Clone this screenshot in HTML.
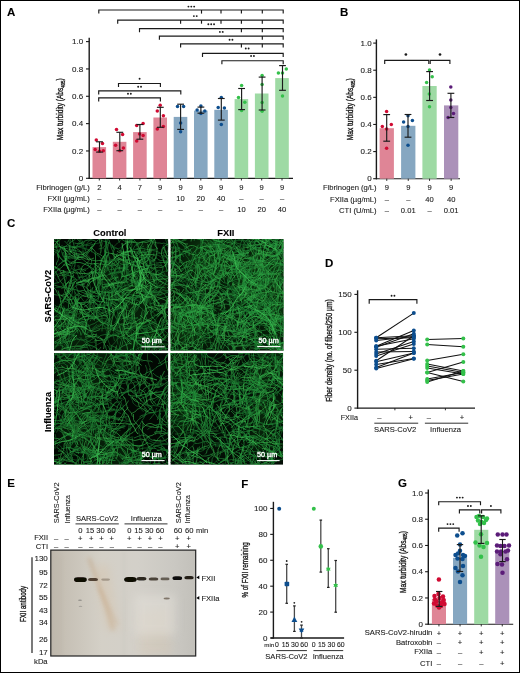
<!DOCTYPE html><html><head><meta charset="utf-8"><style>html,body{margin:0;padding:0;background:#fff;}svg{display:block;} text{font-family:"Liberation Sans", sans-serif; stroke-width:0.1px;}</style></head><body>
<div style="will-change:transform;width:520px;height:673px;">
<svg width="520" height="673" viewBox="0 0 520 673" font-family='"Liberation Sans", sans-serif'>
<rect x="0.00" y="0.00" width="520.00" height="673.00" fill="#fff" />
<text x="7.00" y="15.60" font-size="11.5" text-anchor="start" font-weight="bold" fill="#000" stroke="#000" >A</text>
<line x1="89.20" y1="37.80" x2="89.20" y2="178.90" stroke="#1a1a1a" stroke-width="1.4"/>
<line x1="86.00" y1="178.30" x2="89.20" y2="178.30" stroke="#1a1a1a" stroke-width="1.1"/>
<text x="83.20" y="180.90" font-size="8.0" text-anchor="end" fill="#1a1a1a" stroke="#1a1a1a" >0</text>
<line x1="86.00" y1="150.96" x2="89.20" y2="150.96" stroke="#1a1a1a" stroke-width="1.1"/>
<text x="83.20" y="153.56" font-size="8.0" text-anchor="end" fill="#1a1a1a" stroke="#1a1a1a" >0.2</text>
<line x1="86.00" y1="123.62" x2="89.20" y2="123.62" stroke="#1a1a1a" stroke-width="1.1"/>
<text x="83.20" y="126.22" font-size="8.0" text-anchor="end" fill="#1a1a1a" stroke="#1a1a1a" >0.4</text>
<line x1="86.00" y1="96.28" x2="89.20" y2="96.28" stroke="#1a1a1a" stroke-width="1.1"/>
<text x="83.20" y="98.88" font-size="8.0" text-anchor="end" fill="#1a1a1a" stroke="#1a1a1a" >0.6</text>
<line x1="86.00" y1="68.94" x2="89.20" y2="68.94" stroke="#1a1a1a" stroke-width="1.1"/>
<text x="83.20" y="71.54" font-size="8.0" text-anchor="end" fill="#1a1a1a" stroke="#1a1a1a" >0.8</text>
<line x1="86.00" y1="41.60" x2="89.20" y2="41.60" stroke="#1a1a1a" stroke-width="1.1"/>
<text x="83.20" y="44.20" font-size="8.0" text-anchor="end" fill="#1a1a1a" stroke="#1a1a1a" >1.0</text>
<line x1="88.50" y1="178.30" x2="293.00" y2="178.30" stroke="#1a1a1a" stroke-width="1.2"/>
<text transform="translate(63.00,109.25) rotate(-90)" font-size="8.4" text-anchor="middle" fill="#1a1a1a" stroke="#1a1a1a" textLength="61.9" lengthAdjust="spacingAndGlyphs" style="stroke-width:0.35px">Max turbidity (Abs<tspan font-size="5.6" dy="1.8">405</tspan><tspan dy="-1.8">)</tspan></text>
<rect x="92.50" y="147.10" width="13.60" height="31.20" fill="#df8596" />
<line x1="99.30" y1="178.30" x2="99.30" y2="180.50" stroke="#1a1a1a" stroke-width="0.9"/>
<rect x="112.80" y="141.80" width="13.60" height="36.50" fill="#df8596" />
<line x1="119.60" y1="178.30" x2="119.60" y2="180.50" stroke="#1a1a1a" stroke-width="0.9"/>
<rect x="133.10" y="132.10" width="13.60" height="46.20" fill="#df8596" />
<line x1="139.90" y1="178.30" x2="139.90" y2="180.50" stroke="#1a1a1a" stroke-width="0.9"/>
<rect x="153.40" y="117.50" width="13.60" height="60.80" fill="#df8596" />
<line x1="160.20" y1="178.30" x2="160.20" y2="180.50" stroke="#1a1a1a" stroke-width="0.9"/>
<rect x="173.70" y="116.90" width="13.60" height="61.40" fill="#86a7c1" />
<line x1="180.50" y1="178.30" x2="180.50" y2="180.50" stroke="#1a1a1a" stroke-width="0.9"/>
<rect x="194.00" y="110.60" width="13.60" height="67.70" fill="#86a7c1" />
<line x1="200.80" y1="178.30" x2="200.80" y2="180.50" stroke="#1a1a1a" stroke-width="0.9"/>
<rect x="214.30" y="109.80" width="13.60" height="68.50" fill="#86a7c1" />
<line x1="221.10" y1="178.30" x2="221.10" y2="180.50" stroke="#1a1a1a" stroke-width="0.9"/>
<rect x="234.60" y="99.10" width="13.60" height="79.20" fill="#9edaa4" />
<line x1="241.40" y1="178.30" x2="241.40" y2="180.50" stroke="#1a1a1a" stroke-width="0.9"/>
<rect x="254.90" y="93.50" width="13.60" height="84.80" fill="#9edaa4" />
<line x1="261.70" y1="178.30" x2="261.70" y2="180.50" stroke="#1a1a1a" stroke-width="0.9"/>
<rect x="275.20" y="78.10" width="13.60" height="100.20" fill="#9edaa4" />
<line x1="282.00" y1="178.30" x2="282.00" y2="180.50" stroke="#1a1a1a" stroke-width="0.9"/>
<circle cx="96.30" cy="140.10" r="1.75" fill="#d00a32"/>
<circle cx="102.50" cy="143.50" r="1.75" fill="#d00a32"/>
<circle cx="95.20" cy="149.40" r="1.75" fill="#d00a32"/>
<circle cx="103.30" cy="150.70" r="1.75" fill="#d00a32"/>
<circle cx="99.50" cy="151.30" r="1.75" fill="#d00a32"/>
<line x1="99.50" y1="141.80" x2="99.50" y2="152.10" stroke="#1a1a1a" stroke-width="1.15"/>
<line x1="96.10" y1="141.80" x2="102.90" y2="141.80" stroke="#1a1a1a" stroke-width="1.15"/>
<line x1="96.10" y1="152.10" x2="102.90" y2="152.10" stroke="#1a1a1a" stroke-width="1.15"/>
<circle cx="116.50" cy="129.40" r="1.75" fill="#d00a32"/>
<circle cx="122.60" cy="134.40" r="1.75" fill="#d00a32"/>
<circle cx="115.60" cy="145.30" r="1.75" fill="#d00a32"/>
<circle cx="123.40" cy="147.90" r="1.75" fill="#d00a32"/>
<circle cx="119.80" cy="150.70" r="1.75" fill="#d00a32"/>
<line x1="119.80" y1="132.30" x2="119.80" y2="150.70" stroke="#1a1a1a" stroke-width="1.15"/>
<line x1="116.40" y1="132.30" x2="123.20" y2="132.30" stroke="#1a1a1a" stroke-width="1.15"/>
<line x1="116.40" y1="150.70" x2="123.20" y2="150.70" stroke="#1a1a1a" stroke-width="1.15"/>
<circle cx="136.70" cy="125.60" r="1.75" fill="#d00a32"/>
<circle cx="143.10" cy="123.60" r="1.75" fill="#d00a32"/>
<circle cx="139.60" cy="134.00" r="1.75" fill="#d00a32"/>
<circle cx="143.10" cy="135.50" r="1.75" fill="#d00a32"/>
<circle cx="136.70" cy="140.90" r="1.75" fill="#d00a32"/>
<line x1="139.90" y1="124.50" x2="139.90" y2="139.20" stroke="#1a1a1a" stroke-width="1.15"/>
<line x1="136.50" y1="124.50" x2="143.30" y2="124.50" stroke="#1a1a1a" stroke-width="1.15"/>
<line x1="136.50" y1="139.20" x2="143.30" y2="139.20" stroke="#1a1a1a" stroke-width="1.15"/>
<circle cx="160.20" cy="105.20" r="1.75" fill="#d00a32"/>
<circle cx="157.30" cy="111.00" r="1.75" fill="#d00a32"/>
<circle cx="163.40" cy="115.80" r="1.75" fill="#d00a32"/>
<circle cx="163.40" cy="126.50" r="1.75" fill="#d00a32"/>
<circle cx="157.30" cy="129.00" r="1.75" fill="#d00a32"/>
<line x1="160.30" y1="107.30" x2="160.30" y2="127.30" stroke="#1a1a1a" stroke-width="1.15"/>
<line x1="156.90" y1="107.30" x2="163.70" y2="107.30" stroke="#1a1a1a" stroke-width="1.15"/>
<line x1="156.90" y1="127.30" x2="163.70" y2="127.30" stroke="#1a1a1a" stroke-width="1.15"/>
<circle cx="177.50" cy="106.50" r="1.75" fill="#0d4e8e"/>
<circle cx="183.60" cy="106.50" r="1.75" fill="#0d4e8e"/>
<circle cx="180.60" cy="123.00" r="1.75" fill="#0d4e8e"/>
<circle cx="180.60" cy="131.70" r="1.75" fill="#0d4e8e"/>
<line x1="180.60" y1="104.20" x2="180.60" y2="129.40" stroke="#1a1a1a" stroke-width="1.15"/>
<line x1="177.20" y1="104.20" x2="184.00" y2="104.20" stroke="#1a1a1a" stroke-width="1.15"/>
<line x1="177.20" y1="129.40" x2="184.00" y2="129.40" stroke="#1a1a1a" stroke-width="1.15"/>
<circle cx="200.90" cy="106.00" r="1.75" fill="#0d4e8e"/>
<circle cx="197.10" cy="110.00" r="1.75" fill="#0d4e8e"/>
<circle cx="204.80" cy="111.10" r="1.75" fill="#0d4e8e"/>
<circle cx="200.90" cy="113.50" r="1.75" fill="#0d4e8e"/>
<line x1="200.90" y1="107.10" x2="200.90" y2="113.20" stroke="#1a1a1a" stroke-width="1.15"/>
<line x1="197.50" y1="107.10" x2="204.30" y2="107.10" stroke="#1a1a1a" stroke-width="1.15"/>
<line x1="197.50" y1="113.20" x2="204.30" y2="113.20" stroke="#1a1a1a" stroke-width="1.15"/>
<circle cx="221.30" cy="97.50" r="1.75" fill="#0d4e8e"/>
<circle cx="218.20" cy="107.50" r="1.75" fill="#0d4e8e"/>
<circle cx="224.40" cy="107.90" r="1.75" fill="#0d4e8e"/>
<circle cx="221.30" cy="124.40" r="1.75" fill="#0d4e8e"/>
<line x1="221.30" y1="98.50" x2="221.30" y2="120.10" stroke="#1a1a1a" stroke-width="1.15"/>
<line x1="217.90" y1="98.50" x2="224.70" y2="98.50" stroke="#1a1a1a" stroke-width="1.15"/>
<line x1="217.90" y1="120.10" x2="224.70" y2="120.10" stroke="#1a1a1a" stroke-width="1.15"/>
<circle cx="241.60" cy="85.40" r="1.75" fill="#33c04a"/>
<circle cx="238.50" cy="97.50" r="1.75" fill="#33c04a"/>
<circle cx="244.80" cy="102.30" r="1.75" fill="#33c04a"/>
<circle cx="241.60" cy="110.60" r="1.75" fill="#33c04a"/>
<line x1="241.60" y1="88.50" x2="241.60" y2="109.60" stroke="#1a1a1a" stroke-width="1.15"/>
<line x1="238.20" y1="88.50" x2="245.00" y2="88.50" stroke="#1a1a1a" stroke-width="1.15"/>
<line x1="238.20" y1="109.60" x2="245.00" y2="109.60" stroke="#1a1a1a" stroke-width="1.15"/>
<circle cx="262.10" cy="75.40" r="1.75" fill="#33c04a"/>
<circle cx="262.10" cy="84.40" r="1.75" fill="#33c04a"/>
<circle cx="262.10" cy="102.50" r="1.75" fill="#33c04a"/>
<circle cx="262.10" cy="111.30" r="1.75" fill="#33c04a"/>
<line x1="262.10" y1="77.10" x2="262.10" y2="110.00" stroke="#1a1a1a" stroke-width="1.15"/>
<line x1="258.70" y1="77.10" x2="265.50" y2="77.10" stroke="#1a1a1a" stroke-width="1.15"/>
<line x1="258.70" y1="110.00" x2="265.50" y2="110.00" stroke="#1a1a1a" stroke-width="1.15"/>
<circle cx="286.30" cy="69.00" r="1.75" fill="#33c04a"/>
<circle cx="278.40" cy="72.90" r="1.75" fill="#33c04a"/>
<circle cx="282.50" cy="73.10" r="1.75" fill="#33c04a"/>
<circle cx="282.50" cy="96.00" r="1.75" fill="#33c04a"/>
<line x1="282.50" y1="65.60" x2="282.50" y2="90.30" stroke="#1a1a1a" stroke-width="1.15"/>
<line x1="279.10" y1="65.60" x2="285.90" y2="65.60" stroke="#1a1a1a" stroke-width="1.15"/>
<line x1="279.10" y1="90.30" x2="285.90" y2="90.30" stroke="#1a1a1a" stroke-width="1.15"/>
<path d="M98.80,13.60 V10.00 H283.20 V13.60" fill="none" stroke="#1a1a1a" stroke-width="1.15"/>
<line x1="201.50" y1="10.00" x2="201.50" y2="13.60" stroke="#1a1a1a" stroke-width="1.15"/>
<line x1="221.00" y1="10.00" x2="221.00" y2="13.60" stroke="#1a1a1a" stroke-width="1.15"/>
<line x1="241.40" y1="10.00" x2="241.40" y2="13.60" stroke="#1a1a1a" stroke-width="1.15"/>
<line x1="262.30" y1="10.00" x2="262.30" y2="13.60" stroke="#1a1a1a" stroke-width="1.15"/>
<circle cx="188.45" cy="6.60" r="0.95" fill="#1a1a1a"/>
<circle cx="191.30" cy="6.60" r="0.95" fill="#1a1a1a"/>
<circle cx="194.15" cy="6.60" r="0.95" fill="#1a1a1a"/>
<path d="M117.70,23.70 V20.10 H283.20 V23.70" fill="none" stroke="#1a1a1a" stroke-width="1.15"/>
<line x1="180.60" y1="20.10" x2="180.60" y2="23.70" stroke="#1a1a1a" stroke-width="1.15"/>
<line x1="201.50" y1="20.10" x2="201.50" y2="23.70" stroke="#1a1a1a" stroke-width="1.15"/>
<line x1="221.00" y1="20.10" x2="221.00" y2="23.70" stroke="#1a1a1a" stroke-width="1.15"/>
<line x1="241.40" y1="20.10" x2="241.40" y2="23.70" stroke="#1a1a1a" stroke-width="1.15"/>
<line x1="262.30" y1="20.10" x2="262.30" y2="23.70" stroke="#1a1a1a" stroke-width="1.15"/>
<circle cx="193.88" cy="16.10" r="0.95" fill="#1a1a1a"/>
<circle cx="196.72" cy="16.10" r="0.95" fill="#1a1a1a"/>
<path d="M139.50,32.20 V28.60 H283.20 V32.20" fill="none" stroke="#1a1a1a" stroke-width="1.15"/>
<line x1="241.40" y1="28.60" x2="241.40" y2="32.20" stroke="#1a1a1a" stroke-width="1.15"/>
<line x1="262.30" y1="28.60" x2="262.30" y2="32.20" stroke="#1a1a1a" stroke-width="1.15"/>
<circle cx="208.35" cy="24.30" r="0.95" fill="#1a1a1a"/>
<circle cx="211.20" cy="24.30" r="0.95" fill="#1a1a1a"/>
<circle cx="214.05" cy="24.30" r="0.95" fill="#1a1a1a"/>
<path d="M159.40,39.70 V36.10 H283.20 V39.70" fill="none" stroke="#1a1a1a" stroke-width="1.15"/>
<line x1="262.30" y1="36.10" x2="262.30" y2="39.70" stroke="#1a1a1a" stroke-width="1.15"/>
<circle cx="219.88" cy="31.90" r="0.95" fill="#1a1a1a"/>
<circle cx="222.72" cy="31.90" r="0.95" fill="#1a1a1a"/>
<path d="M180.60,47.40 V43.80 H283.20 V47.40" fill="none" stroke="#1a1a1a" stroke-width="1.15"/>
<line x1="241.40" y1="43.80" x2="241.40" y2="47.40" stroke="#1a1a1a" stroke-width="1.15"/>
<line x1="262.30" y1="43.80" x2="262.30" y2="47.40" stroke="#1a1a1a" stroke-width="1.15"/>
<circle cx="229.57" cy="39.70" r="0.95" fill="#1a1a1a"/>
<circle cx="232.42" cy="39.70" r="0.95" fill="#1a1a1a"/>
<path d="M202.50,56.90 V53.30 H283.20 V56.90" fill="none" stroke="#1a1a1a" stroke-width="1.15"/>
<circle cx="245.77" cy="48.50" r="0.95" fill="#1a1a1a"/>
<circle cx="248.62" cy="48.50" r="0.95" fill="#1a1a1a"/>
<path d="M221.90,64.30 V60.70 H283.20 V64.30" fill="none" stroke="#1a1a1a" stroke-width="1.15"/>
<circle cx="251.07" cy="56.00" r="0.95" fill="#1a1a1a"/>
<circle cx="253.92" cy="56.00" r="0.95" fill="#1a1a1a"/>
<path d="M118.50,87.10 V83.50 H160.40 V87.10" fill="none" stroke="#1a1a1a" stroke-width="1.15"/>
<circle cx="139.60" cy="78.70" r="0.95" fill="#1a1a1a"/>
<path d="M98.70,94.40 V90.80 H180.80 V94.40" fill="none" stroke="#1a1a1a" stroke-width="1.15"/>
<circle cx="138.17" cy="86.70" r="0.95" fill="#1a1a1a"/>
<circle cx="141.02" cy="86.70" r="0.95" fill="#1a1a1a"/>
<path d="M98.70,101.50 V97.90 H160.40 V101.50" fill="none" stroke="#1a1a1a" stroke-width="1.15"/>
<circle cx="127.98" cy="93.70" r="0.95" fill="#1a1a1a"/>
<circle cx="130.83" cy="93.70" r="0.95" fill="#1a1a1a"/>
<text x="89.80" y="189.60" font-size="7.6" text-anchor="end" fill="#1a1a1a" stroke="#1a1a1a" >Fibrinogen (g/L)</text>
<text x="89.80" y="201.00" font-size="7.6" text-anchor="end" fill="#1a1a1a" stroke="#1a1a1a" >FXII (µg/mL)</text>
<text x="89.80" y="212.40" font-size="7.6" text-anchor="end" fill="#1a1a1a" stroke="#1a1a1a" >FXIIa (µg/mL)</text>
<text x="99.30" y="189.60" font-size="7.6" text-anchor="middle" fill="#1a1a1a" stroke="#1a1a1a" >2</text>
<text x="99.30" y="201.00" font-size="7.6" text-anchor="middle" fill="#1a1a1a" stroke="#1a1a1a" >–</text>
<text x="99.30" y="212.40" font-size="7.6" text-anchor="middle" fill="#1a1a1a" stroke="#1a1a1a" >–</text>
<text x="119.60" y="189.60" font-size="7.6" text-anchor="middle" fill="#1a1a1a" stroke="#1a1a1a" >4</text>
<text x="119.60" y="201.00" font-size="7.6" text-anchor="middle" fill="#1a1a1a" stroke="#1a1a1a" >–</text>
<text x="119.60" y="212.40" font-size="7.6" text-anchor="middle" fill="#1a1a1a" stroke="#1a1a1a" >–</text>
<text x="139.90" y="189.60" font-size="7.6" text-anchor="middle" fill="#1a1a1a" stroke="#1a1a1a" >7</text>
<text x="139.90" y="201.00" font-size="7.6" text-anchor="middle" fill="#1a1a1a" stroke="#1a1a1a" >–</text>
<text x="139.90" y="212.40" font-size="7.6" text-anchor="middle" fill="#1a1a1a" stroke="#1a1a1a" >–</text>
<text x="160.20" y="189.60" font-size="7.6" text-anchor="middle" fill="#1a1a1a" stroke="#1a1a1a" >9</text>
<text x="160.20" y="201.00" font-size="7.6" text-anchor="middle" fill="#1a1a1a" stroke="#1a1a1a" >–</text>
<text x="160.20" y="212.40" font-size="7.6" text-anchor="middle" fill="#1a1a1a" stroke="#1a1a1a" >–</text>
<text x="180.50" y="189.60" font-size="7.6" text-anchor="middle" fill="#1a1a1a" stroke="#1a1a1a" >9</text>
<text x="180.50" y="201.00" font-size="7.6" text-anchor="middle" fill="#1a1a1a" stroke="#1a1a1a" >10</text>
<text x="180.50" y="212.40" font-size="7.6" text-anchor="middle" fill="#1a1a1a" stroke="#1a1a1a" >–</text>
<text x="200.80" y="189.60" font-size="7.6" text-anchor="middle" fill="#1a1a1a" stroke="#1a1a1a" >9</text>
<text x="200.80" y="201.00" font-size="7.6" text-anchor="middle" fill="#1a1a1a" stroke="#1a1a1a" >20</text>
<text x="200.80" y="212.40" font-size="7.6" text-anchor="middle" fill="#1a1a1a" stroke="#1a1a1a" >–</text>
<text x="221.10" y="189.60" font-size="7.6" text-anchor="middle" fill="#1a1a1a" stroke="#1a1a1a" >9</text>
<text x="221.10" y="201.00" font-size="7.6" text-anchor="middle" fill="#1a1a1a" stroke="#1a1a1a" >40</text>
<text x="221.10" y="212.40" font-size="7.6" text-anchor="middle" fill="#1a1a1a" stroke="#1a1a1a" >–</text>
<text x="241.40" y="189.60" font-size="7.6" text-anchor="middle" fill="#1a1a1a" stroke="#1a1a1a" >9</text>
<text x="241.40" y="201.00" font-size="7.6" text-anchor="middle" fill="#1a1a1a" stroke="#1a1a1a" >–</text>
<text x="241.40" y="212.40" font-size="7.6" text-anchor="middle" fill="#1a1a1a" stroke="#1a1a1a" >10</text>
<text x="261.70" y="189.60" font-size="7.6" text-anchor="middle" fill="#1a1a1a" stroke="#1a1a1a" >9</text>
<text x="261.70" y="201.00" font-size="7.6" text-anchor="middle" fill="#1a1a1a" stroke="#1a1a1a" >–</text>
<text x="261.70" y="212.40" font-size="7.6" text-anchor="middle" fill="#1a1a1a" stroke="#1a1a1a" >20</text>
<text x="282.00" y="189.60" font-size="7.6" text-anchor="middle" fill="#1a1a1a" stroke="#1a1a1a" >9</text>
<text x="282.00" y="201.00" font-size="7.6" text-anchor="middle" fill="#1a1a1a" stroke="#1a1a1a" >–</text>
<text x="282.00" y="212.40" font-size="7.6" text-anchor="middle" fill="#1a1a1a" stroke="#1a1a1a" >40</text>
<text x="340.00" y="15.60" font-size="11.5" text-anchor="start" font-weight="bold" fill="#000" stroke="#000" >B</text>
<line x1="376.40" y1="39.40" x2="376.40" y2="179.30" stroke="#1a1a1a" stroke-width="1.4"/>
<line x1="373.20" y1="178.70" x2="376.40" y2="178.70" stroke="#1a1a1a" stroke-width="1.1"/>
<text x="371.60" y="181.30" font-size="8.0" text-anchor="end" fill="#1a1a1a" stroke="#1a1a1a" >0</text>
<line x1="373.20" y1="151.58" x2="376.40" y2="151.58" stroke="#1a1a1a" stroke-width="1.1"/>
<text x="371.60" y="154.18" font-size="8.0" text-anchor="end" fill="#1a1a1a" stroke="#1a1a1a" >0.2</text>
<line x1="373.20" y1="124.46" x2="376.40" y2="124.46" stroke="#1a1a1a" stroke-width="1.1"/>
<text x="371.60" y="127.06" font-size="8.0" text-anchor="end" fill="#1a1a1a" stroke="#1a1a1a" >0.4</text>
<line x1="373.20" y1="97.34" x2="376.40" y2="97.34" stroke="#1a1a1a" stroke-width="1.1"/>
<text x="371.60" y="99.94" font-size="8.0" text-anchor="end" fill="#1a1a1a" stroke="#1a1a1a" >0.6</text>
<line x1="373.20" y1="70.22" x2="376.40" y2="70.22" stroke="#1a1a1a" stroke-width="1.1"/>
<text x="371.60" y="72.82" font-size="8.0" text-anchor="end" fill="#1a1a1a" stroke="#1a1a1a" >0.8</text>
<line x1="373.20" y1="43.10" x2="376.40" y2="43.10" stroke="#1a1a1a" stroke-width="1.1"/>
<text x="371.60" y="45.70" font-size="8.0" text-anchor="end" fill="#1a1a1a" stroke="#1a1a1a" >1.0</text>
<line x1="375.90" y1="178.70" x2="460.00" y2="178.70" stroke="#1a1a1a" stroke-width="1.1"/>
<text transform="translate(352.90,109.25) rotate(-90)" font-size="8.4" text-anchor="middle" fill="#1a1a1a" stroke="#1a1a1a" textLength="61.9" lengthAdjust="spacingAndGlyphs" style="stroke-width:0.35px">Max turbidity (Abs<tspan font-size="5.6" dy="1.8">405</tspan><tspan dy="-1.8">)</tspan></text>
<rect x="379.60" y="128.20" width="14.30" height="50.50" fill="#df8596" />
<line x1="386.75" y1="178.70" x2="386.75" y2="180.90" stroke="#1a1a1a" stroke-width="0.9"/>
<rect x="401.10" y="125.80" width="14.30" height="52.90" fill="#86a7c1" />
<line x1="408.25" y1="178.70" x2="408.25" y2="180.90" stroke="#1a1a1a" stroke-width="0.9"/>
<rect x="422.40" y="86.00" width="14.30" height="92.70" fill="#9edaa4" />
<line x1="429.55" y1="178.70" x2="429.55" y2="180.90" stroke="#1a1a1a" stroke-width="0.9"/>
<rect x="444.00" y="105.40" width="14.30" height="73.30" fill="#ab91b9" />
<line x1="451.15" y1="178.70" x2="451.15" y2="180.90" stroke="#1a1a1a" stroke-width="0.9"/>
<circle cx="386.60" cy="111.50" r="1.75" fill="#d00a32"/>
<circle cx="382.30" cy="126.50" r="1.75" fill="#d00a32"/>
<circle cx="391.30" cy="124.50" r="1.75" fill="#d00a32"/>
<circle cx="386.60" cy="129.00" r="1.75" fill="#d00a32"/>
<circle cx="386.60" cy="148.30" r="1.75" fill="#d00a32"/>
<line x1="386.70" y1="114.60" x2="386.70" y2="141.20" stroke="#1a1a1a" stroke-width="1.15"/>
<line x1="383.30" y1="114.60" x2="390.10" y2="114.60" stroke="#1a1a1a" stroke-width="1.15"/>
<line x1="383.30" y1="141.20" x2="390.10" y2="141.20" stroke="#1a1a1a" stroke-width="1.15"/>
<circle cx="408.00" cy="115.80" r="1.75" fill="#0d4e8e"/>
<circle cx="403.60" cy="122.10" r="1.75" fill="#0d4e8e"/>
<circle cx="412.40" cy="120.60" r="1.75" fill="#0d4e8e"/>
<circle cx="408.00" cy="126.50" r="1.75" fill="#0d4e8e"/>
<circle cx="408.00" cy="145.20" r="1.75" fill="#0d4e8e"/>
<line x1="408.00" y1="114.50" x2="408.00" y2="137.20" stroke="#1a1a1a" stroke-width="1.15"/>
<line x1="404.60" y1="114.50" x2="411.40" y2="114.50" stroke="#1a1a1a" stroke-width="1.15"/>
<line x1="404.60" y1="137.20" x2="411.40" y2="137.20" stroke="#1a1a1a" stroke-width="1.15"/>
<circle cx="429.50" cy="69.90" r="1.75" fill="#33c04a"/>
<circle cx="432.20" cy="76.80" r="1.75" fill="#33c04a"/>
<circle cx="426.60" cy="82.50" r="1.75" fill="#33c04a"/>
<circle cx="429.30" cy="94.00" r="1.75" fill="#33c04a"/>
<circle cx="429.50" cy="106.80" r="1.75" fill="#33c04a"/>
<line x1="429.60" y1="71.60" x2="429.60" y2="100.50" stroke="#1a1a1a" stroke-width="1.15"/>
<line x1="426.20" y1="71.60" x2="433.00" y2="71.60" stroke="#1a1a1a" stroke-width="1.15"/>
<line x1="426.20" y1="100.50" x2="433.00" y2="100.50" stroke="#1a1a1a" stroke-width="1.15"/>
<circle cx="450.80" cy="87.00" r="1.75" fill="#5b1c78"/>
<circle cx="450.80" cy="100.00" r="1.75" fill="#5b1c78"/>
<circle cx="450.80" cy="107.60" r="1.75" fill="#5b1c78"/>
<circle cx="453.50" cy="113.60" r="1.75" fill="#5b1c78"/>
<circle cx="448.10" cy="117.50" r="1.75" fill="#5b1c78"/>
<line x1="450.90" y1="93.30" x2="450.90" y2="117.50" stroke="#1a1a1a" stroke-width="1.15"/>
<line x1="447.50" y1="93.30" x2="454.30" y2="93.30" stroke="#1a1a1a" stroke-width="1.15"/>
<line x1="447.50" y1="117.50" x2="454.30" y2="117.50" stroke="#1a1a1a" stroke-width="1.15"/>
<path d="M384.70,64.00 V60.40 H428.80 V64.00" fill="none" stroke="#1a1a1a" stroke-width="1.15"/>
<path d="M430.20,64.00 V60.40 H449.90 V64.00" fill="none" stroke="#1a1a1a" stroke-width="1.15"/>
<circle cx="405.90" cy="54.50" r="1.35" fill="#1a1a1a"/>
<circle cx="440.00" cy="54.50" r="1.35" fill="#1a1a1a"/>
<text x="376.60" y="189.60" font-size="7.6" text-anchor="end" fill="#1a1a1a" stroke="#1a1a1a" >Fibrinogen (g/L)</text>
<text x="376.60" y="201.50" font-size="7.6" text-anchor="end" fill="#1a1a1a" stroke="#1a1a1a" >FXIIa (µg/mL)</text>
<text x="376.60" y="213.40" font-size="7.6" text-anchor="end" fill="#1a1a1a" stroke="#1a1a1a" >CTI (U/mL)</text>
<text x="386.75" y="189.60" font-size="7.6" text-anchor="middle" fill="#1a1a1a" stroke="#1a1a1a" >9</text>
<text x="386.75" y="201.50" font-size="7.6" text-anchor="middle" fill="#1a1a1a" stroke="#1a1a1a" >–</text>
<text x="386.75" y="213.40" font-size="7.6" text-anchor="middle" fill="#1a1a1a" stroke="#1a1a1a" >–</text>
<text x="408.25" y="189.60" font-size="7.6" text-anchor="middle" fill="#1a1a1a" stroke="#1a1a1a" >9</text>
<text x="408.25" y="201.50" font-size="7.6" text-anchor="middle" fill="#1a1a1a" stroke="#1a1a1a" >–</text>
<text x="408.25" y="213.40" font-size="7.6" text-anchor="middle" fill="#1a1a1a" stroke="#1a1a1a" >0.01</text>
<text x="429.55" y="189.60" font-size="7.6" text-anchor="middle" fill="#1a1a1a" stroke="#1a1a1a" >9</text>
<text x="429.55" y="201.50" font-size="7.6" text-anchor="middle" fill="#1a1a1a" stroke="#1a1a1a" >40</text>
<text x="429.55" y="213.40" font-size="7.6" text-anchor="middle" fill="#1a1a1a" stroke="#1a1a1a" >–</text>
<text x="451.15" y="189.60" font-size="7.6" text-anchor="middle" fill="#1a1a1a" stroke="#1a1a1a" >9</text>
<text x="451.15" y="201.50" font-size="7.6" text-anchor="middle" fill="#1a1a1a" stroke="#1a1a1a" >40</text>
<text x="451.15" y="213.40" font-size="7.6" text-anchor="middle" fill="#1a1a1a" stroke="#1a1a1a" >0.01</text>
<text x="7.00" y="226.70" font-size="11.5" text-anchor="start" font-weight="bold" fill="#000" stroke="#000" >C</text>
<text x="109.90" y="235.60" font-size="9.3" text-anchor="middle" font-weight="bold" fill="#000" stroke="#000" >Control</text>
<text x="225.80" y="235.60" font-size="9.3" text-anchor="middle" font-weight="bold" fill="#000" stroke="#000" >FXII</text>
<text transform="translate(50.70,296.10) rotate(-90)" font-size="9.3" text-anchor="middle" font-weight="bold" fill="#000" stroke="#000">SARS-CoV2</text>
<text transform="translate(50.70,411.90) rotate(-90)" font-size="9.3" text-anchor="middle" font-weight="bold" fill="#000" stroke="#000">Influenza</text>
<defs><filter id="fblur" x="-5%" y="-5%" width="110%" height="110%"><feGaussianBlur stdDeviation="0.45"/></filter><filter id="fblur3" x="-20%" y="-20%" width="140%" height="140%"><feGaussianBlur stdDeviation="5"/></filter><filter id="grain" x="0" y="0" width="100%" height="100%"><feTurbulence type="fractalNoise" baseFrequency="0.55" numOctaves="2" seed="3"/><feColorMatrix values="0 0 0 0 0.01  0 0 0 0 0.03  0 0 0 0 0.01  0 0 0 -2.2 1.25"/></filter></defs>
<clipPath id="clip1"><rect x="54" y="239" width="114.3" height="111.8"/></clipPath>
<g clip-path="url(#clip1)">
<rect x="54.00" y="239.00" width="114.30" height="111.80" fill="#020803" />
<g fill="rgb(25,100,30)" opacity="0.25" filter="url(#fblur3)"><circle cx="69" cy="334" r="23"/><circle cx="67" cy="324" r="18"/><circle cx="144" cy="249" r="11"/><circle cx="103" cy="324" r="11"/><circle cx="161" cy="282" r="14"/><circle cx="137" cy="298" r="23"/><circle cx="117" cy="278" r="22"/><circle cx="139" cy="339" r="27"/></g>
<g fill="none" filter="url(#fblur)" transform="scale(0.5)">
<path stroke="rgb(40,153,63)" stroke-opacity="0.9" stroke-width="1.4" d="M224 691l-1 6-1 5 0 5 2 5 0 5 1 6 2 5 2 5 1 5M302 529l-2-4-2-6-3-4-3-5-2-4-4-5M114 506l3 3 2 5 3 4 4 4 4 2 4 2 4 4 5 2M196 609l-5-3-5-1-5 0-5 3-3 3-5 3M308 697l4-3 4-2 3-3 2-5 0-5-1-5-1-4-2-5-3-4-2-4-4-4M305 662l-1-5-2-4-2-4-2-5-3-3-2-4-2-5 0-4 1-5 0-4M276 544l-3 3-3 3-2 3-3 3-2 3-1 4M311 526l5 0 4-1 5 0 4 0 5-1 4-1 5-1 5 0 4 1M260 559l5 2 4 2 4 2 5 2 4 3 3 4 4 4 2 4M274 577l1 4 2 3 2 4 1 4 1 4 0 4-1 3-2 4-2 3-3 3M158 612l2 4 2 5 3 3 4 3 4 3 5 2 4 3 4 3 4 3M309 590l5 0 5 0 5-2 5-1 5-2 5 1 5 2 5 3 3 3 4 4M178 547l5-1 5 0 4-1 5 1 5-1 4 0 4-2 4-4 3-4M212 513l-1-5 0-5 1-4 1-5 2-5 3-4M315 497l-4-4-2-5-4-4-4-4-3-4-4-4-4-4-4-4-3-4M224 533l3 4 2 3 0 5 1 4 0 4 1 4 1 4 3 4M176 588l4 3 4 3 3 4 4 3 5 2 5 0 5 0M188 604l-4 0-4 0-4 1-4-1-4 1-4 0-4 0-4 0-4-2-4-1M214 645l4 3 4 4 4 3 4 3 4 3 5 2 5 1 5 0 5 0 5 1M266 601l3-3 4-2 4-2 4-1 4-2 5-1 4-2M297 674l-4 2-5 1-5 0-4-1-5 0-5 0-5 0-4 2M113 616l-5 4-5 3-3 4-4 4-2 5-3 5-3 5-2 5-3 5M149 535l1-6 0-5 0-5 0-5-1-6-1-5-2-5-3-4M149 486l4 1 4 0 4 0 4-1 3-3 4-2 4-1 4 0 4 0 4 1 4 2M170 570l-5-1-5 0-6 1-4 3-4 4-3 4-4 4-3 5-3 3-5 4-3 4-5 3M96 640l-4-1-4-2-4-1-3-1-4-2-3-3-4-3-3-2-3-3-2-4-3-3M224 489l2 5 2 5-1 6 1 5 0 5 2 6 3 4 4 4M111 488l1 4 1 4 2 4 1 4-1 4 0 4 2 4M172 541l-4-1-4-2-4 0-4 1-4 1-4 2-4 1-4 2-4 1-4 2-3 2M269 483l-5 0-5 1-5-1-5-1-5-3-3-4M340 518l2-4 3-4 1-5 2-5 1-4 0-5 2-5 1-5M239 713l3-3 4-2 3-3 4-1 4-1 4-2 4 1 4 1 4 1 4 0M316 702l4-2 5-2 5 0 5-1 5-2 5-1 4-1M283 476l-4-2-4-1-5-2-4-1-4-1-5-1-3-3-4-3-3-2-4-3-3-3M240 584l3-2 3-2 4-1 4 1 5 0 3-1 5 0 4 0 4-1 4 0M332 479l-2-4-3-4-3-4-2-3-2-4-3-4M133 525l-4 3-3 4-4 4-4 2-4 4-3 4-4 3-3 3-5 2-4 2-5 1-5-1M306 545l2 5 4 4 4 3 4 4 4 3 4 3 5 2 6 2 4 3 4 3M284 574l-3-3-3-3-3-5-2-4-2-4-2-5-2-4-1-5M348 677l-2-5 0-5 0-4 1-5 2-5-1-5 0-5-2-4M279 590l-4 3-5 2-5 1-5 0-5-1-5 0M292 605l-1-5 1-4 1-4-1-5-1-4 1-4 0-5 0-4-1-4-2-4-3-3-5-1M186 488l-3 5-2 5-4 4-3 4-4 4-4 3-6 1-5 1M176 691l4 0 5 1 4 2 4 3 4 2 3 3 2 4M117 483l-5 0-5-1-6 0-5 1-5 2-3 4-3 5-3 5-2 4-1 6-3 4M207 646l4-3 3-5 1-5-2-5-2-5-1-5-3-5M145 468l0 5 0 4 0 5 2 4 1 5 0 4 2 4 2 5 1 4 1 5M221 708l2 5 3 4 3 5 1 5 0 5 1 5 1 5 0 5-2 5 0 6 1 5M186 574l-2 6 0 5-1 5-1 6-1 5 0 6-1 5-2 5-2 5M187 597l1 4 2 4 3 3 3 4 2 4 3 3 4 1M335 581l4 3 2 3 3 3 4 2 4 2 4 0M119 664l2 4 3 4 2 4 1 4 2 5 3 3 3 4 2 4 3 3M152 567l5 1 4 3 5 1 5 2 4 3 4 4 4 3 5 1 5 2M151 508l3 3 3 2 4 1 4 1 4-1 3-3 3-3 2-3 3-3 3-3 3-2M259 544l4-4 2-5 2-5 1-5 2-5 2-5 0-5 3-5 3-4M333 520l-1 4 1 4 1 4-1 4 1 4-1 4M286 523l-4-1-4-1-3-2-3-3-3-3-2-3M159 625l4 1 3 2 5 1 4 0 4 1 3 2 4 1 5 0 4-2M240 527l5 2 5 0 6 0 5-3 4-2 5-1 6-1 5-2 4-2M262 679l4 0 4 2 4 1 5-1 4 2 4 1 4 2 4 2 3 4 3 3M266 551l3-5 2-5 3-4 5-3 5-1 6-1 5-1 6 0 5-2 6 1 5 0 6 1M121 657l1-5 1-5-2-6 1-5 3-5 0-6M264 668l2 4 1 4 1 4 0 4 1 4 0 4-2 4-1 4M162 671l-1-6-2-4-4-4-4-2-5-4-4-2-4-3-3-4-2-5-3-5-1-5-2-5M240 512l5-1 4-3 4-3 4-1 5-1 5 0 5 1 5 0M313 556l-1-5 0-6-1-5-1-5-1-6-1-5-2-5M249 539l-4 3-4 2-5 0-4 2-5 0-4 1-5 2M132 622l3-4 2-3 0-5 1-4 1-4 1-4 1-4 0-4-2-4-4-3M198 538l-4 3-4 2-4 2-4 3-3 3-3 4-3 3-4 2-5 2-4 2-4 2-4 2M139 702l-3-4-2-5 0-5 2-5 2-5 0-5 1-5 0-5M134 624l6 1 5-1 5-3 3-5 2-4 0-6M294 597l-1 5 0 5-2 5 0 5-1 5 0 5-1 5 0 5M186 673l-2-4-2-5-2-4-1-5-2-5-3-3-4-3-4-1-5-1M334 631l5-1 5-2 5-3 5-1 5-3 5-2 5-3 4-4 4-4 3-4 4-4 4-3M112 624l-2-5-3-5-4-4-3-4-3-5-4-3-5-2-5-2M333 655l4-3 5-3 5-1 5-3 6 0 5-2 5-1 5-4 5-2 5-1 5-2 5-4M283 588l4 2 4 3 4 0 5 2 4 1 4 2 3 3 4 3 2 4M135 688l-2-4-2-5-1-4 0-5 0-4-1-5-1-4-1-4 1-5M113 530l0-4 3-5 1-4 0-5-1-5 2-4 2-4 1-5M225 582l0 5 0 5-1 5 1 4-1 5-3 4-1 5-2 5 0 5 1 5M243 595l-1 5-1 5 0 5 0 6 3 4 2 5 1 5 2 5 2 5 2 5 2 4 2 5M146 623l1-5 1-5 3-5 1-5-1-5 0-5M120 504l-4-2-5-2-4-2-5-1-4-2-4-3-3-3-5-2-2-4-4-3M268 589l-3 4-3 3-3 3-2 5-3 3-4 3-4 1M190 593l-4 0-4-1-4-1-4-1-4 0-4 1-3 3-4 2-3 2-3 3M302 678l4-1 3-2 4-2 3-1 4-2 3-3 2-3M225 566l-1 5-1 5 1 5-1 5 0 5 1 5 0 5M227 578l3 3 3 3 4 3 3 3 3 4 2 4M175 639l2-3 2-4 3-3 4-2 3-3 3-3 4-2M115 641l4-2 4-2 3-3 3-2 5-1 3-3 2-4 2-4 4-3 2-3 2-4 1-4M300 608l5-2 4-3 5-2 5-3 5-2 5-1 5-2 6-1 4-3 4-4 4-4M154 560l-4-3-3-3-5-1-4-2-5-1-4 0-5 0-5 1-3 3M214 672l4-4 2-4 1-6 0-5-1-5-1-5-2-5-3-4-4-4-5-3M243 556l1-4 1-5 1-4 1-4 3-3 2-3 2-4 1-4 0-5M232 708l1 5 0 4-2 5-2 5-2 4-3 3-3 4-4 3-5 1-5 0M331 576l-5-1-5-1-5 1-4 2-4 3-4 4M246 584l-1 5 0 4 1 4 0 4 1 4 0 4 0 4-1 4-2 4-3 3-3 3-2 4M210 530l5-1 5 2 4 1 5-1 4-2 3-3 4-3 3-3 4-3 3-3 2-5 1-4M131 593l-5-1-4-2-5 0-4 0-5-1-4-1-5-1-4-1-5-1-4 0M144 620l2-4 2-3 3-4 1-4 0-4 0-5M274 493l-1-5-2-5-4-4-5-2-5-2-5 1-6-1-5 1M173 584l3 4 4 2 3 4 3 4 2 4 4 3M336 671l3-5 2-4 4-3 3-4 4-3 4-3 4-3 4-2 4-4 2-5 3-4M247 503l0 4 2 4 1 4 2 4 2 4 1 4M324 586l-4-2-4 0-5 1-4 0-4 1-5-1-4 1M269 646l-2-4-2-4 1-5-1-4-2-5-2-4M110 637l2 4 2 3 2 4 2 3 2 4 2 3 3 3 2 4 0 4 1 4 0 4M291 585l5-1 4-3 4-4 5-2 6-2 5-2 4-3 4-4M166 644l-5 1-4 1-3 2-4 3-3 3-3 3-3 2-3 3-4 2-2 4M196 600l1-4 0-5-1-4-2-4-1-4 0-5 2-4 2-4 1-4 0-5 1-4 1-5M190 571l0-5 0-6 0-5-2-5-1-5-3-5-3-4-3-4-3-5-4-4-4-3-4-3M135 485l3-5 2-5 4-3 2-6 3-4 2-5 1-5 2-5 1-6 4-4M203 568l4 1 5 0 4-1 4 1 4 2 3 4 1 4 1 4 2 4 1 4 0 5 1 4M206 686l3-5 2-5 2-4 2-5 2-5 4-3 4-2 4-4 4-3M201 675l2 5 4 3 1 5 3 4 1 5 2 4 1 4-1 5-2 5M162 646l-5-1-3-3-4-2-4-2-4-3-4-2-3-2-5-2-4-1M225 713l2-5 4-4 4-4 4-3 4-3 5-3 5-2 5-2 6 1M214 588l3 4 2 4 0 4 2 4 1 5 2 4 1 4 3 4 0 5 1 4 2 4 2 4M186 600l1 5 1 5 2 4 4 3 3 4 4 3 5 3M337 509l4-1 5-3 3-4 1-5 2-4 3-4 2-5M325 666l1-5 2-5 3-4 2-5 3-4 2-4 3-4 4-3 3-5M287 710l5-2 5 2 6-1 5-1 5-2 4-4 3-4M347 599l0 4-1 4 0 4 0 4-2 4-3 3-4 2-4 0M250 530l-2 5-2 5-2 5 0 6-1 5-3 5-3 4-2 5 0 5M151 478l-4 3-5 3-4 3-4 4-4 2-5 2-5-1M237 617l-2-4-2-4-4-4-4-2-4-2-4-3M289 583l-3-3-2-3-3-3-2-4-1-4-2-3 0-4-2-4-3-3-4-1-4-1M253 501l2-5 1-5 2-5 1-5 3-5 3-4 3-4 5-2 5-1 5-3 4-3 5-2M339 567l-3-4-4-3-4-2-4-4-4-2-5-2-4-2M182 612l-1 5-2 4-1 5-1 4 0 5-1 4-2 4-1 5-1 4-2 5-2 4M263 684l-4-3-3-3-4-3-4-3-3-3-2-4-3-4M126 665l1-4 4-4 3-3 4-3 3-4 2-4 3-4 2-5M239 485l-2-5-2-5-2-5-1-6 1-5 3-5 1-5 3-5M340 595l2 5 0 5-1 5 0 6 2 4 1 6 3 4M132 552l-4 3-3 3-4 4-3 3-5 1-5 1M297 683l-2 5 0 6 1 5 0 5 0 5 0 6 3 5 0 5 1 5-1 6 1 5 2 5M285 546l4-4 4-3 3-4 2-5 2-5 4-4 4-2 5-3M329 524l5 1 4 1 5 1 4-1 5 0 4 0 5 1M333 561l-1 4-2 4-3 3-3 3-3 4-2 4-2 4-3 3M118 667l5-2 4 0 5 1 4 2 4 1 4 1 5 1 4 2M240 530l-1 6 1 5 3 5 3 5 5 3 4 3 5 4 4 3 5 2 5 2 6 1M344 532l-2-5-2-4-4-4-2-5-1-5-1-5-2-5-1-5M296 560l2 4 3 4 0 4 0 4 1 5 1 4 1 4 2 4 3 3 3 4 1 4M152 565l5 0 5 0 4-1 4-1 5-2 4-2 4-1M271 646l-2-4-3-3-2-4 0-4 0-4 1-4 0-4 2-4 2-4M186 584l5 2 5 2 5-1 5-1 5-2 5 0 5-3M184 713l3-3 3-3 3-3 3-3 3-3 3-4M156 584l4-2 4-1 4 0 4 2 4 1 4 3 3 2 3 2 5 1 4 0M201 608l-3 2-3 3-3 4-3 2-4 2-4 1-4 3-4 1M243 516l-4 3-5 2-3 3-4 3-4 2-4 3M332 705l4 3 4 3 4 4 3 4 2 4 2 4 3 4 3 4 4 4M254 582l5-1 5-1 4-1 4-2 3-3 3-4 2-4 3-4 1-5 3-3 2-4 4-3M257 549l3 4 3 2 4 2 2 3 2 3 2 4 1 4 1 4 0 4 1 4-1 4M101 530l-2-4-2-4-1-4-2-5-3-3-2-4M311 641l-4-4-3-4-2-5 0-5 1-6 1-5M291 598l-5-3-5-1-4-3-6 0-5 0-5 2-4 3-5 1M282 588l-4-4-3-4-1-4-1-5 1-5 1-4M108 538l-5 0-4 2-3 2-4 3-3 3-3 3M258 540l-5-2-5-2-6 0-5-1-5-3-4-4-5-2-6 0-5-1-6-2M328 646l4-3 4-3 4-3 4-3 3-4 2-4M274 512l3-3 2-3 1-4 0-4 0-4 3-3 2-4 1-4M154 611l-3 4-1 5-3 5-2 5-1 5-2 5M323 608l5 0 5 0 4-2 5 0 5 1 5 0 4 0 5-1"/>
<path stroke="rgb(31,130,52)" stroke-opacity="0.9" stroke-width="1.4" d="M118 630l2 4 4 3 5 1 4 2 3 3 3 4 3 3 4 3 4 2 3 4 2 4 1 4M198 551l-3 4-4 3-4 3-5 2-5 1-4-2-5-2-5 0M240 515l-4 3-4 2-5 1-4 2-5 1-4 0-5 0-4-1M158 471l4 3 5 2 6-1 5 0 6 0 5-1 5 1 5-1 6 1 5 0M141 503l3-3 4-2 3-3 4-1 4-2 4-1 3-3 3-3M243 613l4-1 5 0 4-2 4-3 3-3 4-3 3-2 4-3M156 589l1 4-1 5-1 4-3 4-2 4-3 3-4 2-4 2-4 3M190 640l-3-3-4-3-3-2-4-1-4-1-4-3-3-3-2-3-2-4-2-3-2-4-3-3M255 567l-2-5-1-5 0-5 1-6 0-5-1-5 0-5 1-5 2-5M257 534l-6 0-5 2-5 1-6 0-5 1-5 1-6 0M229 500l-1-4-3-4-3-3-3-3-4-2-5-1-4-1-4-2M293 573l-5-1-5-2-4-3-5-2-4-3-3-5-2-4M271 573l-5-1-6-1-5-1-5 1-5 3-4 3-4 3-4 4-2 5-3 5-1 5M315 623l5-3 4-4 2-4 4-4 4-3 5-1 6 1 5 0 5 0 5 0 5 1 5 3M163 519l-4 0-4-1-4-1-4-1-4 0-5 0-4 0-4 1M203 467l-3 4-1 4-2 4-3 3-3 3-3 4-2 3-2 4-1 4 1 5M268 476l-2-4-1-4-2-4-3-3-2-4-3-4M121 659l-2-3-4-3-3-2-4-2-4-1-3-3-2-3-1-4-1-4 1-4 0-4 0-4M346 601l-4 3-3 3-4 3-5 1-5 0-5 0-5 1M204 663l0-5 1-5 0-4 0-5-1-5 0-5-2-4-3-4-5-2-3-3-5-1M330 530l2 5 2 5 3 3 4 3 4 3 5 2 5 1 5 0 5-1 4-3 4-3M233 643l4 3 3 3 5 2 4 2 4 1 4 2 5 2 4 2 3 3M118 671l-5 1-5 2-4 3-4 3-5 2-3 4-4 4-4 4M250 475l-3-4-3-4-4-4-3-5-4-3-3-4-2-5 0-5-1-5-2-5-2-5-1-5M152 697l4 1 4-1 4-2 4 0 4 0 4-1M249 507l3-4 3-3 3-4 2-5 2-4 1-5 0-5 2-4M151 632l-2-3-3-3-2-3-4-2-4 0-4 1M163 610l4-2 4-2 4-2 3-3 3-3 3-3 2-4M157 657l-3 5-4 4-3 5-3 4-3 5-2 5-2 5 0 6M132 522l-5-1-4-3-3-4-3-4-3-4-5-3-3-4-3-3-3-4-4-3M289 499l1 4 3 4 3 2 3 4 3 2 4 2 3 3 3 3M304 574l-3-4-2-5-3-5-4-3-2-5-4-3-5-3-5-3M244 700l-5 0-6 0-5 0-5 2-6 0-5 1-5-2-6 1M224 545l2 4 2 3 3 4 2 4 3 3 4 2 4 1M123 497l5 0 6 0 5 2 5 1 6 1 5 1 6 2 5 0 5 1M303 510l-4 3-4 3-5 0-5-1-5 0-5 1-4-1-5 1M239 501l4 3 4 2 4 2 3 3 2 4 3 3 3 4 3 3 3 4 4 2 3 3M219 481l-1 4-1 4-1 4-1 4-1 4-1 4-2 3-2 4-3 3-3 3-2 3M100 712l2-5 2-5 4-4 4-3 3-5 2-5M245 634l5 0 5 1 5 1 6 0 5 0 5-1M143 656l-2-5-2-5 0-5 0-5-2-5-3-4-4-4-2-4-4-3-5-2-6-1-4-3M307 472l3-4 2-3 3-3 2-4 2-3 2-4 1-4 2-4 0-4M238 599l-2-4 0-4 1-4 1-4 1-3 1-4 2-4 2-4 2-2 2-4 2-4M252 635l3-5 4-4 4-2 4-4 3-4 2-5 1-6M200 593l-3 2-4 3-3 3-2 3-4 2-3 2M124 504l1 4 2 5 3 3 4 3 3 3 3 4M143 678l-3 3-3 2-4 2-4 0-4 1-4 0-4 0-4 0-4 2M193 667l-2 5-3 4-5 3-4 3-5 2-4 4-3 4-4 3-3 4-3 5-4 3M239 503l3-4 2-5 3-4 4-3 4-2 4-3 4-2 4-3 4-3 5-2 4-3 5-1M265 564l6-1 5-1 5-1 5-3 5-2 4-4 3-4 4-4 4-4 3-4 4-5M278 688l5 2 5 2 5 2 6 1 5-1 6 0 5 1M329 551l-5 1-4 2-4 1-3 3-5 1-4 0-4 1-5 0-4-1-4-3-4-2M274 496l3 3 3 4 2 4 3 3 4 2 3 2 4 3 3 2 4 2 3 3M143 591l1-4 1-5-1-4 1-4 0-5 2-4M128 644l-2 4-3 2-2 4-2 4-2 3-3 3-3 3-3 3-4 2-3 3-2 4 0 4M206 604l-5 0-5-2-4-3-4-2-5-2-4-2-5-2M314 581l-4 1-5 1-4 1-5 0-4 2-4 3-2 3-3 4M335 697l-4-1-5 0-4 0-5 0-4-1-5 1-4-1-5-1-4 0M149 597l-4 2-4 0-4 0-5 0-3-2-4-3-2-3M288 691l5 0 6 0 5-1 6-1 5-2 5-3 5-2 4-4 4-4 5-3M205 564l-3 3-3 4-3 4-4 2-2 4-2 4-3 3-3 4-4 3-2 3-4 3-3 4M252 562l1-4 0-4 2-4 1-4 0-5-1-4 0-4 0-4M140 654l-2 4-3 3-2 3-2 4-1 4-2 4-2 4-3 3-3 3-3 3M227 669l-4 1-5 0-4-1-4 0-5 1-4 1-3 3-3 3M214 646l4-3 3-4 2-4 3-4 2-5 3-4 4-4 3-3M237 519l0 5-1 6-4 4-1 6-3 4-3 5-2 5-3 5M109 686l5-1 5-2 4-3 4-4 4-4 4-2 4-4 4-3 5-2 4-3 3-4 4-4M285 539l4 2 5 1 4 2 4 2 3 3 2 5 1 4-1 5 1 5 1 4M125 578l4-5 3-4 4-3 5-2 5-4 5-1M104 667l-4-4-4-3-4-2-3-4-2-5-3-4-2-5-2-5M204 579l1-4 0-5-1-4 0-4 1-4 0-5 0-4M124 689l1 5-1 4-3 4-3 3-5 2-5 0-4 0M319 582l4 2 4 3 3 3 2 4 3 3 3 3 3 4 1 4 0 5 2 4M124 671l-2 4-3 4-2 5-2 4-3 4-4 3-4 3-5 2-4 3-4 2-5 2M235 565l-4 2-4 1-5 0-4-1-4 1-4 0M276 566l4-2 2-4 1-5 1-5 0-4-1-5-3-4-4-3-4-1-5-1M138 535l-3-3-2-4-2-3-1-4-1-5 0-4-1-4-1-4M111 708l-5-1-5 1-4 3-3 4-2 4-1 5 1 5M218 645l-4 1-4 0-4 2-4 2-3 3-4 1-4 2-3 2-4 2-3 3M244 708l-2 4-4 2-3 3-2 4-2 4 0 4-2 4-1 4-1 4 0 4 0 5M211 592l4-1 4-3 3-3 3-3 1-4 1-5 0-4 0-4M225 598l5 1 4 1 4 2 4 2 5 2 4 2 3 3M254 646l-3-3-2-4-1-5 0-4 0-5 0-4 1-5 1-4 0-5 1-4M200 639l-5 0-5-3-5 0-5 1-5 2-5 3-4 4-2 5M109 588l-4 3-3 2-4 1-3 3-3 2-3 3-4 1-4 2M152 609l-5 2-4 3-4 3-4 2-5 2-4 2-5 2-4 3-4 3-4 3-3 3M102 602l-1-5-2-4-1-5 0-5 0-5 0-5 0-4-2-5-4-4M188 670l-3-5-3-4-3-5-4-4-5-2-5-3-5-1-6-2-5 1-6 1-5 2-6 0M250 610l-3-4-3-4-2-5-2-4-3-5-3-4-2-5-3-4M194 594l3-4 4-3 4-4 2-5 3-5 4-3 5-1 6 1 5 0 5 2 5 1 5 3M248 550l1-4 1-5 3-4 1-5-1-5-1-4-1-5-2-4-3-4-4-2M161 552l-2 4-3 3-3 3-4 2-4 2-4 1M168 603l-3-4-3-4-3-4-2-5-2-4-1-5-2-5M257 657l4-3 4-2 4-3 5-1 4-2 5-1 5 1M245 541l2-4 2-5 2-5 0-5 0-5 1-5 3-4 3-4 3-4 2-5 1-5-1-5M199 673l-4-1-4 0-4 2-4-1-4 2-4 1-3 3-4 1-5 0-4-1-4-1M200 562l3-2 3-3 4-3 3-2 3-3 5-2 3-2 5-1 4 0 4 0 4 2M120 690l4 2 4 2 4 3 4 3 3 4 4 2 4 3 3 4 1 5 1 5 1 5M190 560l-4-3-3-3-4-3-4-2-4-2-3-3-4-3M295 643l-4 1-5 2-3 4-3 4-4 3-4 1M235 506l-2 5-3 5-3 4-2 5-1 5-1 5 0 5-1 5M200 601l4-4 3-4 1-5 1-4 2-5 3-4 4-3 4-4 3-3 3-5 4-3 2-5M343 572l4-3 3-2 4-2 4 0 4-1 4-3 4-1 4-2 3-2 4-1 4-3M341 559l4 3 3 2 4 3 4 1 4 2 3 3M311 677l3-3 4-2 2-3 2-4 1-4 1-4 1-4 2-4 0-4 1-4M151 653l-2-4-1-4 0-5 1-4 0-4 0-5 2-3 3-4 3-2 3-4 2-3 2-5M206 627l0-5 1-6 2-5 2-5 2-5 3-4 5-3 3-5 3-4 3-5 4-4 3-5M279 497l5 0 4 0 5 2 5 0 5 0 4 0 5-1 4-2M346 705l1 4-1 4-1 5-1 4-1 5 1 4 2 4 3 4 3 3 2 4M322 698l1-6-1-5-2-5-2-5-1-5-1-5-3-5M315 603l-3-4-2-3-2-5-3-3-4-2-4-2-4-3-2-4-3-3-4-2-4-2-5-1M169 655l4-2 6-2 4-2 6-2 4-3 5-3 3-4M219 619l0-5-2-4-1-4-2-3-1-5-1-4-1-4-1-4 1-4M269 541l0-4 2-4 2-4 4-3 3-3 3-4 1-4 3-4 3-3 3-4 4-2 4-1M256 569l3-1 4-2 3-3 3-3 3-2 3-3 2-4 2-3 1-4 2-3 3-3 3-3M280 607l-2 4-3 5-4 4-3 4-2 5-2 5-2 5-3 3-3 5-5 3M123 491l4 2 5 0 5 1 4 0 5 0 5-1 4-2 4-3 4-2 3-4M136 641l4 1 4-1 4 0 4-1 4-1 4-1 4-1 3-2M282 604l-4-1-4-3-4 0-4-2-4 1-4 1-5 0M271 678l2 4 3 3 3 3 2 4 1 5 2 4M105 654l5-1 4-1 5-1 5 2 5 0 5 1 5 0 5 2 4 1 5 3 4 2M251 662l5-2 4-3 5-1 5 0 5-1 5 1 5 1 5 0 5-1M210 624l0-5-1-5-1-5 0-6-1-5 0-5-2-5-1-5 0-5 1-6M321 506l-5-2-5-2-6-1-5 1-6 2-5 1-6 0-5 1-5 2M169 632l4 1 4 0 4-1 4 1 4 2 4 1 4 1M214 690l3 3 2 5 2 4 2 5 3 4 2 5 3 4M244 594l2 4 1 5 2 4 3 3 3 4 1 4M199 559l1 4 0 4 2 4 3 3 3 3 4 2 3 3 2 4 2 4 0 4 0 4M220 696l3 4 3 3 2 5 3 3 3 4 2 4M210 625l-4 1-4 2-3 1-4 3-3 2-4 0-4 2-4 1-4 2-4 0-4 0-4-1M241 676l2 3 2 5 0 4-2 4-2 4-1 4-1 4-4 4M114 674l3-3 3-3 4-2 4-2 4-2 4-1 3-3 4-2M180 643l2-4 3-4 1-5 2-5-1-4 0-5-1-5M118 530l3-3 3-2 4-3 3-3 4-3 3-3 5-1 4-2 4-1 5 1 4 0M262 507l1-4 3-4 2-4 2-4 4-3 4-2 4-2 5-1 4-1 5-1 4-1 5-1M248 582l0 4-1 5-1 4 0 5 2 4 3 4 2 4 4 2M143 561l1 5 1 5 1 5 2 4 2 5 3 4 4 3M176 690l-5 2-4 2-4 4-3 4-5 2-4 3-4 3-1 5-2 5-1 5-2 4-3 4M170 668l4 2 4 1 4 2 4 2 3 3 4 2M304 682l-2-4-2-4-3-3-1-4-2-4-1-5-3-3M242 505l4-2 4 0 5 0 4-1 4-2 4 0 5-1 4-1 4-2 4-2 4-2M208 496l1 4 0 4 0 5-1 4-1 4-2 4-2 4-2 3-3 3M270 536l-1 5-2 5-3 5-4 3-4 4-4 4-4 3-5 2M278 535l4 1 4 2 3 3 4 2 4 2 3 3 4 2 5 1 4-1 4-2 5 0 4 1M324 662l-3-3-4-3-4-3-3-2-4-3-4-1-4-3M149 680l-1-5-1-4-1-5-1-5 0-4 2-4 2-5 1-4 2-5 0-4 1-5 0-5M167 570l-3-3-2-4-2-4-2-5-2-4-2-4-3-4-3-3-5-2M347 631l5-3 4-3 5-2 5-2 4-3 3-4 5-2M347 652l4 4 4 4 5 3 5 1 5 4 4 3 6 2 4 3 4 4 5 3M219 568l4 2 3 3 3 3 3 3 3 4 1 4 2 4 2 4M211 482l2 4 0 5 2 4 1 5 1 4 0 5 1 5 1 4 0 5M178 625l-4-1-5-2-5-2-4-3-3-4-2-5 0-5-3-4-1-5-1-5 0-5M340 613l-4 2-5 2-4 0-5 0-4 1-5 1-4 2-4 2-3 4M221 690l4 2 4 2 4 2 3 3 3 2 4 2 4 1 4 0 4-2 5-1 3-3 4-1M345 625l2 4 3 3 2 4 1 4 2 4 3 3 3 2 4 2M311 511l2 5 3 3 5 2 5 0 5 1 4 2 5-1 5 0 5-2 5 0 4 2 5 0M273 497l4 3 4 4 2 4 3 4 3 4 3 4M286 620l-3 5 0 5-1 4-1 5-2 4-1 5 0 4-1 5 0 5-1 5 1 4 1 5M111 496l3-4 1-4 0-5 0-5-1-5-1-5-1-5-2-4-2-4M137 517l-3 2-4 3-5 1-4 3-3 3-3 4-3 3-4 3-4 1-4 3-5 1M125 499l3 3 3 3 3 3 2 4 1 4 3 3M277 653l2 3 2 4 3 3 2 3 4 3 3 2 4 2 4 1 4 0 4-2 3-2M171 502l-2-5-2-4-2-4-3-4-4-4-4-3-2-4-2-4-2-5-3-4-4-3-5-1M241 683l0 5-2 5 0 5 2 5 3 5 2 5 0 5-1 5-2 5-2 5-1 5M197 498l4-1 4-1 4-3 2-4 0-5 0-4-2-5M180 594l2 4 1 4-2 4-2 4-3 3-3 3M147 535l3 4 3 3 4 3 3 3 3 4 2 5 3 3 4 2 4 2 4 3M217 479l2 4 2 6 1 5 2 5 2 5 0 5M128 513l4 0 5 0 4 1 3 2 4 0 4 0M190 526l0 5-2 5-3 4-4 3-3 4-3 3-5 3-5 1-5 1-5-1M302 624l-3-4-2-4-2-4-4-3-4-3-2-4-2-4-4-3-4-2-4-1-4-4M126 617l5 1 3 1 3 3 4 3 3 2 4 2 3 2M264 604l4 3 6 2 4 3 4 4 4 3 4 5M127 471l-4 2-5-1-4 0-5 2-3 3-5 2-4 1-5 0-4-1M110 625l-3-4-3-3-4-3-3-2-4-2-5 0-4-1-5 1-4 3M254 466l4-2 4-1 4-2 4-1 4-2 4-2 4-1M254 686l3-3 4-3 3-3 4-4 4-2 4-2 4-2 4-1 5-2 4-1 4-2 4-3M348 585l-4-1-4-1-4-1-4-1-4-1-4-2-3-2-4-2M132 473l-5 1-5 1-5 2-5 1-4 3-5 2-5 2-5 1-4 2-5 2-5 1M205 632l4-2 4-3 5-2 4-2 4-2 5-2 5-1 4-1 5-1M333 632l-3 4-3 3-1 4-2 4 1 5 1 4 0 4 0 5 1 4 3 4 1 4M284 502l3 3 3 4 4 3 3 3 2 4 2 5 1 4 0 5 2 4M216 587l4-2 5-1 5-3 4-3 3-4 3-4 2-4 4-4 3-4 2-5M128 604l5-2 4-2 5-1 4-2 4-3 3-3 4-3M339 492l-3-3-4-1-4-2-4 1-5-1-4 0-4-1-4-1-4-2-3-3-3-3M183 520l0 5-1 4-2 4-3 3-4 2-4 0-4 2M325 624l-3 2-4 1-4 2-3 3-3 2-3 3-3 3-2 3-2 4M291 611l3-4 1-4 0-5-1-4-1-4-2-4-3-4-2-4-1-5 0-4 2-5 2-4M309 704l0-6 2-4 0-6 0-5 0-5-1-5 1-6M99 636l4-1 5-1 4-1 5 1 5-1 4-1M137 510l3-5 2-5-1-5-1-6 0-5 1-5M153 677l-3 3-4 1-4 2-5 0-4 0-4-1-5 2M272 610l-3-2-3-3-2-3-2-4-2-4-3-3-4-1-4-2-3-2-3-2M129 482l4 4 3 4 4 2 5 1 5 1 5 0 5-1 5-1 4-2 5-1 5-2 5-2"/>
<path stroke="rgb(22,103,40)" stroke-opacity="0.9" stroke-width="1.4" d="M323 592l-5-2-5-2-6 0-5-2-5-1-5-2-6-1-5-3-3-4-3-5-2-5-2-5M245 588l-3 3-4 3-5 1-4 2-3 4-2 4-4 3-5 1-4 3-4 3M130 602l4 3 4 2 5 0 4-1 5-1 4 1M240 521l-2 5-2 4-1 5-2 4-4 4-1 5-3 4-1 5M119 608l1 4 1 4 0 4-1 4 0 4 1 4 1 4 0 4M234 588l-1-6 1-5 2-5 1-5 0-6-1-5-2-5-2-5-1-5 0-6M222 608l-5 0-4 3-6 1-4 2-5 2-5 2-5 2-5 1M310 537l4 4 3 4 4 3 5 2 4 3 5 0 6 0 5-1 5-2 5 0 5 2 5-1M223 491l4 2 4 2 4 2 3 4 4 2 4 2M284 516l-3 3 0 5-2 4-2 4-2 4-1 5 0 4 0 5-1 4M294 640l-3 4-3 4-4 3-4 3-4 3-2 5-3 4-3 4-4 3-3 4-3 4-4 3M315 687l-4-4-4-4-5-2-4-4-2-5-2-5-5-3-4-4-4-3-4-4M348 602l-2 5-2 6-1 5-2 5-1 6 1 5 2 6 1 5 1 5-1 6-3 5M239 599l2-4 3-3 2-5 1-4 2-4 1-4 0-5-1-4 2-4 0-5-1-4M136 676l-4 4-4 4-4 3-5 3-5 2-6 0M328 625l-4-3-3-3-4-2-2-4-3-4-3-4M284 558l-3-4-4-3-4-3-4-2-5 0-4 1-5 2M338 622l3-3 4-4 4-3 4-2 5-1 5-1 5 1 4 1 5 1 5 2 4 3M197 588l2-4 0-5 0-5 0-5 1-4 3-5 4-3M115 651l4-5 2-5 1-5 2-5 1-6 0-5 2-6M149 537l-2 6-3 4-1 6-2 5-3 4-4 4-4 4-4 4-4 4M224 518l-3 3-2 3 0 5-2 3-3 3-3 4-2 3-1 4-1 5 0 4 1 4M286 624l0 5-2 5-2 5 0 5 0 5 2 5 3 5 2 5 3 4 2 4M229 682l-1-4-1-5-1-4 1-4 1-4 2-4 2-4 1-4 1-4 2-4 3-3 4-2M250 633l-4 3-4 3-3 3-4 2-3 3-4 3-4 2-2 4-3 3M155 641l-4-1-4-2-3-2-3-4-3-2-4-2-4 0-4-1M203 643l2 4 3 4 3 3 4 2 5 1 5 1 4-1 5-1 5-2M126 611l3 4 2 5 1 4 3 4 3 5 3 3 2 5 3 4M312 681l-4 1-5 0-5 2-4 2-4 3-4 2-5 2-4 3-4 2-3 4M244 478l-3-4-4-2-4-3-2-4-4-2-3-4-1-4-2-5-3-3-5-2M238 532l-3-2-4-1-4-2-3-2-3-4-1-4-2-3M228 493l4-4 3-3 4-3 3-4 5-2 4-3 3-4 3-3 4-3 5-3 4-2 4-3M338 542l-1-4 0-4 1-4 0-4-1-4-1-3-3-4-3-2-4-1-4-2M169 473l-1-4-1-4-1-4-3-3-1-4-2-3-3-3-1-4-2-4M133 545l-5 1-5 0-5 2-5 1-4 2-4 3-4 3-3 4-2 4 0 5-2 5-2 4M332 532l-2-4-2-4-2-4-2-3-3-4-4-2-4-1M221 630l3-5 4-3 4-3 6-2 5-1 5-1 5-2M335 488l3 5 2 5 3 4 2 5-1 5 1 5 1 5M176 468l5-1 5-1 5-2 5-2 5-1 5-1 6 0 5 0 5 1 5 2 3 4M279 610l-2 4-1 4-2 3-3 3-3 3-2 4-3 3-3 2-4 2-4 0-4 1M342 618l1 5-1 4 0 5-1 5-2 4-3 4-4 3-2 5-2 4-1 5M179 620l4-1 5-1 3-2 4-1 4-2 5-2M315 665l-4 4-2 4-1 5-2 5-2 5-3 4-3 5-1 5M217 668l4 2 4 2 5-1 4 0 5-2 3-3 4-3 2-4 4-3 4-2 4-2M311 631l-3-4-3-3-2-4-1-5 0-4-1-5-1-4-2-5-1-4 0-5-1-4-1-5M252 537l4-3 3-4 4-3 1-5 0-5 0-5 0-5-1-5-2-5M230 512l1 4 1 4 1 5 2 4 0 4 2 4 1 4 0 5M119 681l4 1 5 0 4-2 5-2 3-3 4-3 3-4 3-3 3-4M215 584l3 5 1 5 2 6 3 4 4 4 3 5M184 522l-4-4-1-4-4-4-2-4-2-5 1-5 1-5 1-4 3-4 4-3 2-4M222 694l3-4 4-4 3-4 3-4 5-3 3-4 4-4 5-3 4-3 4-3 5-3M172 559l-4-2-2-3-1-5-1-3-3-4-2-3-2-4-2-4M309 579l2-5 2-4 0-5-1-5-2-5-1-5 0-4M227 704l-4 0-4 0-4 0-4 1-4 0-4 0-4 0-4-1-4 0-4 1M236 654l-2-4-1-4-1-4 1-4 2-4 2-4 2-4-1-5 0-4-1-4-2-4-1-4M290 677l-5-2-5 0-5 0-6-2-5-1-4-3-5-3-5-2-5 0-5-1-4-3-3-5M146 542l1 5 0 5 1 5 0 6 0 5-2 5-2 4-4 4-5 2-5 2-4 3M296 600l-6-1-5-2-5-2-5-1-6 2-4 3-4 4M120 488l-4 3-4 2-5 2-5 0-5-1-5-1M219 560l-1 4-2 3-3 3-3 3-2 3-1 4-2 3-1 4 0 4 0 4 2 4 1 4M185 658l3-2 4-3 3-2 4-1 4-2 4-1 4-2 3-3 3-3M328 519l0-5-1-4 0-4-2-5 1-4 0-4 2-4M164 660l-3-3-3-3-2-4 0-4 0-4 1-4 1-4 2-4 3-3M315 653l6-1 5-1 5-3 5-2 4-3 4-4 4-3 5-2M335 598l-3 5-2 5-2 6 0 5 0 6 1 5 1 6-1 5-2 5M157 586l-4 4-4 3-4 4-2 5-1 6-1 5M260 542l-3 4-4 4-3 4-1 5-2 5-2 5-3 5M319 655l5 2 3 3 4 3 3 3 5 1 4 0 5 0 4-1 5-1 4 1 5-1 4-1M129 626l4 3 4 2 4 0 5 0 4 1 4 2 4 3 4 1 4 1 5 1 4 1M234 624l4 3 4 4 5 2 5 2 6 0 5 1 5 1 6 0 5 2 6 1M212 606l5 0 4-1 5 0 4-3 4-2 4-3 4-3 2-4M158 600l-3-3-3-3-4-1-4-1-4 1-4 2-3 2-4 2M226 576l1 6 1 5 2 5 3 5 3 4 3 5 2 5 2 5 4 4 3 5 2 5M331 622l-4 2-4 1-5 1-4 2-4 3-4 1M163 643l1 5 0 5 2 5 0 5 2 4 3 5 1 5 1 4 1 5 3 4 3 4 2 4M139 511l2-5 3-4 4-3 3-3 3-4 2-5 3-4 1-5 3-4 3-4 4-3M302 572l2-4 4-3 3-4 3-3 3-4 4-3 2-4 1-4 2-5 1-4M279 571l5 0 6 0 5 1 4 4 4 4 4 3 5 2 5 2 5 2M168 489l-1-4-3-4-1-4-2-4-3-4-1-4 0-4 0-5 1-4M312 663l2-4 4-3 2-4 3-4 3-3 3-3 4-2M190 619l1 5 4 4 1 5 2 5 4 3 3 4 2 5 3 4 2 5 2 5 1 5M297 561l-1-6-3-5-2-5-2-5 0-6-2-5M326 676l4 4 4 2 5 4 4 3 3 4 5 2 3 4 5 3 3 5 1 5 0 5 0 6M230 604l0 6 2 5 2 5 1 6-1 5 1 6-2 5-4 4M207 593l1 5 1 5-1 5-3 4-4 3-4 2-4 4-2 4-3 5-3 3M198 557l4 4 4 2 3 3 3 5 1 4 3 4 4 3 5 0M202 549l4-2 4-1 3-3 3-3 1-4 3-3 3-2 4-2 3-3M276 587l-3-5-1-5-2-5-2-5-3-5-2-5-4-4M190 609l6 0 5 1 6 0 5 0 6 0 5 1 5 3 6 2 5 1 6-2 5 1 6-1M279 654l-3 5-1 5-1 6-1 5-3 5-2 5M143 525l-4-2-5-2-4-3-3-4-2-4-1-5-2-5-1-5-2-4 0-5-1-5-3-4M204 588l-4 2-3 2-4 1-3 3-3 3-3 2-4 1-4 1-4 2-3 2-4 2M342 506l-4 0-4-2-4 0-4 2-4 1-5 0-3 1-4 2-4 2M348 531l-3 4-4 4-5 3-5 0-5 2-5 0M173 668l4-3 5-3 5-2 5-2 5-1 6 0 5 0 5-1 6 1 5-2M181 576l-1-5-1-5-2-4-2-4-2-4-3-4-2-5-3-4-3-3-3-4-2-4M277 668l-4-1-4 1-4 2-4 1-4 2-3 3-4 1-5 0-4-1-3-2-4-1M279 704l-4 3-4 3-3 5-3 4-1 5 1 5 3 5 2 5 3 3M229 604l3 3 4 1 3 3 4 2 3 3 3 2 3 2 4 1 4 1M275 714l2-5 1-5-1-5-1-5-3-4-2-4-4-4-2-4-4-3M326 632l-1 4-1 5-1 4 1 5 1 4-1 5-2 4M293 581l-6 2-5 0-5 1-5 2-5 3-6 0-5 0-6-2-5-2M319 709l-3-4-2-5-3-4-2-4-3-4-4-3-5-2-5-1-5 0-6 0-5 0M100 667l5-3 5-3 4-2 5-3 4-3 5-3 4-3 5-2 4-3 3-5 3-4 2-6M257 478l-4-4-4-2-5 0-5-1-5 1-5 1M302 649l3-3 3-3 3-3 2-4 3-3 3-3 2-4 2-4 3-4 1-4M128 688l2 3 3 3 3 3 2 4 2 3 3 3M270 560l-3 3-3 4-1 4-2 3-3 3-3 4-2 3-3 3 0 5M251 527l-3 4-1 5-2 4-3 4-5 2-3 3M168 513l-1-5-1-4 0-5 0-4-2-5-3-3-2-4-3-4M110 532l0 5-2 4 0 5 0 5 1 5 3 3 3 5M286 666l3 2 4 2 4 1 4-1 4-2 3-3 2-3 1-4 1-4 1-4-1-4 0-4M332 474l2 4 2 5 1 5 0 6-1 5-2 5M100 586l2-4 3-3 4-3 5-1 4 0 5-2 3-3 2-4 3-4 1-4 1-5 2-4M291 604l3-4 3-4 2-4 2-4 1-5 1-5 2-4 0-5M289 658l2 5 1 5 2 5 0 6 2 5 2 5 1 5 0 6 1 5 0 5 1 6 2 5M265 648l-4-2-5-2-3-5-1-5-3-4-1-5-3-5-1-4-2-5-2-5M312 643l-4 2-5 1-3 2-3 4-1 4-2 5-2 4-1 4-2 4-4 3M321 540l-5 1-5-1-5-2-5-2-5-3-5-1-4-4-5-2-5-2-5-1-6-1M97 584l-2 5-1 4 0 5-1 5-4 3-2 5-3 4M318 707l2-4 3-5 4-4 4-2 4-3 5-1M262 678l1-4 0-6-1-4 0-5 0-5-1-5 1-5 1-5 1-5 1-5-1-5 0-5M144 679l6-1 5 0 6 1 5 1 5 3 5 3 4 4 5 2 5 2M280 673l6 1 5 0 5-1 5 2 4 3 3 4 3 5 3 4M326 466l1 5 3 4 1 4 2 5 1 5 1 5M170 507l-4 2-4 4-4 3-5 3-3 5-4 4-2 4-2 6-2 4-3 5-1 5M258 550l-3-4-2-5-3-4-2-5-2-5-1-5 1-5 0-5-3-5M301 490l0 5 0 6-2 5-2 5-1 6-1 5-1 5-1 6 1 5 3 5 4 5M328 525l4 1 4 3 2 3 2 4 4 3 3 2 4 2 3 3 2 4M242 468l-6 1-4 2-5 3-5 1-5 0-5-1-5-2-5-1-5 0-5-1M329 550l-3 3-2 5-4 3-3 4-2 4 0 5-1 4M234 566l-5 1-4 1-5 2-5 2-5 0-5 2M285 525l-5 1-6 0-5-1-4-3-6-1-5-1-5-2-3-4-3-5 0-5 0-5M279 522l5 0 5 1 4-1 5-2 4-2 3-4 2-4 1-5M138 665l-4-1-4 2-4 1-4 2-4 2-4 2M345 564l5 2 5 0 5 2 6 0 5 2 4 3 5 2M100 680l-5 2-5 3-4 3-5 3-5 3-5 0-6 0-5-1-5 1-6-2M337 468l3 4 4 5 2 5 4 4 2 5 2 5 3 4M156 680l-2-4-2-3-4-2-3-3-4-2-4-1M222 494l5 1 5 2 5 0 4-1 4-4 3-4M267 542l4 0 5 0 4-1 4-2 4-1 5-1 4-1 3-4 2-4 0-4M159 473l1 5 2 5 3 4 4 3 4 1 5 0 5-2 5-1 5-1 5-1 4-2M194 648l-3 3-3 3-3 2-3 3-4 2-3 3-2 4M266 557l1 5 4 4 4 4 4 4 3 5 3 4 5 3 4 4 4 3 4 4 2 5M268 651l3 2 4 1 4 1 4 1 4 1 4 2 3 2M103 533l0-5 0-6 2-5 2-4 2-5 4-5 4-3 5-1M315 624l-4-3-4-3-3-3-3-4-2-4-2-5-1-4 1-5 1-5 0-5 1-4 1-5M340 561l-3-4-3-4-4-3-2-4-3-5 0-4-1-5-2-4-2-5M169 678l3 2 4 2 3 2 4 1 4-1 4 2M346 593l4 4 4 3 5 3 5 3 4 4 4 2 4 4 4 4 3 4 2 5M341 474l-3-3-4-3-3-4-4-3-4-3-3-3-3-4M170 633l0 4 0 4-1 5-2 3-1 4 1 5-1 4-2 4-1 4M196 601l3 4 2 4 0 5-2 5-1 4-2 5-1 4 0 5M293 495l4-4 4-3 3-4 2-5 4-3 3-4 3-4M287 594l4-3 3-4 5-2 5-2 5 0 5 1 5-1 5-2 5 1 5 2 5 1M224 643l-3-2-4-2-4-1-4-1-4 0-4 0M241 651l1 5-2 5-2 4-1 5-2 5-1 5 1 4 1 5M123 698l5-1 6 1 5 0 5-1 6 1 5 0 5-2 4-4 4-4M238 704l4 3 4 1 5 2 5-1 4 2 4 2 4 3 4 3 3 3 3 4 1 4M281 710l3 4 2 3 5 3 4 1 5 1 4 1 5 1 4 2 4 2 5 0M162 693l-4 0-4 0-4 1-3 3-3 2-2 4-1 4-2 4-2 3-3 3-3 3M159 674l4 4 4 3 3 4 3 4 1 5 3 5 3 3 3 4 4 4 5 1M298 704l4-3 4-4 2-5 1-6 4-4 4-4 5-3 4-3 4-4M207 713l5-4 4-4 3-4 1-6 0-5-2-5-2-5-3-5-1-5 1-6M238 667l-4-2-3-2-2-4-3-3-2-4-2-3-1-4-2-4"/>
<path stroke="rgb(54,175,73)" stroke-opacity="0.9" stroke-width="1.4" d="M284 569l4 1 3 3 3 3 3 2 3 3 2 3 0 4 1 4 1 4 2 4 3 3 2 4M341 706l-1 5-2 5-2 5-1 5 0 5 1 5 3 5 3 4 1 5 4 4M141 573l0-4 1-5 0-4 1-4-1-5-1-4-1-4-2-4-1-4-3-4-2-4M233 712l5 2 4 3 2 5 4 3 2 5 1 5 1 5 0 5M159 652l3 3 2 5 3 4 3 3 5 3 4 1 5-1 5-1 5 1M213 530l-5-1-5-1-4 0-5-1-5 0-5 1-4-1-5-1M237 554l-4 2-5 0-4 2-3 2-5 0-4 0-4-2-4 1-4-2M176 573l2-4 2-3 3-3 3-2 4-2 4-2 4-1M107 666l1-4 2-3 3-3 3-2 3-3 4-2 2-3 4-2 2-4 2-3 2-4M286 707l0 5-1 5 0 5 0 5-2 4-4 3-2 5-4 4-4 2-4 3M284 645l-2 4-2 3-4 2-2 4-1 4-2 4M159 547l3-5 1-5 2-5 4-3 4-3 4-3M277 517l-5-1-3-1-4-2-4-1-4-2-4-1-4 0-4-1-3-2-4-1-4-3M229 600l5-1 4-1 5-3 4-3 3-4 3-3 5-1 5-3 3-4M282 606l-5 3-5 0-6-1-4-3-5-2-5-2-5-3-4-3-4-3-5-4-4-3M299 586l4 4 4 2 4 4 2 5 3 4 1 5 2 5M120 547l4-2 4-1 5 0 4 0 5 2 4 1M203 646l-4-4-3-4-5-4-3-4-4-4-3-5-4-3-3-5-4-3-5-2-6-1-5-1M322 654l-5-3-4-3-5-2-5-4-5-1-5-1-5-3-4-3-4-4M261 699l-3 4-2 5-3 4-5 3-5 1-4 3-5 3-4 3-5 2-5 0M238 630l0 5-2 5-2 5-3 3-4 3-5 1M182 479l-2-5-3-4-3-5-4-4-2-5-3-4-4-4M243 586l4-3 4-2 4-1 5 1 4 0 5-2 4-1 4 0 5-1M201 507l1-5 0-6 1-4 1-5-1-5-2-5-3-4-3-4-4-3-5-2-5 0M263 609l2-4 0-6 1-5 1-5 2-4 4-4 5-2 4-2 5-2 5-1 5-2 5-1M241 673l5 1 4 2 3 2 3 4 3 3 3 3M209 545l-1-4 2-4 1-4 1-4 0-4 0-4 0-4 1-4 2-4M346 605l-4 3-4 2-4 3-4 2-3 4-4 2-4 4-3 3-3 4M325 544l-3 3-4 2-4 0-4 0-4-1-4-2-4-1-4 0-5 0-4 1-4-1-4 1M218 652l-4-3-4-2-5-1-4-2-3-4-3-4M129 678l3-4 2-4 2-5 1-5-1-5 0-5 1-5 2-4 3-5 3-4 3-4M275 572l5 0 4 1 4 3 4 4 2 4 4 3 4 3M277 647l-3 3-1 4 0 5 0 4 0 5 0 4-1 4 1 5 1 4 1 4M315 634l3-4 4-3 3-3 1-5-1-5-1-5M155 564l5 0 5-2 5-2 5 0 5-2 5-2 5 0 6-1 4-3 5-1M163 568l5-1 4-2 4-3 4-3 4-2 5-1 4-1 5-1 5-1 4-2 4-1M159 519l-5-2-3-3-2-4-4-3-3-3-3-4 0-5-1-5M275 581l-3-5-1-5-1-5-2-4-1-5 1-5 2-5M99 697l-4 2-3 3-4 1-4 2-4 1-4 2-4 1-5 0M249 702l-4 3-3 2-3 2-4 1-4 0-4 2-4 1-4-1-3-3-3-3-1-4M338 666l-5 4-3 4-3 4-4 4-5 1-6 1M159 597l-2 3-3 4-1 4 1 4 0 5 0 4 1 4M123 467l-5-2-5-2-5-2-3-5-2-5-3-4-3-4-5-2-4-4-3-4-3-4M123 598l-4-4-2-5-3-4-2-5-4-4-5-2-4-3M206 595l5 2 6 1 5 1 6 0 5 1 5 0 6-1 5-2 5-1 6 1M233 691l-1 5-1 6-1 5 1 6 0 5 3 6M306 634l-5 3-5 3-4 2-5 3-4 4-4 4-3 4-4 4-4 4-3 4-5 3-5 1M250 640l-1 5-2 5-1 6 0 5 1 6 2 5M310 593l0 4-1 4-1 4 1 4 1 4 3 3 2 3 2 4 4 2 3 2 4 1M177 631l-4 2-5 0-3 2-4 2-3 4-1 4-1 4-3 4-2 3-1 4-3 4M339 644l4-2 4-2 4-1 4 1 4-2 4-2M179 605l0-5 2-4 0-5-1-5 1-4 1-5M250 713l5 2 4 2 5 3 4 3 4 3 3 3 5 3 4 2 5 2 4 2 4 3M179 522l-3-3-2-4-4-2-3-3-3-2-2-4-4-3-3-3-3-2-4-1-4-1M314 542l-2 4 0 5 1 5 3 4 4 3 5 1M213 604l1 5 2 4 2 4 1 4 1 5 0 5-1 4-1 5 0 4M191 677l1 4 0 4 0 4 0 4 1 4 0 4 0 4 2 4 0 4M170 653l-5-1-4-3-4-3-4-2-5-2-3-3-4-3-5-2-4-2-5 0M261 503l2 5 4 4 4 3 4 4 4 4 4 3 4 4M211 686l-2-4-3-3-4-2-4-1-4-2-5-1-4 1-5-1-4 0-5 1M131 639l-2-4-3-3-3-3-3-3-4-3-3-2-4-2-4-1-5-2M343 524l3-4 4-3 4-2 5 0 5-2 5 1 5 1M105 677l4-3 4-2 3-3 4-2 5 0 4-2 4-1 5-1 4 1 5-1M200 493l1-4-1-4-1-4 0-4-1-4-2-4-2-3-1-4-3-3M189 543l-5 1-5 2-6 1-5 0-6 0-5-1-6 0-5-2M139 570l-1 4-1 4-1 4-2 3-1 4-2 3-2 4-2 3-1 4 0 4M130 503l2 4 1 5-1 4-1 5 1 4 1 5 2 4 1 4M215 572l4-3 6-2 5-2 5-1 6 2 5-1 5-1 6 0M211 584l-1 5-2 5-1 6-3 4-3 4-2 5-3 5-2 5-1 5-1 5-3 5M324 643l3-3 2-3 1-5 0-4-1-4 0-4 2-4 1-4 2-4 1-5 0-4 1-4M219 712l1 5-1 6-2 5-3 4-4 4-4 3-6 1-5 2M277 524l4-3 4-3 5-2 4-4 3-4 2-5 0-5-2-5-2-5M225 615l1 4 1 4-1 5 0 4-1 4-1 4-1 5 0 4-2 4M257 634l0-5 1-4 2-4 2-4 4-3 2-4 1-4 0-5M168 508l-5 1-5-1-6-1-5-2-4-2-6-1-5 0-5-3-4-3-4-4-2-4-5-3M157 510l-1 4-2 3-2 3-4 3-4 1-3 2M131 543l-4-1-4-1-3-1-3-3-4-2-4-1-4-1-4-1M175 689l-6 1-5 2-6 0-5 0-6 1-5 1-6 1-5 1-5 2-4 4-5 3-3 5M284 587l1 5 0 5 1 5 1 5 3 4 2 4 1 5 1 5 0 4M249 611l1 4 2 4 1 4 0 5 0 4 1 4 2 4M241 648l5 0 4 1 5-1 4-2 5 0 4 0 5 1M281 637l-4 3-4 3-5 2-4 3-2 4-2 5-3 4-3 4-3 3-5 3M256 671l-3-5-3-5-1-5-1-5 0-5 0-6 0-5-3-5-2-5M232 510l3 3 3 3 4 2 3 2 4 2 3 2 4 1 4 2M230 585l4-2 5-1 4-3 5-1 4-1 5-1M197 531l-3 4-2 5-1 5-1 5-1 5-3 4M319 704l3 3 4 2 3 3 3 2 4 2 4 1 5 1 4 0 4 2 3 3 2 3M288 673l2 5 1 5 0 6 0 5-1 5-1 6 0 5-1 5-1 6-2 5-2 5M141 653l2-4 2-4 2-5 0-4 1-4 2-5 0-4 0-4 0-5-1-4M275 604l-3 5-2 5-1 5-2 4-3 5-5 3-4 2-5 3-5 1M104 504l1-5 1-5 3-4 3-4 4-4 4-3 4-3 5-1 5-3 4-3M273 588l0-5 1-4 3-5 2-4 1-5 2-4 1-5-1-4-1-5-3-3M308 523l2-5 2-5 1-5 1-6 0-5-2-5-1-6-1-5-3-4-5-3-4-4-4-4M134 668l1-5 0-5-1-5-3-4-1-5-2-5-2-4-3-5-2-4-3-5-3-3-5-3M154 644l-3 4-3 4-4 4-5 2-4 3-5 2-6 1-5 1-5 2-5 2M240 674l-4-1-4-2-5-1-4 1-5 2-4 2-3 3-4 2-5 0-4 1-5 0-5 1M266 573l-2-5 0-5 0-5 1-5-1-5 1-6 0-5 0-5 1-5 1-5M156 466l2-4 3-4 1-4 4-3 4-2 3-3 4-3M235 474l4-3 5-2 4-3 2-5 0-5-1-5 0-5 2-4 3-4 3-5 2-4M340 527l1-4-1-4-2-4-2-3-3-3-2-4-1-3-2-4-1-4M145 661l-4 3-4 3-4 2-4 3-4 2-4 3-4 2-4 3-4 2-4 3M222 606l4 2 4 3 4 2 5 1 4 2 5 1M209 502l4 3 4 1 5 1 4 0 4 2 5 1 4 0 5 2 4 2 4 2M302 588l4 3 5 1 4 3 5 1 5 2 5 2 4 3 4 3 4 3M312 619l-4-1-4-1-3-2-4-2-3-3-3-3-2-4-1-4M296 695l2-3 2-5 1-4 1-4 1-5 2-4 3-3M299 531l-3 4-1 4-3 4-3 4-1 4-1 5-1 5 0 5-2 4-1 4 0 5 0 5M144 614l-3-5-3-4-2-5 0-5-3-4-2-5-2-5 1-5 1-5 3-5 4-3M178 587l-2-5-2-5 0-5 2-5 1-4 1-5 1-5-1-5M302 641l-4 1-4 1-4 3-4 1-5 0-4 0M334 575l4 0 4-2 5-1 4 0 4 1 5-1 4-1M152 514l5 1 5 0 5 1 5 2 6 1 5-1 5-2M256 527l4 0 4 2 4 1 4 2 5 0 4 1 4 1 4 1 3 3 4 3 3 3M105 589l-1 6-4 4-2 5-1 6 0 5 1 6-1 5-1 6-1 5-2 5-1 6-2 5M259 518l-5 2-5 0-5 0-5-1-5-2-4-3-3-4-4-3M328 635l-1-4-1-4-3-4-4-3-3-3-4-2-5-1-4 0-5 1-4 1-4 2M336 488l-5 3-4 3-3 4-1 6 0 5 2 5 2 5 1 5 3 5 0 5M152 561l-3 4-2 4-3 4-2 4-2 4-3 4-3 3-5 1-4 1-4 2M301 507l1-4 0-4 0-4 1-4 2-4 1-4 2-3 3-3 3-3 3-2 3-4 1-4M105 642l5-2 6-1 5-1 5 1 6-1 5-2 5 0 5-1M176 628l-5-2-3-5-2-5-3-4-3-5-4-3-3-4-3-5M329 509l2 4 3 4 1 3 3 4 3 2 4 2 4 0 4-1 4-2 3-3 3-2M96 651l0-5-1-5 0-5-1-5-2-4-1-5-4-4M290 683l-1 4 2 4 0 4 0 4 0 4 1 5 2 3 2 4M342 624l2-3 0-5 2-4 3-3 1-4 4-3 3-2 3-3 4-3M334 596l0 5-1 4-1 4-1 4-1 4 0 5 0 4 3 4 3 2M200 659l-5 2-5 2-5-1-6-1-4-2-5-2-5-2-5-2-5-1-5-3-5-2M98 494l5 0 6 0 6 0 5-1 5 2 5 3 4 4 3 4 4 4 5 3 5 1M311 568l-2-4-1-4-3-4-1-4-3-4-1-4-1-5-2-3-3-4-3-3-2-4M263 710l4 1 4 2 5 1 4 1 4 0 4 0 4 2 4 2 3 3 3 4M174 631l-4-3-5-2-4-4-4-4-2-5-3-5-2-5-2-5M300 535l6 1 5 0 6-2 5 1 5-2 5-4 3-4 2-5 2-5 3-5 4-4M249 657l5 0 5 0 4-2 4-2 5-2 4-2 4-3 3-3M210 625l4-3 5-1 5-3 4-2 5-2 5-3 3-4 3-4 3-4M206 575l4-1 4-1 4-2 4-1 4-1 4-2 4 0 4-1 3-2 4-2M221 595l3-3 4-2 4-2 4-1 4-2 3-3 3-2 4-3 3-2 4-1 4-2 4-2M146 612l0-4-2-4-2-4-3-3-3-4-2-3M201 551l1-4 3-4 1-5 2-4 2-4 1-5-1-4-1-5-2-4M205 513l-3-3-4-2-4-1-3-3-3-4-3-3-4-2M307 595l-4-2-5 1-4 1-4 2-3 4-4 2-4 2M310 510l-6-1-5 0-6 0-5 1-5 1-5 2M308 673l4 3 4 2 4 3 3 4 4 4 3 4 1 4 2 5M341 535l4-3 2-4 2-5 2-4 3-4 4-2 4-3M254 497l-1-5-1-5 0-5 0-5-1-5-1-5 0-5 2-5 3-4 2-4 4-4 5-1M285 527l5-2 4-3 3-4 2-5-1-6-2-5-1-5 2-5 3-4 2-5 2-5 3-5M254 705l4 4 2 5 1 6 0 5-2 5-1 6 0 5-2 5-1 6M284 508l-1 5 1 4 2 5 1 5 0 5 2 5 2 4 2 5 1 5 3 4M161 608l2 4 0 4 1 5 0 4 1 4 1 5M165 509l4-2 4-3 4-3 3-4 4-3 4-3 2-5M206 547l4 3 3 4 3 3 3 4 3 4 4 3 2 4 2 5M254 604l-1 5-2 5-2 4-4 3-3 3-4 4M158 586l3 3 4 2 4 2 4 0 4 1 4 2 3 3 2 3M217 522l-5 0-5 0-5-1-5 0-5 1-4-1-5-1-4-3-4-3-3-4M335 650l-1-5-2-5 0-5-1-5-1-5-3-4-3-4-2-5-3-4-2-4M110 532l2 4 4 3 3 2 3 4 3 4 1 4M165 569l1 4 2 4 2 4 2 3 2 4 1 5 2 3M346 550l-5 3-4 3-5 2-5 0-5 0-5 1-6 1-4 2-5 2-5 3-4 4M268 625l1 4 0 4 0 4 1 4 2 4 2 4 0 4 0 4 0 4-1 4-1 4-1 4M135 668l-5 1-6 0-5 0-6-1-5-2-5-2-4-3-4-4-5-2-5-3-5-2M216 648l0 4 0 5 0 4 1 4-1 5-2 4 0 4-2 4-3 4-1 4 0 4-1 4M180 561l-4 1-4 0-4 0-4 1-4 1-4 1M301 474l-2-5-3-4-4-4-1-5-2-5-1-5-1-5M339 617l-5-2-5-1-4-2-5 0-5-1-5-1-4-3M246 491l4-4 5-2 6-1 5 1 5 0 6 1 5-1 5-1 6 1 5-2 5-2M330 655l4-2 5 0 4 0 4 0 5 0 4-2 4-2M274 585l4 1 4 2 3 2 4 3 3 1 5 0 4 0M122 688l-2-5 1-6-2-5-2-5-3-5-3-4-4-4-5-2M185 637l5-1 4-1 4-2 4-1 5-1 4 1 4-1"/>
<path stroke="rgb(63,198,85)" stroke-opacity="1" stroke-width="1.5" d="M248 543l0-9 0-8-1-8-1-8 1-8-2-8-1-8M188 468l5-3 5-3 6-4 5-2 7-1 5-2M268 502l3 7 4 6 3 8 2 7 3 7 3 8 1 7 3 8 2 7M226 662l3-7 4-6 3-6 3-6 2-7 4-6 3-6M290 555l-5 6-6 7-5 5-7 6-6 5-6 6-5 6-5 7-6 6-6 6-5 6M256 471l0 7-1 7 0 7 0 7 1 7 1 7 1 7 2 7 3 6 1 7 2 7 2 7M210 606l-4-5-4-7-3-5-4-6-3-7-3-7-2-6-1-7-1-7-2-7M129 617l-3 6-2 6-2 5-3 6-4 5-3 5-4 5-3 5-5 5-5 3-5 3M188 527l6 4 5 5 3 5 2 7 3 5 4 6 4 5 4 6 3 6M301 685l5-6 4-7 3-7 1-8 3-7 3-8 3-7M135 712l2-7 3-8 2-7 2-7 4-7 6-6M275 517l0 8 3 8 2 8 4 7 4 7 6 7 7 4 7 5 7 4M96 610l6 3 4 4 5 4 5 4 5 3 5 3 5 4 5 3 5 4 4 5M289 601l-3-5-3-5-2-6-2-6-1-6 0-7 1-6 1-6 2-6 2-6 3-5M226 625l-6-4-7-4-8-2-7 0-8 1-8 1-7 2-8 1-8-1-7-2-8-3M281 608l4-6 4-6 5-5 4-6 3-6 2-7M260 494l4 8 2 7 3 8 4 7 3 8 2 7 2 9 1 8 0 8 2 8M262 502l-6 1-6 2-6 2-5 3-6 3-5 4-4 4-4 5-5 4-5 4M175 658l-5-3-6-2-6-1-6 1-6 1-6 1-5 2-6 3-5 2-6 2-6 2-6 2"/>
<path stroke="rgb(49,180,73)" stroke-opacity="1" stroke-width="1.5" d="M169 669l2-7 1-6 0-6 0-7-3-6-3-6-3-5-5-4M266 668l6-1 6 0 7 0 6-2 6 0 6-1 6-2 6-2 6-1 7-1 6-1 6-3M297 536l-6 2-7 2-7 2-6 2-7 3-6 3-7 2-7 1M267 706l0-7 0-8 2-7 3-7 2-8 2-7 3-7 5-6 3-7 2-7 4-7 4-6M128 494l2 7 1 7 1 8 0 7 1 7 3 7 3 6M198 560l0-8 0-8 2-8 1-8 2-8 4-7 5-7M328 681l-5-6-5-5-5-5-6-5-6-4-5-5"/>
<path stroke="rgb(31,135,52)" stroke-opacity="1" stroke-width="1.5" d="M183 591l-7-2-8-3-7-3-8-3-7-2-8-1-8-2-8-1-8-2-8-3-6-4M215 473l-1 8-2 8-1 9 0 8-1 8 0 8 3 8 3 8 4 7 4 7 5 7 6 5M220 639l-1-6-1-6-1-6 0-6 0-6 0-6 0-7-1-6M223 585l-7 0-7-1-7-1-6-1-7 1-7-1-7-1M110 542l4 7 3 7 4 7 5 6 4 7 5 6 5 6 5 6 5 6 6 5 7 3"/>
<path stroke="rgb(27,90,36)" stroke-opacity="1" stroke-width="1.5" d="M110 479l-6 5-7 4-7 3-8 3-7 4-8 3-7 3-8 2M310 696l-4 6-4 6-5 5-6 4-7 3-6 2-7 3-6 4-6 3-7 3-7 1M175 578l2 7 2 7 2 7 1 7 3 6 3 7 0 7-1 8-1 7M283 685l-1 8-1 7 1 7-1 8-2 7-2 7-2 7-2 7-1 8 0 7-1 7M312 693l7-3 8-2 8 0 7-1 8 0 8 0 8-2 7-1M163 675l-3 5-4 5-4 5-3 6-2 6-1 6-1 6-2 6-1 7M299 562l2-6 0-7 1-7 1-7 1-7 0-7 1-6M182 699l6-6 7-4 8-4 7-4 6-5 7-4 7-5 7-4"/>
<path stroke="rgb(22,108,40)" stroke-opacity="1" stroke-width="1.5" d="M304 661l-6-4-7-4-7-1-7-4-6-3-7-3-7-3M255 679l5-3 5-4 4-5 4-4 5-4 5-4 5-3 6-2 5-2 6-3 6-1M217 539l-5-7-4-7-5-7-5-6-7-4-7-5-7-4-8-2-8-2-8-3M279 489l-8-4-7-4-7-4-6-5-5-7-4-8-1-8-1-8 1-8 3-8 4-8M311 559l-4-6-4-6-4-6-3-6-3-7-4-5-4-7-4-5-6-5M225 662l-5-7-7-5-5-5-7-5-8-3-7-3-7-4-8-2-8-1-8 1-8 1M261 661l-8 2-8 2-8 2-8 3-8 3-6 4-6 6"/>
<path stroke="rgb(40,157,63)" stroke-opacity="1" stroke-width="1.5" d="M217 508l-3 6-1 6-2 6-3 5-3 6-2 6-1 6-1 6-1 6 0 7M288 693l-7-3-6-4-5-5-6-4-6-5-6-4M256 706l-1-7-1-6-2-6-4-6-1-6-3-6-2-6-2-6-2-7-1-6-1-7M116 581l2 6 1 6 2 7 1 7 1 6 3 6 3 7M135 585l-1-8-2-7-2-7-2-8 0-7-1-8M296 532l-4-6-3-6-1-7-4-6-3-6-4-6-2-7M147 550l-4 7-3 7-2 7 0 8-2 7-4 6-3 7-5 6-4 6-4 7-3 7M202 591l-3-6-2-7-1-8 0-7-1-7-3-7-1-7 0-8 0-7 0-7 0-8-1-7M127 530l6 0 7-2 6-2 7-1 7 0 7 2 6 3 6 3 6 4 5 4 4 5 5 5"/>
</g></g>
<clipPath id="clip2"><rect x="170.4" y="239" width="113.3" height="111.8"/></clipPath>
<g clip-path="url(#clip2)">
<rect x="170.40" y="239.00" width="113.30" height="111.80" fill="#061a08" />
<g fill="rgb(25,100,30)" opacity="0.3" filter="url(#fblur3)"><circle cx="211" cy="258" r="24"/><circle cx="284" cy="310" r="24"/><circle cx="269" cy="280" r="26"/><circle cx="283" cy="289" r="18"/><circle cx="260" cy="279" r="27"/><circle cx="189" cy="323" r="22"/></g>
<g fill="none" filter="url(#fblur)" transform="scale(0.5)">
<path stroke="rgb(31,130,52)" stroke-opacity="0.9" stroke-width="1.4" d="M493 528l-5 1-6-1-4-3-5-3-4-2-4-5-2-4-3-5-3-4-4-3M343 555l5-1 6-1 5-2 4-3 5-3 5-3M361 539l-3-3-4-2-4-2-3-3-2-4-3-4-2-4-4-3-3-3-4-2-5 0M565 647l4-3 5-1 4-2 4-1 5 0 4 0M561 694l1-3 3-3 1-4 3-4 3-2 2-3 4-3 3-1 4-1M502 642l-1 4-2 5-2 3-2 4-3 4-2 4-2 4-2 4M478 600l4-1 4-3 3-3 1-4 1-5 1-4 0-5-1-4M555 644l5-1 4-3 5-1 4-2 4-3 3-3 3-4M470 583l1-4 2-4 2-4 1-4 1-4 0-5-2-4-1-4M486 650l-6-1-5 0-5 2-4 3-5 2-5 0M403 679l-1-4-1-4-1-4-1-4 0-5 0-4M535 496l-2 3-2 4-1 4-3 4-3 3-3 3-2 4-1 5-1 4M410 544l0-5 0-5 0-5-1-5 1-6 2-5 1-5 0-5M476 592l-5 3-5 1-5 1-5 0-5 2-5 1-4 4-4 3-5 1M378 512l1-5-1-4-1-5-2-4-3-3-3-4M488 665l2-5 1-5 1-5-1-5-2-5-1-6 1-5M331 488l2-3 3-3 4-2 4-2 3-3 4-2 4-1 4-1 4-1 3-2 3-4M496 518l5 1 4 1 4 3 4 3 4 2 4 2 4 2 4 3M434 656l1 5 1 5 1 5 0 5 2 5-1 5-1 5 0 5-1 5 0 5M527 580l-3-3-2-4 0-4-1-4-2-3-1-4-1-4 0-4-1-4-2-4M513 634l0-4-1-5-1-5-1-4-2-4-3-4M446 512l-4 3-4 1-4 3-2 4-3 4-2 4-1 5-2 4-1 5-1 4-1 5M579 477l5 1 5 1 4 1 5 2 4 2 4 2 3 4 3 4 0 5M363 612l-3 4-2 5 0 5 1 5 2 5 1 4M511 631l3-3 4-3 5-1 5 0 5 2 4 3 4 2 4 2 5 2 4 3 4 3 4 1M362 534l-3-4-4-3-3-4-1-5 0-5 1-5-1-5 0-5-1-5-2-5-3-4M523 543l0 4-1 4-2 3-3 3-1 4-1 4-3 3-2 4-2 4-1 4M480 512l-1-4 0-4-1-4-2-4-3-2-4-2M389 636l-4-1-4-2-4-1-5-2-4 0-4 2-5 0-4 3-3 2M563 604l-5 1-4 1-4 1-5-1-5 0-4 1-4 1-5-1-5 0-4-1-5-1-3-3M544 600l1-5 0-5-1-4-1-5-2-4 0-5M363 594l-4 3-3 4-3 5-2 4-3 5-3 3-4 4M428 646l1-4 0-4-1-4 0-4-1-4 1-4-1-4-1-4-3-3-1-4-3-3-2-4M341 639l1 4 2 4 1 5-1 5 1 4 2 5M528 517l3-3 4-2 3-3 4-3 3-3 3-3 3-3 3-3 2-4 3-3M486 525l-5 2-5 1-5 2-5 3-5 2-5 1-5 1-5 3-5 2-4 3M371 467l3-3 5-1 4-2 5-1 4-3 2-3M365 662l3 5 2 5 1 5 0 6-1 5-1 6-1 5-2 5M353 566l4-2 2-4 3-3 4-2 4-1 4-2 4-3 3-2M375 497l-2-3-1-4-3-3-4-2-4-1-3-2-3-3M498 568l-1 5 0 4 2 4 2 4 3 3 2 4M475 644l-3-3-3-3-4-2-4-2-4-1-5 0-4 1-4 0-4-2-3-3M420 481l4 2 2 4 2 4 2 4 1 4 2 4 1 4 2 4 3 3 3 3M394 640l3 3 4 2 3 1 5 1 3 2 4 2 4 2 3 2 5 0M510 679l1 4 1 4 1 4 1 4 0 4-1 4-2 4-2 3-3 3-2 3-2 4M484 638l4-4 4-3 3-4 5-3 5-1 5-1 6-1 5 1 5-2 5 0 5 2 6 0M351 513l3 2 4 3 4 2 3 4 3 3 3 3 2 4M366 661l-1-4-1-4-2-3-2-4 0-4-2-4-1-4 1-4 1-4 2-3 3-3 4-2M572 536l-4-3-6-3-5-2-4-3-5-3-5-2M517 668l-4 3-4 3-3 3-2 4-3 4-2 3-3 4-3 3-4 2-4 3-4 2-4 2M418 708l-2 3-1 4 0 4 1 4 1 5-1 4-2 3-2 4-2 4-1 4-1 4 0 4M338 487l4-1 4-1 3-2 4-1 4 1 4-1 4 0 4-1 4-1M488 509l4 4 4 3 5 3 5 1 5 2 6 0 5 0M329 523l6 1 5 2 5 2 5 1 5 3 5 1M512 551l3 4 4 2 4 2 3 2 4 1 4 3M387 658l2 3 2 4 3 3 3 3 3 2 4 1 4 0 4 1 4 0 4 0 4 0M391 634l-2-5 0-4 1-4 1-4 1-5 3-3M574 662l-2-5 0-5-3-4-2-5-3-3-5-2-5-1-5 0-5 2-4 1-5 0-5-1M349 664l-5 1-4 3-4 3-4 2-4 4-5 1-5 1-5-1-4-2M558 634l-4 2-3 3-2 3-2 4-3 3-3 2M340 574l-4-4-4-3-4-3-4-4-4-3-5-4-5-2M405 473l4 4 4 3 3 4 2 5 1 5 1 5 2 5 3 4 4 4M457 683l-4 2-3 4-2 4-2 4-1 4-1 5 1 4-2 5-2 4-3 3-3 4-2 4M552 664l0-5-1-4-1-4-3-4-4-2-4-3-4-1-3-2-5-1-4-1-5-1-4-2M548 614l-1 4 1 5 0 5-1 5-2 5-2 4-2 5-1 5-2 4M403 684l2 5 0 5-2 5-3 4-3 4-3 5-1 5-3 4-2 5-3 5M579 619l-1-5-4-4-4-3-5-1-6-1-5 0-5-2-4-4M460 637l5 2 5 2 6 1 4 3 6 2 5 1M453 659l-2-5-2-5-1-4-3-5-4-3-4-2-4-4-3-3M539 523l-4-4-5-2-3-4-4-4-3-4-1-6-1-5M373 523l0 4 0 5 2 4 1 5 2 4 3 4 3 3 2 4 3 4M570 640l-4-1-4-1-4 0-5-1-3-2-4-1-3-3-3-3M422 597l-2 4 0 5-3 5-1 5-1 4 0 5-1 5 0 5 2 5 1 5-2 5M508 562l3-4 3-3 3-3 3-2 4-1 5 0 4-1 4 1 4 2 3 2 3 3M456 689l0 5 1 4 2 5 0 4 2 5 2 3 5 2 3 4 1 4 2 4 1 5M560 563l-1-4-1-4 1-4 1-4 1-4 1-4 3-3 3-3 3-2 4-2 4 1 4 0M461 472l5 2 6 1 5-2 5-1 4-3 5-3 3-4M477 553l-3-4-2-5-1-5 1-5 1-5 2-4 2-5 1-5 0-5M455 510l1 4 0 4-2 4 0 4-1 4-1 5-1 3-3 4-1 4 0 4M438 628l-1 5 0 5-1 5 0 5 1 5 2 5 2 4 1 5 1 5M346 466l4 0 5 1 4 0 5 0 5 1 4 1 4 2 5 0 4 1M450 565l-1-4-2-4-4-3-3-3-3-3-4-2-4-3-5-2M418 614l-4 1-4 0-4-1-4-1-4 1-4 3-2 3M519 647l4-3 3-2 5-2 4 0 4 1 4 2 3 3 4 3 4 1 4 2 4 1M424 560l-3 4-3 4-3 3-2 5-4 3-4 2-3 4-4 3-2 4-1 5 1 5M534 617l0 5-1 5 0 5 0 5 0 5 0 5 0 5M499 518l4 1 4 1 5 0 4 1 4 0 4 2 4 1 4 2M535 606l-5 2-5 2-5 2-5 1-5 0-6 1-5 1-5 1-5-1M502 692l-2 4-1 5 0 5 2 5 3 3 2 5 3 4M448 582l-1 4-3 4-2 3-2 4-2 4-3 3-1 4-4 3M429 698l-4 3-5 2-5-1-4-1-5-1-5 0M519 607l-4-2-5 0-5 0-5 0-4 2-4 3-2 5-4 3-5 1-3 4M461 649l-4 1-4 3-3 3-5 1-4 1-5 0-4 2-4 0-5 1-4-1M575 693l3-3 3-4 2-4 1-4 0-5 2-4 0-5 0-4M392 626l-2 4-3 3-3 4-2 5 1 5 2 4 0 5 3 4 3 3M334 600l-2-5-1-5 1-6 0-5-1-6-2-5M502 646l-5 0-6-1-4-4-5-1-5-2-5-2-5-2-5-3-6 0-5 1-5 2M570 548l1 5-1 5 0 4 0 5 1 5 3 4 4 4 4 2 2 5 3 4 4 3 3 4M396 706l-2 5 0 6 0 5 3 5 2 6 0 5 0 6M538 496l1-5 0-4 0-5-2-4-2-4-2-3-3-4-4-2-4-1-5 1M432 621l-5-2-3-4-3-4-2-4-2-5-3-4-3-4-1-5-3-4-4-3-4-4-3-3M465 683l2 5 2 5 2 5 3 5 2 5 1 5 2 5 3 5M487 571l-5 2-4 3-5 4-3 4-5 2-5 1-6 0-5 0M443 494l1-4 0-5 0-4 1-4 1-4 2-3 2-4 1-4 2-3 3-4M353 511l-4-2-4-4-4-3-3-4-3-5-3-4-2-5 0-6 2-4 1-6 0-5 1-5M439 649l3-4 2-3 1-5 0-4 2-5 2-4 1-4M424 541l1 4 2 4 3 4 3 2 4 2 4 2 3 3 3 3 4 1 5 1 3 3M514 521l-1 4 2 5 2 4-1 4 0 5-1 4M507 525l1-5 2-5 2-4 3-4 3-4 3-5M417 703l3-4 2-4 0-5-1-4-1-5-1-5 0-5-2-4-2-4 0-5-2-5M412 698l5-1 6 0 5 1 5 3 5 2 6 0 6-1 5-1M511 583l-2 4-2 3-2 4-4 2-3 2-5 2M372 574l1-4 3-5 1-5 2-4 1-5 2-4 2-5M487 500l-4-3-2-4 0-4 1-4 2-4 1-4 3-4 1-4 1-4 1-5M542 630l-2-4-2-4-2-5 0-5 2-4 2-4 3-3 4-4 3-3M480 611l2 4 4 4 4 3 5 2 5 0 5 2M533 656l-2-5-2-5-3-4-3-4-1-5-1-5M393 476l-5 0-5-1-5 1-6-1-5-2-5-2-5 0-6 0M579 593l-4 3-2 3-3 4-2 3 0 5 1 4 1 4 3 3 2 4 1 4M542 710l5-1 3-2 4-1 4-2 4 1 4 1 3 2 4 2 4 1 4 1M561 557l-4 1-5 0-4 1-4 0-4 0-5 1-4 0-4 1M561 556l-5 0-5 1-5 3-3 4-4 3-4 3M453 654l-5 3-4 2-5 2-5 3-5 1-5-1-6 1-5 1-5 1-5-1-5 1-5 3M442 479l0-6-2-5 0-5 0-5 0-5 1-6-2-5-4-4M516 599l-4 0-4-1-4 0-4 1-4 1-4 2-4 1-3 2M474 612l2 4 2 5 1 4 1 5-1 5-1 4-2 5-1 4 0 5 1 5 3 4M482 482l4-3 3-2 3-2 3-3 4-3 3-2 3-2 4-1 4-2 4-2 3-2 3-3M425 687l-3 5-3 4-3 3-3 4-3 4-4 4-3 4-1 5 0 5-1 5M517 691l-2 5-1 4-3 3-4 2-3 4-3 3M518 628l-5-2-4-1-4-2-4-3-3-3-2-4-1-5 0-5 1-4 1-5M498 563l-1-4 0-4 0-4 1-5 1-4 2-4 2-4 2-4 2-3 3-3M458 574l3 4 3 3 2 4 3 3 1 5 0 4M574 468l5 2 4 3 3 4 3 4 1 5 3 4M343 649l0 5 0 6 0 5-2 5 0 6 1 5 1 6 0 5 2 5 1 5-1 6M573 658l-2-5-3-4-4-3-2-4-1-5-3-4M438 594l3-4 4-2 5-2 4-2 4-3 3-4 2-4 2-4 2-4M473 577l1 4 3 4 2 4 4 3 3 3 3 4 2 4M518 602l-5 1-4 3-4 4-4 3-5 3-4 4-5 2-5 3-5 0-5 0M564 530l-2-5-2-4-3-5-4-3-3-2-4-3-4-4M471 524l0 5 2 5 1 5 1 6 2 5 2 4 4 4 4 4 2 5 0 5 1 5M577 667l0-4 0-5-2-4-1-4 0-4 1-4 0-4-1-4 0-5M498 506l-3-3-4-2-4 0-4 1-4 0-4 0-4 2-3 1-4 2M333 492l4 2 5 1 5 1 5 0 5 0 4 2 5 2 5 1 5 0 5 1M511 593l4-2 4-3 3-4 3-4 3-3 4-4 2-3 4-4 4-2 5-1 5-1 4-2M348 599l-4 3-5 0-4-1-5-1-4-1-5-1-4-3-5 0-4 1M415 473l5-2 4-3 4-3 4-3 3-3 4-3 5-2 3-3 3-5 4-3M330 608l-1-5-1-5 1-5 2-5 3-4 3-4 2-4 4-4 2-5 3-4M358 527l1-5 0-5 0-5 0-5 0-5-1-5-2-4-1-5-2-4-3-4M452 554l-3-3-4 0-4-1-4 0-5 1-4-1-3-3-3-2-4-1M474 467l-1-5 0-5 0-6-1-5-2-5-1-5 0-6-1-5M495 674l-1 4-2 3-1 4-2 4-2 3-1 4-1 4M550 516l-1 4 0 4-1 5-1 4-3 3-3 4-3 3M423 530l1 4 1 4 0 4 1 4 1 4 1 4 0 4 0 4M570 607l-3-4-2-4-3-4-1-4-1-4-2-4-3-3-2-4 0-5-2-4-3-4M515 709l-2-5-2-5-1-5 0-5-1-5 0-6 0-5 2-5 3-4 3-5 2-4 1-5M541 713l4 3 4 1 5-1 5 0 4 0 5-1M388 482l2-5 3-4 3-4 2-5 3-3 4-3 3-4 2-5M487 663l0 5-2 4-2 4-4 3-3 3-5 2M489 491l4 1 5 0 5-1 4-2 3-4 3-3 4-2 3-4 4-3 4-1 5-2 4-3M526 511l-3-4 0-5-1-5-1-5-2-4-3-4-1-5M440 518l0-5 0-4 1-4 3-4 2-4 3-3 4-3M544 473l2 4 3 3 2 4 1 4 2 5 2 4 3 3 3 3 5 2 4 0 5 2 4 0M573 542l5-1 6-2 4-3 5-3 4-3 4-3 5-1 5-4 4-3M465 652l4-2 4-2 5-1 4 0 5-1 4-1 5 0 4 3M480 610l-3 3-4 2-4 3-2 3-1 4-1 5 1 4M452 542l3 4 4 3 3 4 2 4 1 5 2 5 1 4 1 5-1 5 0 5 0 5M520 604l4 4 4 3 5 2 3 3 4 3 4 3M443 661l5-1 5 0 6 2 4 2 3 5 5 2 5 1 6 1 5 1 5 2M556 648l2 5 3 4 2 5 1 5 3 5 4 4M500 662l-5 0-5-2-6-2-5 0-5-2-5-2-4-4-5-3-4-3-5-2M538 503l-3-3-3-3-1-4 0-5-2-3-2-4-2-4M407 595l3 3 1 5 3 3 1 5 3 3 2 4 2 4 4 3 2 4 2 4 3 4M524 521l3 4 4 3 2 5 3 4 4 4 3 4 3 4 1 5 3 5 2 4 2 5 1 5M410 526l-3 2-4 3-4 1-5 2-4 2-4 2-4 3-4 1M531 476l3 4 4 3 3 4 1 4 3 4 3 4 2 4M448 472l5 1 4 1 4 3 3 3 4 3 4 2 4 2 4 1M540 504l5 0 4 1 4 3 4 1 5 2 3 3M483 513l0-4 0-5 2-4 1-5 0-4 2-4 3-4 3-3 3-4 4-2 5-1 4-3M548 524l4 1 5 2 5 1 5 0 5-1 5-1 4-1 5-3 3-4M380 499l2 4 3 4 1 4 2 3 2 4 2 4 2 4 1 4 0 4-1 4M488 592l5 3 5 2 4 3 4 5 4 2 5 3 4 3 5 3 4 3 5 3 4 3M478 544l2-5 4-3 4-2 5 0 5-1 5 0 5 2 5 1M373 608l-1-5-2-4-3-4-4-3-2-4-2-5-1-5M523 505l4 3 5 1 5 3 6 1 5-1 5-2 4-4 3-5 4-3 5-2 6 0M505 578l-4-1-4-1-4-2-4-1-4-1-4 1-3 2-4 1-4 0-5 0M478 548l5 2 3 4 3 4 2 5 0 5 0 5 0 5 1 5 4 4 2 5 2 4 1 5M332 502l-4 2-4 3-2 4-1 5 0 4 0 5-1 4-1 5-1 5-1 4-3 4-2 4M539 691l-2-4-2-4-3-3-3-1-4 0-4 0-4-1-4-2-4-2-3-1M329 487l0-5 1-4 1-4 1-4 1-4 2-3M526 551l-1 4-1 4 0 5-1 4-2 4-2 4-3 3M574 495l-3-5-3-4-4-4-5-2-5-2-5-1-6-1-5-2M492 543l1 5 0 5-1 4-2 4-1 5 1 5M565 512l-2-5-3-4-4-3-4-2-4-3-4-3-2-4-4-2M548 581l-3 4-2 4-3 5-3 4-4 3-3 4-5 2M564 488l3 4 2 5 2 4 3 4 3 4 3 4M489 627l-2-3-2-4-2-3-2-4-3-3-4-2M579 647l2 4 3 4 4 4 4 2 3 4 2 4 3 4 3 3 4 3 4 2 4 4M568 648l-4 3-3 5-4 4-4 3-5 3-6 1-5 3-5 0-6 0M522 690l-4-1-3-3-4-1-4-1-4 0-4 1-4 2-3 3-4 2M496 486l5 2 4 5 2 4 1 6 0 5-2 5-2 5M457 599l-1-5-1-5 1-5-1-5 1-5-1-5 0-5 1-5 4-4 4-3M543 681l5 1 5 1 5 1 5 1 5 2 5 0 5 1 5-1M497 482l-2 5 0 4 0 4 1 4 0 5-1 4 1 4M539 632l0-5 1-5-1-6 0-5 0-5 1-5 1-5M448 652l-1 4-3 3-1 3-2 4-1 4-2 4-1 4-1 4 0 4M483 522l-4-1-5-2-3-3-4-3-1-5-1-4-2-5-3-3-4-2M345 669l0 5-2 4-1 4-3 4-1 4-2 5M507 649l0 4 0 5 1 4 0 5 2 4 1 5 1 4 1 5 0 4 2 4 3 4M335 488l-4-2-4-2-3-3-3-3-4-3-4-2-3-3-3-3-2-4M406 659l-4 2-5 2-4 3-4 2-5 3-3 3-5 3-4 3-3 3-4 3M376 531l2-3 3-4 2-4 2-4 1-4 1-5 2-4M502 628l5 0 6 1 5-1 6-1 5 1 6 0 5-3 4-3 3-5M433 588l-2 3-2 4-2 3 0 4 0 4 0 5-1 4-2 3-2 3-2 4M505 545l-4 3-5 0-5 3-5 2-4 3-4 2-6 1-4 1-5 3-5 0M357 586l4 3 5 1 4 1 5 2 3 3 4 2M375 672l0 5 3 5 3 5 4 3 4 4 4 5 3 4 4 4 4 4 4 3M555 522l1-4 1-4 2-4 1-5 2-4 2-3 1-4 0-5 0-4 0-5 1-4M481 629l4-2 3-2 3-4 2-3 4-3 4-2 4-2 3-2M551 483l-1-4-1-5-1-4-3-3-3-3-3-3M485 652l4 0 4 0 4 0 4-1 3-2 4 0 4 1 4 0 4 1M473 547l5-1 4-3 4-2 5-2 4 0 5-1 4-2 4-3 5-2M457 516l3 5 4 4 5 2 5 0 5 3 4 4 3 4 4 4M400 495l5 1 6 2 4 3 5 3 5 3 4 3M540 484l-4 1-4 1-5-1-4-1-4-2-5 1-4 0-4 1-5 0M332 624l5-1 5-1 5 0 5 0 5-1 5-2M478 667l-5 1-4 4-3 4-1 5-1 5 0 5 1 5 3 5 4 3 2 5 2 5 2 4M538 654l-5-2-5-1-4-1-5-3-5 0-5-2-5-2-5-2-3-4-5-2M525 641l-5 1-5-1-5-2-4-3-4-4-2-5-3-4-5-3-4-2M473 526l4 3 4 2 3 3 4 3 3 3 3 4M398 489l-3 3-2 4-1 4-1 4 1 5 2 3 4 3 4 1 4 1M547 546l-4-3-4-3-3-3-1-5-3-4-4-3M529 678l3 2 3 3 2 4 1 4 1 3 2 4 2 4 3 2 4 2 4 0 4 0 4 0M463 605l4 1 4 2 4 1 4 2 4 3 3 3 4 2 5 1 3 2 5 2 4 1M415 616l1 5 3 5 4 3 3 4 5 3 4 1 6 0M422 634l-4 3-5 1-4 0-5 0-4-2-5 1-5 0-4-1-4-1-4-3M346 565l-1 4 0 5-2 5-3 4-4 2-5 1-5 0-5-1-5-1-5-1-4-3-5 0M579 506l0 5 2 4 1 5 2 5 2 4 4 3 4 3 4 2 4 3M421 584l1-5 1-4 0-5 2-4-1-5 0-5-2-4-2-5 0-4 1-5 2-5M408 660l4-3 3-3 4-3 4-3 4-3 4-2 4-3 4-1M451 616l-4 4-3 4-2 4-3 5-2 5-2 4-1 5-2 5 0 5 0 5M516 708l-1 4-1 5 1 5 1 4 0 5-3 4-1 4M569 667l-2-4-1-6 0-5 2-5 0-5 3-5 3-4 1-5M358 546l3-3 4-3 4-3 3-2 4-3 3-3 4-3 3-3 2-4M428 574l-3 3-4 1-5 0-4-1-4-1-5 0-4-1-4-1-4-2-3-3-4-2-3-3M417 508l1-5 3-4 4-2 4-3 4-1 5 0 4 1 5-1 5 0 4-1 5 1M521 575l-2-4-4-3-4-2-4-2-4-2-3-4-4-3-4-1-5 0-4 0-4-2-5 0M506 642l-5 1-4 4-2 4-4 4-2 5-3 4-3 4-3 4-2 5M350 577l-1-5-1-5 0-6 0-5-1-5-1-5-3-4-2-5M579 657l5 0 6 1 5 0 6-1 5 0 5 0 6-1 4-2 5-2M395 702l1 6-1 5 1 5 0 6-2 5 0 5-1 6-3 4-2 5M528 471l-4 3-5 2-5 0-5 0-5 1-5 1-4 2-4 4M447 481l-6 1-5 1-5 2-5 1-6 0-5 1M509 689l2 5 1 4 3 3 3 3 4 3 5 1 4 1 4 2 4 2 5 1 4 2M369 601l4-2 4-1 4-1 3-3 4-3 4-1 5 1 4 0 4 1"/>
<path stroke="rgb(22,103,40)" stroke-opacity="0.9" stroke-width="1.4" d="M549 619l-6-1-6 0-5 0-6-1-5-2-5 0-6 0-5 1M525 551l2-4 1-4 0-4 2-4 2-4 3-2 3-4 1-4 3-3 3-2 3-3M393 571l5-1 4-2 4-2 3-4 1-4 2-4M422 471l3 3 2 4 0 4 3 4 1 4 2 4 1 4 0 4M348 653l-5-1-5 0-5-2-5 0-5 1-5 0-5 1-5 2-5 2M428 505l-4-3-4-4-3-4-4-3-4-3-3-4-4-3-4-3-5-1-6 1-4-1M473 502l4 2 4 1 5 0 4-2 4-2 5-1 4-2 5-1 4-1 4-2M429 670l4-3 5-1 5 0 4 1 4 2 4 4 2 4 0 5 2 4 0 5M497 489l-4-5-4-2-5-2-6 1-5 0-5 0M458 491l-5 1-4 1-5 1-5 1-4 3-2 4-3 4-2 5 0 4 1 5 2 4 3 4M531 688l3-1 4-1 4-1 4 1 4 0 4-1M502 591l-4 4-2 5-3 4-4 3-5 2-5 1-5 2M531 684l4 0 4 0 4 2 4 3 2 4 3 3M378 603l4-1 4-1 4-2 4-1 4-1 4-1 4-2 4-1 4-2 4 0 4-2M388 579l4 1 4 0 4-2 4 0 4-1 4-2 3-2M422 492l-1 6 0 5-3 5 0 6 1 5 0 6 1 5M535 590l-1 4-3 4-2 3-4 3-2 3-2 4-2 4-3 2M520 480l5 0 5-1 5 2 4 2 4 3 4 2 3 5 1 4 0 5 1 5M539 485l-5-1-5 0-5 2-5 3-5 2-3 4-3 4-2 5-2 5-3 5-4 3-2 5M508 601l1 4 0 5 1 5-1 5-1 5-2 4-1 5M381 674l2 4 2 4 3 4 3 3 3 3 4 3M349 643l-3-3-4-1-4-2-4-1-4-1-4 0-4-2-3-3M556 664l3 2 4 1 4 1 3 2 4 2 4 2 3 2 2 4 2 3 2 3M346 578l-4-1-5 0-5 0-4 0-5 1-5 1-4-1-5-2-5 0-4-1-5-1-3-3M410 610l0-5 1-5 1-5 2-5 3-4 3-5 1-5 0-5-2-5-2-5M406 482l1-5 1-5-2-5-1-5-3-4-2-5-1-5 2-5 2-5M466 633l-1 4-2 5-4 3-4 2-4 3-4 3-4 1-4 3-4 2-5 0-4 2-4 3M575 622l-1 4 1 5 2 4 0 4-1 5-2 4-2 3-2 5M342 528l3-3 2-4 4-3 4-2 2-4 3-4 4-2 3-3 2-4 1-5M500 581l-4-3-3-4-4-3-2-5-2-5-1-5 0-5-1-5 0-6-1-5M557 656l-3-2-3-4-4-3-2-3-2-4-1-5M332 638l-3-4-2-4 0-5-2-5-1-5-1-5-1-5-3-4-2-4-1-5 0-5M471 648l3 5 2 5 1 5-1 6 1 5 0 6-1 5-1 5M469 634l-4-3-4-2-4-3-3-4-5-2-3-4-4-3-3-4M558 523l-3 3-3 4-2 4-3 4-1 5-4 3M579 509l-4-3-3-5-3-4-4-4-4-3-5-2-4-2-4-4-5-2-3-4-4-4-5-3M374 614l1-5 3-4 1-5 3-4 3-4 3-3 4-3 3-3M424 626l-3 4-3 4-2 4-1 5 0 5 0 5 1 5 0 5M435 494l4 2 3 4 5 2 4 3 4 1 5 0 5-1 4-1 5-1 5 0 4 0 5-2M540 496l1-5 3-4 4-3 4-3 3-3 5-2 4-2 4-3 3-4 4-3M407 583l3-3 3-4 2-3 4-3 3-3 3-4M523 471l-5 2-4 4-4 4-4 4-4 4-5 2-5 3-5 2-5 3-4 3-5 3-6 0M556 705l2-5 3-4 0-5 1-4-1-5-2-4-3-4-2-4-4-4-4-3-2-4M406 694l-5 2-4 2-4 3-4 4-5 2-4 3-4 4-3 4-4 4M545 484l2-3 1-4 1-4 0-4 1-4 1-4M494 555l2 4 3 4 3 3 4 2 5 1 4-1 5 0 4 0 5 0 5 0M532 555l1 4 0 5-1 4-3 4-3 3-4 3-2 4-2 3M508 537l3-4 3-5 2-4 4-3 4-4 4-2 4-4 4-3 4-4 4-2 5-2M577 550l-4 2-5 2-5 2-5 1-4 2-4 3M484 596l4-1 4 0 5-1 4 0 4-1 5 0 4-2 4-1 5-1 4 0 4 1M358 641l-1 5-3 4-3 5-4 4-3 5-2 4-5 4M354 625l-4 3-4 3-4 2-3 3-3 4-3 4-4 2M508 649l2 4 4 3 3 3 3 4 3 3 3 3 4 2 4 2 5 0 4 0 5-1M479 527l-5 0-4 3-4 3-5 2-5 2-4 3-4 3-3 4-3 4-1 5-2 5-3 4M436 471l2 4 0 4 1 5 1 4 1 4-1 4-1 5 0 4M373 581l-1 4 0 5 1 4 0 4 1 5 0 4-1 4-2 5M509 589l-3 3-2 4-3 3-4 2-4 1-4 3-3 3-1 4-2 4-3 4-1 4M380 646l-1-4 0-4 0-4-2-4-1-4-1-4M489 511l3 2 5 2 4 0 4 2 4 1 4 1 4 2 5 1 4 1 4 2 4 2M556 603l-2-4-2-4-3-3-3-4-4-2-4-3-3-4-3-4-3-3-3-4-3-4-2-4M353 617l3-4 3-4 5-1 3-4 4-3 3-4 4-3 2-4 1-5 1-5 1-4 0-5M441 510l-3 3-4 3-4 2-3 3-3 3-1 5-3 3-2 4-2 4-2 4M457 685l-5 0-5-1-4 1-5-1-4-2-4-3-3-4-3-3-5-1-5 0M422 634l4-2 4-1 3-2 4-1 4-2 4 0 4-1 4-1 4 1M537 656l2 5 0 6 2 5 1 5 2 5 3 5M367 540l-4 1-4 2-4 1-4 2-3 2-3 3-4 1-4 1M370 699l-4 0-4 1-4 0-5-2-4 0-4 0M390 691l2 5 3 5 5 2 3 4 5 4 3 4 4 4M417 546l-4-4-5-2-4-2-4-3-3-4-2-4-2-5M420 675l-1-4-1-4-1-4 0-4 0-4-2-4M480 551l4 2 5 0 5-2 4-3 4-2 2-5M444 512l-2 5-3 5-3 4-5 3-3 4-4 5-4 3-5 3-3 5-2 5-3 4M574 515l-3-5-1-5 1-5 2-4 0-5 0-5-1-5-1-5-2-4-3-4-3-4M454 559l2 5 1 5 3 5 2 5 3 5 2 5 2 6 2 5 2 5 1 5 2 6M434 623l-4-3-4-2-4-2-4-3-3-3-3-4-4-3-3-3-4-3-4-2-2-5M456 469l5 3 2 5 1 5 1 5 3 5 1 5 3 5M455 569l5 3 4 3 3 5 1 5 3 4 3 5 1 5 0 5M543 626l-4-3-3-4-5-2-4-4-5-2-4-4-5-3-3-4M429 516l-5-3-4-4-5-3-5-1-5 0-6-1M387 604l2 4 1 5-2 4-1 5-1 5 0 4 0 5 1 5 4 3M542 648l2-4 0-4 0-5 2-4 0-5 0-4-1-5 0-4 1-5-1-4-2-4-3-3M481 513l0-5-2-4-3-3-3-3-3-3-3-4-2-3-3-4-3-3-1-5M398 586l-4 0-4-1-4-2-3-2-4-3-2-3-2-4M565 710l3 4 4 4 4 3 5 3 5 1 5 2 5 2 4 4 5 3 5 0 6 1 5 0M407 642l2-5 0-5-1-5-2-5-3-4-2-4-2-5-2-4-2-5-3-4-3-4M579 629l-1 4 0 5 2 4 2 3 1 4 3 4 1 4 1 4 2 4 3 3 3 3 3 3M504 645l2 4 3 5 2 4 3 4 1 5 3 4 4 4M577 589l-1 4 0 5 0 4 1 4-2 4 0 4-2 4-2 4-3 2M425 491l5 0 4 1 5 2 5 1 5 1 5 0 4-2M489 552l-1-4 1-5 1-5 1-4 2-5 4-3 3-4 2-4M504 581l1 5 1 5 2 4 2 4 3 4 1 5 1 5 2 4 2 5 2 3 4 4 2 4M440 573l-1 4-2 4-2 3-2 4-3 4-2 3M579 679l4-3 4-3 4-4 1-5 1-5 2-5 2-4 2-5 4-4M508 527l-4 3-5 1-5 0-6 0-5 1-5 2-3 4-2 5-4 4-5 2M560 545l0 5 1 4 2 4 3 3 4 2 4 2M499 562l4 3 5 3 5 2 5 0 5-1 5 0 6 1 5 0 5 1 5 1M405 687l5-2 4-1 5 1 5 0 4 2 4 3 2 4 1 5 0 5-2 4-1 5-2 4M366 703l4 3 3 3 4 2 4 1 5 0 4 2 4 1 4 0M538 679l-5 3-4 3-5 2-5 3-4 3-5 3-3 5-3 4-4 4-5 2-5 0-6 0M538 613l3 3 5 1 4 1 4-2 5 0 5-1 4-1 4-2 4-2 4-2M477 596l2-4 4-4 1-5 1-4 0-5 1-5M534 481l4 2 3 2 4 2 4 2 4 1 3 2M515 566l4 0 4-1 4-2 4-2 4-1 3-3 3-3 4-2 3-3 3-3M413 500l-2-4-1-4-2-4-2-4-3-4-3-3-4-2-3-4-3-3-3-4-3-3-1-5M449 649l-4-3-3-3-3-4-4-3-5-2-4-2-3-4-3-3-4-3-4-3-4-1-5 0M347 713l-5 2-5 2-4 3-4 4-4 3-3 4-4 4-4 2M403 627l-2-4-3-3-4-2-3-4-2-4-2-4 0-4-1-5 1-4-1-5-2-4M444 550l-3 4-2 3-3 4 0 4-1 4 0 4-1 4M433 539l-1-5-3-4-2-5-3-4-1-5-3-4-2-4-2-5-3-4-3-3M578 680l-5 1-5 3-5 1-6 2-5 0-6 0-5-2-5-2-5-3-4-3M397 493l3 4 3 4 3 5 1 5 1 5 3 4 4 4 4 3 5 1 5 1 5 1M391 639l5 0 5 1 5 1 6-1 5 0 5-1 5-2M373 558l-4-2-5-1-4-1-5 1-4-1-4-2M482 673l4-2 4-1 4-1 4-1 4-2 4-1 4-1 4-2 3-1 4-2M352 684l-3 3-2 3-3 4-2 3-4 3-3 2-3 3-4 2-2 4-4 2-2 3M390 535l-5 1-4-1-4-1-4-1-4-2-3-4-3-2-5-1M427 688l2 4 3 3 3 3 4 1 3 4 2 4 2 3 2 4 2 4 4 3M449 593l3 3 4 3 2 4 1 5 3 4 2 4 3 4M514 511l-3-4-4-4-4-3-5-3-3-4-4-4-3-4-3-4M542 668l3-4 2-5 3-3 4-3 5-1 5 1 4 1 5 3 4 2 5 0M522 642l2-4 2-5 1-5 1-4 3-5 1-4M336 628l-3-3-3-3-1-4-1-4-2-4 0-5M573 592l4-2 3-2 4-1 5-1 4 0 4-2 3-2 4-3 3-3 3-3 2-4M560 589l-1-5-1-5-1-5 2-5 2-5 2-5 4-3 2-5 0-5M452 649l0 5 2 6 3 4 1 6 0 5-1 6-3 5M339 579l-1-4-2-3-2-4-2-4-1-4-2-4 0-5 1-4 0-4-1-4M579 628l4 0 4-3 4-1 4 0 4-2 3-1 4-3 4-1 4-1 4 1 4 0 4 2M394 584l-1-5 1-5-1-5-3-5-4-3-5-2-4-4-5-3-5-1-4-3-6-1-5-1M408 594l-4-1-4-3-2-4-2-5-3-3-2-5 0-4 0-5 0-5 1-4 1-5M475 631l1-4 0-4 0-4 0-4-2-4 0-4 0-4 1-4 3-3 2-4 1-3 2-4M403 633l0-6 1-5-2-6-2-5-1-5-1-5-4-5-4-3-5-2-4-4-5-3-4-4M395 638l-3-2-4-3-2-3-3-2-4-1-4-1M458 607l3-3 2-3 4-3 2-3 2-4 1-4 1-4 3-3 4-3M463 473l0 4-3 4-3 3-2 3-3 4-4 2-3 3-3 3-3 3-3 3-1 4M388 610l-1-5 0-5 0-5-1-5 1-6 1-5M354 604l-3-2-5-2-3-2-4-2-4-2-3-3-4-1-4-1-5-1-4 0-4 0M566 587l5 2 6 0 5-2 5-1 5 1 6 0 4 3 5 3 4 4M575 711l3 4 5 4 4 4 5 2 5 2 5 1 6-1 5 0 5 2 4 4 4 4M540 676l-4 4-4 3-6 2-5 1-5 2-6 0-5 2-5 1-6 0-5 3-5 1M506 557l3-4 3-4 3-4 2-5 3-4 4-3M338 523l-2 5-2 4 0 5 0 5 1 5 1 5M423 706l-1 5-1 4-1 5 0 5-2 4-1 4 0 5-1 5 0 4-3 4-1 5M458 512l-3-4-3-2-5 0-4 1-4 1-4 0M401 665l-1 5-1 5-3 5-3 4-5 2-4 4-3 3-4 4-5 3-3 3-4 4M554 614l-3-3-2-4-3-2-3-4-2-3-1-4-2-4-1-4-3-3-3-2-3-3-4-3M423 574l-1-5 1-5 1-5 0-5-2-4-3-5-2-4-2-5-3-4-2-4M483 575l-3 4-3 4-5 2-5 1-5 1-5 2-4 2-5 2M486 554l5-2 4-1 5 1 4 3 3 3 4 3 3 4 4 2 4 3 4 1 5 0 4 1M376 585l-3 3-3 4-2 3-3 4-4 2-4 2M546 559l-4 1-4 2-4 2-3 3-3 3-2 4-2 4-2 4-2 4-3 3-3 3-3 3M529 540l4-2 4-3 3-3 3-4 2-4 3-4 0-5M464 564l5 2 6 1 5 1 6-1 5-1 5-2 4-5 4-3 3-5 4-4M549 615l-4-3-3-3-3-3-2-3-3-4-2-3-1-5-2-3-1-5-2-3-3-4-3-3M440 566l-4-3-4-3-3-3-5-2-5-2-4-2M490 632l-4-2-6 0-5 0-5 2-4 3-3 5-2 4-1 6 1 5M410 704l4-2 5 0 4 1 5 1 4 1 5 0 4-1 4-2 5-1 4 0 5 1 4 2M426 695l3-3 2-4 3-3 1-4 2-3 3-3 2-3 3-3M557 592l-1 5-1 5-1 5 1 5-2 5 0 5 0 5 2 4 3 4 5 3 4 3M379 541l-2 4-3 5-4 3-5 2-4 3-4 3-4 3-3 4-3 4-3 4M482 647l3 4 2 4 2 4 2 4 1 4 1 5 1 4-1 4 0 5 2 4 0 4M424 647l5 0 5 3 4 1 5 0 5 1 5 0M399 702l-4 1-5 0-4 2-4 0-4 1-4 1-4 2-4 1-4 1M463 475l5 1 5 1 4 1 5-1 5 0 4-2 5-1 5-1 4-3 4-2 5-1 4 0M537 658l5-1 4-2 4-2 5-1 4 0 5 0 5-1M473 498l3-5 4-3 5-1 6 0 5 1 5 2 5 1 5 3 5 2M520 617l-3-3-5-3-5-1-5-1-4-3-5-1-5 0-5-2-4-4-4-1M568 516l-2 4-2 5 0 5-3 5-2 4-4 4-4 2-5 3-3 4M452 628l0 5 0 5 2 5 1 6 2 5 1 5 4 4 4 4 4 4 3 4M395 589l-5-2-4-3-4-3-4-4-1-5-3-5-4-4-3-4-3-4M534 698l4-1 4-2 5 0 4 0 4 1 4 1M569 598l2-4 4-3 3-3 5-2 4-1 4-1 5 1 4 1 5 0M524 612l-4-3-2-4-3-4-2-4-4-3-4-2-4-2M522 651l3-4 4-3 4-2 3-4 3-4 2-4 3-4M476 502l-2-5-2-4-3-4-4-3-4-3-5-2-4-2-5-2-5 0-5-1M431 537l-4-2-4-2-4-1-5-2-4-2-4-3-4-1-5-1-4-3-3-4M525 689l-5 2-5 0-5 0-5 0-5 0-5 1-5-2-5-2-4-3M473 621l-5 1-5 0-5 0-4 2-5-1-5-2-4-2-5-2-4-1-5-1-5 1M376 583l-5 1-4 2-4 2-3 3-4 3-4 2M533 504l-4 0-4 1-4-1-3-2-4-3-2-3-4-2M524 522l-1 5-1 4-1 4 1 5 0 4 0 4-1 5-1 4 0 4M492 704l-2 4-2 4-1 5 0 4 0 5 1 4 0 4M556 523l-5 2-5 1-5 2-5 1-5 0-6 0-5-3-5-2-5-1-5 2M573 496l-2-5 0-6 0-5-1-6-2-5-1-6 1-5 1-6-2-5M553 664l4-3 4-2 3-3 3-2 4-3 2-4 2-4 2-4 1-4 1-4 3-3 4-3M407 480l5 1 5 0 5 2 3 3 5 2 4 1M466 525l3 4 4 3 5 2 5 0 5 0 5 1 4 4 5 1 4 3M495 660l5-2 4-2 5-2 4-4 4-3 4-3 4-3 4-4 2-5M394 679l1-5 1-4 2-5 2-4 2-5 2-4 2-5-1-5-1-5-2-4-3-4-2-5M388 671l1-5 3-4 3-4 4-2 3-5 3-4 2-4 2-5 4-4M565 506l-4-3-3-4-1-4-1-5-2-4-2-4-3-5-2-3-3-4-4-3-3-4M459 482l0-4 1-4 2-4 3-3 4-2 4-1 4-2 3-4 3-2 4-2 4 0 5-2M578 622l-4 4-5 2-5 3-5 0-5 2-4 3-5 2M427 521l-4-2-4-2-4-2-4-3-4-1-4-2M330 713l-2 4-4 3-3 2-4 2-5 1-4-1-4-1M558 570l0 5-1 4 1 5-1 5-2 4-2 4-2 4M523 574l2-4 4-3 3-2 4-3 4-1 3-3 4-2M392 710l-5 2-4 1-5 0-5 1-5 1-4 2-5 2M384 559l-4 1-5 1-4 1-4 1-4-1-5-1-4-1-4 0-5-1-4 0M554 511l-5 2-4 2-4 4-3 4-1 4-1 5-1 5-2 5M538 516l4 2 2 4 4 2 3 2 2 4 2 3 3 3M341 672l-4-1-4 1-4 2-3 3-2 3-3 4-3 2M543 586l-4 2-4 2-5 1-4 1-5 1-4 1-5 1M542 582l-2-5-1-4-2-5-1-4-1-5 0-4 2-5 0-5-1-4 1-5 2-4 4-3M374 497l-2 4-1 6 1 5 4 4 2 4 3 5 3 3 5 3 5 2M564 507l-4-2-5 0-4-1-4 0-4 1-5 1-4 2-3 3-3 3-4 2M432 617l-5 2-4 3-5 3-5 1-5 1-5-2-5-2-5-1M337 521l-5 0-5-1-6 0-5 0-5 0-5 3-5 1-6 0-5-1-5-2-4-4M349 468l2 4 2 4 4 3 2 4 3 4 4 4 3 3 3 4 2 4 2 4 2 5M521 529l3-4 2-4 2-4 3-4 3-3 5-2 4-2 4-2 3-4M504 637l4-4 3-4 3-5 1-6 3-4 5-3M399 583l3 2 3 3 2 3 3 3 4 1 4 2 4 1 4-1 4 1M439 577l4 3 2 4 4 3 3 4 4 3 5 2 4 2 5 2 3 3 5 2 4 2M465 684l2 5 1 5 1 5-1 5 0 6 0 5 2 5 2 4 2 5 2 5 3 4M525 603l-4 3-1 5-2 4 0 5 0 4 1 5 2 4M565 466l0-5-2-5-1-5-2-5-1-5-2-5-2-4-3-5-4-3-3-4M566 535l4 4 5 2 5 0 5-1 5 2 5-1 5-2M437 667l-1-5 0-5 2-6 1-5-1-5 0-5-1-5 0-6M546 691l-2 5-3 4-1 6 2 5 3 4 1 6 0 5 1 5 3 5M506 500l-4-3-4-2-4-3-4-3-2-5-3-3-3-5M523 663l1 5-1 4-3 4-3 4-3 4-1 4-1 5 0 5 0 5 2 4 1 5 1 4M347 489l0-5-1-5 2-5 2-5 3-5 3-4 4-3 4-4M480 525l-5-3-5-2-4-2-5-4-4-3-4-3-6-1M564 560l-1-5-2-4 1-5-1-4 0-5 1-4 3-4 4-2 3-3 4-2 4-2 4-3M531 608l5-1 4 1 4 2 4-1 4 1 4 0 5 0 3 2 3 3 2 4 2 4M551 643l5 0 5 0 4 2 5 1 4 2 4 4 3 4 3 4 4 2 4 4 3 3M447 517l5-1 5-1 5 2 6 0 5-1 5-1 5-2 5-2 4-3 2-5 4-4M437 477l5-1 5-2 5-2 4-3 3-5 3-3 5-3 3-4 3-4 4-4M505 578l-3-4-3-4-4-3-2-4-2-4-4-4-1-4 0-5 1-5-1-5-2-4M466 542l5 2 6 1 5 1 6 0 5 0 6 0 5 0 5-2 6-1 5 1 6 1 5 0M550 522l2 4 4 4 2 5 0 5 0 5 1 5 3 5 0 5-1 5M545 545l3-3 1-4 1-4 0-5 1-4 1-4 1-4 0-4-1-4M562 533l3 3 3 3 4 2 4 1 4 2 4 0 4 0 4 1M553 576l-2-4-2-4 1-4 1-4 1-4 0-4 2-4 1-4-1-5-1-4M538 643l-3-4-4-3-3-4-3-4-3-4-2-4-2-5-3-4 0-5 1-5 2-4M544 565l-3-3-2-4-1-4-2-4-2-5 0-4-1-4 0-5M339 552l5-1 5 0 5 0 5 0 4-1 5-1M519 545l-4 3-5 1-5 3-3 3-4 4-4 3-4 4-2 4-3 5-3 4M476 478l5 2 4 1 5 0 5 1 5 0 4 2 5 0 4-2 5 0M539 476l-1-4-2-4-2-4-3-3-2-3-2-4 0-4 0-5 1-4M514 584l3-4 1-5-1-5-1-5-2-5 0-5M438 651l-1-5-1-4 1-5 3-4 2-4 3-4 3-3M389 567l2-4 2-4 0-4 1-5 1-4 0-4 1-5 0-4 2-4M543 589l-5 1-4 0-5 1-4 0-5-1-4-1-5-1-4-2-3-3M560 622l2 3 2 4 1 4 0 4 0 4 0 4 0 4 1 4 3 3 2 3M509 471l1 5 4 4 5 2 5 1 6 2 5 1 5 1 5 3 5 0M358 684l-3 4-4 3-4 3-2 5-2 4-1 5 1 5 2 4 1 5 2 5 2 4M400 510l3 3 5 1 4 2 3 3 5 1 4 1M517 479l3-5 2-5 0-5 2-5 4-4 4-4 4-4 3-4 4-4 5-3M503 519l-1 5-1 6-1 5 1 6 4 4 4 4M451 615l-5-2-4-3-5-3-5-2-4-3-5-1-4-4-3-3-3-5-3-4-1-5M441 507l0 4 1 4 0 5-2 3-2 4-1 4 0 4-1 4 0 4 1 4 1 4M506 467l1 5 1 5 2 5 1 6 0 5 1 6 2 5M361 658l-4 1-4 0-5-1-4 0-5 0-4-2-4-1M515 503l-4 4-2 5-2 5 0 6-1 5-1 5-1 6-1 5 0 6-1 5-1 6M455 569l3-5 1-6 2-4 3-5 3-5 3-4 2-5 4-5 2-4 2-5 3-5M505 584l-5-1-4-3-4-4-4-2-3-4-5-3-5-2-4-2-5-2M363 711l4 3 3 4 2 4 3 4 4 4 3 4 4 3 5 1M555 604l-5 1-6 1-5 1-6 1-5-1-6 2-5 1-5-1-6-1M341 545l2 4 3 3 3 3 3 3 4 2 4 1 3 3 4 2 2 4 4 2 4 2 4 1M549 512l-5 3-4 3-4 3-4 4-3 4-3 4-2 5-1 6-3 4-4 3-3 4-3 5M391 638l1-4 3-4 2-4 2-3 2-4 1-4 0-5-1-4 1-4 1-4 2-4 1-4M340 691l0 5 2 4 1 4 2 4 3 5 1 4 1 4 1 5 1 4M544 626l2 3 3 3 4 2 4 1 4 0 4 1 4 2 4 0M420 548l3 3 2 4 1 4 2 4 2 3 0 4 2 4 2 4 2 3 4 3 3 3M576 600l-3 4-3 4-3 4-4 3-3 4-4 3-5 1-4 3-3 4M397 555l-4 2-4 1-5 1-4-1-5 0-4 2M523 617l-5-3-3-4-5-3-4-4-5-2-4-4-4-4-4-4-4-3-5-2-6-1-5-3M451 491l-4-1-4 0-4 1-5 0-4-1-4 1-4 0M491 618l-1 4-2 4-3 3-4 3-3 2-4 2-3 4-2 3-4 3M335 575l-4 2-4 2-5 3-3 3-3 5-2 4-1 5-1 5 1 5-2 4-1 5M363 687l2-3 3-3 2-4 3-3 3-2 4-1 4 0 4 0 4-2 4-1 4-2 4-1M379 707l-5 1-5 3-5 2-5 2-4 3-4 3-4 3-5 1-6 0-4 2M369 552l3-3 3-3 3-3 3-3 2-4 2-3M366 689l-5 0-4-1-4-1-5 0-5 0-4 0-5 0-4-1-4-1-4-3-3-3M483 597l-5 0-4-1-3-3-4-2-4-2-3-3-2-3-3-3-3-3-3-3M470 543l0-5 1-5 2-5 2-5 0-5 0-6 2-5 2-5 1-5M500 597l-2-4 0-5 0-4-2-4-2-4-1-4 1-5M468 610l-3 4-3 3-2 4-1 4-1 5-1 4 1 4-1 5M532 508l0-5 2-4 4-4 3-3 4-2 3-3 3-4 1-5M388 495l-5 2-5 3-5 2-5 2-4 3-5 2-5 3-4 3M459 539l5 0 5 2 5 2 5-1 6 0 5 0 5 0 5 2 5 1 5 3 5 1 5 1M507 623l-3-4-2-4-3-3-2-5-3-3-4-2-4-2-4-3-5-2-4-1-5 0-4-2M407 630l1-5 3-5 3-4 4-4 5-2 5-1 5-3 5-3 4-3M489 583l-4 2-4 2-5 0-4-2-4-3-2-3-1-5 0-5 2-4M411 688l-1-5 0-5 0-4-3-5-1-4-1-5M575 554l-5-1-4 1-4 1-4 3-3 2-3 4-4 1-3 4-1 4-2 3-3 3M524 476l3-3 2-3 4-2 4-2 4-2 4 0 4-2 4-1 4-1 4-1 4-2 4 0"/>
<path stroke="rgb(54,175,73)" stroke-opacity="0.9" stroke-width="1.4" d="M460 466l-1-4-1-4 0-4 0-4-1-4-2-4-3-3M467 616l-1 5-2 5 0 6 0 5 0 5 1 5 3 5 0 6 2 5M383 595l-2 4-3 3-2 4-4 4-3 3-1 5-2 4-3 3-4 3-4 2-4 0M520 677l-5-3-2-5-2-5-2-5-2-5 0-5 0-5-2-5-3-4M331 634l-5 1-4-1-5 0-4 3-4 2-5 2-4 0M498 505l-4 0-5 2-4 1-5 0-4 1-5 0M371 575l4-2 4-1 5-1 3-3 3-4 2-4 3-4 2-4 2-5 2-4 2-4M421 564l4-3 4-1 5-2 4-2 4-1 5-2 3-3 2-4M506 646l4-3 3-5 3-3 4-4 4-3 4-4 3-4 4-3 4-3 5-3 5-2M452 682l-4-4-2-4 1-5 1-5 2-5 1-5M361 698l4-2 4-2 4-3 4-2 4-3 2-4M379 693l-5 1-5 1-4 2-4 3-3 3-4 4-4 3-4 2-5 1-4 3-4 1M488 601l5-2 5-2 4-4 5-2 5-2 5-2 6-1 5-1 5 0 6-2 5 0M535 484l-3-4-3-4-4-3-3-3-5-2-5-2-3-4-3-3M449 661l-4-4-5-2-4-4-3-5-3-4-2-6-1-5-3-5-4-4-5-2-5-3-5-2M571 606l3 5 2 5 4 4 5 2 5 2 6-1M349 677l1 5 1 5-1 4 1 5 1 5 2 4 2 5 0 5 0 5-1 4M566 614l3-3 2-3 2-4 0-4 0-5 3-3 2-4 3-3 2-3M501 527l-5 3-3 3-5 2-4 3-3 4-4 3-4 3-3 4-3 3-3 5-4 3-4 2M358 614l-5 2-5 2-6 0-5-1-6 0-5-1-6-1-5 1-6 1-5-1-6 0M506 645l0 5 0 5-2 4-3 4-4 3-4 3-4 3-2 4M508 479l-6-1-5-2-5-2-6-1-5-1-6 1-5 1-6-1-5 0-5-2M491 524l3 2 4 0 5 0 4 1 4 0 4-1 4 0 4-1 4-2M578 534l4-2 3-3 4-2 2-4 2-4 3-3 4-2 3-3 1-5M464 673l4 0 4 0 4 1 4-1 4-1 3-2 3-3 2-4 3-3 3-2 3-3M550 652l0-4 0-4 0-4 1-4 2-4 0-4M461 629l-3 4-3 4-1 5-2 5 0 5-2 5 0 5M410 614l3 4 1 4 1 4 2 4 1 5 2 3 2 4 2 4 4 2 3 3M557 581l5 3 6 1 5 1 5 2 5 3 6 0M559 711l-4-2-4-3-4-3-4-3-4-2-4-2-5-2-5-1-4-1-4-3-3-4-3-4M505 670l-5 1-4 2-4 0-5 2-3 3-2 4-3 4-3 3-3 3-5 2M395 528l3 4 1 4-1 5 1 5 2 4 2 4 1 5 0 5-1 4 1 5 2 4M386 541l-5 0-5 2-4 3-4 3-5 1-5 1-5 1-5-1-5 0-5 1-5 1M465 672l-5 0-5 1-4-1-5-1-5 0-5-1-5-2-4-1M579 704l6 0 5 2 5 1 6 1 5 1 4 4M574 707l-5-1-5-2-4-4-3-4-3-4-2-5-1-4-2-5 0-5M476 569l4 2 3 4 4 3 5 2 4 0 5-1 5 0 5 0 5-1 4-1 5 0 5-2M425 620l0 4-1 4 1 4 2 3 3 4 1 4 0 4 1 4 0 4 1 4 1 4 0 4M396 496l-3-2-4-2-4-1-4 0-3 1-4 3-3 2M528 654l3 2 4 3 2 4 4 3 2 3 2 4 3 3 3 4 2 3 2 4 3 4 3 2M489 596l2-4 1-5 3-4 2-5 4-3 2-4 5-3 2-4M481 592l2-4 3-3 2-3 2-4 1-3 1-4 2-4 2-3 2-4M517 707l0 6 1 5-1 6 0 5 1 6 1 5 2 5M389 650l5-2 5-1 5-1 5-2 4-3 5-2 4-3 4-3 4-4M550 653l2-4 0-4 1-4 1-4 2-4 2-3 2-4M451 596l-3 4-3 3-5 2-5 0-4 2-5 0-5 2-4 3-4 2-5 1-5 0-5 1M545 473l-3 4-4 4-5 3-5 1-5 3-5 2-6-1-5 2-6 1-5 3-5 0M548 589l0-4 1-4 1-4-1-4-2-4-1-4-2-3-2-3-3-4-3-2M499 633l4-3 3-3 3-3 2-4 1-4 2-5 0-4 1-4M478 542l1 4 2 4 0 4-1 4-1 4-1 4-1 5 1 4 2 3 2 4M561 524l0 5-2 5-2 5-2 4-4 4-3 4-2 4-1 5M418 588l1-5 1-4 1-4 2-4 3-4 3-3 4-2M514 691l-2-3-3-4-4-2-3-3-5-1-3-3-5-1-3-3-5-1-4-1-4-1M473 534l3-4 1-5 3-3 2-4 2-4 2-5 1-4 1-5 0-4 0-5M511 520l0 5 2 4 1 5 3 4 2 5 1 5M391 650l-4 3-2 5-1 5 0 4 1 5 1 5 0 5 0 5-1 5M576 528l-4-2-5-2-4-2-4-3-2-5-2-4-1-5-2-4-1-5 1-5-2-5M546 510l-4 0-5 0-4-1-4-1-4-2-3-4M392 711l-4 1-5-1-3-2-4-3-4-2-3-4-3-3-2-4-3-3M358 501l-4 2-5 1-4 1-5 1-4 1-5 0M440 558l-4-2-4-2-4-3-3-3-4-2-3-3-3-3-3-4-4-3-3-2-4-2-5-1M395 712l-5 3-3 4-4 2-5 2-5 0-5-1-5 0-5 2M352 691l-4-3-4-3-5-1-5-2-5 0-5 2-4 4-4 2-5 2-5 2M565 487l4 2 4 2 4 0 4 0 5 0 4 0 4 1 4 2 4 3 4 1 4 2M479 687l2-3 3-4 1-4 1-4 1-4 2-3 0-5 1-4-1-4-2-4-2-3-2-4M340 578l-4-2-4-2-5 0-5 0-4 1-4 3-4 2-3 3M540 647l-4-3-4-4-5-2-5-1-5-3-5-1-5 0-5-3-3-4-4-3M558 684l-3-5-2-5-4-4-3-4-2-6 0-5 0-6 1-5 3-5M520 632l4-2 4-1 5 0 4 1 4 0 5-1 4 0 4 2 5 1 4 2 4 2 3 2M506 477l0-5 1-5-1-4-1-5-1-4-2-4M382 483l1-5 2-3 3-4 2-3 4-3 4-1 5 0 4 1M454 653l-4 1-4 0-4-2-5-1-4 0-4-1-4-3-3-3-4-1M365 548l-2 4-3 4-3 4-4 2-4 2-4 1-5 2M340 659l-5 3-4 3-5 3-4 3-5 2-6 2-4 4M367 630l4-3 4-2 4-1 5 0 5-1 4 1 4 2 4 3M483 626l-5 0-4 1-5 2-4 3-4 3-4 1-5 1-5-1-5 0M576 589l-2 3-2 4-1 4 0 4-2 4-3 3-3 3-3 3M375 703l-1-5-1-5 0-5 2-5 2-5 3-4 1-5 2-5 3-4 4-3 4-4M373 590l3 3 3 4 3 4 2 5 1 4 2 5 3 4 2 4 1 5 3 4M337 587l2-5 1-6-2-5-2-5 0-5 1-6 3-4 3-5 1-5 2-5M400 496l4-1 3-2 4 0 4 1 4-1 4 0 4 0M447 626l-3 5-4 3-3 5-1 5 0 5-1 6 0 5M576 691l-3 4-3 4-3 3-2 4-3 4-3 3-5 1-4 2-4 1-5 1-4 0-5 1M409 712l-5-2-5-3-5-1-5 0-5 1-5 1-5 3-4 4-4 2M524 481l1-4 0-5 0-4 1-4-1-5-2-3-1-4 0-5 0-4 1-4 1-4 2-4M505 558l-1 4-2 4 0 4 0 5 2 4 2 4 1 4 1 4 3 4 2 4M443 670l3-4 4-3 4-2 5 0 5 1 5 2M549 515l-3 3-3 3-3 2-2 4-3 3-3 2-4 2M516 564l-1 4 0 5-1 4-1 4-2 4-2 4-1 4-1 4-4 3-3 2M501 711l1 6-1 5 0 5 3 5 3 4 4 4M560 555l4 4 5 2 6 1 5 1 5 2 5 2 5 3 6 1M466 488l-4-2-5-1-4-1-4-2-5 0-5 1-4-1-5-1-4-2-4-2-4-2M368 578l-3 5-4 4-2 5-3 4-5 3-4 3-5 4-4 2-5 3-5 3-4 3M359 690l-3-5-1-5 1-6 2-5 3-4 4-4 5-2M478 472l3-3 4-2 4-1 4-2 3-2 4-3 4-1M448 499l4 3 3 4 3 3 2 4 4 3 3 3 3 3 2 4 2 5 0 4 1 5M341 467l0-5 0-5-1-5-2-5-3-3-2-5-1-5 0-5 1-4M531 532l4-3 4-4 4-4 5-2 5-1 4-2M479 687l-4-1-4 1-4 0-4 0-4 1-4 1M356 682l1-5 1-5 0-4-2-5-2-4-4-4-4-2-5-1-5-1-5 1M501 522l-5 2-5 0-4-1-5 2-5 0-4-1-4-3-5-1-4-2-5 0M452 526l0-5 2-4 4-3 2-4 0-4 1-5 2-4 1-4M503 585l0 4-1 5 0 4 1 4 2 3 2 4 3 3 3 2 2 4 2 4 1 3M472 493l2 4 2 3 1 4 3 3 3 3 3 2 3 3M562 672l4 1 5 2 4 1 5 1 5 2 4 0 5 1 4 3 4 2 5 1 5 0 4 1M474 645l6 0 5-2 5-3 4-4 4-4 3-4 5-3M511 568l5 2 6 1 5 1 5 2 5 3 3 4 5 3 5 1 5 1 6 1 5 0M573 561l3 3 4 2 3 2 4 1 4 0 4-2M505 495l4 3 5 2 4 1 5 1 5 1 5 2 5 0 5 2M544 609l4 0 4 1 4-1 4 0 4-1 4 0 3-2 4-2M578 613l0-5-1-5 0-4-1-5-2-4-1-5-1-5-2-4M568 654l2-4-1-5 0-4 2-5 2-4 3-3 4-1 4-3 4-3M557 527l3-4 3-3 3-3 5-2 4-3 4-2 4-2M445 676l-1-6 2-5 2-5 3-4 4-4 5-2M408 470l-5-1-4 0-5 1-5 0-4-1-5-2M483 683l5 1 5-1 4-3 5-1 5-2 5-1 6-1 5-2 5-1M465 567l2 5 3 3 2 4 3 3 2 4 2 4 1 5 1 4 2 4M517 559l3-5 4-3 4-3 5-2 4-3 3-4 3-4 5-2 3-4 3-5 2-4 3-5M376 635l-4-2-4-4-1-5-3-4-3-4-4-2-5-1-5-2-5 0-4-1-5 0M562 485l-5-1-5-1-5-2-5-2-5 0-5 1-5 0M430 587l3 3 4 3 3 4 3 3 3 4 2 4 1 5 0 4M449 646l1 4 0 5 0 4 0 4-1 5 0 4 0 4 0 5-2 4-2 4-2 3-1 5M407 624l-4 3-5 2-4 3-5 2-6 0-5-1-5-1-5-2-5-2-5-1M560 704l0-5 0-5 0-5-2-4-2-4-2-4-1-5-2-4-2-5-1-5 0-4 0-5M514 605l2-4 4-3 4-2 4-3 3-3 2-4 1-4M558 579l0-4 2-4 3-3 2-3 2-4 3-3 4-2 4-2 4-1 4 1 4-1 4-1M576 633l-4 0-5 1-3 2-4 1-4 3-4 1-3 3-2 4-1 4-1 4 0 4M415 577l-3-3-3-4-4-2-4-2-5 0-4-2-4-3-3-2-5-1M409 568l4 2 5 2 4 3 3 2 4 3 5 1 4 2 3 4 3 4 1 4 1 5M348 623l0 5 0 5 1 5 1 5 2 5 1 5M473 476l-5-2-4 0-5-1-4 0-4 1-5-1-4-1-4-2-4-2M416 630l-4-2-4-1-5-3-2-4-4-3-2-5-2-4-3-4-4-2-5-2-4-2-5-1M369 703l-3-4-2-4-3-4-2-5-2-4-2-5-1-5-1-5M547 641l-3-4-2-5-4-4-3-3-3-5-4-4M413 701l-5 0-5 0-4-2-5-1-4-2-5-3-4 0-5-3-4-1-5-1-4-3-4-2M524 505l-4 2-4 1-4 2-4 2-3 2-5 1-3 1-5 1-4 0-4 2M500 600l-2-4-3-3-3-5-3-3-2-5-2-4M406 549l-3 2-3 3-4 2-4 1-4-1-4-1M447 627l4 4 5 2 4 2 5 1 4 3 4 3 4 2 5 0 5-1M418 584l-3 4-3 4-3 5-3 4-3 4-2 5-3 4-2 5-1 5-2 6M579 537l3 2 3 3 1 4 0 5 0 4 1 4 2 4 3 3 2 3M569 591l-1-5 1-5 2-4 2-4 3-4 2-5 0-5-1-4-2-5-2-4-4-3M348 591l-3 3-4 3-4 2-3 3-5 1-4 2-3 3-1 4-2 4M567 540l4 3 5 3 4 2 3 4 2 5 3 5 3 4 3 4 3 4 4 3M565 515l3 4 4 2 4 1 4 2 4 2 4 2 4 2 5 1M423 698l1-4 2-4 2-4 1-4 2-4 2-4 1-4-1-4-2-4 0-5M337 696l5 3 5 1 5 3 4 3 4 4 4 4 2 5 3 4 3 4 4 5 3 4 3 5M461 489l-3 2-4 3-4 3-4 0-4 2-3 4-3 4M578 671l-3 4-2 3-3 4-2 4-2 5-1 4 0 5M405 626l-1 4-2 4-2 4-2 4-2 5-2 3-3 4-2 4 0 5 0 4 0 5M507 662l-4-2-4-2-3-4-3-3-3-3-4-3-3-4-1-4 0-5 0-4 1-5M393 669l-3-4-1-4-1-4-1-4-3-3-3-3-3-3-2-4-1-5-2-4-1-4M439 487l-2 5-1 4 0 5 1 5 0 4-2 5-3 4-3 3-2 5-2 4-3 3-5 2M372 664l0-4-1-5-2-5-1-4 0-5-1-5M404 554l3-4 3-3 3-3 3-2 4-2 5-1M488 559l4 3 4 3 5 2 4 2 4 2 5 1 4 3 3 4M348 613l-1 5 1 5 2 4 1 4 0 5-2 4-1 5 1 5M469 605l5-2 5-1 4-3 4-3 3-5 2-4 0-5 2-5M331 505l1 4 1 5-1 4 1 5-2 4-2 3-4 3-4 2-4 2-4 2M561 476l4-3 5-3 3-5 3-4 5-3 5-3 2-5 4-4 3-5 4-3 4-4M365 503l5 0 4 1 4 2 4 2 4 1 4 0M532 628l-3 4-4 2-3 4-3 4-3 3-4 4-4 2-3 4-4 2-4 3M553 486l-5 1-4 2-4 3-3 4-1 4-1 5-2 4-1 5M354 487l-5-2-4-2-4-4-4-3-4-3-4-3-4-3-3-4-3-4 0-5M400 587l5 1 5 0 4 0 5 1 5 2 4 1 5 0M485 515l-6 1-4 4-4 4-3 5-4 4-2 5-4 4-2 5-3 5M364 509l-5 1-5 2-5 1-5 2-5 1-5 0-5 0M521 515l1 5 1 5 3 4 3 4 2 5 3 4 5 3 5 2 5 1 5 1M423 511l-3 4-1 4-1 4 0 4-1 5-3 3-2 4M471 663l2-4 1-4 2-4 1-4 1-4 0-4M548 529l-4 0-4-3-4-1-4-1-3-3-4-3-3-2-2-4-1-4-2-4 0-4 1-4M406 687l-2 4-3 3-3 3-1 4-2 4-3 3-4 2-3 2M397 620l3-4 4-3 3-4 2-5 2-4 3-5 2-4 3-5 3-3 4-4 2-5 0-5M438 524l-3 4-3 4-2 5-1 5 0 4-3 5M478 616l-1 4 1 5 1 4 0 4-1 4-2 4-1 5 0 4 0 4 2 4 3 3 4 2M329 497l-2 4-3 4-4 2-4 2-3 3-4 2-4 2M393 705l-4-1-5 2-4 2-4 3-4 2-3 3-3 4M335 525l1 5 3 5 3 3 3 4 4 4 4 3 4 3 4 1 5 1 5 1 5 3M524 604l4-3 3-4 1-5 0-5-1-5-1-5 1-5 0-5 0-6-1-5M528 702l1 4 1 4 2 4 2 4 4 3 2 3 2 4 3 4 4 2M470 468l-5-1-4-2-5 0-5-2-5-1-4-2-4-3-3-3M364 544l-4-4-2-5-4-4-4-3-3-4-4-4-4-4-4-3-3-4-5-3-4-3-3-5M357 581l-4-3-4-1-5-1-4 0-5 2-4 1-4 3-3 4-3 3-3 4-2 5M572 662l-4 1-5-1-4-1-4-1-4-2-5 0-4 2-4 1M561 583l4 3 4 2 4 1 4 3 4 2 5 1 3 3 4 2 3 4M460 535l-4-2-5-1-5-2-6-1-4-2-4-4-4-4M453 681l4-2 3-3 4-3 3-3 3-3 4-1 5 0 4 0 5-1 4 1 4 2 3 3M559 548l-4 4-2 4-2 4-2 5-3 3-4 4-2 4-2 4-4 3-4 3M358 470l-3 3-4 3-4 3-2 4-3 4-5 2-5 1-4-1-5 2-4 2-5 3M336 537l-4 4-4 4-3 5-4 3-5 3-5 1-5 3-6 1-5 3-4 3-4 4-3 5M541 593l3 2 3 3 3 4 3 3 1 4 3 3M487 691l-5 0-6 1-5 2-4 3-3 5-4 4-1 5M547 575l0-5 1-5 4-5 2-5 2-5 2-5M401 625l-4-2-5-2-5 1-5 2-5 1-5 1-5-1-5 1-5-2-4-1-5-1-5 0M573 575l4 0 4 1 4 2 3 2 2 4 2 4 3 3 2 3 2 4 3 2 4 2 3 3M442 596l-1 5 2 4 1 4 0 5-2 4-2 3M352 650l3 2 4 1 5 1 4-1 3-3 3-3 2-4 1-4 3-3 2-3 3-4M435 675l-1 5 0 4-2 5-1 5 0 5 0 5 1 5 1 4M547 695l-2-4-2-3 0-4-1-4-3-3-3-3-4-1-3-3-3-2M534 505l-2 4-3 4-1 4-1 5-3 4-2 4M402 626l1-5 0-4 1-4 1-5 2-4 3-3 2-4 3-3 3-3 4-3 3-3M519 501l-2 5-1 5-1 5-2 4-1 5-1 5-1 4 0 5-1 5-3 4M425 616l-5 1-5 0-5 0-4-3-5 0-5-2-5-2-5 1-5-1-4-3M395 712l-4-3-3-3-3-3-5-2-4 0-5-2-4-1M334 684l5-1 4-2 4-4 3-4 2-5 2-4 3-5 0-5M389 529l3 5 0 6-1 5-1 5-1 6-2 5-3 5M540 493l-5-1-5-1-5-1-4-2-4-3-4-3-3-4M442 577l-4-3-5-1-5 1-4 1-5 1-5 0-5 2-5 3-4 1-5 1-5 0M396 626l4-4 4-3 4-4 2-5 4-4 4-2 5-2 6-1 5-1 5-2 5-3 4-2M510 591l5 2 5 1 4 2 3 4 3 5 3 4M549 663l-4-2-4-3-3-4-4-3-3-3-4-3M365 658l3-3 3-2 4-2 3-2 4-2 4-1 3-3 3-2 4-2M566 470l-4-1-4-1-3-2-3-3-2-3-3-4-1-3-1-4M393 626l4-3 4-3 3-3 3-4 2-4 3-4 4-3 3-3 5-2 3-4 3-4 3-3M381 604l4 4 4 3 4 2 4 3 5 1 4 1 5 2 4 3 4 3 5 1 4 2M577 516l3 4 3 5 0 5 3 5 3 5 1 5M438 481l-3-3-2-4-4-3-3-3-4-2-3-4-2-3M470 557l-1-4-2-4-3-3 0-4-2-4-2-4-1-3-3-3-3-3-3-3M514 686l5 1 5 3 4 2 5 1 4 1 5-1 5-2M417 631l-4 1-4 2-3 2-3 3-2 4-2 3-4 3M345 580l3 3 1 5-1 4-1 4 0 4 1 4M500 566l5-2 5-3 4-2 5-2 6 1 5 0 5 0 5-2 4-3M399 619l-4-3-6-1-5-2-4-3-4-4-4-5-3-4-5-3-3-4-5-3-5-3-4-4M505 562l2-4 3-3 3-3 4-2 4-2 4 0 4-1 4-1 5 1 4 0M522 580l-5 0-4 1-5 1-5 2-4 2-5 1-4 2-5 1-5-1-5-2M550 590l5 2 5 0 5 2 5 2 5 4 4 3 4 4 4 3M566 698l3 4 2 5 1 4 1 5 3 4 3 4 2 5 0 5-1 4-3 4-3 4-1 5M396 590l-4-2-3-4-2-3-4-3-3-2-3-3-2-4M400 636l4 2 4 2 3 4 3 3 2 4 1 4 3 4 2 4 4 3 2 4M565 588l3 4 3 4 3 5 1 6 3 4 5 3 3 5 2 5 1 5 0 5 2 6M524 665l-4-1-4-2-3-2-3-3-3-3-3-3-4-1-3-3-2-4M414 656l2-4 3-3 2-3 3-3 4-2 3-3M333 611l-2 5-4 4-3 5-2 5-3 5-1 5-1 5 0 6-1 5M538 541l-2 4 1 5-1 5 2 4-1 5-1 4-3 4M355 617l2-5 5-3 4-4 3-4 2-5 5-3M335 574l5-2 4-2 3-4 2-4 3-4 1-4 0-5-2-4 0-5-1-4M565 507l-4 1-5 2-5 0-4 2-5 0-4-1-5-1-5 0-4-2-5 0-4-1-5-1M388 700l2-4 2-4 3-3 1-5 1-4 3-4 2-4 3-3 2-4 3-4 2-4M372 602l-3-3-3-4-4-3-3-4-4-3-2-4-2-5M554 649l-4 0-5 1-4-1-4 0-4-2-4 0-4 0-4-1-4-2-4-1-4-2M498 710l-3-5-3-4-4-4-2-5-1-6-2-5M432 673l0-4 2-5 0-5 1-5 3-3 4-4 3-3 3-3 4-3 3-5 2-4 3-4M570 506l-3-2-4-3-4-2-4-2-4-2-2-4M398 505l4 4 4 4 2 5 4 5 4 3 4 3 5 3 5 3 4 3M579 564l1-4 0-5 1-4 3-3 3-3 3-2 4-2M459 519l4-2 4-1 4 0 4-1 4 1 4 2 3 3 3 4 1 3 3 4 3 2M346 546l1-4 4-3 4-1 3-3 4-3 3-3 3-3 4-2 4-1 4-2M555 558l-1 4 1 5-1 5 0 4-1 5 1 5 2 4 1 5-1 4 0 5-1 4-2 5M523 476l-5-1-5 0-5 2-6 0-5-1-6 0-5-2-5-2-5-1-5-2-6-1M376 488l-4 0-4-1-4-2-3-2-4-2-4-2-4 0-5-2-4-1M518 535l-3-4-4-4-2-5-2-6 0-5-2-5-3-5-1-5 1-6-2-5-2-5M522 633l-3-3-3-3-2-3-4-3-3-2-4-2-4-2-4-1-4 1M482 579l5 2 4 4 3 4 4 3 5 2 6 1 5 1 4 3 5 2 6 1M465 568l5 1 4 4 5 2 6 0 5-1 5 0M537 616l4 3 3 4 4 4 3 5 1 5 1 5 2 5 4 4 3 4 5 3 5 2M467 611l-3-5-2-5-3-4-3-5-1-6 0-5 3-5M420 488l2 5 3 4 3 5 1 5 0 5 0 6 2 5 1 5 1 5-2 5-2 5-2 5M495 640l-3 4-3 4-3 4-2 4-2 5-2 4-2 5M561 508l-3-3-2-3-4-2-2-4-2-3-4-2-3-2-4-1-4-2-4-1-3-2M528 510l-1 5-2 4 0 5-1 5-1 4-2 5 0 5-1 5-3 4M539 671l2 5 2 5 3 4 3 4 3 4 2 4 3 5 3 3 5 3 3 4 3 4M443 495l-2 4-4 2-3 4-4 3-4 3-5 0-3 3-3 4-3 4-1 5M559 488l2-5 2-5 2-5 3-4 5-4 5-2 5-2 4-3 6-1 5-2M445 512l1 5 1 5 2 5 0 5 1 4 1 5 1 5 3 4 4 4 2 4M536 619l2 4 2 4 1 4 1 4-1 4-1 4 1 4 0 4-1 4-1 4 1 4 1 4M534 686l2 4 4 3 3 3 5 2 4 0 5 1 5 0 4 0 4 2 5 2M477 524l-1 5 1 5 1 5 3 5 3 4 4 3 4 2 5 1 6 1 5 0 5 1M343 647l5 0 4 1 5 0 4 1 4 2 3 4 5 2 4 0 5-1M383 619l3-3 3-5 3-4 1-5 3-4 2-5 0-5 0-5 3-4 3-4 4-3 4-3M445 512l3 2 4 2 4 2 5 2 4 2 3 2 4 2 4 3 2 4M562 503l1-4 2-4 0-5 2-3 3-4 4-2 3-3 2-4 1-4 3-4 1-4M329 566l2-3 0-5-1-4-2-4-1-4-1-4 1-4-1-4-1-5 1-4M365 645l4-1 4-3 2-3 2-4 2-4 2-3 2-4 2-3 2-4-1-4-1-4-3-4M499 636l5-1 4-2 5 0 4 1 5 0 5 0 4 2 4 2 4 2 4 3 4 2 2 4M331 588l-4-2-5 0-4-1-4 0-5 0-4 1-4 1-4 2-3 3-3 3-3 3M564 519l4 3 3 4 3 3 2 4 4 3 2 4 2 5 2 4 1 4M564 500l-3 4-4 3-4 4-5 2-5 1-4 2-4 3-4 3-4 3-3 4-5 2M339 569l5 0 6-1 5 0 5 0 5 2 6 2 5 1M520 519l1 5 0 5-1 6-3 4-2 5-4 3-5 3-4 3-5 2-4 3-4 4-4 3"/>
<path stroke="rgb(40,153,63)" stroke-opacity="0.9" stroke-width="1.4" d="M497 529l2 4 1 5-2 5-3 4-2 4-2 5-1 5-2 4-2 5M335 629l1-4 0-5-1-4-1-4 0-5 2-4 2-4 2-4 1-4M529 622l0 5 2 4 4 3 3 4 2 5 0 5 2 4 2 5 3 4M503 661l-5 1-5 0-4 0-5 0-4 0-5-2-4-2-5 1M480 679l-4-2-4-3-2-5-2-4-1-5-2-4-2-5-3-4-1-5-3-4-3-4M490 600l3 3 3 3 3 3 1 4 2 3 3 4 1 4 1 4 2 4 1 4 2 4M447 513l2-5 4-3 4-4 3-4 1-5 3-4 5-3 4-3M520 487l-5 3-4 3-3 4-5 3-4 3-4 3-5 3-3 4M466 605l4-3 3-4 2-4 1-5 2-5 1-5-1-4M537 508l4 4 5 1 5-1 5-2 4-4 3-4 2-5 3-4M541 509l2-4 3-3 2-4 1-4 2-4 3-4 3-2 5-1 3-2 5-2M475 626l-3-4-2-4-2-3-4-2-3-3-5-1-4-1-4 1-4 2-4 1-5 0M550 526l5 1 5 0 5 1 4 2 6 0 5 1 5-1 4-2 5-1 5 1M429 503l-3-4-3-3-4-2-3-3-4-3-3-4M445 660l4 1 4 1 4-1 4 1 4 1 4 0 4 1 4 0 4 2 4 0 3-1 4 0M383 701l4-2 4-2 3-4 3-2 3-4 3-3 2-4 2-4M476 471l-3 4-2 4-2 4 0 5-1 4-3 4M379 560l-1-4-2-5-1-4-3-4-1-5-2-4-3-4-3-4-2-4 0-5 0-5 0-4M455 642l-5 0-5-2-5 0-5 0-5 0-5 1-5-1-4-3M379 537l4 3 4 3 3 3 4 4 2 4 4 3 4 3 5 2 3 3M522 527l3 5 1 5-1 5-1 5 2 5 1 6 0 5 1 5 3 4 4 4 2 5 1 5M396 684l6 0 5-1 4-2 4-3 4-3 5-2 4-4 3-3 4-3 3-4M562 571l2-4 2-4 3-3 2-3 3-4 2-3 4-2 3-4 1-4 0-4-1-4 1-5M527 478l-2-4-2-5-3-4-4-3-3-4-3-4M397 526l0-5 1-5 1-5 4-4 2-5 0-5 1-5M352 612l-5 2-3 3-5 2-5 3-4 2-4 3-4 4M553 498l1 6-1 6-1 5-2 5-4 4-4 4-6 2-5 2-5 2-5 3-5 2M570 542l-4-1-4-1-4 0-5 1-3 2-4 2M408 554l4-3 5-1 4-1 4-2 3-4 3-3 3-4 3-3 4-2M380 621l-1-4-2-5-1-5-1-5-3-5-4-3-4-2-4-4-5-1M508 609l1 5 3 4 2 5 2 5 3 4 5 2 3 4 5 3 3 4M493 548l-3 5-2 4-2 6-1 5 1 5-1 5 0 6 2 4 3 5 4 3 5 3 4 3M358 646l1-4 1-4 0-4 1-4 2-4 3-2 3-3 2-4 1-4 0-4M348 584l-4 4-5 3-5 2-6 1-5 2-4 3-6 2-5 2-5 3-5 1-6 1M517 572l-3-3-3-2-3-3-4-3-2-3-4-2-4-2-4-2-4 0-5-1M402 658l-1-4-3-4-4-3-4-4-2-4-2-4-1-5-1-5-4-3-3-4-3-4M381 624l2-5 0-5 0-5 1-6 3-4 3-4 3-5 2-4 4-4M515 477l-3 4-3 4-1 5-2 5-4 3-4 3-5 1-4 3-5 3-4 2-4 2M429 575l0-5-1-4-2-4-3-5-2-3-2-5-3-3-5-3M389 572l2-4 0-5 2-4 1-4 1-5 2-4 2-4 4-3 4-2 5-1M344 604l-5-2-4-4-6-1-5-1-5-1-6 0-5-2-6 1M504 619l-2 4-1 4-2 5-2 4-3 3-2 4-2 4-2 4-2 4-1 4 0 5-1 4M549 647l-4 4-5 2-4 4-5 3-6 1-5 1-5 1-6 1-5 1-5 2-6 1M338 560l-3-4-5-3-5-1-5 0-6 0-5 1-4 2-6 1-5 0M450 521l-4 3-3 4-1 4-1 5-1 5-2 4M362 663l-5 1-5 0-6-2-5-1-5-2-4-3-5-3-5-2-4-3-4-4M345 539l0-4-1-5 0-5 0-4 1-5 0-5 1-5-1-4 1-5 1-5M560 491l-4-1-4-1-4-3-3-4-3-2-5-2-3-2-4-2M561 579l0-6 0-5 2-5 3-5 5-4 4-3 4-3 5-3 3-4M499 676l4 0 5 0 4 1 5 1 4 2 4 1 5 1 4 1 5 1M537 559l-2 5-2 5-3 4-4 3-4 3-5 2-5 0M356 535l-2-4-4-2-4-2-4-1-4-1-4-1-5-1-4-2-2-3M512 523l3 3 2 4 1 4 2 3 4 3 3 1 4 1 4 0M395 642l4 1 4 3 4 0 4 1 4-1 4 1 4 2 4 1 4 2M522 474l-5 2-5 1-4 1-4 3-3 4-3 3-1 5M579 490l5 1 5 1 5 0 5-2 4-2 4-3M518 533l1-5 1-5 1-5 1-5 0-5 0-6-2-4 1-5 1-5 2-5 2-4M533 680l-5 0-5 2-4 0-5 1-5 1-4 2-5 2-4 2-5 1-5 1M490 573l-1 5-3 5-1 5-1 5-1 6 0 5 1 5M518 579l2-4 0-5 0-5 1-5 0-5-1-5-2-5-1-5M559 587l-3 4-1 5-2 4-2 4 1 5-1 5 1 5M402 690l-5 0-4-1-4-1-4-2-4 0-4-1M405 648l-1-4-2-4 1-4-1-5-1-4 0-4 2-5M407 654l-1-6-2-5-3-5-2-5 0-6 1-5-2-5-3-5M391 622l-4 2-4 1-4 0-5-1-4-2-3-3M550 633l-2 5-1 4-2 5 0 5 1 5 4 4 1 5 4 3M432 572l4 0 4 1 4 1 4 1 4 1 4 1 4 1 4 0 4 2 3 2M508 489l3 5 1 5 0 5-1 6-3 4-2 5 0 6 1 5M341 569l-4-2-4-2-3-2-3-3-3-2-3-3-4-2-3-2-3-2-3-4-1-4M486 596l-5-2-4-2-5-2-5 0-5-1-5 0-5-1-5-1-5 0-5-1-5-1-4-3M552 704l2 5 0 5 2 5 1 5 2 5 2 5 3 4 3 4 3 4M494 619l0 5-1 4-3 4-3 3-3 4-3 3-2 3M558 631l5 2 5 1 5 2 5 4 4 2 6 0 5-1 6 0M439 589l4 0 4 0 4 0 4 1 4 2 4 0 4-1 4-2 3-2M380 661l-2 4-3 3-3 3-4 2-4 2-4 3M391 642l1 3 3 3 2 4 3 3 2 4 2 3 3 3 4 2M341 639l4 4 5 2 4 2 6 1 5 0 5-1M578 606l3-4 4-3 4-2 4-4 4-2 3-4 2-4 2-5 1-4 2-5 1-5 2-4M505 605l-4-2-4-2-3-4-3-3-4-2-4-2M363 632l0 5 0 4 1 5 1 5 1 4 0 5-1 5 0 4M515 516l2 5 0 4-1 5-2 4-4 3-5 1-4 0-5 1M529 609l0 5-2 5-1 5-3 5-2 4-4 4-4 3M558 562l1 5 1 4 0 5 1 5 0 4-2 4-4 4M532 525l-4 0-5 1-5-1-4 0-5 0-4-1-5 1M341 557l2-4 1-5 0-4 0-5 1-5 1-4 3-4 2-5 2-4 3-4M427 588l2-5 3-4 2-4 1-5 2-5 2-4 2-5 2-4 2-5 2-4M479 661l3-3 2-3 2-4 3-4 3-3 3-3 3-2 4-3 4-1 3-3M553 661l-3 5-2 4-1 6-1 5 1 5-1 5 0 6 0 5 1 5 3 4M387 528l-4 2-4 3-4 1-4 0-4 2-4 2-4 1-4 3-4 2-2 4M507 597l-3 4-3 3-2 4-2 4 0 5 1 4 1 5 0 4M545 550l-5-1-5 0-5 0-5 0-4 0-5-1-5-2-4-1M331 598l-5-1-5-2-5 0-5-1-5 1-5 0-5-2-4-3M550 676l5 2 3 5 3 5 2 4 2 6 2 5 1 5 1 5M422 651l5 0 3-2 5-1 4-1 4 0 4 0 5 0 4-2M402 502l0-4-1-4 1-5 0-4 0-4 2-3 1-4M337 695l1 5 2 5 3 5 4 3 4 4 3 5 1 5 0 5 0 5 2 5M443 609l2-5 2-3 1-5 2-3 2-4 0-5 1-4M568 708l5-2 5-2 5-2 6-1 4-3 4-3M400 538l4-1 4-1 4-2 4-2 4-1 3-2 4-2 4-2 3-3M575 646l3 2 4 2 4 1 4-1 4 0 5-1 3-2 4-1 4-2 2-3 4-3 4-1M357 596l2 4 3 3 4 3 3 2 3 3 3 4 2 4 1 4 2 4M459 627l2-5 2-4 3-3 1-5 1-4 2-4M399 618l-5 0-5 2-3 3-5 2-5 1-5 2-4 3-3 4-2 4-3 5-2 4-1 5M440 572l2 4 3 3 4 2 3 3 2 4 2 4 2 5 1 4 2 4 1 4M345 581l-3 1-4 0-4-1-4 1-4 0-4 0-5 0-4 1-4 0-3 2M359 682l-3 4-3 4-4 3-4 2-5 1-5 2-5 1-4 2-5 2-4 4-4 2-4 3M506 551l-4-1-5 0-4 0-4-1-4-2-4-2-4-1-3-3-4-2-4 0-4 1M577 688l0-5 0-5-2-4-3-4-4-4-4-3-2-4-3-5-4-3-4-3M566 521l2 3 3 3 3 2 3 3 2 4 4 2 3 2 4 1M536 614l2 4 2 4 2 4 1 5 2 4 1 4 3 4 4 2 4 2 4 3M532 607l1 5 3 4 2 5 0 6 2 5 3 4 3 4 5 3M579 600l-3-3-2-4-2-3-2-4-1-4-2-4-2-4-3-3-2-4-1-4-3-3M526 623l3 5 2 5 3 5 3 5 2 5 4 3 3 5 1 6M564 696l-5 0-5 0-5-2-5-1-4-3-4-3-5-2-4-3M487 644l3-4 4-3 3-4 4-3 4-3 5-2 4-2 5-1 5-1 5-1 4-2 4-4M339 654l-1 5-2 5-2 4-4 4-3 3-3 4-5 3-4 2M382 658l0-4 1-5 0-4 2-4 1-5 1-4-1-4-2-5 0-4-1-4-2-5 1-4M420 568l3-3 4-4 3-4 2-4 3-4 5-2 4-1 5 0 5-1 5 1M486 571l2 5 3 4 3 3 5 2 4 3 3 4 4 3 3 4M550 499l1-5 2-4 1-4 1-5 2-4 2-4M553 494l-1-4 0-5 0-5 1-4 2-5 3-4 3-3 3-4 3-3 4-3M522 568l3 4 3 3 3 4 3 3 4 3 3 3 2 4 1 5M443 531l2 5 1 4 0 5 1 5 1 4 0 5M381 549l3 4 4 4 4 3 5 1 5 2 5 1 5 0 4 2 5 3M502 516l-2 4-3 4-3 2-4 2-3 3-3 3M454 573l-5-1-4-2-4-2-4-3-4-2-4-3-4-1-4-3-4-3-3-3-4-2-5-1M452 555l-3-4-3-4-2-4-1-5 0-4 1-5 2-4M484 643l3-4 3-5 3-4 4-4 5-2 5-1 5-1 6 0 5 0 5-2 4-4 5-2M502 696l4 0 4 1 4 0 4 0 4 0 4 0 4 0 4 1M390 577l2-4 0-4 1-5 2-4 0-5 1-5-1-4 0-5 0-5-2-4-1-5-2-4M443 505l-2-5-3-5-3-4-1-6-1-5-3-4-1-6 1-5 2-5 3-5M401 579l4-3 4-3 3-3 5-1 4-2 3-4 4-2 3-3 4-3 4-1 5 0M471 517l1 4 3 3 3 2 3 4 2 3 3 3 3 1M465 622l1 3 1 4 1 4 2 4 2 3 1 4 2 4 2 3 2 3 3 3M417 499l-3 5-3 4-2 5-1 5-2 5-4 3M446 491l2-5 3-3 3-3 4-2 4-3 5-1 4-2 5 0 5 1 4 0 5 1M375 557l3 4 4 4 2 4 2 5 1 5 4 4 2 5 1 5 1 5 0 5M570 585l-2 4-3 3-2 4-2 4-1 4 0 5 0 4-2 4-2 4-3 3M442 628l5 0 4 2 5 0 4-1 4-2 5 0 4-1 5 0 4-3 5 0 4-2M384 610l2 4 1 5 2 5 1 4 0 5 1 5 1 4 2 5 3 4 1 4 0 5M414 558l-4-4-3-4-3-3-3-4-2-5-3-4-2-5-2-4M439 679l4 2 4 0 4 0 5 0 4 1 4 1 4 2 4 1 5 0 4 1 4 1M438 541l5 0 4 1 5 3 4 2 5 2 4 2 5 0M488 658l5 1 5-1 4-1 3-3 4-3 4-3 4-1 4-4 3-3 2-4 1-4 0-5M462 523l-4-4-5-2-4-4-3-4-3-4-3-4-2-5 0-6M341 510l3-3 3-2 3-3 3-2 4-3 2-3M468 679l1-4 3-4 4-3 2-4 2-4 1-4 0-5 1-4 1-5M461 702l-3-3-2-3-3-3-3-3-3-2-3-2-2-4-2-4-2-3-3-3M504 565l-5 0-5 0-4 3-4 2-5 2-5 1M343 651l4 3 4 1 4 2 4 3 4 1 5 0M492 476l-3-3-3-3-1-3-2-4-2-4-2-3-2-3-2-4M563 485l1 4-1 5-1 4-3 4-2 3-2 4 0 5 0 4 0 5-2 4-2 4M352 658l-4-2-5 0-4-1-4-1-5-1-4-2-4-2-3-3-4-1-5-1-4 1-4 0M329 640l4-3 4-3 4-3 3-3 2-4 1-5 1-4-1-5-2-4M562 659l-1 5 0 5-1 6-1 5 1 6-1 5-2 5-1 5-1 6-2 5M399 652l-4-2-5 0-5 1-5 0-5 0-5-1-5-1M500 616l4 2 5 1 4 2 4 2 4 3 5 0 4 0 5-1 4-2 5-2 3-3 2-5M567 517l-1-5 0-5-2-5 0-5 2-5 2-5 2-4M469 506l-4 4-2 5-1 5 0 6 1 5 0 6-1 5-2 5-3 5-1 5 0 6M557 629l0-5 0-4 2-4 2-4 2-4 3-3 1-4 3-4 2-4 2-3M353 680l0 5 1 5 2 5 0 6-2 5-2 5-1 5 1 5-1 6 1 5M452 466l3 4 3 3 3 4 3 4 3 4 4 2 4 3 3 3 2 4 1 5 2 4 4 4M345 582l4 2 4 3 4 2 5 1 5 0 4-3 5-1 5-1 5 0 5-1 5-1 4-2M429 565l-3 4-3 5-2 5 0 5-1 5-1 5 0 5 1 6M528 544l2 3 2 4 2 3 2 3 2 4 3 3M556 592l-2 4-4 3-3 3-2 4-3 3-4 2-4 2M542 505l-4-3-3-5-4-3-5-2-4-3-3-3-3-4M384 558l-2 4-2 4-2 4-3 3-2 4-2 4M468 697l-3-5-1-5-4-5-4-3-5-2-5-3-4-4M369 570l-5 0-4 0-5 1-5 0-4 1-5 1-5-2-5-1-4 1-5-2-5 0-4-1M455 538l5-3 5-3 5-2 5 0 5-1 6-2 5 1 5 1 6 0 5 0M516 713l4 3 2 5 3 4 4 2 4 4 2 4 3 4 2 4 1 5 3 4 3 4M538 623l2-4 0-4 1-5 0-4-2-4-2-4-3-4-4-2-3-3-2-5M401 494l4 2 4 2 3 4 3 3 2 4 4 3M564 488l-4 0-5 1-4 2-4 0-5 2-4-1-4-1-4-1-4-3-2-4M518 520l3 4 3 5 2 5 0 5-1 5-1 6-3 4-4 4-5 1-6 2-5 1M453 601l4 2 4 2 3 3 3 3 3 2 3 4 4 2 4 1M508 642l-4-3-3-2-4-1-4-1-3-2-3-3-3-3-3-2-3-3-1-4-2-4M412 466l3-3 4-3 3-3 3-3 4-2 5-2 4-1 4-1M335 578l-5 1-5 2-5 1-6 0-5 1-5 2-5 1-6 1-4 2-5 2-6 0M472 616l5-2 5-2 5-3 4-3 5-3 4-4 5-3 4-3 5-3 3-5 1-5 0-6M538 512l4 0 4-1 4 0 4-2 3-2 3-3 4-2 4-1 4 0 4 0 3-2 4-1M549 614l2 4 1 4 3 4 1 5 1 4 3 3 1 5 0 4 1 5 1 4-1 5M481 505l-3 3-3 3-3 3-4 2-3 2-4 2-4 2-4 2-4 0-4 0M450 490l-6 0-5-1-6 0-5 0-6 1-5 0-6 2-5 2-5 1-5 2-5 4-4 4M533 548l-2 4-3 2-4 2-3 3-3 2-4 1-4 1-3 3-2 4-3 3M384 687l4-3 4-4 5-2 5-3 4-3 5-2 5-3 5-3 4-3 5-2M452 508l3 3 3 2 4 2 3 3 4 2 3 2 4 1 4 3M351 592l2 4 1 4 3 3 1 4 2 4 1 4 2 3 0 4-1 4-1 4 1 4M335 515l4 1 5 0 5-1 5-1 4-2 4-3 5-1 4-2 4-3 4-2 4-4M389 649l4 0 5 1 4 0 4 1 4 2 4 3 3 2 3 3 5 2 3 1 5 1 4-1M511 652l4-3 4-2 4-4 4-3 4-3 3-5 4-3 5-1 5-2 3-4M531 521l-4 0-5 0-5 0-4-1-4-1-5-2-4 0-5 0-4 0M474 510l-4-1-4 0-4 1-4 0-4 0-4 2-4 1-3 3-3 2-3 3M434 488l3 3 3 4 1 4 1 4-1 5-1 4-1 4 0 5-1 4-1 4 1 4M335 497l-2-5 0-5 1-5-1-5-2-5-1-5-2-4-4-4-4-3-4-3-2-5-3-4M466 694l-3-3-4-3-4-3-3-3-4-4-5-1-4-1-5 0M351 610l5 2 4 2 5 0 5-2 5-1 5 0 5 1M495 597l5 4 5 1 4 3 6 1 5 0 5-2 6 0 5 0 5 1 5 1M520 530l-4 1-4-1-4-1-4 0-4 0-4 0M466 509l-1 5-1 5 2 5 1 5-1 5-1 5-1 5-2 5 0 5-1 5-3 4-2 4M330 670l-4 3-3 5-3 5-1 6-1 5-2 5M452 477l4-1 4 0 4 0 4-1 5 0 3-1M495 487l3 3 4 4 4 2 5 0 4-1 5 0 5-1 4 2 5 1M356 566l3 3 4 3 3 2 4 2 4 3 2 3 3 3 5 1 3 2M507 557l-3-4-2-5-4-3-3-4-3-4-4-3-2-5M542 493l3 3 4 1 3 3 3 3 2 4 3 3 2 4 3 3M369 467l-4-1-5 1-4 0-4-2-3-1-4-3-4-2M435 499l2-5 0-4 1-5-1-5 0-5-1-5-2-4-1-5 0-5 1-5 1-5-1-5M374 495l-4-2-4-3-3-3-4-2-4-2-4-2-4-2-4-2-5-1M569 530l3-4 4-2 5-1 5 0 4 0 5-1 5-2 4 0 5-2 4-2 4-3 4-3M366 661l4 1 5 2 5 0 5 0 5 1 4 1 5 2M507 581l5 1 5 2 3 4 3 4 1 5 0 5 0 5 1 5M528 490l1 4 3 3 4 2 4 1 4 0 4 0 4 2 4-1M364 481l4-2 5-1 5-2 5 1 4-2 5-2 4-3 4-2 4-2 4-4 5-1M519 522l3 3 2 3 2 4 1 4 0 4 2 4 1 4 2 3 0 5 1 4 1 4 1 3M439 563l1 4-1 4 0 4-1 3-1 4-1 4-3 2-4 3-2 3-2 3-3 3-4 2M476 516l-2 5-1 5-1 5 0 5 1 5 0 5 1 5 2 5 3 5M345 555l1-5 2-5 1-6-2-5 0-5 1-6 3-4 1-6-1-5 1-5 0-6-1-5M552 475l4 1 4 0 4-1 5 1 4 2 3 3 3 3 4 3 2 3M446 521l2-4 2-4 3-4 3-3 4-3 4-2 3-3 4-2 4-2 4-1M480 679l1 5 2 5 3 4 3 5 3 4 4 4 4 3 5 3 5 0 5 1 6 0 5-1M422 601l2-5 1-4 1-5 0-5-1-5-1-5-2-4-1-5-1-4M512 510l0 5 1 5 2 5 2 5 2 5 1 5M519 700l-2-4-1-4-3-4-3-4-4-2-3-4-3-4-1-5-3-4-2-3-5-3M363 608l-5 0-4 1-5 0-4 0-5 0-4-1M415 504l-3 4-5 4-5 2-5 1-6 2-4 3M579 641l4 4 4 3 5 3 5 2 3 4 5 4 5 1M534 621l-2-4-1-5-2-4-4-3-3-4-4-2-4-3M494 544l-4-1-4-3-4-1-4-1-5-1-4 1-4-1M377 633l-4 0-4-2-3-2-4-2-4-1-4 0-5 0-3-2-4-2M489 512l-6-1-5 2-5 0-6-1-5 1-5 0-5-3-5-2-5-1-5-1M460 602l-1 5 1 4 1 5 0 5 0 4 0 5 1 5 0 4M436 582l-4 3-5 1-4 3-4 3-4 2-5 1-4 3-4 2M428 480l3 4 1 6 1 5 1 5 2 5 0 5 1 6 2 5 0 5M408 499l5 1 4 1 4 2 5 0 4-1 5 0M412 550l-1 5-3 5-3 4-3 4-1 6-2 5-2 5-1 5 1 6M432 675l3 3 2 4 2 4 1 4 1 5 2 3M420 569l-3-4-2-5-1-5-3-4-2-5-1-5-1-5-3-4M426 629l-1-4-1-4-1-4-2-3-3-3-3-3-3-2M406 481l-4-2-5 0-5-2-5-1-5-2-4-2-5-2-3-3-5-2-5-2-4-3-4-3M371 533l2-4 4-3 3-3 4-2 4-3 3-4 3-4 4-2M489 561l1-4 1-4 0-5 0-4-1-4-3-4M381 638l2 4 1 4 1 4 1 5 0 4 1 4M502 527l-4 3-5 2-5 0-5 2-6 0-5 0-5-2-5-1-6 1-5 0-5 0-5 0M493 685l0-4-1-5 0-4 1-4 0-4 0-5 0-4M362 618l4 1 5 1 4 4 3 4 2 4 2 4-1 5 2 5M526 542l-3 5-3 3-4 4-3 4-2 4-4 4-4 2-5 1M508 650l2 4 1 5 1 5-1 5 0 4 1 5M492 516l-3-3-1-4-2-4-3-2-3-3-4-2-4-1M374 616l1 4 2 3 2 4 2 4 1 3 3 3 3 3 3 2 3 3 2 4 3 3 2 3M351 607l1 5 0 4-1 5 0 4 2 4 2 4 0 5 1 4M429 545l2-4 0-5 0-5 1-4 0-5 0-4M473 579l3-4 4-3 4-1 5 0 4 2 4 3 3 3 4 2 4 2 4 3 3 4 4 2M393 624l5 0 5 0 6-1 5 0 5 2 4 2 5 2 4 3M455 655l-1 6 2 5 2 5 3 4 2 6 2 4 2 5 1 6 2 5M356 643l1-4 2-4 3-3 4-2 4-1 4-2 3-3 3-3 4-2M542 556l1-6 2-4 3-5 2-5 3-4 5-2 6 0 5 1 5 3M447 501l-5 1-5 0-4 0-5 1-5 2-4-1-5 1-5 1-4 2-4 2M526 574l-5 0-6 0-5-2-5-2-4-5-2-4-4-4-5-3-3-4M412 576l-1 4 0 5 0 4-1 4-3 4-2 4-2 4-2 4-3 4M448 524l-4-3-5-3-5-1-4-3-4-4-2-4-2-6-2-4-4-4M466 495l4 4 4 3 4 4 5 2 5 3 5 1 6 0M566 658l2-4 1-4 0-4 0-5 2-4 2-3M400 515l-1 5 1 5 1 4 3 4 4 3 5 1 5 0 4-2 4-2 3-4 2-4 2-5M528 640l5 1 5 0 5-1 4-1 5-1 5-1 5-1 5 0 4 0M475 689l0-4-2-4-1-4-2-4-2-3-2-4-2-3-3-4-1-4-2-4-3-3-3-2M526 537l3 3 3 3 3 2 4 3 4 1 4-1 4-1 4 0 4-1 4-1 3-3M394 700l-2 4-3 3-3 3-2 3-3 3-3 2-3 2-4 2-3 2M477 637l5 1 3 3 3 3 4 2 4 2 4 3M492 646l1-5-1-4-2-4-1-4-2-3-4-3-2-4-3-3-3-3-4-2M494 580l-2-5-1-5-3-5-1-6 2-5 3-4 3-5 3-5M487 518l-3 4-3 4 0 5 1 5 1 5 2 4 2 5 1 5 3 4 2 4 3 4M446 653l6 2 4 3 5 2 6 1 5 1 5 3 6 0 5-1M460 511l4 1 5 0 4 0 4-2 4-1 5 0 4-2 4-1 4 2M503 475l-1-5-1-4-2-5-3-4-3-3-3-4-2-4-2-4-1-5M347 655l3-4 2-3 3-4 4-2 2-4 3-4 2-4 0-5 0-4 1-4M447 477l5 0 5-1 5 0 5 0 5 0 5-1 5-1 5-1 5-1 4-1M406 698l-3 4-3 4-3 4-3 4-4 2-4 3-4 3-4 3-4 4-5 2-5 0M472 528l-3-4-4-3-4-2-4-3-3-3-3-4-1-4-1-5"/>
<path stroke="rgb(49,180,73)" stroke-opacity="1" stroke-width="1.5" d="M526 513l1-6 0-6 2-6 2-6 1-6 0-7 1-6 2-5 1-7 0-6-1-6-1-6M440 628l6-2 6-2 5-2 6-2 6 0 6-2 6-2 6-2 6-1 6-1 6-1M428 612l-8 0-7 0-8 0-7-1-7-2-8 1-7 1-7 2-7 1-8 0-7 1"/>
<path stroke="rgb(63,198,85)" stroke-opacity="1" stroke-width="1.5" d="M575 599l-3-6-4-6-4-6-4-5-4-6-4-5-3-6M531 693l8-1 8 0 8-1 7-4 7-3 8-1 7-3 8-3M489 575l-2 7-4 5-5 5-4 5-3 5-4 6-3 6-5 4-4 5-5 5M557 496l4-7 4-6 5-6 4-7 3-7 4-7 3-7 6-6 4-6 4-7 4-6 4-7M499 610l6 5 6 4 7 4 6 4 6 4 5 5 4 6 4 6 3 7 2 7 3 7M485 473l6 1 6 2 6 1 6 0 6 1 6 3 6 3 4 4 5 3 6 3 5 3 6 2M514 571l-6-4-6-4-6-4-5-6-5-5-6-5-5-6-3-6-2-7-1-8-2-7-2-7"/>
<path stroke="rgb(22,108,40)" stroke-opacity="1" stroke-width="1.5" d="M467 642l4 7 4 6 5 6 6 5 4 6 3 7 3 8M368 514l-5-7-5-7-3-7-2-8-2-8-4-8-3-7M386 675l-5-6-3-6-2-7-3-7-2-7-1-7-2-7-1-7 0-8-2-7M503 633l0 8 1 8 2 8 2 7 2 8 1 8 1 8 2 8M331 625l3 6 4 5 4 5 5 4 4 5 5 4 6 3M488 581l6 3 6 1 6 1 7 1 6 2 6 3 4 4 6 4 6 2 6 2 6 3M443 581l7 4 5 6 6 5 6 5 5 6 6 4 6 5 7 4 6 4M513 682l-1 7 0 7-2 7-1 6-2 7-1 7-2 7-2 6-2 7-2 7"/>
<path stroke="rgb(40,157,63)" stroke-opacity="1" stroke-width="1.5" d="M359 632l6 3 4 4 6 4 5 3 7 3 6 0 7 1 6-1 7 0 6 1M566 547l4-5 4-5 3-6 1-6 0-7 0-6M394 512l5-5 3-6 2-6 0-6 2-7 2-6 3-6 4-5 2-6 2-7 1-6M411 565l6-1 6-2 5-3 4-5 5-2 6-2 6-2 6-1 6-2 6-1 6 0M540 610l-5-5-5-6-3-6-4-7-3-6-5-6-4-6-4-6-5-5-5-6-6-4-5-6M418 471l6 5 6 4 8 3 7 3 6 4 8 3 6 4"/>
<path stroke="rgb(31,135,52)" stroke-opacity="1" stroke-width="1.5" d="M427 672l1-8 0-7-2-7-1-7-2-7-3-7-5-6-4-6-4-6-5-5-4-6-3-7M333 503l-7 2-6 4-7 1-7 0-6 2-8 0-7 1M451 528l-3 8-2 7-2 7-3 7-2 8-3 7M394 700l-1 7 1 6 0 7 2 7 3 6 5 6 3 5 3 7 2 6 2 7 2 6 2 7M361 564l4-6 5-5 4-6 3-7 4-5 3-6 2-7 3-7 3-6M520 570l3-7 4-6 4-7 4-6 2-7 3-7 3-7"/>
<path stroke="rgb(27,90,36)" stroke-opacity="1" stroke-width="1.5" d="M416 695l-4-7-4-8-4-6-4-8-3-7-3-8M403 666l-8 1-8-1-7-2-6-5-8-2-6-4-7-4-7-3-7-4-7-2M488 599l4-7 5-5 6-4 5-6 5-5 5-5 4-6 6-5M396 602l-7 2-6 3-7 2-6 3-6 4-7 3-5 4-7 3M479 537l6-3 7-2 7-2 6-2 8-1 7-1 7-1 6-3 7 0 7-1 8 0 7-1M509 691l-7 0-6 1-6 1-7 0-6-1-7-2-6-1M500 671l6 2 7 2 6 1 7 1 7-1 6 2M505 602l5-4 6-4 5-4 6-3 5-4 5-4 4-6 5-5 4-5 5-5 5-4 5-4M552 581l-2-7-4-7-3-6-4-7-5-4-6-5-5-6-4-5-4-6-4-7-2-7-4-6M521 608l6-4 6-4 6-2 5-4 5-5 6-4"/>
</g></g>
<clipPath id="clip3"><rect x="54" y="353.1" width="114.3" height="111.7"/></clipPath>
<g clip-path="url(#clip3)">
<rect x="54.00" y="353.10" width="114.30" height="111.70" fill="#020803" />
<g fill="rgb(25,100,30)" opacity="0.25" filter="url(#fblur3)"><circle cx="81" cy="414" r="17"/><circle cx="126" cy="360" r="11"/><circle cx="84" cy="379" r="27"/><circle cx="81" cy="370" r="26"/><circle cx="88" cy="357" r="25"/><circle cx="122" cy="456" r="17"/><circle cx="83" cy="428" r="23"/><circle cx="102" cy="446" r="20"/></g>
<g fill="none" filter="url(#fblur)" transform="scale(0.5)">
<path stroke="rgb(54,175,73)" stroke-opacity="0.9" stroke-width="1.4" d="M244 918l4-2 4-1 5 0 4 0 4-1 5 0 4-2 4-1 5-1 4 1 4 0 5-1M224 941l3 4 1 5 3 4 3 4 2 4 1 5 1 4 2 5 3 4 2 4M212 823l-2-4-1-4-2-3-2-4-1-4 1-4 0-4 0-5-1-4-2-3M159 847l5 0 5-3 3-3 3-5 0-5 3-5 4-4 2-4M176 772l-4-3-1-4-3-4-3-3-4-2-4-2-3-3-3-3-4-2-4-2M120 879l-4-2-5 0-5-2-5 0-5 0-4-2-4-3-4-3-3-4M321 770l1-4 0-4 1-4 0-5 2-3 2-4 2-4M210 876l5 1 5-1 4 0 5 2 4 1 5 2 4 0 5-1M267 834l-3-3-1-4-2-3-3-3-3-4-1-4-1-4-1-4-1-4-1-4-3-3M175 738l-1-5-1-5-3-4-3-3-5-2-4-1-5 0-5 0-5 0-5-1-4-2-4-3M233 885l2-3 4-3 3-3 4-1 3-3 4-2M256 936l0 5 2 5 1 5 3 4 2 5 3 4 3 3 4 4 4 3 3 4 5 2 3 4M116 902l6 0 4 2 4 3 3 5 3 4 2 5M189 786l-4-4-4-4-5-3-4-4-3-4-5-3-5-1M219 833l0 4-1 5 1 4 1 5 2 4 1 4 3 4 3 3M232 887l3-4 4-3 5-2 5-2 4-3 4-3 5-3 4-2 4-4 3-4 3-4 4-3M203 855l3 4 4 4 4 3 4 3 5 2 5 2 5 2 5 0M223 709l2 4 2 4 2 4 0 5 2 4 2 4 3 3M186 933l-5 0-4 1-4 1-3 3-4 2-2 4-2 4-1 4-3 3M279 778l3 2 4 2 3 3 2 4 1 4 1 5 0 4 1 4 2 4 3 2 4 2M258 916l-5 0-4-3-5-2-5-2-4-3-5-2-5 0-5 2-5 0-5 2-5 1M255 897l0 4 0 4 1 4 1 4 2 3 3 3 1 4 3 3 1 4 3 4 1 4M259 729l1-4 0-5-2-4-2-4-3-3-3-3-3-3M194 939l4 2 2 4 2 5 0 4 2 4 2 4 3 3M207 863l3-4 1-4 2-4 0-4-1-5 1-4 0-4 1-4 1-5M147 768l3 4 4 2 2 4 2 4 2 5 1 4 2 4 0 5 0 4-2 5M281 746l1 4 3 3 1 4 2 5 2 3 2 4 2 4M229 905l-5-1-5 1-5 2-6 2-5 0-6 0-5-2-4-2-5-3-4-4-5-3-5-2M307 879l5 2 5 1 4 0 5 0 5-2 4-3 5-1 5-1 4-1 4-3 5-1M224 930l-1-4 0-5 2-4 1-4 0-4-1-5 1-4-1-4M283 731l-4-4-4-2-5-1-5-2-6 1-5-1-5-1-5-2-4-2-5-2M125 863l1 4 2 5 1 5 3 4 2 4 2 4 0 5 2 5 4 3M284 931l1 5-2 5 1 5 1 4 1 5 3 5 1 4 0 5M325 802l1 5 1 5 0 5 2 4 3 5 2 4 2 5 2 4 3 4 5 2 5 2 5 0M302 754l0 4 1 4 3 3 0 4 0 4-2 4-2 3-1 4-1 4 1 4M285 845l3 3 3 3 5 1 4 1 5 1 4 1 5 0 4-1M208 869l3 3 2 4 2 3 2 4 3 3 1 4M282 932l-4 3-6 2-5-1-5 1-5 2-4 3M331 866l-6 1-5-1-6 0-5 2-5 3-5 1-5 3-4 4-3 4-2 5-3 5M228 734l-1-5-1-4 1-5 1-4 3-4 2-4 3-4 1-5 1-5 0-4 0-5 0-5M314 706l-4-1-4-2-4-1-4 1-4-1-5 0-4-1M103 764l4 1 4 1 3 2 4 1 4 0 4 1 4 1 3 1 5 0 3 1 4 0M297 895l-1-5-3-4-2-5-2-4-2-5-1-5-1-5 0-5 1-5 0-5-1-5M116 933l-2 4-2 4-2 4-2 4-3 4-3 3-4 2-4 2-4 3M171 877l1 4-2 4-1 4-1 5 0 4 1 5-1 4-2 4-2 4 0 5-1 4 0 5M210 755l-2-5-1-4-2-4 1-5 2-4 2-4 2-4 2-5 2-4 3-3 3-4M179 695l1-5-1-6-3-5-3-4-3-4-4-5M274 908l-3-5-4-3-3-5-3-4-5-2-3-4-3-5-4-3M142 756l-3 4-4 4-3 4-5 3-5 2-4 4-2 6M136 919l5 2 4 1 4 3 4 2 3 3 5 1 4 2 4 2M129 886l-1 5 0 4-1 5-2 4-2 4-2 5-1 4-1 5 0 5-2 4 0 5 1 5M308 825l-4 0-5 0-5-2-4-2-4-3-4-2-4-4-1-5-2-4-3-4-5-2-3-3M232 723l5 0 5-1 5 0 5 0 5 0 4 2 4 3M228 809l-3 4-3 3-3 4-3 3-3 3-2 4-4 3-4 2M221 847l5 0 5 0 5 0 5 0 4 0 5-1 5 1 5 2 5-1 5 0M233 888l3-5 4-3 2-5 3-4 3-4 4-3 4-4 4-3M249 878l4 1 4-1 5 1 3 1 5 1 4-1 4-1 4-1 4 1 4 1 4 0M103 812l5-1 5 1 5 0 5 1 4 2 4 4 4 3 4 3M127 855l2-4 2-4 2-4 3-3 3-3 2-4 3-3 1-4 1-5 1-4M248 740l4 2 5 2 4 2 5 1 4 3 3 4 1 5 2 4 2 5 3 3M166 770l-2 4-3 5-3 4-4 3-3 4-4 3-3 4-3 5M161 764l-1-4-2-3-2-4-1-4 2-4 0-4 2-4M118 801l-3 2-5 1-3 2-3 4-2 4 0 4 1 4 2 4 3 4 1 4 1 4M263 794l3 4 4 4 4 1 5 3 4 2 4 3 3 4 3 4 3 5M177 933l-4-3-5-1-6 0-5 1-5 0-6 0-5-1-5 1-6 0M142 854l-2-5-1-5-2-4-2-5-3-4-2-5-2-5-1-5-1-5M209 907l0 4-1 4-2 4-1 4 0 4-2 5 1 4-1 4-2 4M267 828l0 6 0 5 3 5 4 4 3 4 3 5 3 4 3 5 5 3 4 3 5 3M210 795l4-2 4-2 3-2 3-4 3-2 3-4 1-4 0-4 1-4M293 753l-1 4-1 4-2 4-3 2-4 2-4 2M188 913l3-3 3-2 4-2 4-1 4 0 4 1 3 2 2 4M280 902l2 4 1 4 0 5-1 4 0 4 0 5 0 4 0 4 2 5 1 4 2 4 2 4M153 874l-5-1-5-2-5-2-5-3-5-3-4-3-5-3-6-1-4-3-4-4-3-5-5-3M124 788l1-6 3-4 5-4 3-5 3-4 1-6-1-5-1-6 0-5-2-5-2-6M222 864l3-3 4-3 4-3 4-3 3-4 2-4 3-4 1-5 2-4 1-5M97 829l-5 2-4 1-5 2-5 1-4 1-5 1-4 3-5 1M153 696l5 3 4 3 4 5 3 4 4 4 3 4 5 4 3 4 1 5 0 6-1 5-3 5M164 826l5 2 3 3 5 3 4 1 5 1 4 3 5 2 3 4M335 916l4 1 4 2 2 3 3 3 1 4-1 4 1 5 3 3 3 3M215 885l-3-3-3-4-2-4-2-4-2-4-2-4M189 921l4-2 5-2 4 0 4-2 5 0 4-2 4-3 4-3 2-3M130 820l1 6-1 5 1 5 2 5 4 4 3 4 3 5 2 5 1 6-1 5 1 6M195 941l1 5 1 4 1 5 1 5 0 5-1 5 1 5 3 4 3 4 3 4 4 3 3 4M323 939l5 0 6-1 5-2 5 0 5-2 4-3M122 731l4 3 5 3 4 0 5 0 5 0 5 1 4 2 4 3 5 1 5 2 4 3 3 3M176 811l-3-4-3-3-3-4-4-3-4-2-5 0-4 1-4 3-5 2-4 3-3 3M162 905l4-2 3-2 4-2 4-2 3-3 2-4 2-3 3-3 2-4 2-3 0-4 0-5M190 752l-4-3-3-4-4-3-3-4-2-4-3-4-2-4-2-5M318 775l-4-1-4-3-2-3-2-5-1-4-1-5 0-4-1-4-2-4-2-5M142 784l3-3 3-4 1-5 2-5 3-4 2-4 4-4 4-3 5-1 5 0 5-1M278 929l-5 3-3 3-3 4-1 5-2 4-2 4M201 936l3-4 2-4 2-5 2-5 4-3 4-3 5-2M189 710l-3 3-4 4-2 4-2 3-3 4-1 5-3 3-2 4-3 4-3 3-4 3-4 2M252 746l-2 5-3 4-1 5-3 4-3 3-4 3-5 1-5 2-4 0-5 0-5-2M104 938l-2 5-2 5-3 5-4 4-4 3-5 3M215 833l-1-5-3-5-1-4-2-5-2-4-4-3-2-4-4-4-4-2M202 876l-6 1-5-1-5-2-6-1-5-3-4-2-5-3-6-1-5-2-5-2M249 891l-2-5-3-4-2-5-2-5-4-4-4-3-5-3-5-2-5-1M182 760l1 4-1 4-1 4-1 4-2 3-1 4-3 3-2 4-2 3M97 914l-1 4-1 4 0 4-2 4 0 4-2 4-1 4-3 3M274 919l5-1 5-3 4-4 4-4 4-4 4-4M233 885l-4-1-4 0-4 0-4-1-4 0-4 1M284 859l2-4 4-3 3-3 5-2 4 0 5 2 4 2 4 2 5 1 4 1 4 3 4 3M286 939l5-1 5 1 4 1 5 0 5 0 5-1 5-2 4-2 5-1M165 894l1 4 4 4 3 3 3 4 2 5 3 4 1 4 3 4M188 772l-3 2-4 0-4 2-3 2-4 1-4 0-4-1-3-3-4-1M215 755l-5-2-4-3-3-4-4-3-4-2-4-4M246 880l5 0 5 2 4 3 4 3 5 3 5 1 5 0 5-1M184 919l-3 5-2 5-4 4-4 3-4 4-3 5M252 709l3-4 3-4 5-2 5-2 5-1 4-4 3-4 4-3 3-3M165 827l6-1 5-1 6 1 5 0 6-1 5-1 5 0 6 0 5-2 5-2 6 0 5-2M128 845l-5 2-6 0-5 1-5 2-5 1-5 3-4 3-5 3M298 700l-2-3-3-3-4-2-3-3-4-1-3-2-4-2-3-2-4-2-2-3-3-3M151 787l-1-5-2-4-4-3-5-3-5-1-4-3-5-2-5-2-4-3M192 831l-3 3-4 2-3 2-4 2-3 2-4 1-4 1-3 2-4 2-4 1-4 2-4 0M151 784l1 3 1 4 2 4 1 4 3 3 4 2M188 752l-4 1-3 3-3 3-4 0-4 0-4 0-4-1-4-1-4 0-4 2-4 0M188 832l-2 5 0 5-2 5 0 5-2 5-4 3-5 3-4 3-4 4M179 874l-5-1-5-2-4-2-5 0-5-2-5-2-4-3-4-3-4-1-5-1-5-1M154 859l3-4 1-5 3-5 2-4 2-4 3-5 4-3 4-3M168 843l0 5 2 4 3 4 2 4 3 3 3 4 4 3M199 918l-3-4-2-4-3-4-1-5-1-5-3-4-1-5-3-4-1-5M174 806l-3 3-2 3-3 3-4 2-3 2-4 2-3 3-2 3M322 809l4 0 4-2 3-3 3-2 3-3 3-3 3-3 1-4 0-4M146 924l-6-1-5-1-5-2-5-2-6 0-5 1-5 1-6 2-4 3-6 1-5-1-6 2M191 886l1-5 3-4 1-4 0-5 1-5 1-5-2-4-2-5-2-4-2-5M307 809l-3-3-2-4-2-4 1-4 2-3 1-4 0-4M110 808l1-5 1-4 1-4 0-5 0-4 1-5M113 743l-4 3-4 2-3 4-4 2-3 3-5 2-4 2-3 3-5 2-4 0-5 0M159 786l-5 3-5 1-6 1-6-1-5 0-5 2-5 3-3 5-4 3M123 907l-4 2-4 1-4 0-4 1-4 3-4 2-4 0-4 1M289 909l-4 4-2 5-3 5-1 6 0 5-1 6 1 5-2 6-4 4-4 2-5 3-6 2M136 770l1 5 3 4 3 4 2 4 1 5 1 5M253 915l-2-5-2-4-3-4-2-4-2-4 0-5 2-5 3-3 2-4 4-3 4-3M180 832l-2 5-3 3-4 3-4 2-4 4-3 3-4 4-3 4-2 4M335 709l-3 4-2 5 1 4 1 5 1 5 1 5 2 4 2 5 1 5M296 802l-4 2-4 3-3 4-3 4-4 2-4 2-3 4-4 2-4 2M127 839l4-3 4-5 3-4 5-2 6-1 5 0M147 772l-2 3-3 3-2 4-2 4 0 4 0 4 1 4M290 696l-2 5-3 5-2 5-3 5-1 5-2 5-2 6M234 737l2 5 2 5 1 6 3 5 0 5 0 6-2 5-3 4-2 6 0 5-1 5 0 6M206 801l1 6 0 5-1 6 1 5-1 5-2 6-3 4 0 6 0 5-1 6 1 5-1 6M195 897l-2 4-3 3-2 3-2 4-2 3-2 4M185 901l2-4 2-5 3-4 2-4 3-5 2-4 0-5 1-5M225 887l-3-4-3-3-4-3-5-1-5 0-5 0-5-1M284 914l-3 4-4 2-5 0-4 2-5 0-5 1-4 3-4 1-4 3M254 875l-3 3-4 3-5 2-3 3-2 5-1 4-1 5-1 5 1 5-1 4-2 4M155 806l-2-4-2-4-2-3-1-4 0-4 1-4M208 842l-4-2-4-3-3-4-4-2-5-1-5 1M137 827l-1 4 1 5 1 4 1 5 2 4 3 4 2 4 1 5-1 4 0 5-2 4M236 842l2-4 3-3 3-3 2-4 2-4 3-3 3-3 2-4M159 917l-3 4-3 3-3 4-2 4-2 4-2 4-2 5-1 4-1 5-1 5M113 709l3 4 3 3 4 3 4 2 5 1 5 2 3 3 3 4 3 4 3 3 2 4M322 837l4 2 2 3 4 3 4 1 4 1 4 0 4-2 4-2 3-2 3-3 3-2M128 865l5 1 5 2 5 2 6 1 5 1 5 1 5 2 6 1M324 892l3 2 3 4 2 3 3 4 2 4 3 3M211 742l-4 1-5 1-4 0-4-2-3-3-3-2-4-1-5 0-4 1-4-1-4 0M127 916l-3 3-5 3-3 3-4 4-4 2-5 1-5 1M132 827l1-5 1-5 3-4 4-3 3-4 3-4 4-3 4-3 5-2 5-2 4-3 4-2M213 898l-6 0-5 1-6 1-5 2-6-1-5-1-6-1-5-2-3-4-4-5-2-5-3-4M197 878l1 3 0 5 0 4 1 4-2 4-2 4 0 4-2 4 0 4M115 740l-3-4-2-3-2-3-1-4-3-4-3-2-1-4-2-3-1-4M228 698l-3 4-2 4-1 4 0 4 0 4 3 4 3 3M320 791l-4 2-4 2-3 2-5 1-4 1-4 1-4 2M101 766l-5 1-6 0-5 1-5 1-5-1-5-2-5-1M240 721l-3-3-4-3-4-2-4-2-3-3-4-2-4-2-4 1M196 823l1-5 2-5 1-5 0-6 2-5 1-5 3-5 0-5 0-5M128 926l4 2 3 4 3 3 2 4 2 4 3 3 4 3M212 763l-5 0-5 1-5 2-6 1-5 2-5 3-3 3M162 784l-2 4-3 3-4 2-4 2-5 1-4 2-3 3-2 4-2 4-2 4M223 779l-2 4-3 3-4 2-4 1-4 2-5 2-4 0M163 840l-4-2-2-3-1-4-3-3-3-3-4 0-4 0-4 0-4-1M187 826l-3-4-4-3-5-2-5-1-5 0-5 0M208 907l-4-2-5-2-4-2-3-3-3-4-3-4-3-3-4-3-4-3-3-3-4-3M220 774l-3 4-1 6-2 5-1 5-1 5 0 6M279 707l-2 4-1 5 0 5-2 4-1 4-1 5 0 4 0 5 0 5M334 816l-1 5-1 4 0 5 1 5 1 4 2 5 2 3M274 926l2 4 4 2 3 3 3 2 4 3 3 2 4 2 3 3 3 2"/>
<path stroke="rgb(40,153,63)" stroke-opacity="0.9" stroke-width="1.4" d="M312 939l-1-5-1-6-1-5-3-5-2-5-1-5-2-5-1-5-1-6M341 863l-5 2-4 2-5 3-5 2-4 3-3 4-3 4-4 4-4 4-5 2-4 3M283 748l0 4 0 4 0 5-2 3-1 5 0 4-1 4-1 4-3 3-2 4 0 4 0 4M185 743l1-4 2-4 1-4 3-4 2-3 3-4 2-4M257 705l4 2 4 2 4 3 4 3 5 1 4 2 4 3 5 0 5 1 5 0 4 2M267 703l2 4 2 4 3 4 4 2 3 3 3 3M120 927l2-4 2-5 3-3 4-2 3-4 5-2 3-3 4-2 5-3 4-1 4-2 4-3M128 845l2-5 1-5-1-5 1-4-1-5 0-5 1-4 3-4 3-4 3-4M176 889l2-4 3-3 3-3 3-3 3-3 3-3 3-3 3-3 3-3 2-4 3-2M157 790l-1 5 1 4 0 5 1 4-1 5 0 5M110 856l0 5-2 4-2 4-2 5 0 4-1 5-3 4-1 5 0 5-2 4 0 5 0 5M336 705l1-5 2-4 0-5-1-5 0-4 2-5 2-4 4-3 3-3 4-2 5-1 4-2M170 928l-4 3-4 3-3 4-2 4-2 5-1 5M331 827l5-2 6-1 5-1 6 2 4 3 5 2 4 4 5 2 6 1 5 2M208 745l4-4 5-2 5-3 3-5 3-4 3-5 3-5 3-5M211 893l4-3 3-4 3-4 2-4 1-5 2-4 1-5M158 782l-5 0-6 0-5-1-5-2-5-2-5-1-5-2-5 0-6 0-5 1-5 2M332 904l5-2 5-1 5-2 6-1 4-4 4-3 4-4 4-4 2-5 1-6 1-5 0-6M229 884l-5-2-4 0-5 0-4-1-5-1-4-1-4-2-3-3-3-4M314 901l4 0 4-2 4 1 5 1 4 1 4 0 4-1 4-2M306 740l-4 3-5 1-4 2-4 3-5 2-5 1-5 0-4 2-5 0-5-1M196 747l4 2 3 3 3 3 4 3 3 2 4 2 5 1 4 0 4-2M220 837l3-3 4-3 3-3 4-4 3-3 5-2 3-4 3-3 4-3 3-4 2-4M140 792l-5 2-4 1-5 0-4 2-4 2-4 2-4 2-3 4-3 4-2 3M238 791l-4-3-3-3-3-4-2-4-2-3-4-3M158 749l1 4 2 4 2 4 2 4 3 4 2 4M163 765l1 5 2 4 1 4 1 5 2 4 1 4 0 5M273 780l-4 2-4 0-4 0-4 0-4 1-4 2-4 0-4 1-4 2M170 780l0 4 0 4-1 4 0 4-2 4-1 3-1 4 1 5M141 811l3 4 3 4 2 5 4 3 2 4 4 4 2 4 3 4M237 781l-2 3-3 3-1 4-3 4-4 2-4 1-4 0-4 0-4-2M195 745l2 5 0 5 2 5 0 5-1 5-1 5-2 4-3 5-1 4-1 5 1 5-1 5M104 890l-4-1-4-3-4-1-4-3-4-2-3-3-3-4-1-4M312 809l-3-4-4-4-2-5-2-4-2-5-1-5 0-5 0-6 1-5M236 911l-5-1-6-1-5-1-6 1-5 1-5-1-6-1-5-2-5 0M121 810l3-3 3-2 4-1 4-1 3-2 3-2 3-3 4-2 2-3M135 758l3 4 3 3 4 2 4 4 2 4 3 4 3 4 4 2 4 2 4 3 5 2M200 929l-5 1-5 0-5-2-5 0-4-2-5-2-5-1-4-4-3-4-4-3-4-2-4-4M278 734l0 5 1 5 2 4 3 4 3 5 3 3 3 4 4 3M222 863l-1 5 0 4-1 5 1 5 1 4 2 4M313 906l2 4 1 4 1 5 1 4 0 5 0 4-1 5 0 4 0 5 1 4M281 798l4-2 4-2 3-2 4-1 4-2 4-1 4-2 3-2 3-3M322 880l-5 1-5 0-5 0-5-2-5-4-4-3-5-1-5-1-5 2-5 2-5 2M273 732l-3-5-2-5 0-6-2-5-4-4-5-2-4-4M153 892l4 2 4 3 3 5 2 4 1 5 0 5-1 6 2 5M109 807l1-5 3-5 2-5-1-6 2-5 3-5 2-5 2-5M175 739l1 5 2 5 2 5 0 6-1 5-2 5 0 6-2 5M197 742l-3-3-3-2-3-4-2-3-1-4-3-3-1-4-2-4M256 758l-4-1-5 0-5 0-5-1-5-1-5-1-5 0-4-2-5 1-5 0-5-1M194 863l5-1 4-3 5-1 5-2 5-1 5 2 5 1 6-1 5-1 5-1 5 1M137 815l-3 3-3 3-2 4-3 4-1 4-1 4-2 4 0 5 0 4 0 5 1 4-1 5M321 826l-1 5 1 5-1 6 0 5 2 5 0 6M168 819l-4-4-5-2-4-3-5-1-4-4-4-3-3-4-2-5-4-4-4-2-4-4M246 734l4-3 5-1 4-1 5-2 3-3 4-3 4-4 3-3M114 738l1 5 3 5 3 5 2 5 2 5 2 5 3 4 1 5 3 5M204 898l3 3 4 4 2 4 1 4 0 5-1 4 0 5M329 768l-5 0-6 0-4 1-6 0-5 0-5 2-4 2-5 3-3 4-3 5-1 5-3 4M173 707l4 1 4 3 4 2 4 2 4 1 4 3 3 3 4 2 3 4M176 696l-3-4-3-4-3-4-4-4-4-3-3-4M157 908l-1-5-2-5 0-5-2-4-2-5-2-4M108 700l-1-5-1-5-4-5-1-5-2-5-1-5 0-5-2-5M345 873l-4-4-4-2-5-1-4-3-5-1-5 1-5 0-5 2M337 890l0-4 1-4 0-4 1-5-1-4 0-4-1-4 0-4-1-4 0-4 2-4 2-3M154 860l3-2 4-3 2-4 2-4 1-4 2-4 3-4 3-3 2-4M259 754l-3-2-4-3-2-4-3-3-3-3-3-3-3-4-3-2M189 811l4 0 4-1 4-2 3-1 5-1 4 1 4 1M250 920l6-1 5 0 6 1 5 0 6 1 5-1M282 803l-2-5-3-4-4-4-5-3-4-3-3-4M244 800l-3 4-3 4-3 4-1 5-2 5-2 5 0 5 0 5 0 5 0 5 2 5M148 715l2-4 1-5-1-4-1-5-2-4-2-4-1-5 0-5-1-4 1-5 0-5M217 782l3-2 4-2 3-3 2-4 1-3 2-4 1-4 1-4M298 778l-3-4-4-4-3-4-3-4-5-3-4-2-5-2-6 1-4 2-5 2M254 703l-5-3-4-4-4-4-5-2-5-2-5-2-4-4-2-6-2-5-2-5-3-5-4-4M289 913l-4 3-4 3-4 3-4 4-3 5-4 3-3 4-4 3M147 838l3 3 5 1 4 1 4 2 4 1 4 3 3 3 3 3M127 735l-4 0-4 0-4 1-4 1-4 1-4 0-4-1-4 0-4 1M274 924l-2-5-1-5-3-5-1-5-3-4-4-5-2-4M128 783l-4 2-4 4-2 4-2 4-2 4-1 5M202 932l3 5 1 5 4 5 2 5 1 5 3 5 3 4 3 5 1 5 0 6 2 5 1 5M172 808l2-5 1-5 2-5 2-4 2-5 3-4 4-4 3-4 4-3 4-3 4-4 4-4M223 897l5 4 4 3 4 3 3 5 4 4 3 4M170 749l1 4 0 4 1 4 1 4-1 5 0 4-1 4-2 3-1 4 0 4 0 5 0 4M179 826l4-2 3-3 3-4 2-4 3-3 2-5M224 749l-5 2-6 0-5-1-6 0-5 1-6 0-5-2-6-1-5 2-4 4M147 872l2-5 0-5 0-5 0-5-3-4-2-4-1-5-1-5-2-4M189 806l-4 0-5 0-4 0-5 0-4-2-4 0-5 0-4 1-4-1M266 711l0-4 0-5-1-5 0-5 1-4 3-4 4-3 2-5 3-4M174 702l4 1 4 1 4 2 3 4 4 2 4 2 4 1 4 1M198 817l-3-3-3-4-4-3-4-2-5-1-4 0M203 698l5-1 6 0 5 1 5 2 4 3 5 2 5 2 5 1 5 0M122 880l5-4 4-4 5-2 4-3 4-5 3-4M310 826l-3-4-4-2-4-3-3-4-3-3-2-4-2-5-2-4-1-4M176 751l0 4 0 4 0 4 2 4 2 3 3 3 2 3 2 4 3 3 3 3 3 2M186 789l-1-5-2-3-1-5-3-3-2-4-2-4-2-4M167 725l1-4 1-4 1-4-1-4 0-4 0-5-2-4-2-3M147 939l4-2 4-1 4-2 4-3 2-3 4-3 4-2 4 0 5 0M338 770l-2 5-4 4-4 3-3 4-3 4-2 5M232 741l5-2 3-4 4-4 1-5 4-4 3-4 4-3 4-4 1-5 1-5M266 746l-2-5 0-6-2-5-4-4-2-5-3-5-2-5-1-6-2-5-1-5 0-6M169 794l5 0 5 1 5 1 5-1 5-2 3-4 3-4 3-4 2-5 2-4 2-5M155 883l0 5-2 4-2 4-3 5-2 4-3 3-5 2-4 3-3 3-3 5-3 3-4 2M243 913l4 2 5 2 4 3 4 2 4 2 5 1 5 0 5 1 5 1 4 2 5 1 4 3M110 818l-4 3-5 1-4 1-5 2-5 0-4 2M279 935l1 5 2 5 1 6 0 5-2 5-3 5-4 3-3 4-3 5-4 4-4 3-5 3M170 701l-5-1-5-1-5 0-6 0-5-1-5 0-5 2-5-1-5 2-6 0M148 924l-4-3-5-2-4-3-4-3-3-4-2-5-4-3-4-3-4-3M266 939l3 4 2 4 2 4 1 4 1 5 0 4-1 5-2 4 1 5M111 834l-3 3-4 4-3 3-4 3-4 1-5 1-5 1-4-1-5-1-5 1-5 0-4 0M192 935l1-5 1-4 3-4 3-4 4-2 5-1 4 1 4 2 5 2 4 1 5 0M293 789l3-5 5-3 4-4 5-2 5-1 6-2 5-1 4-4 5-3M279 834l4-3 4-1 4-3 3-4 4-3 3-3 4-3M102 823l2-4 3-4 4-3 4-3 4-1 5-1 4 1 5 1 5 0M199 791l4 3 4 1 3 1 4 2 4 2 4 1M346 898l4-3 3-4 3-4 1-5 2-5 2-4 0-5M204 699l3-2 3-3 2-3 1-4 2-4 1-4 2-3 3-3 3-2M150 835l-4 3-4 2-4 4-3 3-4 3-4 2-5 1-4 0M195 923l5-3 4-4 4-4 3-4 3-5 5-3 4-4 2-5 5-4 3-4 6-2M224 756l3 3 3 2 4 3 2 3 2 4 0 5 3 3 1 4 2 4 1 4 3 3 1 4M338 814l-2 4-2 4-2 4-2 4-3 4-2 4-1 4 0 5-1 4 0 5 0 4-1 5M155 736l-2-5-3-3-4-4-4-2-4-2-4-3-3-5-3-3-3-4M246 926l2-3 2-4 1-4 3-3 3-3 3-2 3-2 4-2 4-1 3-2 3-3 2-4M148 733l0-6 0-5 0-6 2-5-1-5-1-5-4-5-4-3-5-2-5-1-5 2-4 4M305 935l-4-3-2-4-3-3-3-3-4-2-4-2-3-3-2-4 0-4-2-4-1-5-2-3M248 779l-3-3-4-1-4-3-3-3-4-2-3-3-3-3-2-4-2-4-1-4M285 925l4 1 5 1 5 2 5 0 4-1 5-1 5 0 5 2 3 3 5 2 5 0 5 0M160 844l0-4 0-5 3-4 3-3 4-2 5-1 4 0M231 938l3 4 2 5 1 6-1 5 0 5 0 6 2 5 1 5 3 4 2 5 0 6M185 855l-2 5 0 5-1 4 0 5-1 5-2 4-2 5-2 4-3 4-3 4-2 4M331 825l3-4 0-5 0-4 2-4 1-4 1-5 0-4 1-4 0-5M291 938l-2 4-2 4 0 5 0 4 2 4 3 4 3 3 3 4 3 3 2 4 2 4M269 905l-1-5-2-5 0-5 0-5-1-5-1-5M96 739l-5-2-5-3-4-3-5-3-5-3-4-3-5-4-5-2-4-4-6-1-5-1M304 932l-5 2-5 3-5 1-5 2-5 3-2 5-3 5-2 5M236 932l4-3 4-2 4-1 4-3 4-1 3-3 4-2 4-2 4-2M170 743l-5 0-4-2-5 1-5 1-4 1-5 0-5-1-4-1-5-2-4-1-5 1-5 1M194 879l1 4-1 4-2 4-3 3-1 4-2 4-1 4M139 905l5-2 5 0 4 2 5 0 5 1 4-1 5 2 5 1 4 2 4 3 4 2M137 852l5-2 5-1 5-1 5-2 4-2 5-2M229 755l5-1 4-2 4-2 4-1 4 0 5 0 4-2 4-1 4-2 4-2M183 894l2 4 3 3 1 4 1 5 2 4 3 3 3 3 1 5 3 3 2 4 0 4M101 856l-1 5-3 4-4 3-5 3-3 4-3 5-3 4-3 4-3 4-4 4-4 3M254 786l2-4 0-4 0-4-2-4-1-4-1-4M212 795l-4 2-4 0-4-2-4-2-4 0-4-1-4 1-4 0M160 698l-2 3-2 4 0 5-2 3-3 4-2 3-2 4-3 3-2 4-1 4-2 4M103 860l-4-3-3-3-3-4-2-4-3-4 0-4-2-4-2-5-2-3-1-5-1-4M105 794l3-4 3-4 5-3 5-2 5-2 4-4 3-4 5-2 6-1 5 0 5 0M335 869l2 4 3 5 1 4 1 5 1 5 3 4 4 4 3 4 4 3 4 3 3 4M195 715l-3 4-3 3-3 3-3 4-3 4-2 4-3 4-1 4-2 4M226 715l5-2 4-2 5-1 4-2 4-2 4-2 4-3 5-1M144 920l-3-4-4-4-2-5-1-5-1-6 0-5-2-5-2-5M178 765l4-2 4-3 4-2 3-3 3-3 5-2 3-2 2-4 3-4M212 886l4 3 4 2 4 0 5 0 4 0 5 0 4 1M208 706l-1-5 1-5 1-5 1-5 2-5 2-5 0-5M220 696l-3-2-3-3-3-3-3-3-3-3-3-2-4-1-3-3-3-3-3-3M144 724l3 3 3 5 0 4 2 4 1 5 0 4M160 773l-3 5-3 4-5 3-4 4-4 3-5 3-5 1-5 3M252 755l4 1 5-2 4 0 5-1 4 1 4 0 5 0M103 796l3 3 3 4 2 3 3 4 2 3 3 3 4 2 3 3M104 729l-5 4-3 4-3 5-4 4-4 3-3 5M278 739l0-6-3-4-3-5-1-6-2-4-2-6 0-5 2-5 2-5 0-6-1-5M135 703l-4 3-6 1-5 1-5 0-5 0-5 2-6 0-5-2-5 1-5 2-4 3M122 780l5 0 5-1 5-3 4-3 4-2 5-3 4-3M345 773l5-3 5-2 6 0 4-3 5-1 6-1 4-3 6 0M207 843l-4 1-5-1-5-1-5 0-4 0-5 2-4 2-4 2-4 4-4 2-4 3-4 1M239 797l2-5 5-3 4-3 5-3 4-3 5-2 4-4 4-3 4-3 5-4M136 852l-4 2-4 1-4 1-5 1-4 0-5 0M293 754l4-3 3-5 4-4 4-3 4-4 5-3 5-2 4-3 5-3 6-1 5 0M334 902l0 5-2 4-3 4-4 3-5 1-5-2-4 1-5 2M226 790l-4-3-5-3-5-2-4-3-6-1-5-1-5-1-5-1-6-2-5-1-5 1-6 0M260 759l3 4 4 4 2 5 1 5 0 5 1 5 2 5 4 4 4 3 3 4 4 4 3 4M170 851l-4 2-5 2-3 4-3 4-1 5-2 4-1 4 1 5 2 5 3 3M106 734l-1-6 0-5 3-5 1-5 2-5 3-4M224 842l-4 3-4 2-3 4-2 4 0 4-2 5-2 4 0 4 2 5 2 4 2 4 1 4"/>
<path stroke="rgb(22,103,40)" stroke-opacity="0.9" stroke-width="1.4" d="M345 772l-3-2-3-3-3-3-3-2-3-3-2-4-3-2M337 699l-4-3-4-2-5-2-4-1-5-2-5-1-5 0-5-2M322 917l5 0 4 0 3-3 4-2 3-3 3-2 3-3 2-4 3-3 3-3 4-2M191 916l-3 5-3 4-4 3-4 3-4 3-2 5-2 5-2 4-3 4M216 753l-4-2-4-1-4 0-4 0-4 1-5 0-4-1-3-2-3-4-2-3M96 742l4-3 1-5 3-4 1-5-1-5-1-4-2-5-1-5M124 765l4-3 4-2 4-2 4-2 4-2 3-4 2-4 3-4 1-5-1-4M146 915l-5 1-5 2-5 2-5 1-5 1-5 1-6 0M338 766l-3 4-2 5-4 4-1 5 1 5 0 6 0 5 1 5M336 928l-3 2-3 3-3 2-4 2-4 1-4-1-4-1-4 0M113 697l-5 3-4 3-4 3-5 2-5 3-4 3M207 753l3 4 3 3 3 4 2 4 3 4 3 3 4 2M207 725l3 4 4 3 5 0 4 2 4 3 3 4 5 2 5 0M111 820l5 0 5-1 5-1 4-2 4-4 4-3 3-4 4-3M160 913l-2 5-3 4-3 4-5 3-4 3-4 4-3 4-4 3-5 2M258 874l1-4 0-5 2-5 1-4-1-5 0-5-2-4-4-4-3-3M98 876l4 2 4 3 4 2 4 3 3 3 4 3 3 4 3 3 3 4 4 3 2 4M301 888l4 3 3 3 3 3 4 2 4 1 5-1 4 1 4 2 4 1 5 0 4 1 4 3M96 803l5 2 5 2 4 1 5 1 5 1 5 2 4 2 5 2 5 0 5-2 5 0 4-2M202 784l4 0 4 0 4 1 4 1 3 3 3 3 4 2 4 1 4 1 4 0 4 1 4 3M320 882l2 5 1 5 0 5 1 5 3 4 1 5 2 5 2 4 2 5 3 4 2 5M102 720l-3 5 0 5 1 5 0 5-1 5-2 5-1 5 1 6 0 5M215 867l2-5 2-5 1-5-1-5-2-5-4-4M98 904l4-2 2-3 4-3 2-3 1-4 0-4 1-5 0-4-1-4-1-4M153 910l-5 0-4 0-4 3-3 3-2 5-3 4-2 4-1 4-2 5-1 5M173 916l-5 3-6 0-5 1-6 0-5-1-5-3-5-2M216 832l5 0 5 1 4 2 5 2 4 2 5 1 4 1 5 2 5-1 4 0M191 703l4 1 4 1 4 1 4 0 4 0 4-1 3-1 4-2 3-2 4-2 3-2M239 803l-4 2-4 1-3 2-3 3-2 4-1 4M205 848l-1-5-1-4-1-5 0-4 1-5-1-5-2-4-2-4-3-4M155 799l2-4 1-5 2-3 4-4 2-3 2-4 2-4 2-4 2-4 0-4 1-5 1-4M224 890l4-1 5 0 5-1 4 0 5 1 4 1 5 1M262 899l2 3 2 4 0 4-1 4-1 4-3 3-2 3-4 3-3 2-3 2-3 3-4 3M234 887l2 3 3 3 4 2 2 3 2 4 3 3 2 3 3 3 3 3 3 3M225 852l-6 0-5-1-5-2-5-3-5-3-5-2-5-1-5-3-5-2-5-1M307 926l-2 4-3 4-3 4-4 3-4 2-4 2M314 774l2-5 3-5 4-3 4-3 4-5 5-2 4-4M154 849l-1-4-3-4-1-4-2-5-2-4-3-4-2-4-2-4 1-5 0-5M102 835l3 3 1 4 2 4 2 4 3 3 4 1 4 2 3 3M170 728l4-3 3-3 4-3 4-2 4 0 5 0M187 908l-3 3-4 2-3 3-2 4-3 2-3 4-3 3M238 698l5-1 5-1 5 0 5 1 5 2 4 2 4 3 4 3 4 3 3 5M174 849l3-4 4-3 4-1 5-2 4-1 5-3 4 0 5-2 4-1M310 851l5-2 4-1 4-3 3-3 3-4 3-4 0-4 1-5 2-4 2-4 4-2 4-3M277 719l-5-1-6-1-4-2-6-2-5 0-5-1-6-1-5 0M336 939l-5 2-5 1-6 1-4 3-5 3-3 4-5 3-4 4-3 4-4 5-4 2-5 3M259 702l-2-4 0-4 0-4 1-5 2-4 1-4M181 845l2-3 3-3 2-4 1-4 3-4 2-4M181 869l-3-4-3-3-3-3-3-3-3-3-3-3-2-3M176 851l4-1 5 0 4-1 5 1 4 1 4 0M299 916l2 4 0 5-1 4-2 4-1 4-1 5M335 911l3 4 4 1 3 3 4 2 5 2 4 0 4 2 5 0 4 2 4 1 5 1 4 3M148 821l4 1 4 1 4 2 3 3 3 2 4 2 4 1 3 3 3 2 3 3M101 929l3-3 3-3 4-2 4-1 3-2 4-2 4-2 3-3M166 804l-6 0-5-2-4-3-3-5-2-5-3-5-4-3-5-3-5-1-6-1M112 699l-3-4-3-4-4-3-4-3-5 0-5-3-3-3-4-4M281 763l-1 4-1 5 0 4 0 4 0 4 2 4 2 4 3 3 2 3M194 740l-3-3-2-4-4-3-4-2-3-2-3-3-2-4-1-5M272 725l-3 4-4 4-4 4-4 3-5 3-4 3-5 3-5 1-6 1-5 1M113 865l2-4 2-4 3-4 2-3 3-3 4-3 4-2 2-4 3-3M168 724l2 5 3 4 4 4 4 3 5 3 5 1 6 2M256 755l3 2 4 3 4 1 4 2 4 3 2 4 1 4M119 785l-1-4 0-4 1-4 0-5 0-4 1-4 0-4 0-5 2-4 1-4 2-4M154 742l4-3 3-4 4-3 4-2 5-1 5 0 5-2 5 0 4 1 5 2 4 3 4 2M251 920l3 4 1 4 1 4 0 5 1 4-1 4-2 4-2 4M101 783l5-2 4-2 3-3 3-3 3-4 4-3 3-3 3-4 4-2M235 732l2 5 0 5 2 4 3 4 4 3 4 2M135 698l-3 3-3 4-3 3-2 4-3 4-3 3M213 921l-5 1-4-1-5-2-3-3-3-4-3-3-2-4-3-4-4-3-2-4M110 759l4 2 5 2 4 2 5 1 4 3 5 1 4 1M241 861l-5-1-5-1-4-2-5-1-5-3-4-2-5-2-3-3-5-3-4-3M198 894l-3-4-3-3-2-4-3-4-3-3-2-4-2-4-4-4-3-3M202 903l4 1 4-1 4-2 4-2 3-3 3-4 2-3 4-3 3-2 3-4 1-4M98 794l2-4 0-5 0-5 2-4 0-5 2-5 2-4 1-5M99 726l-1-5-3-4-2-5-2-4-1-5 0-5 0-5M112 776l-2-5-5-3-4-3-5-2-5-3-4-3-5-3-3-4-3-5-3-4M238 734l2-4 3-3 3-3 3-4 1-4 1-5 0-5-2-4 0-4M269 931l-4-3-5-2-4-2-3-4-3-4-4-3-3-4-4-4M170 863l-5 3-5 2-4 3-5 3-4 3-5 2-4 3-3 4-3 4-4 3M203 757l4 2 3 4 4 3 4 3 3 4 3 4 2 5 3 4 4 2M155 825l5 3 4 3 5 3 5 2 5 1 5 0M136 883l-4-3-2-5-3-4-2-4-4-4-4-3-4-3-4-3-4-3-3-4-4-4-3-3M127 840l-5 1-5 3-4 4-4 4-4 4-3 4-5 3M333 817l0-4 1-4 0-4 1-5 0-4-2-4-2-3M247 736l-4 2-3 2-4 2-4 2-3 3-3 4-2 3-1 5-2 3 0 5 0 4 2 4M246 737l-1 5-2 4-2 3-1 4-1 5-1 4-3 3-3 3M272 752l-5-2-4-3-4-3-5-3-3-5-3-4-2-4-2-5M205 758l3 3 5 2 5 0 5 2 4 0 5 1 5 1 5-1 5 1 5-1M219 708l-4-2-4-2-4-2-4-2-3-4-3-3-2-5-1-4M119 794l1 5 2 4 1 5 2 4 2 5 1 5 2 4 1 5 0 4 0 5M173 929l2 4 2 4 3 3 3 4 2 4 4 3 3 3 4 3 3 3 4 3 3 3M106 792l2 5 3 4 3 3 5 2 4 2 4 3 5 3 3 3M259 789l2 4 2 5 2 3 1 5 3 3 4 3 4 1 4 3 2 4 4 3M204 913l4-3 2-5 1-5 3-4 4-3 3-4 4-4M308 894l5-2 5-1 6-2 5 0 5-1 5-2 5-1M225 819l-4 0-5 1-4 1-4 2-4-1-4-1M292 781l-5 2-4 2-5 1-5 0-5-1-4-3-5 0-5 0M285 900l0-4 1-4-1-4-1-5-3-3-1-4 0-4-2-4 0-5-1-4M219 714l4-2 5 0 4 1 4 2 3 3 2 4 2 4 2 4 0 5 2 4 3 3 4 2M159 758l1 4 3 4 3 3 3 4 3 3 3 4 2 4M116 852l6 1 5 1 5 2 4 4 3 4 1 6 3 4 2 6 0 5-2 5-3 5-2 5M106 753l1-4 2-4 1-3 2-4 2-3 2-4 3-3 4-1 4-1 4-1M128 878l-2 3-3 3-4 3-3 3-2 3-3 3-3 3M338 891l-4-2-4-2-4 0-4-1-4 0-4 0-5 0-3-1-4-2-4-2-2-4-4-2M178 846l2-5 0-5 3-4 3-5 2-5 2-4 1-5 1-6M153 757l-2-4-1-3 0-5 1-4 1-4 1-4M248 697l-3 2-4 1-4 1-4 0-4 0-4 0-4 1M179 791l0 5 0 5 0 5 1 4 2 5 1 4 1 5 2 5 2 4 3 4 3 4M265 935l3-3 3-3 1-4 1-5-1-4-2-4-1-4-3-3-3-3-1-4M124 721l3-3 4-2 4-2 3-2 2-4 2-4M118 802l-3-3-3-3-3-3-3-3-3-3-2-3-3-4-2-3-1-4-1-4M212 814l5 1 5 2 6 1 5 3 4 4 5 2M192 871l0-5 0-4-2-4-1-4-2-4-2-4 0-4M99 815l-1-6-2-5-2-5-2-5-2-6-2-5-1-5 0-6 1-5M306 807l3-4 4-3 4-4 3-4 3-4 4-4 1-5 2-5 2-4 3-4 4-4M116 758l-3 4-3 3-2 4-1 5-4 3-4 2-2 4-3 3-1 5-3 3-3 3-5 1M119 750l-2-5-1-4-3-4-4-3-3-3-3-4 0-5-2-4-3-3-3-4-3-4M185 781l-2-4-2-4-3-3-4-2-3-3-4-3-3-3-2-4 0-4-2-4-3-3M337 795l-4 4-3 4-4 3-5 2-5 2-5 0-5 1-5 1-5-1-5-2-4-2M193 934l-4-2-4 0-5-1-4 0-5-1-5 1-4 2-4 2M212 778l-4 4-5 3-5 1-4 4-6 2-4 3-4 4-2 6-4 4-4 3-5 2M253 917l-4-3-4-3-4-2-4-1-5-2-4-1-5-3-4 0M163 900l4 2 5 1 5 1 5 3 4 3 4 3M195 819l-2 5-3 3-3 4-4 4-3 3-2 5-1 5M113 716l5-2 4-1 4-2 4-2 5-1 4 0 5-1 4-2 3-3 3-4 3-3 3-4M212 879l0 5-1 4-3 4-3 4-2 4-1 4 0 5-1 4 0 5-1 5 0 4 0 5M204 728l5 0 5 0 5 1 5 1 5 0 4 0 5 2 4 2 4 3M154 891l-4 3-3 4-1 5-1 4-2 4-2 5M259 705l4-3 5-1 5 1 5-1 6 0 5-1M223 869l-2 5 0 5 2 6 2 5 1 5 1 5 0 6-1 5-2 6-4 4M185 841l4-4 5-3 4-3 5-1 5 0 5-3 5-3 5-2 5-1 5-1 5-1 4-4M145 711l6 1 5-2 4-2 5-2 5-2 3-5 3-4 3-4 3-5 4-3 5-1M249 735l-3-5-5-3-3-5-2-5-1-5-1-6-1-5 0-6 1-5 0-6M214 786l3 2 4 2 3 1 4 3 2 3 3 2 3 3 2 4 2 3 1 4 1 4 1 4M231 828l-1 4 0 5-2 4-1 4-1 5-2 4-1 5-1 4-1 5M143 757l2-3 3-2 3-2 4-1 4-2 3-2M320 912l1 5 3 4 2 4 3 3 1 4 3 4 2 4M119 840l-4 2-3 3-4 2-4 2-5 0-5 0-4 1-5 0-4 1-4-1M299 781l4-3 2-5 3-4 5-3 4-3 4-3 5-1M167 776l0-4 0-4 0-5-2-4-4-2-3-3-3-2-5-2M307 811l4 1 4 0 4 1 5 2 4 1 3 3 2 4 3 2M267 874l-4 0-5 2-4 1-5 1-4 2-4 1-5 0-4 1-5 2-3 3-2 4-1 5M273 714l-1 5-3 3-1 4-1 5 1 4-1 4 0 4-2 4-1 5-1 4M159 731l4 4 4 3 5 2 5 2 5 2 6 0 4 3 6 0 5 2 4 3M237 873l0 5-1 4 0 5-2 4-2 4-3 3-2 4-3 4-3 3-3 4-3 3M176 805l2 5 0 5 3 5 3 5 2 5 2 5 2 5-1 6-1 5-4 4-4 4M253 928l3 3 4 3 3 3 1 5 2 4 2 5-1 5-2 4-2 5 0 4 0 5M152 925l-4 5-3 4-4 4-3 5-3 4-4 4-5 2-6 1-4 3M227 784l-3 4-1 4-1 5 0 5 0 4 0 5-2 5M254 842l-2-4-2-4-1-4-1-4 0-5-2-4 0-4 0-4M209 850l4 1 5 1 5 1 4 0 5-1 5 1 5 0 4-1 5-2 4-1 5 0M295 773l5-2 5-1 4 0 5 0 5 2 5 0M230 767l-4 1-4 1-4 1-4 2-4 1-5 0-4 1-4-2-4-1-4-2-3-4M196 716l-4-1-5 0-5 0-5-2-4 0-5 0-5 1-5-1-4-2-5-2-4-2M311 921l-3 5-2 4-2 4-3 4-2 4-4 3-4 3-3 3-4 3-4 3-4 1"/>
<path stroke="rgb(31,130,52)" stroke-opacity="0.9" stroke-width="1.4" d="M213 851l-5-1-5 2-6-1-5-2-3-4-4-4M104 807l2-4 2-4 4-3 5-2 4-2 4-4 1-4 3-4M105 884l-2-4-3-4-2-5-1-5-2-4-3-3M191 752l3-3 3-4 4-2 4-2 4-2 3-4 5-1M243 917l3 2 3 3 2 4 3 3 2 3 1 4 0 5-1 4 1 4 1 3 3 4M124 764l3 5 4 3 4 3 5 2 5 0 6 0 5 2 5 1 4 3M223 852l-4-2-5 1-5 0-5 1-4 0-5 2-4 3-4 2-3 4M167 870l4 1 4 1 3 2 3 2 4 3 3 2 4 2 4 2 2 3 3 3 4 2M230 911l-5 1-6 1-5 1-6 1-5 2-5 3-4 3-4 4-2 6M110 816l-1-5-2-4-2-5-2-5-3-4-3-5 0-5-1-5-1-5M96 710l3-3 1-5 1-4 3-4 3-3 3-3 5-2M109 822l-5 2-4 2-4 3-5 1-5 1-4 2-5 0M196 711l-3 3-2 3-3 3-2 3-3 3-3 3-3 4-2 3M264 755l-1 6-2 4-4 5-2 5-2 5-4 4-3 4-4 3M107 816l3 3 3 3 3 4 2 5 1 4 2 4 3 4 2 4 3 4 4 2 4 2 5 1M163 868l1 4 1 5 1 4-1 5 0 4 2 5 3 4 4 2 4 2 3 4 2 4M245 749l-6 0-5-2-4-2-5-3-4-2-5-1-6 0-5-1-5-1-5 1-5-1M216 867l4-2 4-2 4-3 5-1 4-3 5 0 4-3 5 0M184 814l-5 1-5 3-5 1-5 3-3 5-4 3-4 4-4 3-2 5M108 803l4-2 4-1 5-1 4 0 4 0 4-1 4-2 4-2 4 0 5-1 4-1M319 818l1 5 0 4-1 5 0 5 0 4 0 5-2 5-2 4-1 5-2 4-1 5M348 786l-4 3-5 1-4 0-5-1-5 1-5-1-4 0-5-1-4-1-5 0M271 934l-5 0-5 1-4 2-4 2-5 2-4 2M127 835l2-3 3-3 3-3 2-4 3-3 1-4 0-4 0-4 0-4-1-3M100 877l1-5 1-6 3-4 4-4 5-2 4-3 4-4 4-4 2-5 3-5M132 928l-3 3-3 4-2 4-1 5-3 4-4 2-4 2-3 4M119 840l4 0 4 0 4-2 4 0 4 1 4 2M173 880l-4-3-4-3-2-4-3-3-3-4-1-5-1-4 0-5M191 827l4 2 4 3 3 2 4 3 4 1 5 1M115 930l2 4 4 3 4 3 2 4 4 2 5 1 4 1M171 779l-4-3-5-1-4 1-4 2-5 1-4 0-5 1-4 2-4 1-5-1-4-2M167 882l-4-2-4-2-5 0-4-1-4-2-4-2-4-2-4-2-4-2-4-2M144 748l0 5 2 5 3 5 4 3 3 4 2 5 3 5 3 4 2 5 1 5 0 5 0 5M186 776l0-5-1-5-3-5-1-5 0-5 1-5-1-5 2-5M206 700l-1-4-1-4 0-5 1-4-1-4 1-5 1-4 2-4 3-3 4-3 4-1M239 880l5 0 4 3 2 3 3 4 3 4 4 2 3 4 2 4 3 3M154 937l1 5 0 5 1 6 3 4 0 6 0 5M289 759l0-4 2-4 1-4 2-5 0-4-2-4-1-4M318 808l3-3 3-4 3-4 2-5 1-4 3-4 3-4 1-5 2-5 1-4-1-5 0-5M144 831l0-4 2-4 2-4 3-3 2-3 3-4 1-4 1-4-1-5-2-3-1-4 0-5M137 881l2 4 1 4 0 5-1 4 1 4 2 4 0 4 2 4 1 4 0 4 2 4M298 941l-3 5-1 5 0 5-1 5-1 6 0 5 0 5-3 5 0 6M154 906l-2-3-3-3-4-2-3-2-4-1-4 0-4 1-4 1-4 1M213 879l5 1 4 0 4 1 5-1 4 0 5 0 4-1 4-1 4-3 3-3 3-3M134 851l4-4 3-4 3-5 1-5 3-4 4-3 4-3M130 777l2 5 1 4 1 4 2 5 2 4 1 4 0 5 1 4 2 4 3 4 4 2M149 699l-2 4-3 3-3 4-4 3-3 3-3 3-4 2-5 1-4 2-3 3-4 3-4 1M197 902l-5 2-6 1-5 1-6 0-5-1-6-1-5-3-5-1-6-2-5-2-5-1-6 1M180 885l-3-4-4-4-3-4-4-3-3-5-3-4-4-3-4-4-1-5-2-5-3-5M340 853l-1-4 0-5 2-4 3-4 2-4 2-4 1-5 3-3 2-5 3-3 3-4 3-3M224 873l-4-1-4-2-3-2-4-2-4-1-4 1-4 0-4 1-4 2M225 931l-5-2-6-1-4-2-4-4-4-4-4-3-5-2-5-1-5 0-5 0M192 908l-4-4-4-2-5-2-5-1-5 0-5-1-5 0-5 2-5 1-5 2-5 1M187 898l0-5-2-4-2-5-1-5-1-4-3-5-3-4M140 896l0-4 1-4 0-4 1-4 3-4 3-3 3-2 4-2 5 0M232 720l0-5 0-6-1-5 1-5 3-5 1-5 2-5 3-5 4-3 6-1 5-1M176 852l5 1 5-1 6 2 4 2 4 4 5 3M205 788l-3-4-3-3-4-1-5-2-3-2-4-3-2-4-2-4-4-3M340 753l-3 3-4 1-4 1-5-1-4-1-3-2-4-2-4-3-3-3M315 791l4-2 5-1 5-1 5-3 4-3 4-3M111 782l4 2 2 4 2 4 1 4 2 4 1 4 0 5-2 4-2 4-3 3-3 3-2 4M241 925l4-1 4 1 4 0 4-1 4-2 2-4 1-4 1-4 1-4 1-4-1-4 0-4M118 729l2-5 0-5 0-5-1-5-1-5-2-5-3-4-3-4-4-4-4-3M228 872l1 4 1 4 1 5 2 4 0 4 0 5M246 936l-4-1-5 0-4-2-3-2-5-2-3-3-4-1-4-2M273 706l2-3 3-4 3-2 4-2 4-1 4 0 4 0M201 832l5-1 5 2 5-1 5 1 5 0 5 0M98 778l-4 4-3 3-3 5-4 4-4 3-4 3-2 4-4 4M328 917l-3-3-4-3-4-3-5-2-4-1-5 0-5 0-5 1-4 1M190 819l3-5 4-3 5-3 4-3 5-3 4-3 4-4 5-2 5-3M245 738l4 1 3 3 3 3 2 4 1 4 0 4 0 5M197 807l-5 2-5 3-5 1-6 0-5 1-5 1-6 1-5 2-6 0-5-1-6 1M173 828l2 3 4 2 3 2 4 0 4 0 4-1 3-2M216 793l-4 1-5 1-4 2-4 0-5 0-4-2-4-2M144 784l-5 1-5 0-5 2-4 3-3 4-3 4-3 4-4 3-5 1-5 1-5 1M97 840l4 0 5 1 5 0 4 0 5 0 4 1 3 3 5 2 4 1 4 2 5 2 4 1M208 867l4 4 4 4 4 3 3 5 2 5 0 5 2 5 1 5 2 5M162 727l2-4 1-5 0-5-1-4 1-5 1-5 2-4 1-5-1-4-3-4M203 783l-4-3-3-3-4-3-4-1-5 0-5 0-5 1-3 2-3 4-3 4-4 3-4 2M158 805l-3-4-2-5-4-3-3-4-1-5 0-5 0-5 3-5 4-3 3-4 4-3 3-4M308 911l2 4 0 5-1 5-2 5-2 5-3 4M228 916l-3 3-3 1-4 1-4-1-4 1-4-1-4-1-4-1-4 1M255 705l-1 6-1 5-1 5 1 5 1 6 2 5 2 5 2 4 4 5 4 2M298 809l4 4 2 4 3 4 2 5 3 4 2 4 4 3 2 4 4 4 3 3 4 3 3 4M104 725l-3 4-2 5-3 3-2 5-1 5-3 3M193 704l-4-2-3-3-3-3-3-3-2-4-3-4-1-4-1-4-2-5-1-4-2-4M295 701l4 1 4 3 3 3 3 2 3 3 3 2 3 4 1 4 2 3 3 4M315 840l1-5 2-5 1-5 1-5 2-5 2-4 1-5M127 710l1-4 2-5 0-4 2-4 1-5 0-4 0-4-1-5-1-4M330 798l2-4 3-4 3-3 2-4 2-5 2-4 2-5 2-4M127 935l-3 3-2 4-3 3-1 4 0 4 0 5-1 4M163 699l-4 3-4 3-4 1-5 1-4 1-5 2-5 0-4 1-4 3-5 0M178 802l-5 1-4 0-4-1-5-2-4 0-5-1-4-1M236 801l-4 3-4 3-3 4-3 4-2 4-3 4M175 900l4 3 4 2 5 1 5 2 5 2 4 3 4 1 5 3 3 4M243 805l-1 5-1 3-2 4-3 3-3 3-1 4-1 4-2 4-1 4-2 4-2 3-1 4M236 769l-3 4-3 4-4 3-4 4-4 3-3 4-2 4-3 4-4 3-5 2M265 903l5-2 5-1 4-2 5-1 5-1 6 0 5 0 4-2M346 833l4 0 4 0 5-1 3-2 4-2 3-3 4-2 2-4M153 737l3-5 3-4 2-4 2-5 1-5 0-5-1-5 0-5-1-5-1-5-2-5M316 727l4-1 4-3 3-2 3-3 3-3 2-4 1-4 3-4 2-3 2-3M188 777l-2 4-2 4 0 4 0 5-1 4 0 4-2 5-2 3M144 842l3 4 2 4 0 5 0 4 0 5 1 4 1 5 0 4-2 4-3 4-2 4M161 774l2 5 3 3 2 5 3 4 4 4 4 3 5 1M107 931l5-1 5 0 5 2 5 2 5 1 5 1 5 2 5 1 5 2 4 4M260 846l-2 5 0 4-2 5-2 4-1 5-1 4-2 5-3 4-2 4-3 4M134 706l1-5 3-5 2-5 1-6 0-5 1-6-1-5-3-5-1-6 1-5M245 753l3-5 3-4 5-2 4-3 3-4 3-4 2-5 4-4 3-4 3-5 4-2M139 881l4-1 4 0 4-2 4-2 3-3 3-2 4-2M343 894l-4-2-3-4-2-3-3-3-3-3-2-3-3-4-2-3-2-4M255 833l-5 1-6 1-5 1-5 0-6-1-5-1M269 910l5-2 5-1 5-1 4-3 4-3 5-2 5-1 5 0 5 0M204 732l1-4 2-4 1-4 2-4 2-4 1-4 1-4 2-4 3-3 1-5M274 926l-3 4-3 4-3 4-2 4 0 5 0 5-1 5 0 4 2 5M172 857l-4 0-5 1-4 1-3 3-4 2-3 3-3 2M208 913l-4 2-5-1-4 0-4-2-4-2-4-1M124 817l-3 5-2 4-4 4-4 3-4 4-4 3-5 1-5 0M250 710l4-3 5-1 6-2 5 0 5 0 6 2 5 1M246 748l4 2 3 4 1 4 1 5 1 4 1 5 0 4-1 4 1 5 0 4M147 710l4 0 5 0 4 2 4 1 4 3 2 4 4 3 3 3 4 2M174 796l5 2 5 3 5 2 4 4 5 2 6 0 6 0 5 0M288 816l2 3 2 5-1 5-2 4-2 4-3 4-2 4-2 4 0 5-3 4M231 756l5 1 5-1 6 1 5 0 5-2 5-3 4-3 4-4 4-3 3-4M189 736l-1-4 0-4 1-5 2-4 1-4 2-4 1-4 1-5M248 936l-1 5-1 5-2 5-1 5-2 5-4 4-3 5-4 3-5 2M215 837l-4 3-4 3-2 4-3 4-2 4-3 3M164 876l3-3 3-2 3-3 2-4 3-4 1-3 3-3 2-4 2-4 1-4 2-4 3-3M133 767l-1-4-2-4-1-4-1-4-1-4 0-4M224 751l3 4 1 5 0 4 1 5 1 5 2 4 1 5 2 4 1 5 3 4 3 3M155 821l-3-4-3-3-2-4-2-4-3-3-3-4-2-4-3-4-2-4-4-3M327 929l4-2 3-2 4-2 5 0 4 0 4 1 4 2 4 2M192 810l3 4 4 5 3 4 4 4 3 4 5 3 4 4M323 890l-5 0-5 1-4 2-4 2-2 4-4 3-4 3-3 3-4 3M229 913l3 4 3 3 3 3 1 4 3 4 1 4 1 4 0 4M107 862l-3-5-1-5 0-6 0-5-1-6-2-5 0-6-1-5-1-6 1-5-2-5M143 738l1 5 0 5 1 5 0 5-2 6 1 5-2 5-1 5 0 5M104 814l-3 3-3 3-3 4-5 1-4 3-4 2M198 773l2 5 3 4 2 4 4 3 3 4 2 4 2 5 4 3 4 3 4 2 4 3 4 2M111 936l-4-2-4 0-4-1-4-1-4 0-4-1-4-1-4-1-4-2M321 750l0 5-1 5-3 5-4 4-2 4-3 5-2 4-4 4-4 3-3 4-5 2M116 887l2-3 3-4 3-4 4-3 2-4 3-3M224 874l3-3 3-3 2-3 2-3 3-3 3-3 2-3 3-3 4 0M180 713l-3 2-3 3-4 1-4 1-4 1-4 1-4-1M223 933l-5 0-5 1-5 1-5 2-4 3-3 4-4 4M253 914l0-4-1-4-2-4-3-3-3-2-4-2-4 0-4 1-3 1-4 1-3 3-4 1M101 936l4 0 4-2 3-2 1-4 3-3 2-4 0-4-1-4M153 910l2 4 1 5 1 4-1 5-1 4 0 5 1 5 3 4M139 830l1 4 0 5-1 4 1 5 1 4 3 4 4 2 3 4 4 3 3 3 2 4M190 753l-5-2-5-4-3-4-4-3-4-4-5-4-3-4-2-5-1-6 0-5 0-5-1-6M161 751l5-2 4-3 3-3 2-5 2-5 1-5 1-5-2-5-2-4M195 938l4 3 5 3 6 0 5 1 5 3 3 4M99 865l-4-2-5-2-3-3-3-4-4-3-4-3-4-3M147 855l-2-4-1-5-1-4 0-5 1-5 0-4 0-5-1-4-3-4-1-5-1-4-1-5M181 828l-3 2-4 3-3 3-4 2-5 0-4 0M109 786l-2-4-2-4 0-4-1-5 0-4-1-5-1-4 1-5 2-4 2-4 0-4M190 917l-2-5-3-5-4-3-5-4-4-4-4-2-5-4M226 941l4 1 4 1 3 2 3 2 3 3 3 3M103 727l-3 3-4 3-2 4-2 5-2 4-3 4-2 4-1 4-1 5 1 5M295 859l4-3 5-2 5-3 5-1 6-1 5 1 5-1 6-1M340 752l4-4 4-3 3-4 4-3 3-5 1-5 3-5 1-5-1-5 1-6 1-5 1-5M135 747l3 3 4 2 3 3 4 1 4 2 3 2 5 1 4 1 4-1M99 762l-4-1-4-2-4-1-4-2-3-1-4-1-4-2-4-2M187 867l0-5 0-5-2-4-3-4-1-5 1-5-1-5 0-4-2-5M219 822l-1-6-1-5-2-6-1-5-1-5 0-6-2-5 0-6 1-5M296 900l-4 2-4 3-4 2-3 3-3 3-2 4M177 839l4 0 5 0 5 0 4 1 5 2 4 2 4 2 3 4 4 3 3 3M145 860l-3-3-4-4-2-4-3-3-3-4-3-4-2-4-3-3-4-3M246 712l4-1 4-1 4-2 3-3 4-3 4-1 4 0 5 0 4 0 4 0 5 0 4-1M137 888l5-3 5-1 5-1 5-2 4-4 4-4 1-6M314 816l-2 3-1 4-2 3-2 4-3 3-2 3-3 3M146 807l-3 4-1 5 0 6-1 5 1 5 3 5 1 5 4 4 3 4 2 5 1 5M259 911l0 6-2 4-1 6 0 5-2 5-1 5-4 4-3 4-2 4 0 6M165 867l5-1 4-3 5-2 4-2 5-1 5 0 5 0 5 1 5 0 4-2M175 926l2 3 1 4 1 4 0 4 1 4 0 4-1 4-1 4"/>
<path stroke="rgb(63,198,85)" stroke-opacity="1" stroke-width="1.5" d="M178 918l6-3 6-2 5-3 5-4 4-4 4-5 5-4 5-3 5-4 5-4M335 862l5 3 4 5 4 5 2 5 3 6 3 5M191 738l2 6 2 6 3 5 4 5 3 5 5 4 4 5 5 3 5 3 6 3 6 1M141 801l4-7 2-8 1-8 0-8-1-8-1-8 0-8 0-8-1-8M156 707l4-5 3-6 3-5 5-5 3-5 3-6 3-5M230 740l7 1 7 0 7 2 7 2 7 1 7 2 7 3 7 2 7 2 7 1 7 2 7 2M242 815l5 5 4 6 5 5 3 7 2 6 4 7 4 5 3 7 4 5M161 869l-6 4-7 4-8 3-7 2-8 1-8 2-7 3-8 2M131 932l-6-3-8-3-7-3-8-1-8 0-8 0-8-1M115 782l-7-3-7-5-8-3-8-3-7-4-6-6-7-4-7-5M114 751l7-3 7-3 6-4 5-5 5-5 4-6 3-6 3-7 5-6 5-5M115 822l0-7 1-8 1-7 1-7 1-7 1-8M201 917l-2 8-1 8 1 7 2 8 3 8 2 7M200 878l-1 7-2 8 0 7-1 8-1 7 0 8-1 7"/>
<path stroke="rgb(49,180,73)" stroke-opacity="1" stroke-width="1.5" d="M212 786l6-2 6-4 4-5 4-6 4-6 2-6 1-7M298 780l6 4 4 4 6 4 5 3 6 5 4 5 4 5M276 711l6-3 5-3 5-4 6-3 4-5 4-5 5-4 3-5 5-5M99 913l1-8 1-7 1-8 2-7 0-8 0-7 2-8 1-8 3-7 2-7 1-8 2-7"/>
<path stroke="rgb(22,108,40)" stroke-opacity="1" stroke-width="1.5" d="M309 938l6-1 6-2 6-2 6-2 5-4 5-4 5-4 5-4M151 870l-1-6 0-7-2-6-3-6-2-6-3-5-4-5M292 886l8 1 8 3 7 3 7 3 8 3 8 1 8 3 8 2 8 1 8 2 8 0 8 1M208 726l5 6 4 7 5 7 4 8 4 7 5 7 6 5M341 821l-8 0-8 1-8 0-7 3-8 1-8 2M238 765l8-3 7-2 8-2 7-3 8-2 8 1 7 2M319 895l7 2 7 3 7 3 7 3 6 4 6 4 7 2M172 903l2 7 1 8 3 8 1 8 3 7 1 8 1 8-2 8M136 732l-7-4-5-6-4-7-5-7-5-7-5-6M172 872l-5-4-4-6-6-3-6-3-6-2-7-2-6-1-7-2-6-2-7 0-7 0-7-1"/>
<path stroke="rgb(27,90,36)" stroke-opacity="1" stroke-width="1.5" d="M261 767l6-2 6-1 6-1 6 1 6 1 6 2 6 3 6 2 5 2 6 1M168 937l5 5 3 6 4 7 2 6 4 6 4 6 6 5 5 4 7 4 6 2 7 1 7 3M146 822l1 7 1 6 1 7 2 6 1 6 0 7 3 6 2 6 3 6 1 7 2 6 3 6M176 907l-2-8 0-8-1-8 1-8 3-7 3-7M147 883l1-7 1-7 4-6 2-6 3-6 4-6M135 815l-6 3-6 2-6 3-6 2-7 1-6 0-7-1M118 716l-3-7-2-7 0-8-1-7-1-8-2-7-2-7M193 851l-8 1-7-1-8 1-7-1-7-2-8-1-7 1-7 1-8 2-7 1M303 744l-2-7-3-7-2-7-1-7 0-7-1-8-1-7-1-7-2-7 0-8-1-7M295 759l-6-3-5-3-6-3-5-3-5-4-5-4-6-3"/>
<path stroke="rgb(31,135,52)" stroke-opacity="1" stroke-width="1.5" d="M332 915l-6 1-7 0-6-1-7-1-6-1-6 0-7 1-6 1-6 2M171 736l1 6 0 7 3 5 1 6 1 7 1 6 2 6 1 6 2 6 2 6M246 842l-8-3-8-1-7-2-8-1-8 1-8 2-7 2-7 4M239 875l6-3 5-3 5-5 4-5 4-5 6-5 4-5 4-5 6-4 5-3 6-4M254 710l-8 1-8 2-7 2-8 2-7 3-7 4M150 751l-8 1-7 2-7 3-6 3-7 3-8 1-6 4-8 1-7 0-8 0-7-2-7-4M190 755l-6-2-5-3-6-2-5-2-6-1-6-2M157 746l4-4 4-5 3-5 3-5 5-5 4-4 4-5 3-5 4-5 4-5 3-5M98 770l3 7 3 6 3 7 3 6 3 7 4 6 5 5 5 4"/>
<path stroke="rgb(40,157,63)" stroke-opacity="1" stroke-width="1.5" d="M230 880l6 4 6 5 7 4 6 4 7 3 8 2 7 2 7 2 7 4 7 3 8 3 7 2M99 734l7-5 7-4 8-3 8-1 9 0 8-1 7-4 8-3 8-2 8-2 8-4M189 808l-6 3-7 3-6 4-7 3-6 3-6 5-5 5-5 6-4 6-3 6M327 783l-8 1-8 1-8 2-8 1-8 1-8 2-7 1-9 0-7-3M230 897l-3 6-4 7-3 6-2 7-4 6-4 6M348 760l-5 4-6 5-5 5-4 5-2 7-3 6-3 6-3 7-2 6M148 865l-6 2-7 2-5 4-6 2-6 4-6 4-6 3-6 3-5 5-6 3M242 890l7 0 7 0 7 0 7 1 7 1 7-1 7-3 5-4"/>
</g></g>
<clipPath id="clip4"><rect x="170.4" y="353.1" width="112.7" height="111.7"/></clipPath>
<g clip-path="url(#clip4)">
<rect x="170.40" y="353.10" width="112.70" height="111.70" fill="#030e05" />
<g fill="rgb(25,100,30)" opacity="0.25" filter="url(#fblur3)"><circle cx="181" cy="355" r="20"/><circle cx="261" cy="439" r="14"/><circle cx="277" cy="356" r="21"/><circle cx="261" cy="375" r="16"/><circle cx="190" cy="406" r="12"/><circle cx="171" cy="386" r="22"/><circle cx="266" cy="410" r="18"/><circle cx="180" cy="405" r="27"/></g>
<g fill="none" filter="url(#fblur)" transform="scale(0.5)">
<path stroke="rgb(22,103,40)" stroke-opacity="0.9" stroke-width="1.4" d="M504 730l4 2 5 0 5 1 5 0 5 1 5 0 5 0M333 766l3-5 3-4 1-6 2-5 4-4 2-4 2-6 2-5 1-5M419 807l2-5 0-5 2-4 0-5-1-5-1-5 0-5 2-4M465 838l4 2 5 2 3 4 4 3 4 3 4 2 5 0 5 0 5-1 4 1 5 2 4 2M338 757l-1-5-3-5-1-5 0-6 1-5 1-5 3-5 4-4 4-3M332 911l1-5-1-4 0-5 0-4-1-5 2-4 1-5 2-4 4-3 3-3 2-4 3-4M411 786l4-1 4-1 4 1 3 2 3 3 4 2 3 2 3 2 4 3 2 3M463 769l3 3 3 4 4 3 3 3 3 3 5 2M575 782l0-5 1-5 0-5-1-5 0-4-1-5-1-5-3-4-2-4M505 802l5 0 5 1 6 0 5 1 5 2 5 2 6 2 5 1 5 2M331 835l5 2 4 3 5 2 4 3 5 4 2 4 5 3 3 5 4 3 3 4M517 892l1 5-2 4-2 4-1 5-3 3-2 4-1 4-3 4-3 3-5 2M497 759l-3-3-4-2-3-2-4-2-4-2-3-2-4-3-2-3-2-4M456 830l4 4 3 5 2 5 2 5 2 5 3 5 3 5 2 5 2 5M343 695l-4 3-3 3-3 2-3 2-3 3-3 3-1 4-1 4-1 4 1 4 0 4M522 890l4-2 5 0 4 1 4 4 5 1 4 2 4 3 4 2 3 3 3 5 2 4M443 864l3 5 4 3 3 5 1 5 1 5 2 5M567 818l-1 5-3 4-2 4-3 4-2 5 0 5 1 5 0 5 1 5M343 787l-3 3-3 3-4 4-2 3-2 5-2 4-3 3-4 3-4 2-5 0-4 0-5 1M527 739l3-4 4-4 5-2 3-4 4-4 4-4 4-3 5-1 4-4 3-4 4-3M375 879l3-3 2-4 3-3 4-2 4-2 3-2 5 0 4-1 4 1 4 0 4 1 4 0M417 871l5 1 5-1 4-2 5-2 4-1 5-1 5 0M531 752l5 0 4 2 5-1 5 1 5 0 5 1 5 2M570 881l1-4-1-5-2-4-2-4-1-4-2-5-2-4-1-4-1-5 0-4M388 839l-5 1-5 3-4 3-2 5-3 4-3 5-2 5-3 5-2 4-3 5-2 5-1 5M562 878l4-2 4-2 2-4 3-3 4-2 5-1 4 1 4 1M376 742l-5 1-5 2-4 2-5 2-4 2-5 1-5 2-3 4-5 2-3 4-4 3-3 4M520 903l4 2 4 2 4 0 4 1 4 3 4 1 3 3 3 3M567 832l-4-4-4-4-4-1-6 0-5 1-5 0M567 897l-4-2-4-2-3-2-3-3-3-3-3-3M569 718l-4-1-5-1-4 0-5 0-4-1-4 1-5 0-4-1-5 0M339 847l3-2 4-2 3-2 4-2 4-1 4-2 4 0 4 0M479 766l-6 1-5 0-5-2-5-2-5-2-5-3-5-1-6 0-5-1-5 0-6 0-5 3M357 717l-3 4-3 3-3 4-4 2-4 2-4 3-4 2M341 752l4 2 3 3 3 3 1 4-1 4 0 4M520 750l-4 3-2 4-3 3-2 4-3 4-2 4-4 3-4 2-5-1M477 701l-5-1-5 1-5-1-5-3-4-3-4-4-2-5-2-4M436 939l-4 1-5 2-5 2-5 2-3 3-5 3-3 4-4 4-2 4M517 875l4-2 3-3 3-3 2-4 2-3 2-4 3-3 2-3 3-4 2-3 3-3 1-4M431 889l-5 2-5 3-5 1-5 2-5 1-6 1-5 2-5 1-6 2-5 2-5 2-5 1M394 787l-3-5-3-4-3-4-3-5-4-3-4-4-5-2-6-1-5-2-5 0-5 0-6 0M391 923l4 2 4 0 5-1 4 0 4-1 4 1 4 2 4 2M444 701l3-4 3-2 3-4 1-4 1-4 1-3 1-5-1-4-2-3M429 721l5-3 5-2 5-3 3-4 3-5 2-5 3-4 5-3M537 813l-4-2-5-3-3-4-4-3-4-3-5-1-5-2-5-1-5 1M379 799l6 0 5-1 4-2 4-3 5-2 4-3M351 822l0-6-1-5 1-5-2-5-1-5-1-5-1-5M515 848l-2-5 0-4 2-5-1-5 0-5-1-5-3-4-3-3-3-4-3-4-3-4-3-3M376 843l0-5-1-5 0-5 1-6-2-5 1-5M539 795l4 0 3 2 4 2 3 3 4 2 3 3 3 3 3 3 2 4 4 2 3 3 4 2M540 883l-4-2-4-2-4-3-4-2-5-2-5 0-4 2-5 2-3 4-4 3-3 4M468 704l0-5 2-3 0-5 2-3 1-4 1-4 1-4-1-4 0-4 0-5 1-4M373 765l4 4 5 2 5 1 5 2 5 3 5 1 6 0 5 2 5 1M539 889l3-4 3-4 4-3 4-4 2-4 3-4 2-5 1-5 3-4M577 807l-3 1-4 2-4 1-4 0-4 1-4 1-4 1-3 2M470 842l-4 3-4 3-5 2-4 3-3 4-3 5M387 936l-4-4-5-2-5-1-5-3-5-2-5 0-5 2-5 3-5 2-5-1-5-2-5 0M349 902l3 4 4 4 5 2 5 3 3 4 2 5 2 5M462 904l0-5-2-4-1-4-3-4-1-4-2-4 0-5-2-4 0-4-1-5 1-4M384 843l3 4 3 3 3 4 3 3 3 3 3 3 3 4 2 3 2 4 2 4M493 806l0 5 1 5 1 6 1 5 1 5 1 5-2 5-2 5-2 4M472 931l5-1 4 0 4 0 4 0 4 0 4 1 4 2M540 836l-4-3-4-2-4-2-4-3-3-3-4-3-4-1-4-3-4-3-2-4-4-3M539 753l-1-5-1-4-3-4-4-4-2-4-3-4-2-4M561 779l5 0 5 0 4 2 5 0 5 1 4 2 4 2 4 3 4 3M473 795l-2-4-4-2-5-1-4-2-4-1-4 0-5-1-4 0-4-1M386 821l6 0 5 1 5 0 5 1 6 0 4 3 6 1 4 2 4 4M444 791l-1-4-2-5-1-4 0-5-1-4-4-4M378 832l0 5-1 4-1 5 0 4-1 5-1 4-1 5-1 4-2 4 1 5M370 909l0 5 0 5 2 4 4 4 2 4 1 5-1 5-1 4-2 4M421 757l-2-5-1-5 1-5 0-5-1-5-2-4 1-5-1-5-1-5-2-5 1-5M557 761l-4 0-5 0-4 0-5-1-4 0-4 2M423 923l0 4 2 5 0 5-2 4-3 4-3 3-4 3M362 790l-3-3-1-4-3-3-2-4-1-4 1-4 1-4 3-3 2-4 1-4 0-4 0-4M458 905l-3 5-3 5-1 5 0 6-2 5 0 5-1 6-2 5-4 4M473 720l-2 5 0 5-2 5-2 5-2 6 1 5-1 6 2 5-1 5M354 831l5 0 5 1 5 0 6 0 5 1 5-1 5 2 5 1 6 0M350 868l5 0 5-1 5-1 4-3 5-2 5 0M576 756l-5 3-4 4-2 5-1 5-3 4-3 5-3 5-1 5M462 809l-3-3-2-5-3-4-3-5-2-4-3-4-1-5M546 707l3 3 4 3 3 2 3 4 2 4 2 4M551 704l3-3 3-3 4-1 3-3 3-4 2-3 1-4M409 730l1-5-1-4-2-4-1-5-2-4-1-4M405 846l-3 4-2 5-4 4-4 3-5 3-5 2-4 3-2 5-3 4-3 5-1 5M331 846l-2-5-5-4-4-3-4-4-3-5-2-5-1-5 0-6-1-5M570 890l-5 2-4 2-4 4-5 2-4 2-6 1-5 1M446 757l3 4 5 3 3 4 4 5 2 5 4 4 1 5 1 6-1 5 0 6-1 5-3 5M427 780l1-5 0-5 0-5-2-5-2-5-5-2-4-2-5-1-5 0-5 0M454 795l-4-3-5-1-4-2-5-3-3-3-4-4M551 808l-3 4-1 4 0 5 0 5-1 5-1 4-1 5-1 5 2 4 1 5M447 837l5-2 5 0 5 0 6 0 5-1 4-1 5-2 5-1 5-2 5-3M563 855l2-3 4-2 3-3 2-3 3-3 3-2 3-4 2-2M450 785l-5 3-5 2-4 4-4 3-3 5-4 5-4 3-4 4-4 4M487 788l-2-5-2-4-3-4-2-4-3-3-5-2-4-2-5 0-4 2-5 2-3 3M546 941l1-4 1-5-1-4 0-4-2-4-4-3-4-2-3-2-4-2-5-1-4 0-4-1M487 728l-2-3-1-4-1-4 0-5-2-3-1-4-2-4-3-3M444 850l-5 1-5 3-5 3-5 2-5 2-5 3-4 4-5 2-5 3-5 2M332 796l0 5 2 5 2 5 2 5 3 4 4 3 5 1M393 754l-2-4-1-5-1-4-1-5-3-3-3-4-3-3-4-3-5 0M331 778l5 2 4 3 5 2 5 1 6 0 5 0 5 2M337 732l-2 5-3 4-3 4-3 4-4 3-2 5-3 4-4 3M473 928l-5 1-4 2-5 0-5 0-4-2-5-2-3-3-4-4-3-3-1-5-2-5M415 707l-5 0-5 0-5-1-5 1-5 2-3 3-5 3M360 753l-5-2-3-3-4-3-3-4-2-5-1-4-3-4-2-4-3-4-3-4-4-3M332 773l-1 4-1 4 0 4 1 4 3 4 3 2 4 2 5 0 4 2M464 858l1 5-2 4-1 5-2 4-2 5 0 4-1 5M379 829l-4-2-4-3-5-1-4-1-5 0-4 2-4 4-2 3-4 3-4 2-5 0M517 707l4 2 5 1 4 2 4 2 4 2 5 1 4 2 3 4 1 4 2 5-1 4M511 841l-4-3-3-3-3-4-3-3-1-4-2-5-1-4-1-4M331 708l5 1 5-1 5-1 5-1 4-3 4-4M408 796l3 4 4 2 5 1 4 0 5 1 4-1 5-2 4-1 5-1M508 938l-1 4-3 4-3 3-4 3-4 1-5 0-4 0M449 807l2-5 4-4 4-4 2-5 4-4 4-3 3-5 2-5 2-5 1-5 1-6M508 792l-1-5-1-5 2-5 2-4 1-5 1-6 2-4 4-4 4-2 4-3M497 833l-5 2-5 3-4 3-4 3-5 3-4 3M532 837l-1-5-1-5-1-5-3-5-2-4-3-5-3-4-4-4-3-4-3-3M543 940l-4-2-4-3-4-2-4-1-5-2-4-1-5 1-5 0-4 2-5 0-4 2-3 3M577 832l-2-5 1-6 2-5 2-5 0-5 0-6 2-5 0-6 3-5 2-5M521 926l4 2 3 2 3 3 2 3 0 4-1 4-1 4 0 4-1 4-1 4 0 4 0 4M418 867l-1-4 1-4 0-3 2-4 2-3 3-3 3-3 3-2 3-3 4-2 3-3M335 738l4-3 5-2 6 1 5 0 5-1 6 0 5 1 5 0 6 0 5 2M491 841l-1 5-1 4-3 4-3 3-1 5-3 4-3 4-3 3-4 2-5 1-4 2M448 848l-3-3-2-4-2-5-1-4-3-4-3-4-1-4-1-5M372 790l-4-2-4-3-3-4-4-3-4-2-4-3-4-2-4-3-3-4-2-4M359 906l4-1 4-1 4-2 4-1 3-2 3-4 3-2 3-3 2-4 3-3M418 812l-3 4-3 3-2 3-2 4-1 4 0 4 1 5 1 4 0 4 0 4 0 5M331 919l-1 5-1 5-1 4-1 5 0 5 0 5-1 5-3 4-2 4M423 739l3 5 1 5 1 5 2 5 2 5 2 5 4 3 3 4 5 3 3 4 3 4 3 5M532 777l1 5 3 4 3 3 3 4 4 4 4 2 4 2 4 2M545 909l1-5 2-5 2-4 2-5 0-5 2-4 0-5M393 696l-5-2-6-1-5 2-6-1-5-2-6-1M437 834l3 4 4 2 4 2 4 0 4 2 4 3 3 3M492 852l-1-5-1-4-2-4-1-5-1-4-1-5-1-4M506 730l-2 4-2 4-1 3 0 4 1 4 0 4 0 4M561 766l-4-1-4 0-5 1-4 2-4 1-3 3M477 756l-5-2-4-1-5-1-4-1-4 0-5-2-4 1-5 1-3 3-4 2-3 4M573 794l1 4 2 4 3 3 2 3 4 3 4 2 4 1 4 0 4 0 4 0M379 844l3-3 4-2 4-3 3-3 4-1 4-1M530 712l4 3 5 4 4 3 4 4 2 5 3 5 3 5 2 5 1 5M515 922l1 5-1 5 0 5 2 5 2 5 1 5 4 4 2 5 3 4 4 4 3 4 3 5M499 712l5-1 6 0 5 2 5 2 4 3 4 4 3 4M533 896l2 4 2 5 3 3 2 5 2 4 2 5 0 5M416 935l3-3 4-2 5-3 3-3 3-3 3-4 2-4 2-5 0-5M486 783l-4-2-2-4-2-3-1-4-1-4-1-4-1-4-1-4M401 793l4-1 4-2 2-4 3-3 1-4 0-4-1-4-2-4-2-4-1-4-1-4M397 790l-4 3-4 3-4 2-4 0-5 2-3 3-4 3-2 4-3 4-3 3-4 3M564 854l1 5-2 5-1 4-2 5-2 4-2 4-2 5-2 4M421 826l3-4 5-3 4-3 5-3 5-2 5 0 5 0 5-3 5-1 5-2M459 891l1-4 2-5 1-5 3-4 1-4 1-5 1-5 3-4 2-4 4-3M501 762l-5-2-4 0-5 1-4 1-5 1-4 3M553 826l-2 4-2 4 1 4 0 4 2 4 1 3 0 5 1 4-1 4 1 4 2 3M392 865l3 4 4 3 3 4 4 4 3 4 1 5-1 5-1 5M436 827l4 1 4 1 4 1 4-1 4 1 4 1M373 866l5 0 4-1 4-1 4-2 5-1 4-2M333 773l-2 3-2 5-2 4-3 3-3 4-1 4 0 5-2 4 0 5M525 768l-1-5-1-5-3-5-2-4-2-4-1-5-2-5-1-5-1-4-2-5-2-4M565 812l-5 1-4 2-5 1-4 1-5 2-4-1-4-2-4-2-4-2-5-3-4 0M519 786l-4-3-4-3-4-2-5-3-5 0-5-1-5 0-5-1-5 0-5 0-5 0-5-1M342 901l4 3 5 3 4 3 5 3 3 5 3 4 4 4 5 1 6 0 5 0 6-1 5 1M473 863l0 4 1 4 1 4 1 4 0 4-2 4-2 3 0 4 0 4M480 813l2-5-1-5-1-6-2-5-4-4-5-2-5-1M500 927l1-5 0-6 1-5-1-5-2-5-4-4-5-3-4-4-4-3M391 714l-2 6-1 5 0 5 2 6 2 4 4 5 3 4 2 5 1 5M386 788l-3-3-4-4-4-2-4-2-5 1-4-2-5 0-5 2-4 0-5-2-3-3M562 705l0-5-2-5-1-5-1-6-1-5-3-4-3-4-5-4-3-4M365 796l4-3 3-3 4-1 3-3 3-3 4-1M344 768l5 0 5 2 4 3 3 4 2 4 0 5-1 5 0 5M364 789l1-5 3-4 3-3 1-5 2-4 2-4 3-4M439 875l4 2 3 3 3 4 2 4 3 4 2 3 2 4 3 4 2 4 3 3 2 4M479 921l-6 0-4 3-5 1-5 3-3 5-3 4-3 4-3 5-1 5-3 4M485 814l5 1 4 1 4 3 4 4 3 4 3 4 3 4 2 5 4 3 4 3 5 2 5 2M493 884l0-5-1-5-2-5-2-5-1-5 0-5-1-6-1-5 0-5-3-5-2-5-1-5M490 790l6-1 5-3 4-4 5-2 5-1 5-2 5-3 4-4 5-3M523 895l2 4 3 5 5 3 2 5 4 4 5 2 4 3M539 904l5-1 4 0 4 2 4 2 4 2 5 0 4 1 4 1 4 2 5 1 4 2M501 834l-4 3-4 2-3 3-4 3-4 2-4 2-4-1-4-1-4-3-4-3M550 776l5-1 4-3 3-3 4-3 5-3 3-3 1-5 0-5-2-4-1-5M457 833l-4 2-4 0-5 1-5 1-4 2-4 2-3 3M541 804l-1 5-1 5 0 5 2 5 3 4 4 3 2 5 3 4 1 5M460 789l5 0 5 1 4 2 4 2 5 2 5 0 4 1 5 1 4 3 2 4M473 721l-3-2-3-4-4-3-4-3-4-2-4-2M336 784l3-3 2-4 1-4 2-3 0-5-1-3 0-5 0-4 0-4 0-4M546 754l5 0 5 1 4 0 5-1 5-1 4 1 5 0M378 753l-4 4-3 4-3 4-4 3-3 5-3 4-2 4-1 5-3 5M530 734l-2-4-2-5-1-5-2-5-3-4-4-3-3-4-3-4-2-5-4-3-5-2M432 922l4 3 2 4 3 3 2 4 3 4 3 3 2 5 4 3 2 4 4 3M515 818l-4 3-5 2-5 2-5 3-4 3-3 5-3 5-3 4M552 716l3 4 2 5 0 5-1 4 1 5 0 5 0 5 0 5M467 920l5-2 4-4 4-4 4-3 6-1 5-2 5 0 6-1 5 0 6 1 5 1 5 2M411 896l-3 4-4 2-4 1-4 0-5-1-4 1-5-1-4 0-4 3-5 1-4 0M349 784l-2 4-2 4-1 4 1 5-1 4-1 5 1 4M420 778l-4 3-2 3-3 4-2 3-2 4-1 4-1 4 0 5M387 837l-4 3-5 2-5 1-4 1-5 0-5-1-5-1-5-1-5 0-5-2-4-3-3-3M430 787l-5 1-4 4-3 5-3 5-4 3-5 3-5 2-5 2-5 1-5 3M349 827l2-4 3-3 3-3 4-1 5-1 4 1M515 915l-4 2-5 1-4 1-4 1-4 2-5 1-4 1-4 2-5 2-3 3-4 2"/>
<path stroke="rgb(40,153,63)" stroke-opacity="0.9" stroke-width="1.4" d="M505 763l2-4 2-4 0-5 1-4 2-4 4-3M452 717l4-3 4-1 4-2 5 0 4 0 5 1 4 1M451 908l1 4 0 4 1 4 2 4 2 3 2 4 1 4 2 3M543 758l4 0 4-1 4 0 4 0 4 0 4-1 4-2M485 862l-2 4-4 4-4 3-4 4-4 4-3 3-3 5-3 4-5 2M455 934l-3 3-3 2-4 2-4 1-3 2-4 0-4 0-4 1-3 3-4 1M429 845l-4-3-3-4-4-3-5-2-5 0-5-3-4-3-4-4-3-4-4-3M374 783l-3 3-3 3-2 4-3 3-4 2-3 3-3 3-4 2-3 2-3 4-1 4-2 4M563 817l-1 6-2 4-3 5-2 4-1 6-1 5 0 5-2 5-4 4-4 3-3 4M403 832l-5 2-5 2-4 0-5 1-5 0-5 1-4 2-5 1-4 2-4 3-2 5M564 734l4-2 4-2 3-3 4-3 3-3 3-3 4-3 4-1 4-2 5 0 4-2 3-3M381 701l4 3 3 4 2 4 4 3 3 3 3 4 1 4 1 5-1 5M558 721l0 5 1 4 1 5 0 5-1 5-2 4-1 5-1 5 0 5M554 922l-4 0-4 1-4 0-5 0-4 1-4 1-3 2-4 2-2 4M457 765l-1 4-2 3-2 4-3 3-1 4-3 3-3 2-4 3-4 1-3 2-4 2M344 888l-4 0-5-1-4-1-4-3-2-4-3-3-3-4-2-4-2-4-2-4-3-4-1-4M526 880l1 4 2 4 2 3 3 3 3 4 3 2 4 2M485 845l-3-3-3-2-2-4-4-2-3-3-2-3-3-3-3-3M514 722l-2 5 0 5 2 5 0 6-1 5-2 6-4 4-3 5M388 759l0-5 1-4 2-4 3-3 2-3 4-3 4-1M458 912l-5 3-2 3-4 4-4 2-4 3-3 4-4 3-3 4-3 3M469 859l5-1 5 2 5 3 4 3 3 4 4 4 5 3 4 3 4 3 4 4 2 5M464 840l-6-1-5-1-5-1-5-3-4-3-4-4-5-2-3-4-4-4-3-4-3-5-4-3M342 896l4-2 5-1 4-1 5 0 4-1 4-3 3-3 3-4 4-3 4-2 4-1 4-1M384 838l3 4 4 3 5 1 5 2 3 4 4 3 4 4 4 3 5 1 5-1 6 0 5 0M383 836l4 3 3 5 3 4 3 4 2 5 4 4M457 728l4 0 4-2 4-1 4-1 4-2 3-3M540 774l2-4 2-4 2-4-1-5 1-4 1-5 2-4 0-4 1-5 1-4 0-5 1-4M511 777l3-5 3-4 2-6 0-5 1-6 2-5 1-5 1-6 1-5 1-6 0-5-1-6M495 800l-5 0-4 2-5 2-3 3-4 3-4 2-4 3-3 2-4 3-4 3M351 811l3-3 5-2 3-3 4-3 4-3 4-2 3-3 4-3 3-3 4-3 5-1M512 707l-4-2-3-4-2-4-2-4-4-3-4-3-4-2-4-1-5-1-4-2-5 0-4 1M514 813l-1-5-2-6-3-4-5-3-5-1-5-1-6-2-5-2-5 0-5-3-4-4M472 904l4-3 5-2 5 1 5 1 4 1 4 4 4 3 4 3 4 3M393 823l-5 0-4 0-4 2-4 2-4 2-4 2-2 3M507 918l1 4 3 4 5 3 3 3 3 5 3 3 5 2 4 2 5 2 5 1 4 3 3 3M414 736l-2-4-1-5 0-6 0-5 0-5 2-5 0-5 0-6 2-4 2-5M557 821l-3-5-4-3-5-2-4-4-4-3-5-3-6-1-5 0-5-1-5-3-5-2-6 1M443 886l-4-4-2-4-3-4-4-4-3-4-4-4M377 772l5 0 5-1 4-1 4-3 4-4 4-2 5-2 4-1 5 1 5 2 5 0M513 840l-3-3-3-3-3-3-2-4-3-3 0-5 0-4 1-4 0-4M540 820l1-5 2-4 1-5 2-4 3-4 2-5M523 907l-1 4-1 4-1 4 0 5-1 4 0 4-1 4M465 842l3 3 3 3 2 3 4 2 4 1 4 1 3 2 3 3M513 919l2 5 3 4 4 3 3 5 5 3 3 3 3 5 5 3 5 2 4 4 4 3 2 5M478 785l1 6 1 5 1 5 3 5 4 3 5 3 4 3 2 5 2 5 0 5M430 833l0 5 1 5 2 4 3 4 2 3 3 5 2 3 4 4M566 736l-3-4-2-4-3-3-3-3-4-3-2-4M505 925l-5-2-4-3-4-3-3-3-5-3-4-3M540 719l3-4 1-4 0-4-1-5-1-4-2-5-2-4-2-4-1-4M329 741l4-4 4-5 3-4 4-4 3-5 2-5 1-6 0-5 1-6-1-5-3-5M448 941l4 3 4 3 2 4 3 4 2 4 3 4 4 3 2 4 4 3 3 3 2 4M379 860l4-1 5 1 4 1 4 2 4 2 3 3 4 3 4 3M407 823l-5 4-4 3-4 3-5 3-4 3-5 2-5 2-6 0-5-1-5 0M334 759l-2 5 0 4-2 4-2 4 0 5 0 4 0 5 0 4 1 4 2 5 2 4M478 904l2 4 2 4 0 5 0 4 1 4-1 5 2 4M504 736l-5-1-4-1-4-2-5 0-5 0-4 1-4 0-5 1-4-1-5-2-4-1-5 1M556 880l0 5 1 6 2 4 0 5 2 5 2 5M502 802l2-5 2-5 3-4 3-4 3-5 1-5 2-5 2-5 0-5 3-5 2-4M513 879l-2 4-3 3-3 2-4 1-4 1-4 2-4 1-4 2-4 0-4 0-4-2M385 770l-3 5-4 2-3 5-4 3-4 4-2 5-1 5-3 4M490 791l1 5 0 5-1 5-2 5-2 4-4 4-3 4-4 3-3 4-3 5-2 4M469 758l-1-5-1-4-3-5-1-5 1-5 0-5 1-5M341 696l-3 2-4 2-4 1-4-1-4-2-4-1-4-3-2-3M576 775l3-4 1-4-1-4-2-4-2-4-3-4-1-4-3-3-2-5 0-4 0-4 1-5M539 817l3 4 2 5 2 5 3 4 3 4 2 5M375 938l-3 4-3 5-4 3-5 2-5 0-6 2-5 0-5 2-5 1M456 867l4-2 4-2 4-1 4 1 5 0 4 1 4 2 3 3 2 3 4 4 3 2M338 715l1 5 3 4 2 4 3 4 4 3 4 2 5 1 3 4M573 706l-4 4-3 4-4 4-4 4-3 4-2 5-2 5-3 4-5 3-4 3M529 850l0-6 3-5 2-5 2-5 2-5 1-5 0-6 0-5 1-6M562 793l5 1 4 1 5 2 4 2 4 3 4 2 4 2 5 2 4 2 5 1M572 850l-1 5 0 5 0 6-1 5 1 6 0 5 2 5 3 4 2 6 1 5M472 920l4-2 4-3 4-2 4-1 4-2 4-2 4 0 4 1 4 2M381 933l-1-4 0-5 0-5-1-5-2-5-3-4-2-4M462 875l-1 4-2 4 0 4 0 4-1 4-2 4-1 4-1 4M504 749l4-3 4-2 4-3 3-4 3-4 3-4 4-3 3-4M486 883l4-3 3-4 4-3 5-1 5-1 4 1 5 3M348 939l4 3 3 3 2 3 3 3 3 3 3 3 2 4 3 3M493 764l-5 3-3 4-5 3-5 3-5 1-5 0-5 1-6 0-5-3-4-3-4-3M365 923l3-3 4-3 2-4 2-4 3-2 5-1 4-1 4-2 3-3 3-3 1-4M572 752l-2-5-2-4-3-4-1-5-3-3-5-2-3-4-2-4-2-4-1-5M547 750l-2-4-1-4-2-4-2-3-1-4-3-3-2-4M413 818l6 1 5 2 4 2 6 1 4 2 4 4 5 3 5 1 5 2M462 898l-4 0-4 1-4 2-3 2-4 2-4 2-3 2M496 861l0 4 2 4 4 4 3 3 2 4 1 4M331 738l-2 4-1 4 1 4 2 3 2 4 3 3 4 2 4 2 4 1 4 0 4 0M334 702l-1 5-3 4-1 5-2 5-2 4-1 5-2 5M369 748l4 2 4 0 4 1 4 2 2 3 4 3 2 3M469 800l-3 3-4 2-4 2-4 2-4 1-4 2M499 709l-5-2-6-1-5 1-5-1-4-3-5-3-4-3-3-5-3-4-5-3-3-4-1-5M556 725l4-1 4 0 5 0 4 1 5 0 4 1 4 0M470 808l-1-5 1-4 0-4-2-4-2-4-3-3-3-3-3-3-2-4M461 781l0-5 2-5 2-5 3-4 1-6 0-5-1-5-2-5-3-5-1-5-1-5 0-5M338 800l3 3 3 2 4 1 4 0 4 0 5-1 3-1 4-2 4-1 4-2 4 0M484 730l4-1 3-2 4-2 4-1 4-1 4 0 4 0 4 0 4-2M560 761l0-5-1-5 0-5-3-5-2-5-3-4-1-5 0-5 1-5 0-5 0-5M392 789l-5-2-4-4-3-4-4-4-4-4-4-4-4-4-5-3M508 857l-1-5 1-6 2-5 2-4 2-6-1-5 0-5-1-6-1-5M492 868l1 5 2 5 3 3 4 3 3 4 4 3 3 4 2 4 4 3 4 3 4 3M560 767l4 2 3 2 3 4 3 2 3 4 3 2M370 798l-1 4 0 4-2 4 0 4 2 4 2 3 3 4 2 3 1 4M538 774l-4 0-4 0-4-2-4-3-3-3-3-3-3-3M521 895l-3-3-4-3-4-3-5-1-5 0-5 0M477 780l-5-2-5-3-5-2-5 0-5-2-6-1-5 0-6-1-5-1-5 1-6-1-5-2M380 711l0-4 2-5 2-3 2-4 2-4 0-5 1-4-1-4-2-4-2-4-3-3M369 803l3 4 4 4 3 4 5 3 5 3 5 2M341 740l1-5 2-5 3-4 2-4 1-5 2-4 3-4 3-5 1-4 3-5M367 884l-5 2-5 2-5 3-5 1-5 3-5 2-5 3-5 0-5 1-6 1-5 1M351 829l-2 4-3 4-3 3-3 4-3 4-2 4-3 4-3 4-2 4M516 932l6 0 5-1 5-1 5-3 4-3 3-5 2-5M451 721l-3 4-4 3-5 1-5 0-4-1-4-3-5-2-4-2M347 736l-4 0-4 0-4 1-3 2-4 2-4-1-4 2-4 0-4 2-4 2-2 2M403 931l3 3 3 4 1 4 0 4 2 4 3 4 1 4 2 4 1 4M508 872l-2 4 0 6 0 5 0 5-1 5-4 4-1 5-2 5-2 5M336 875l5-1 6 1 5 2 5 2 5 1 5 0 5 0 6 0 5 1 5 3M491 825l1-5 1-5 1-6-1-5 0-5 1-6-1-5-3-4-1-5M329 707l-2-3-4-2-3-3-4-2-4-1-4 0-4 1M523 786l-5-1-5 0-5 1-5 0-5 1-5 1-4 4-3 4-2 4M384 807l1 5 1 5 2 5 3 4 3 3 5 2 4 2M449 809l5 1 6-1 5 1 6-1 5-1 6-1 5-2 4-4 3-5M453 783l-1-5-2-5-4-4-3-4-5-3-4-3-5-2-5-2-5-1-6-1-5 0-5 0M471 928l0-5 0-5-2-5-3-4-2-5-3-4-3-4-5-2-5 0-5-2-4-3M406 766l4-4 3-3 2-5 3-4 2-5-1-5 0-5 2-5 3-3 3-5M389 813l1-5 0-6 2-5 0-6 2-5 2-5 1-6 0-5 0-6-2-5-2-5-2-5M366 795l5 1 4-2 5-1 4 1 5 0 4-1 5-1 4-2 4-3M521 880l4-2 4 0 5 0 4-2 4-1 3-3 3-3 3-4M346 914l3-3 5-2 5 0 4-1 5-2 5-1 5 0 4 0 5 0M537 920l-1-4 1-5 0-4 2-4 0-4 0-5-1-4M486 879l2 5 0 5-1 5-2 5-1 5-1 5 2 5 3 5 0 5 2 5 3 4M529 861l-5-1-5-1-4-2-5-2-5-2-6 1-5-1-5 0-5 1-5 2-5 2M342 809l-4 1-3 3-3 3-2 4-3 3-3 4-4 2-3 2-4 3-2 3-1 5M430 836l-3-3-2-4-1-5 0-4 0-5-1-5 0-4 1-5M554 864l3 3 2 4 3 3 2 4 2 4 4 2 5 1M430 904l-3 2-3 2-4 2-4 1-4 1-4 0-4 0-3-3-4-2-3-2-4-2M339 891l-5-3-4-2-3-5-5-2-4-3-3-4-5-2-5-2-5-2-4-2-4-4-3-3M554 742l-2 5-2 5-3 4-1 5-4 4-4 3-5 2-5 1-5 0-5-2-5 1M523 775l3 4 1 5-1 4-1 5-3 4-3 3-1 5-2 5M458 761l-4-2-5-2-5 0-4 0-5 0-5 0-4 2-5 2-5 2-4 2M368 734l-5 0-5 0-4 1-5 2-4 2-5 1-5-1-4-1-5-1-5-1-4-2M574 733l4-3 5-1 4-3 3-4 5-2 3-4 4-3 4-3M560 727l2-4 1-4 1-4 2-4 2-4 3-3 2-4 0-4M495 854l-1-5-3-4-2-4-4-4-4-2-5-1-4-2-5 1M496 794l-4 2-4 2-4 1-3 2-5 1-4 0-4-1-4 0M343 903l-5-1-4-2-4-1-4-2-5-2-4 0-5 1-4 0-5-1-5 1-4 1-4 2M381 794l-4-3-5-1-6-1-5-1-5 0-5 2-5 0-5 2-4 4M433 835l2-4 2-4 1-4 3-3 4-2 3-2 4-2 4-1M498 867l-4 1-3 4-4 2-3 3-3 3-2 4-2 3-3 4-2 4-3 3-4 2M512 755l4 4 2 5 0 5 2 5 2 5 3 4M532 847l4 2 4 0 4 0 4-1 5-1 4-1 4-2 4-2 4-1M396 895l-2 5 0 6-2 5-4 4-5 3-5 1-5-1-6 1-5 1-6 0-5-1-5 1M402 768l-3 5-3 4-3 3-3 3-2 5-1 4-1 5-2 4-1 5M514 864l-4-1-5-2-4 0-4 0-4-1-4-2-4-2-4-1-4-2-3-3-4-2M555 777l-3 5-3 4-4 3-4 5-4 3-4 3-4 4M508 908l3 3 2 4 0 4-2 4-1 5-2 3-2 4M543 933l0-5 1-5-1-4-1-5 0-5 2-5 2-4 3-4M451 752l2-4 2-4 4-3 4-1 4 0 4-1 4-3M338 852l0-6-1-5 1-5 0-6 2-5 2-5 3-5 3-4M545 867l3 3 3 4 1 4 1 4 1 5 1 4 1 4 1 5 3 3 1 4 0 5M498 790l0-5 2-5 3-4 4-2 4-4 4-3 3-3 2-5 4-3 4-3 3-4M427 716l3-3 2-3 3-3 3-2 3-3 4-1 3-2 4-1 4-1 4-2 3-2M574 900l3 5 0 5 3 4 3 4 4 2 3 4 4 3 2 4 1 5 1 5 3 4M561 898l-3-4-3-3-2-4-3-3-4-2-3-3-3-3-3-3-2-4-3-3-3-3M480 783l0 4 0 5-1 5 0 4 0 5 1 5 0 4-1 5-1 4M575 698l3-5 4-3 2-4 2-5 1-5 1-5 1-5 0-5M497 772l-2 6-3 4-1 5-2 6-3 4-5 3-5 1-5 2-5 1-5 3-3 5-2 5M372 773l1-5 2-4 0-4 0-5-1-4 0-5-1-4-1-4 0-5 0-4 1-4M543 722l-2 4-2 3-1 4 0 4-2 4-1 4-3 3-3 2-4 1-4 2M410 909l3-3 1-5 3-4 2-4 2-4 2-4 2-4M518 940l0 5-2 4-1 4 1 5-1 5-2 4-1 4-3 4-4 2-3 3-4 3-4 1M433 880l2-3 3-2 4-1 4 0 4 1 4 1 4 1 4 1M470 875l0-5-2-5-1-4-1-5-2-4-3-4-4-2-5-3-4-1-5-2M357 829l-3 5-3 4-2 4-1 5-3 4-3 4-1 5-1 5-1 5-2 4M345 880l5-1 4-2 5-1 4-1 5 0 4 1 5-1 5 0 4-1"/>
<path stroke="rgb(54,175,73)" stroke-opacity="0.9" stroke-width="1.4" d="M413 791l4-4 3-5 4-3 2-5 4-4 5-3 3-5 2-5M528 785l-3 4-5 3-3 3-3 5-4 3-4 4-4 3-4 3-5 3-3 3-3 5M372 813l1 5 0 5 1 5 0 6-2 5-3 4-2 5-1 6 0 5 0 5-3 5-4 3M479 771l0 5 0 5 1 5-1 5 2 5 2 4 4 3M511 856l3-3 1-4 2-3 2-4 0-4 0-4 0-4-1-5-1-3-2-4-1-4M478 703l0 6-2 5-2 5-3 4-4 3-2 5-2 5-1 5 1 5-1 6 1 5 2 5M347 750l4-3 5-3 4-4 3-5 4-4 3-4 5-3 5-1 6 0 5-1 5-3M387 877l-4 3-3 3-5 1-4-1-5 0-4 1-5 1-4 1-5 1-4 0-5 1M518 824l-2 4-3 4-4 3-2 4-2 4-4 3-3 3-4 4-3 3-4 3M548 782l-5 2-5 1-5 0-5-1-5 0-5-1-4-2-5-2-5 0-5 1-5 1-5-1M548 789l0 5-1 6-2 4-3 4-2 5 0 5-2 5-1 5-3 5M532 837l1-4 2-4 3-4 4-2 3-3 3-3 2-5 2-4M384 754l2 5 4 3 3 4 3 4 4 3 4 3 5 2 4 3 5 2 4 3 5 1M536 762l5-1 5-2 5-2 5 0 6 2 5 0 5-2 5-2 4-3 4-4 2-5 3-5M542 834l5 2 4 4 5 2 5 2 4 3 4 4 5 3 3 4 5 3M516 729l4 1 4 0 4 1 4 0 5 0 4 1 4 0 4 0M517 759l2-4 4-4 5-2 4-3 5 0 5 1 5 1 5 2 3 5 4 3M396 798l4 2 4 0 4 0 4 0 4 0 4-1 3-1 4-3 3-1 4-2 4-1M336 818l-4 0-5 0-4 0-4-1-4 2-4 2-4 1-4 2-4 2M545 779l4-4 3-4 4-3 5-3 4-2 5-2 5-1 5 1 6 0 5 0 4-3 5-1M354 805l5-3 4-3 3-5 4-3 5-3 5-2 5-1 6 1 5 2 5 2 4 4M469 847l-4-3-3-4-3-3-4-4-4-2-3-4-4-3-3-4-3-4-2-4-3-4M354 806l0 5 2 5 3 5 3 4 4 4 4 3 4 3 5 2 5 2 4 2 5 2 5 3M354 767l-5 0-5-1-5-2-4-3-4-4-4-2-4-4-3-4-4-3-5-1-5-1-5-2M523 821l-4 2-5 2-4 3-4 2-4 2-4 4-4 2-5 1-4 2-5 2-4 2-3 4M491 854l3-5 2-5 0-5 1-5 2-5-1-5-1-5 0-5-1-5-2-5-2-4M525 787l-3-4-4-3-4-3-4-3-4-4-4-3-3-4-2-5M560 902l1 3 2 4 3 3 2 4 1 4 0 4 1 4 0 4 0 4 1 4 2 4M396 899l0 5-2 4 0 5 0 5-1 5-2 5 0 5 1 4 3 5 1 5 0 5M419 938l-4-1-2-4-4-2-3-3-3-3-4-2M575 756l5 1 4 1 5-1 4-1 5 0 4 1M334 819l-4 2-5 2-4 3-3 4-2 4-4 3-3 4-5 2-4 2-5 3-3 4-3 4M518 758l4-4 4-2 5-3 5-1 5-2 5-2 5-1 5 0M373 888l-1-5-1-5-1-5-1-5-2-4-4-4-3-4-4-4M452 779l2-4 0-5-1-5 0-4-1-5 0-4 0-5-1-5M441 844l1-5-1-5-1-6 1-5 2-5 1-5 4-4 3-4 3-4M366 928l-3-5-3-4-1-5 1-6 2-5 2-4 2-6 2-4 2-5M452 718l0-5-2-6 0-5-1-6-3-4 0-6 1-5-1-6-2-5-3-4M388 884l1-5 2-4 3-4 4-3 4-1 4-2 4-4 4-2M513 737l-3 5-1 5-2 5-2 5-3 4-4 4M336 753l-3-5-1-5-1-5-2-6 0-5-1-6-2-5-3-4-4-4M375 860l1-4 3-5 2-4 1-5 1-4 3-4 3-4 5-2M433 778l3 5 3 4 5 3 3 4 3 5 3 4 3 4 3 5 0 6-1 5M544 887l5 0 6 0 5 1 5 0 6 0 5 0 5 1 5 0 6 1 5 1M574 864l0 5 2 4 0 5-1 4-1 5-2 4-3 4-1 5-1 4-3 4M484 892l2 5 1 5 2 5 2 4 4 4 4 4 4 3 4 3M333 861l-4 2-4 3-4 2-5 1-4 2-5 2-4 1-5 1-4 2-5 0-5 0M576 886l3 4 4 3 4 3 4 3 5 1 5 0 5-2M510 931l4 1 5 0 4-1 3-2 4-3 4-1 3-3 4-1 4-2 4-1M553 809l-4 0-4-2-3-3-3-2-3-3-1-4 0-4-2-4-1-4-1-3-3-3M394 773l-1-4-1-4 0-4 0-5 0-4-2-4-2-4-1-4-2-4M486 779l1-5 1-4 0-5 0-5 1-4 1-5 2-4 1-5 2-4 2-4M427 722l5 1 4 1 5 2 4-1 5 2 4 2 3 4 3 4 4 2 4 0 5 1 5 2M391 939l0-5-1-4-3-4-1-5 0-5 0-5 2-5 0-5-1-5-2-4M381 756l3 5 5 3 5 2 4 3 6 2 5 2 5 0 5 3 6 1 4 3 5 3M517 720l4 0 5 0 4 1 4 2 4 3 3 3 3 4M431 755l-4-2-4-3-4-3-4-2-3-4-4-2-3-4-1-4M354 830l-4-3-4-2-4-2-4-2-4-2-4-1M446 929l4 2 4 1 4 0 4 0 5-1 4 2 3 2 4 1 5 0 4-2M367 803l-4 3-4 4-3 4-5 2-5 1-6-1-5 0M483 928l-3 3-2 3-2 4-2 4-2 4-2 3-1 4-2 4-3 3-3 4M572 846l-4-1-4-2-3-3-3-3-3-3-3-3-4-2-3-3-3-3M352 699l-1-5-1-5-1-5 2-5 1-5-1-4-1-5-3-4-3-4-4-3-5-1-4-2M339 834l-5 1-5 0-5-1-5 0-6 1-5 0-5-1-5-2-5-2M407 867l4 3 4 3 3 4 3 5 0 5 1 5 1 5 3 4 2 5 2 5 3 5 4 2M416 800l1-4 0-5 0-4-1-5 0-4 0-5 1-4M451 939l1 4 3 5 2 4 3 4 1 5 0 5-2 4-2 5-2 4-3 4-2 5M523 721l3-4 3-5 3-4 4-4 3-4 2-5 3-5 2-6 0-5M504 819l-5-1-4 0-5-1-4-1-4-2-5-1-4 2M554 719l1 5 0 4-1 4-3 4-2 4-4 2-4 2-3 3-4 3-3 3-4 2M526 837l3-3 3-4 1-5 2-4 3-4 3-4 4-2 4-1 5 0 5-2 4-3 4-2M364 738l4 1 5 3 3 4 4 3 3 4 3 3 3 4 2 5 1 5M402 931l4-3 3-4 4-3 3-4 4-2 4-4 3-3M520 922l-4 3-4 4-5 3-4 3-4 4-4 4-2 5-3 5-4 3-5 3-5 2-6 2M442 805l-1 5 0 4 1 5 2 4 2 4 4 3 2 4 2 4M407 755l-4 4-1 4-1 5 1 5 1 5 2 4 3 4 3 4 2 5 1 4M564 801l4-2 6-1 5 0 5 1 5 2 5 0 5-1 5 1 5 1M457 703l4-3 4-2 4-4 2-4 3-4 3-4 4-3 2-4 4-3 5-2 4-3M434 869l-5-2-5 0-6-1-4-3-4-2-4-4M332 740l2-5 0-5 2-5 2-5 2-5 1-5 0-5M368 811l3-3 4-2 3-3 3-3 4-1 4 0 4-2 5 0 4 1 4 1 4 0 4 1M484 713l-4 2-5-1-5 0-4 1-4 3-4 3M535 772l-3 4-3 4-4 2-3 4-2 4 0 5-1 5 1 5M446 708l4 3 3 3 4 1 3 3 4 3 2 3 2 5 0 4-2 4-2 4M485 707l-4-2-4-3-4-1-4-2-5 1-4-1-5 0-4 1-5 2-4 1M555 819l-1 5 0 5 0 5 1 5 0 5 0 6-1 5-2 4-2 5 0 5 1 5M575 795l2 5 3 4 3 3 3 4 2 4 2 4 3 4 4 3 4 2 4 2M403 934l-5 0-4 2-5 0-5-2-5-1-4-2-3-4-3-4-3-3-4-3-4-4-4-2M345 930l-5 2-5 1-5 3-5 1-5 3-3 4-5 2M388 852l-1-5-1-5-2-4 0-5-2-5-1-5-3-4-4-3-4-3-3-4M365 792l5 1 5 2 5 3 5 2 5 2 5 0 5 2 5 2 4 4 4 4 5 2M338 713l1 5 1 4-1 5-2 5 0 4-2 5-3 4-4 3-4 2-5 1M345 733l-6 2-5-1-5 2-4 2-6 1-4-2-6 0-4 2-5 2-6 0-5 0M493 856l5-2 5-1 6 0 5-1 5 0 6 0 5 1M476 745l-2 4-2 4 0 4-2 4-1 4-1 4-2 4M395 851l-2-4-2-4-1-5-1-5 1-4 1-5 1-4-1-5-1-5-3-4-3-3-4-3M402 864l2-4 1-5 3-4 1-5 2-5 1-5 0-5-2-4-1-5-2-5-3-3M481 874l-1-5-2-4 0-5 0-4 1-4 2-4 3-4 2-4 3-3 3-3 4-3 4-1M508 829l5-1 5-2 4-3 3-4 4-3 4-4M487 894l-2 5-1 5-2 5-2 5-3 5-1 5-1 5 1 5 2 5M340 738l-3-4-3-4-4-4-4-3-4-3-4-3-4-3M528 881l4-3 3-4 4-4 2-4 3-4 4-4M483 812l2-4 0-5 2-5 0-5 1-5-1-5 0-5 0-5 0-5M337 889l1 4 0 5-2 5-1 4-3 4-2 5-2 4-3 4M381 784l2-4 2-5 2-4 3-4 2-4 4-3 3-4 3-4 3-4 2-4 4-3M359 881l-1 4-1 4-2 4-1 5-1 4-3 4-3 3M335 805l-1-4 1-5-1-5 0-4 1-5 2-4 2-4 0-5M452 796l0-5 0-4-1-4-1-5 0-4-2-4-4-3-2-4M513 754l-5 0-5 0-5 1-5 1-5-1-5 0-4-2M569 711l-2-4-3-4-4-3-5-2-5-1-5 1-5 0M505 862l4 4 5 2 4 4 5 2 5 2 6 2 4 4 4 3 5 3 6 1M419 889l-4 3-5 1-5 2-4 2-4 3-3 4-4 3-4 3-3 3-4 3M553 884l-5-1-5 1-6 1-5 0-6 0-5 0-6 1-5 3M506 827l2 3 2 4 1 4 2 4 0 4 0 4M466 922l1-5-1-5 0-5-1-5 0-5-1-5-2-5-2-5-1-5 1-4 3-5 4-3M467 779l4 0 4-1 4-1 5 0 4 1 4 1 4-1 4-1 3-4M347 936l-4 0-5 0-4-2-5 0-4-1-5-2M413 865l-3 4-5 2-4 3-3 3-5 2-5 2-4 1-5-1M565 770l2 4 0 5-1 4-1 5 0 5-1 4 0 5 2 5M419 813l-4-1-4-1-4-1-4-1-4-1-4 0-4 0-5 1M539 705l4 0 5-1 3-2 5-2 4 0 5 0 4 0 5 2 4 1 4 1 4 3 4 2M348 797l0-5-2-5-1-4 0-5 1-5 0-5-1-5M567 918l-3-3-3-2-4-2-3-3-4-1-3-3-4-1-3-2-4-2-4-1-4-1-4 0M449 788l-1-4-3-4-4-3-4-2-4-3-4-1M376 936l1-3 1-4 0-5-2-3 0-4 0-4 0-4 0-4M491 905l2-4 3-4 1-4 2-4 3-3 4-3M547 873l-3-5-4-4-4-3-5-3-3-4-2-6M462 856l3-4 4-3 4-2 5-2 5-1 4-1 5 0M555 704l4 3 5 2 5 2 5 2 5 0 5 0M519 770l-5-1-4-3-4-2-4-3-1-4-2-5-2-4M334 813l-4-2-4-1-4-2-4-2-4-2-4-2-3-3-4-2-3-3-4-1M358 830l-5-1-5-1-4 1-5 1-5-1-4-1-5-2-4-2-4-3M556 941l-3 4-3 4-1 4-2 4-2 5-2 4-4 3-2 4-4 3-4 2-5 1-4 3M348 770l-3-1-4-1-4-1-4-2-3-1-4-2-4-2-4-1-3-2-4-1M436 792l5 3 6 1 5 1 6 0 5 2 4 3 5 3 2 5 3 5M458 822l-3 4-3 5-2 5-2 5-3 4-3 4-3 5-1 5M424 705l6 0 5-1 5-3 4-4 3-5 2-4 2-6 4-4 4-4 5-2 6-1M507 852l4-3 2-5 2-4 0-6 2-4 2-5 2-5M413 790l-2-6 0-5-1-5-1-6-1-5 0-5 2-6-1-5-2-5-1-5-2-5M498 703l3-4 5-3 4-3 4-3 5-3 5-1 5-3M523 784l-2 4-1 5-2 5 0 5 0 5-2 4 1 5 2 5 0 5M369 815l-4-3-4-4-2-4-2-5-3-4-3-4-4-3-5-2-5-1-5 1-5 0M450 875l-1-6-2-5-2-5-1-6-2-5-3-5-2-4M474 834l-1-5 1-6-1-5-1-6-3-5-1-5 0-5 0-6 0-6-1-5-2-5M511 807l5-4 3-4 4-5 4-3 4-3 5-3 5-2 6-2 3-4M383 872l-5 1-4 2-4 3-4 2-4 1-5 3-4 2-2 4M421 851l-1-6-1-5 1-6-1-6 0-5 0-6 2-5 2-5 2-5 2-6 3-4 2-6M372 745l2-5 2-4 4-4 2-4 3-5 3-4 3-4 2-5M451 908l-1-5-3-4-2-5-2-5-1-5-1-5M517 765l4 0 4 1 4 3 4 3 3 2 5 1 4 0 5 1 3 3M570 766l-4-3-3-3-4-2-3-4-4-3-4-2-4-2-5-1-4-3-4-2M364 765l5 0 6-1 5 1 5 0 4 2 5 2 5 0 5 1M331 890l-1 5 1 5 2 5 4 4 3 4 3 4 4 4 4 3 4 3 5 3 5 2 4 3M547 893l1 5 0 4 0 4-2 4-2 5-1 4M416 914l1 5 1 5 2 5 3 4 4 3 5 1 5-1M530 784l-2-4-4-4-3-4-2-4-3-4-4-3-4-3-5-2-5-1-5 0M364 730l0-4 0-4-1-4-1-4-2-4-3-3-3-3-4-2M479 897l-1-4-1-4-1-5-1-4 0-4 1-4 1-5-1-4 1-5 0-4 0-4M438 922l-3-4-1-5 1-4 1-5 0-5 2-4 2-4M508 785l2-3 3-3 4-3 4-1 4-3 4-1 4-1M437 744l5 1 5-1 5-2 4-1 5-2 4-3 5-1 4-3 2-4 3-5M470 737l5-1 5 2 5 2 3 4 5 3 4 3M530 857l2 4 1 6 1 5 1 5-1 5 0 5-1 5-2 5-4 4M333 760l-4-1-5-1-4-2-5 0-4 1-5-1M334 762l-5 1-5 1-5 2-5 2-5 4-4 3-5 2-3 4-3 5-3 4-5 2M509 737l2 5 4 4 3 4 2 6 3 4 5 3 3 5M501 738l3-3 2-3 2-4 0-4 0-5 0-4-1-4 0-4 1-4M351 720l2-3 4-2 2-4 3-2 4-3 3-2 2-4 3-3 1-4 2-4 3-3M408 863l0 4 2 5 2 4 2 4 2 4 4 3 2 4 3 4 2 4 1 4M525 892l3 4 3 3 4 2 4 2 4 1 4 2 5 1 3 2 4 3 4 1 5 1 4 0M397 771l4 1 4 0 4-1 4-1 3-2 4-1 4-2M393 737l-2-4-2-4-1-5 0-4 1-5-1-4M377 756l2-5 0-6 0-5-1-6-1-5-1-5-1-6 0-5 0-6 0-5-2-5-2-5M575 724l4 2 2 4 3 3 2 3 3 3 3 3 3 3 2 4 2 4 2 3 4 1 4 1M390 710l-3 4-3 4-3 4-3 4-4 3-5 2-4 3-4 3-3 4-3 5-1 5-4 3M340 910l-5-1-5-2-5-2-4-3-4-3-4-4-2-4-4-4M364 765l4 2 4 1 4 2 4 1 4 0 4-2 4-2 3-3M340 777l0 5-1 6-1 5-2 5-2 5-3 4-3 4M442 847l4 0 5-1 4-2 4-2 4-2 5-1 4-2 3-3 5-3M526 803l2 4 2 5 2 5 1 5 2 4 2 5 3 5 1 5M382 816l3 4 1 5-1 5 0 5 1 5 0 5-3 5-1 5-1 5 0 5M543 840l4-2 5-3 4-4 2-5 2-4 3-5 4-3 4-2 5-2 5-2 3-5 1-5M384 813l1-4 2-4 2-4 2-5 0-4-1-5-2-4-1-4M470 739l4-4 4-1 5-2 5-1 5-1 4-1 5 1 5 1 4 3 5 2 4 2M468 877l2 5 0 5-3 5 0 6-2 5-3 5-4 3-3 5-4 3-5 3M333 729l3 3 4 2 4 3 3 3 3 3 2 4M454 900l2 4 0 4-1 4 0 4 0 4 1 4 1 4 0 4M523 735l-4-2-4-1-4-2-3-2-3-4-2-3-3-3-2-4 0-5 0-4M508 782l-1 4 0 4 2 5 2 3 2 4 1 4 0 5-1 4-2 4 0 4M331 782l-5-2-6 0-5-2-5-1-5-3-4-3-3-5-3-4-4-4-4-3"/>
<path stroke="rgb(31,130,52)" stroke-opacity="0.9" stroke-width="1.4" d="M362 715l3-4 2-4 3-3 4-3 4-1 3-3 4-3M526 863l4-2 3-1 4-2 4-1 4-2 3-2 3-1 4-1M387 831l-2-5 0-6 2-5 2-5 3-4 2-5 1-5M535 712l1 5 0 4 2 4 1 4 0 4 1 4-1 4M464 759l-4 0-4 0-5-1-4-2-4 0-5 1-4-1-4 1-4 2-5 2-4 0-4 0M556 764l5 0 4 0 4-1 4-2 4-1 4 0 4 1 5 1 4-1 4-1 4-1 3-3M337 696l5-2 5 1 5 0 5 0 5 0 5 1 5 3 4 2 5 2 5 2 5-1M506 802l3-5 2-5 1-5 1-5 1-5 2-5 4-4 4-4 4-3 5-2M495 703l1-4-1-5 0-4-2-4-3-3-4-2-3-3M549 765l0-5 2-4 1-5 2-4 3-4 1-5 0-5M531 702l-3-4-2-4 0-5-2-5-1-4-1-5-1-5 0-5-1-4-2-5-2-4M512 843l5 0 3 2 5 1 4 2 4 1 4 0 4-2 4 0 5-1 4-1 4-2M478 777l-1 5-2 5-4 3-2 5-2 5-1 5-1 5-2 4M490 709l5-1 4-2 5-1 4-2 5 0 4 0 5 1 5-2 3-3 4-2M494 894l-4 2-5 0-5 0-4-2-4-2-4-2-5 0M449 917l-3 2-3 4-3 3-4 2-3 3-3 4-2 4M507 771l1-4 2-4 1-4 2-4 2-4-1-4M443 807l1-6 2-5 4-4 4-4 3-4 3-5 3-4 5-3 5-3 5-1 6 0M333 816l2-4 2-5 1-5 1-5-1-5-2-4-3-4-2-5-2-4-4-4M362 740l-1 5 0 5 1 5 2 5 1 5-2 5 0 5 1 5 2 5-1 5-1 5-1 6M499 887l0-5 0-6 0-5 0-6-1-5 1-6 2-5 4-4M527 909l3 4 4 4 5 2 5 2 5 0 6-1 5 0 5-1 5 1 6 0 5 0 5 0M500 882l-4-2-5 0-4-1-5 0-4 0-4 2-5 1-4 2-3 3M540 779l0-4 1-4 2-3 1-4 0-4 2-4 3-3M567 772l2-4 1-5 1-5-1-5 0-5 1-5-1-5-2-5M514 859l0-5-1-4-1-5-2-4-4-3-2-4-4-3M348 728l-6 1-5 0-5 2-4 3-5 3-5 1-5 1-5 0M441 875l0 5 1 5 1 5 1 6 3 4 4 3 5 1 6 0 5 1 5-1 5 2 5 2M502 770l-3-4-2-5-1-5-2-4 0-5 0-5-2-5-1-4-3-5-3-3M504 714l-3 3-3 3-2 4-4 3-4 2-5 1M385 922l-3-3-3-3-2-4-3-4-2-4 0-4 1-4 2-4 0-4 0-5M376 763l4-1 4-2 4-1 4-3 2-3 3-4M359 875l-3-5-2-5-4-4-3-4-3-5-4-3-5-3-4-3-4-4-2-5-2-5M496 778l5 2 5 1 4-1 5-1 5-2 4-2 4-4M418 822l2 4 1 4 1 5-1 4-1 4 0 5-1 4 1 5 1 4 2 4M559 898l-3 3-4 2-2 4-3 3-2 3-2 4-2 4-2 3M513 853l5 0 6 2 4 3 5 2 5 1 6 1M411 818l2 4 1 5 1 5 0 4-2 5-2 4 0 5 0 5-1 5-1 4-1 5-2 4M513 820l-4 2-3 3-3 2-3 3-3 2-3 3M362 775l5 1 4 0 5 0 4-1 4-2 3-3M504 896l-3 2-4 3-4 2-3 3-3 4-2 4-3 3-1 5-1 4 0 5-1 4-1 4M478 834l-3 4-1 5 0 5 2 5 2 5 3 4M374 750l0-5 0-4 0-5-1-5-1-4 1-5 1-4M354 888l-4 4-2 5-2 5-3 4-4 3-2 5-3 4-1 5-1 5 1 5 0 6-1 5M483 700l1 4 0 5 1 4 3 5 2 4 3 3 3 4 3 3 3 4 4 2 5 2 4 2M550 724l2 4 2 4 2 3 3 4 4 2 3 3 4 2 3 3 3 2 4 3 4 1 3 3M552 816l3 3 4 3 3 2 4 2 4 2 3 3 3 2 5 1 4-1 4-2M553 895l-2 5-2 5-3 5-3 4-4 4-4 4-4 4-4 4M408 714l5 0 5 0 5 1 4 2 4 3 2 5 1 5 0 5 1 5 0 4M502 827l4 2 5 0 5 0 5-1 4-3 2-4M419 812l-4-2-3-2-3-3-4-3-4-2-4-2-4-1-4-2-4-1-4-3M555 750l-3-2-4-2-3-2-3-3-4-2-3-3M552 849l3 4 4 2 4 2 4 2 4 2 5 1 4 2 3 3 4 2 4 4 3 3 4 3M446 698l0-5 0-4-1-5-2-4-3-3-4-2-5-1-4-2M336 704l-5 1-5 1-5 1-4 2-5 2-5 1-5 1-5-1-4-2-5-1-5-2M349 808l-3 3-4 3-4 2-3 3-4 2-3 3-4 2M362 799l5 0 4 0 5-2 3-2 4-3 4-2 5 1 4 1 4 1 5 1 4 1 4 1M559 901l-3-3-3-3-2-3-2-4-2-3-1-4 0-4 0-4M429 840l-4 1-4 2-2 3-3 3-3 3-3 3-2 3-2 4-1 4-1 4 0 5-1 4M457 763l5-1 4 0 4 2 4 2 3 3 1 4 3 4 3 3 4 2M425 939l4-4 4-4 4-3 5-4 5-3 5 0 5 2 5 3 5 3 4 3 4 4M508 771l-5-2-5-3-5 0-6 0-6-1-5 1-5 1-6 0-5-1-5-3-5-2-4-5M330 729l1-4 0-4 1-4 2-3 3-3 2-3 1-4 0-4-1-4-2-4M534 754l5-2 5-2 5-2 3-3 5-2 4-3M417 877l4 2 4 4 4 2 5 1 5 0 5 1 5 0 5 0 5 0M393 716l-3 4-3 4-1 5-3 4-2 4-2 5 0 4-2 5-2 4-3 4-4 3M535 730l-5-2-5-2-5-2-4-4-5-2-6-1M545 861l4-1 4-1 5-1 4-2 4-2 4-1 4-2 4-2 3-3 4-3 3-3M346 734l4 1 5 0 4-1 5-1 5-1 4 1 5 0 5 0 4-1 4-3 5-1M563 780l-4 2-5 3-5 1-6 2-4 3-3 4M486 892l5 1 4 1 5 1 3 4 3 3 2 4 0 5-1 5-1 4-2 4 0 5-2 4M575 875l5 0 4 1 4 1 4 2 4 3 2 4 1 4 0 5-1 4M575 924l3-3 2-5 4-3 1-5 3-4 1-5 0-5 1-4 0-5M555 921l-5 3-4 3-5 1-5 0-5-2-5-3-4-3-4-3-4-4-5-1M445 802l-1 5-2 3-2 4-2 3-2 4-4 3-3 2-3 3-3 3M414 731l-2 4-1 3-2 4-2 4-2 3-3 2M491 809l4-3 4-3 4-3 3-4 1-5 0-4 2-5 0-5-1-5-2-4-1-5M374 739l-1-5 0-6 0-5-2-5-1-6 2-5 0-6 0-6 3-5 0-5-1-6M520 826l-5 0-5 0-5-1-5 0-5 1-5-1-5 2-5-1-5 0-5-1-4-3-3-4M377 846l-4 2-4 2-5 0-4 2-4 1-5 0-4 1-5 1-4 1-4 2M332 828l3-4 3-4 3-3 4-3 3-4 1-4M497 699l-3 5-2 5-4 4-4 4-5 3-5 1-6 0-5-2-6 0M391 867l4 1 5 3 3 4 2 4 1 5-1 5 0 5 2 5M500 699l3 2 4 2 4 1 3 3 3 3 2 4 2 3 2 4M358 747l5-1 5 0 5-3 5-2 5 0 6 0 5 0 5-1M353 742l5 0 4 3 4 4 4 3 3 4 2 5 4 4 2 4 1 5M360 759l5 1 3 3 3 3 1 4 2 4 4 3 4 2 3 3 3 3 1 4 0 5M521 767l2 5 1 4 2 5 3 4 3 4 4 4M373 809l-2-4-1-5 0-4-3-5-1-4-2-4-3-4-3-3-3-4-4-2-4-3-4-1M329 735l-2-4-2-3-3-2-4-2-4 0-4 1-5 0-4 0-4 1-4 2-3 3M349 720l5 0 4-2 4-1 4-3 4-1 5 0 4 1 4 3 3 3 2 4 3 4M390 779l1 5 0 5-3 4-2 5-3 4-2 4-1 5-3 4-3 4-3 4M349 886l5 1 5 0 5-3 5-2 5-3 5-2 4-3 3-5 0-5 1-6 2-5M517 703l-4-1-4-2-3-3-4-3-3-2-4-2-2-4-2-4-1-4 0-4-1-4M451 806l1-4 0-5-1-4-1-4-1-5-1-4-3-4-2-3-4-3-3-3-5-1-4 0M528 866l0 5-3 4-2 3-3 4-3 3-4 2-5 2-4 1-4 2-4 1M575 856l-3 2-4 1-4 1-4 2-4 2-3 2-4 1-4 2M548 752l4 4 4 2 3 4 3 5 1 5-1 5-2 4M548 777l4 3 3 4 4 3 3 4 3 4 4 4 2 5 1 5 1 5 2 5 2 4M421 908l4 3 5 2 4 2 5 2 5 0 5 1M552 797l-4-2-4-3-5-3-4-2-3-4-4-3-5-3-3-3-2-5-4-4M476 760l5-3 4-3 5-3 5-2 5-2 5 0 6 0 5 0M362 784l5-1 5 1 5 1 5 1 5 2 5 0 5 1 6 0M560 893l-1-5 0-6-2-5-3-4-4-4-5-2-5-3-5-1M340 769l5-2 5-2 4 0 5 0 5 2 5 1 4 1 5 0 5 1 4 3 4 4 3 3M559 837l4 3 4 4 3 4 3 4 3 4 4 3 5 1 6-1 5 1 4 2M429 760l5-1 5-1 5 1 5 1 5-1 5-2 4-3 3-4 4-3 2-5 3-4 2-5M569 737l-2 3-1 4 1 4-1 4-2 4-2 3-1 4-1 4-2 3-2 4M577 817l1-4 1-4 0-4 1-4-1-4 1-4 1-4 0-4-1-4-3-4-3-2-4-1M530 799l-3 4-3 4-3 4-4 2-5 1-5 2-4 3-2 4-2 5 0 5 0 5M437 699l-4-2-4-3-4-2-5-2-4-3-3-4-5-2-4-2M512 912l-6 0-5 2-5 1-5 2-5 2-4 2-4 3-5 3-5 1M532 898l1 5 1 5 2 5 3 4 2 4 4 4 4 3M505 735l-4 3-4 2-4 2-4 2-4 3-4 3-3 4-3 3-2 4 0 5-2 4-2 5M493 812l-3 4-4 3-4 2-4 3-5 2-3 4-2 4M355 881l1 5-2 5-3 4-1 5-1 5 0 5M486 912l-3 4-4 4-2 4-2 5-1 5 0 5 0 5-1 5-2 5-1 5-1 5 0 5M482 880l2-5 2-3 4-3 4-2 3-3 4-3 4-2 4-2 4 0 5 0 4 0M420 738l4 2 5 0 4 2 4 3 4 3 4 2 5 3 4 1M452 802l1-4 1-4 1-4 2-4 2-3 2-4M552 898l3-3 2-4 1-4 1-5 0-4-1-4 0-5 1-4 1-5-1-4 1-4M372 792l3 3 4 3 3 3 4 2 3 3 4 3 4 2 2 4 4 3M492 767l2-5 4-4 2-5 2-5 3-5 3-4 3-5 0-5M402 702l1 6 1 5-1 5 1 5 1 6 2 4 2 6 1 5 2 5 0 5-1 5M491 765l4 2 5 2 4 3 5 2 3 3 4 4 4 3 5 1 5-1 5-3M550 836l3-3 3-4 3-3 2-4 2-4 3-3 2-5M380 726l-3-2-3-3-4-2-1-4-2-3-3-4-1-4-1-3 0-4 2-4 1-4M535 734l-2 5-2 5-3 4-3 5-5 3-5 2-4 3-5 3-4 4-5 2-5 3M533 893l-3-2-4-2-5 0-4-3-4-1-5-1M502 728l0-6 2-5 0-5-1-6-1-5-1-6-3-4M389 701l-4 5-3 4-4 3-3 4-5 3-5 1-5-1-5 1-6 1M336 735l-5 2-4 1-5 1-4 1-4 3-3 3-5 1-5 1-3 3-4 2-5 1-4 3M488 803l4 0 4-2 2-3 3-2 4-2 4-1 4 0 4-1 4-2 4 0 4 1M390 887l5 0 5-1 5-2 5-1 5 0 5 2 4 2 5 2 5 1 5 0 5 0M506 819l5 2 5 1 6 1 5 2 4 2 4 4M407 805l1 5 0 5 0 6 2 5 2 5 2 5 0 5 1 5-1 5 0 6M418 858l-2-5-3-3-4-4-4-3-4-3-4-3-3-4-4-3-4-3M564 763l5-2 5-1 5 2 4 1 4 3 5 2M359 751l2 5 2 4 1 5 1 5 3 4 0 5M346 733l0 4-2 4-1 4 1 4 0 4 1 4 0 4 0 4 1 4 1 4M537 818l0-4-2-4 0-4 1-4 2-3 1-4 3-3 2-3M345 742l5 2 4 4 5 2 5 1 5 2 5 2 5 2 5 2 6 0 5 1 6 1 5-1M541 735l0-5 1-5 3-4 1-6 0-5 0-5-2-5-3-4-2-5M420 813l-4 3-4 4-4 2-5 1-6 1-5-2-5 0-5-1-5-2M390 844l1 4 3 4 2 4 4 3 2 4 3 3M364 714l-3-4-2-5-2-4-2-5 0-5 1-5 0-5-1-5 1-4 2-5M495 935l0 5 1 5 1 5 2 4 1 5 1 4 2 5M458 893l-4 0-4-1-4-2-4 0-4 1-3 3M535 877l4 0 5-1 4 1 4 1 5 2 4-1 5 0M516 841l2 3 0 5 1 4 1 4-1 4-1 4 1 5 2 4 2 3 2 4M387 746l-1 6 0 5 0 5 0 5 0 5 0 6 2 5 2 4 1 6-2 5-2 4-3 5M570 702l5 0 5-2 4-1 5 0 5 1 5 1 4 2 4 3 4 3 4 3 2 4M331 785l-1-6-2-4-3-5-4-3-4-3-4-3-3-4-5-2-3-4-4-4M416 868l-3-2-3-3-4-2-2-3-1-5 0-4 1-4M475 777l4-1 3-2 4-1 4-1 4-1 4-2 3-2 4-2 4-2M329 715l4-2 4-3 4-2 5-1 4-2 4-3M489 772l4 2 4 2 5 1 4 2 4 2 4 1 5 1 4 2M371 833l-1-5 0-6 2-5 2-5 4-4 4-4 2-5 3-4 2-6M491 841l1-4 1-5-1-4-2-4-3-4-2-4-3-3-1-5 0-4 2-4M492 929l-5 0-4-2-3-2-4-2-4-2-4-1-5-1-4 1-4 1M481 744l-3 4-2 5-3 4-2 5-1 6 1 5 3 4 4 4 3 4 4 4 5 3M471 808l-4 0-5 2-3 3-5 3-3 3-2 4-3 4-2 4M392 782l-5 1-5 2-5 1-5 2-4 3-5 2-5 1-5 2-4 2-5 3-5 1-5 2M341 796l0 5-2 5-2 5-2 5 0 5-2 5-4 4-4 3-4 4-5 2-5 1M432 894l-1-5-2-4-4-3-3-4-3-4-3-4-3-4M343 840l-4-3-3-4-2-4-1-5-1-5 2-4 0-5 0-5 0-5 2-4-1-5-2-4M578 750l2 5-1 5 2 5 3 4 4 4 4 3 4 3 4 4M461 879l1-5 3-3 4-3 4-2 5 0 4-1 5-1 4-1 5 0 4-1M542 751l-3 5-3 4-1 6-3 4-3 4-5 3M534 706l-4 2-4 3-3 3-3 4-2 3-4 2-5 1-4 2-4 0-5 1-4 0-5-2M470 896l-5 1-5 0-6 1-5 1-5 3-4 2-6 1-4 3-3 5-3 5 0 5-1 5M439 882l4 3 3 4 2 4 2 4 2 5-1 4 2 5M414 837l3 4 2 4 3 4 4 3 4 3 3 4M494 928l-4-2-4-3-4-1-4-1-5 1-4 2-4 1-4 3-4 3-3 3M335 918l-5-1-5-3-5-1-5 0-5-2-4-2-5-2-5-3-3-3M508 756l5 2 3 3 4 3 4 1 4 3 5 2 3 3M395 880l-4-2-3-3-3-1-4-3-4 0-4-1-4-1M542 709l-4 2-3 3-2 4-3 3-4 3-4 0-4 2-4 1-4 1-4 2M456 804l-3-3-4-1-4-1-4 0-4 1-3 2-4 2-4 0-4 0-4-1M517 839l-3 3-4 1-4 2-5 1-4 1-4 1"/>
<path stroke="rgb(31,135,52)" stroke-opacity="1" stroke-width="1.5" d="M464 861l5 4 5 4 7 3 6 1 7 0 7 1 7 0 6 1 7 3M411 835l2 7 1 6 1 7 1 7 2 7 1 7 1 7M381 792l-2-8-3-7-2-7-3-8-3-7-4-6-3-8-4-6-3-8-4-7-3-7-6-6M513 883l5 4 5 3 5 3 5 4 5 4 6 3M472 776l-4-6-4-7-5-5-4-7-3-7-5-6-5-6-5-5-6-5-7-4-6-4-6-6M562 774l-7-3-8-1-8-1-8-3-8-2-8-1-8 0-7-2-8 0-8-2M573 901l-6 2-6 2-6 2-7 2-5 3-7 1-6 0-6-1-7-1M362 794l-8 4-8 2-7 3-8 3-7 4-8 3-7 4-8 3-7 4M382 766l-5 5-3 7-4 6-5 6-5 5-4 6-6 4-6 5-5 6M368 730l-6-2-7-2-7-3-7 0-7-1-7 0-7 2-7 2-7 1-7-1-7 1-7 0M365 774l6 3 5 4 5 4 5 4 6 3 6 2 6 2M546 907l7 3 8 1 8 0 8-2 8 0 8 1 7 1 8 3 7 2 8 3 7 4"/>
<path stroke="rgb(63,198,85)" stroke-opacity="1" stroke-width="1.5" d="M453 870l8 0 8 1 7 3 8 1 8 1 7 4 7 3 6 5M381 751l6-2 7 0 6-1 7-1 6 0 7-1 7-1 6-1 7 1 6 1 6 3M566 822l6 2 7 3 6 3 5 5 6 4 4 6 4 5 3 7 2 7M345 871l5 5 6 6 4 5 6 5 7 3 5 5 7 4 6 3 6 5 6 4 6 5 5 5M488 733l6 0 7 0 6 1 6 2 6 0 6 0 6-2 5-4M410 934l-6-3-5-2-6-1-6-2-6-2-6-1-6 0M562 829l4 7 3 8 3 7 3 8 4 7 3 8 0 8 0 9 0 8 0 8-2 8M533 849l1-6 3-6 4-6 1-6 4-6 2-7 0-6-1-7 1-7-2-6M542 745l4 6 5 6 6 5 6 4 5 6 4 7 2 7 1 8M462 739l-6-1-6-3-6-2-6-1-6 1-7-1-6 1-6 0-6 0-7 0-6-2-5-3"/>
<path stroke="rgb(22,108,40)" stroke-opacity="1" stroke-width="1.5" d="M515 812l-6 4-6 4-7 3-6 2-7 1-8 1M467 802l7-2 7 1 7 0 8 2 7 2 7 2 7 0 7 2M407 714l2-7 1-7 1-7-1-7-1-7-3-7M475 733l7 3 8 3 8 4 6 5 7 5 6 5 6 6 5 7 6 5 7 6M380 760l-4 5-4 6-3 5-5 6-5 4-5 5M483 800l8 1 7-1 7-2 7-3 7-1 8 0 7-1 8-1 7-3 6-3"/>
<path stroke="rgb(27,90,36)" stroke-opacity="1" stroke-width="1.5" d="M345 746l-6 5-7 2-6 4-6 3-7 3-7 3-7 2-6 3-7 2-7 3-7 2M548 727l7 0 6 1 7 2 6 2 5 3 5 5M331 934l5-5 5-4 5-4 5-4 6-4 6-4M402 695l-8 1-8 1-8 0-8-2-7 0-8 1-8 2M489 712l-7 4-6 5-6 6-5 6-6 5-6 5-5 7-4 7-3 7M415 888l-3-6-2-5-1-6-2-6-2-6-3-5"/>
<path stroke="rgb(49,180,73)" stroke-opacity="1" stroke-width="1.5" d="M333 825l6-2 7-1 6-1 6-1 6 0 7 1 6 1 6 2 5 4 7 1 6 1M426 873l7 2 5 3 5 5 5 5 5 4 5 5 4 5 5 4 6 4 6 4 4 4 6 4M352 770l3 6 5 6 6 4 5 5 6 4 6 4 7 2 8 1M474 712l-6 6-6 5-4 6-6 5-7 4-8 2-7 1-8-1-8-1M417 838l-3-5-4-5-2-6-2-6-4-5-4-4-4-5-4-5M362 760l1 8 2 7 0 7-2 7-1 7 1 7 1 7 4 7 4 5M375 878l-3 6-3 5-3 6-4 6-4 5-4 6-5 4-4 5M420 813l6 6 6 6 4 7 4 8 5 6 5 7 4 7 5 7 4 8 5 6 6 6 5 6M501 928l9 0 8 2 7 4 7 4 8 3 8 3 7 5 6 5M377 909l8 2 8 3 7 2 7 4 8 4 8 2 7 2 8 4 7 3M332 890l2 7 4 7 5 5 6 4 6 4 6 5 7 3"/>
<path stroke="rgb(40,157,63)" stroke-opacity="1" stroke-width="1.5" d="M425 816l1-8 1-8 2-8 2-8 4-7 5-6 7-5 6-5 8-3M396 781l6-4 7-3 7-2 7-1 7-3 7-1 8-2 7-2M570 877l7 2 7 3 7 1 7 1 8 0 7 0M450 814l-6 3-6 4-5 5-3 6-3 6-1 7-3 7-2 6-2 7-1 7M515 765l-7 3-6 4-5 5-4 6-3 6-3 7M398 815l1 6 1 6 2 7 1 6 2 6 3 6M568 778l-6-2-6-3-5-4-5-3-5-5-5-4M342 806l8 0 7-1 8 0 8 2 7 2 8 1 7 3 8 1M338 742l-3 8 0 8-1 8 2 8 2 8 0 8 0 8 1 8 0 8-1 8M553 895l-7-3-7-2-7-3-7-4-7-3-7-3-7-2-8-2-7-1"/>
</g></g>
<text x="141.70" y="342.80" font-size="7.2" text-anchor="start" fill="#fff" stroke="#fff" style="stroke-width:0.35px">50 µm</text>
<line x1="141.40" y1="346.80" x2="164.60" y2="346.80" stroke="#fff" stroke-width="1.1"/>
<text x="258.60" y="342.80" font-size="7.2" text-anchor="start" fill="#fff" stroke="#fff" style="stroke-width:0.35px">50 µm</text>
<line x1="257.20" y1="346.60" x2="280.40" y2="346.60" stroke="#fff" stroke-width="1.1"/>
<text x="141.70" y="456.90" font-size="7.2" text-anchor="start" fill="#fff" stroke="#fff" style="stroke-width:0.35px">50 µm</text>
<line x1="141.40" y1="460.60" x2="164.60" y2="460.60" stroke="#fff" stroke-width="1.1"/>
<text x="257.00" y="456.90" font-size="7.2" text-anchor="start" fill="#fff" stroke="#fff" style="stroke-width:0.35px">50 µm</text>
<line x1="257.10" y1="460.60" x2="279.60" y2="460.60" stroke="#fff" stroke-width="1.1"/>
<text x="325.00" y="266.50" font-size="11.5" text-anchor="start" font-weight="bold" fill="#000" stroke="#000" >D</text>
<line x1="357.60" y1="290.30" x2="357.60" y2="408.70" stroke="#1a1a1a" stroke-width="1.4"/>
<line x1="354.40" y1="408.10" x2="357.60" y2="408.10" stroke="#1a1a1a" stroke-width="1.1"/>
<text x="351.60" y="410.70" font-size="8.0" text-anchor="end" fill="#1a1a1a" stroke="#1a1a1a" >0</text>
<line x1="354.40" y1="370.20" x2="357.60" y2="370.20" stroke="#1a1a1a" stroke-width="1.1"/>
<text x="351.60" y="372.80" font-size="8.0" text-anchor="end" fill="#1a1a1a" stroke="#1a1a1a" >50</text>
<line x1="354.40" y1="332.30" x2="357.60" y2="332.30" stroke="#1a1a1a" stroke-width="1.1"/>
<text x="351.60" y="334.90" font-size="8.0" text-anchor="end" fill="#1a1a1a" stroke="#1a1a1a" >100</text>
<line x1="354.40" y1="294.40" x2="357.60" y2="294.40" stroke="#1a1a1a" stroke-width="1.1"/>
<text x="351.60" y="297.00" font-size="8.0" text-anchor="end" fill="#1a1a1a" stroke="#1a1a1a" >150</text>
<line x1="357.10" y1="408.10" x2="475.00" y2="408.10" stroke="#1a1a1a" stroke-width="1.1"/>
<line x1="394.90" y1="408.10" x2="394.90" y2="410.30" stroke="#1a1a1a" stroke-width="0.9"/>
<line x1="445.40" y1="408.10" x2="445.40" y2="410.30" stroke="#1a1a1a" stroke-width="0.9"/>
<text transform="translate(331.70,350.60) rotate(-90)" font-size="8.2" text-anchor="middle" fill="#1a1a1a" stroke="#1a1a1a" textLength="102.4" lengthAdjust="spacingAndGlyphs" style="stroke-width:0.35px">Fiber density (no. of fibers/250 µm)</text>
<path d="M369.20,303.80 V299.60 H416.90 V303.80" fill="none" stroke="#1a1a1a" stroke-width="1.15"/>
<circle cx="391.57" cy="295.80" r="0.95" fill="#1a1a1a"/>
<circle cx="394.43" cy="295.80" r="0.95" fill="#1a1a1a"/>
<line x1="376.20" y1="337.70" x2="413.80" y2="313.10" stroke="#111" stroke-width="1.05"/>
<line x1="376.20" y1="337.70" x2="413.80" y2="335.80" stroke="#111" stroke-width="1.05"/>
<line x1="376.20" y1="338.70" x2="413.80" y2="337.70" stroke="#111" stroke-width="1.05"/>
<line x1="376.20" y1="346.30" x2="413.80" y2="330.40" stroke="#111" stroke-width="1.05"/>
<line x1="376.20" y1="347.30" x2="413.80" y2="333.80" stroke="#111" stroke-width="1.05"/>
<line x1="376.20" y1="349.20" x2="413.80" y2="348.30" stroke="#111" stroke-width="1.05"/>
<line x1="376.20" y1="352.00" x2="413.80" y2="351.50" stroke="#111" stroke-width="1.05"/>
<line x1="376.20" y1="354.00" x2="413.80" y2="341.50" stroke="#111" stroke-width="1.05"/>
<line x1="376.20" y1="360.80" x2="413.80" y2="335.80" stroke="#111" stroke-width="1.05"/>
<line x1="376.20" y1="361.70" x2="413.80" y2="353.00" stroke="#111" stroke-width="1.05"/>
<line x1="376.20" y1="364.60" x2="413.80" y2="358.50" stroke="#111" stroke-width="1.05"/>
<line x1="376.20" y1="367.50" x2="413.80" y2="353.00" stroke="#111" stroke-width="1.05"/>
<line x1="376.20" y1="368.50" x2="413.80" y2="358.80" stroke="#111" stroke-width="1.05"/>
<line x1="376.20" y1="346.30" x2="413.80" y2="338.70" stroke="#111" stroke-width="1.05"/>
<line x1="376.20" y1="340.50" x2="413.80" y2="336.50" stroke="#111" stroke-width="1.05"/>
<line x1="376.20" y1="356.00" x2="413.80" y2="344.00" stroke="#111" stroke-width="1.05"/>
<circle cx="376.20" cy="337.70" r="2.0" fill="#0d4e8e"/>
<circle cx="413.80" cy="313.10" r="2.0" fill="#0d4e8e"/>
<circle cx="376.20" cy="337.70" r="2.0" fill="#0d4e8e"/>
<circle cx="413.80" cy="335.80" r="2.0" fill="#0d4e8e"/>
<circle cx="376.20" cy="338.70" r="2.0" fill="#0d4e8e"/>
<circle cx="413.80" cy="337.70" r="2.0" fill="#0d4e8e"/>
<circle cx="376.20" cy="346.30" r="2.0" fill="#0d4e8e"/>
<circle cx="413.80" cy="330.40" r="2.0" fill="#0d4e8e"/>
<circle cx="376.20" cy="347.30" r="2.0" fill="#0d4e8e"/>
<circle cx="413.80" cy="333.80" r="2.0" fill="#0d4e8e"/>
<circle cx="376.20" cy="349.20" r="2.0" fill="#0d4e8e"/>
<circle cx="413.80" cy="348.30" r="2.0" fill="#0d4e8e"/>
<circle cx="376.20" cy="352.00" r="2.0" fill="#0d4e8e"/>
<circle cx="413.80" cy="351.50" r="2.0" fill="#0d4e8e"/>
<circle cx="376.20" cy="354.00" r="2.0" fill="#0d4e8e"/>
<circle cx="413.80" cy="341.50" r="2.0" fill="#0d4e8e"/>
<circle cx="376.20" cy="360.80" r="2.0" fill="#0d4e8e"/>
<circle cx="413.80" cy="335.80" r="2.0" fill="#0d4e8e"/>
<circle cx="376.20" cy="361.70" r="2.0" fill="#0d4e8e"/>
<circle cx="413.80" cy="353.00" r="2.0" fill="#0d4e8e"/>
<circle cx="376.20" cy="364.60" r="2.0" fill="#0d4e8e"/>
<circle cx="413.80" cy="358.50" r="2.0" fill="#0d4e8e"/>
<circle cx="376.20" cy="367.50" r="2.0" fill="#0d4e8e"/>
<circle cx="413.80" cy="353.00" r="2.0" fill="#0d4e8e"/>
<circle cx="376.20" cy="368.50" r="2.0" fill="#0d4e8e"/>
<circle cx="413.80" cy="358.80" r="2.0" fill="#0d4e8e"/>
<circle cx="376.20" cy="346.30" r="2.0" fill="#0d4e8e"/>
<circle cx="413.80" cy="338.70" r="2.0" fill="#0d4e8e"/>
<circle cx="376.20" cy="340.50" r="2.0" fill="#0d4e8e"/>
<circle cx="413.80" cy="336.50" r="2.0" fill="#0d4e8e"/>
<circle cx="376.20" cy="356.00" r="2.0" fill="#0d4e8e"/>
<circle cx="413.80" cy="344.00" r="2.0" fill="#0d4e8e"/>
<line x1="427.20" y1="339.60" x2="463.30" y2="338.50" stroke="#111" stroke-width="1.05"/>
<line x1="427.20" y1="344.60" x2="463.30" y2="346.80" stroke="#111" stroke-width="1.05"/>
<line x1="427.20" y1="360.60" x2="463.30" y2="354.20" stroke="#111" stroke-width="1.05"/>
<line x1="427.20" y1="364.00" x2="463.30" y2="371.00" stroke="#111" stroke-width="1.05"/>
<line x1="427.20" y1="366.00" x2="463.30" y2="372.50" stroke="#111" stroke-width="1.05"/>
<line x1="427.20" y1="368.00" x2="463.30" y2="374.00" stroke="#111" stroke-width="1.05"/>
<line x1="427.20" y1="372.50" x2="463.30" y2="361.90" stroke="#111" stroke-width="1.05"/>
<line x1="427.20" y1="372.50" x2="463.30" y2="381.40" stroke="#111" stroke-width="1.05"/>
<line x1="427.20" y1="379.00" x2="463.30" y2="372.50" stroke="#111" stroke-width="1.05"/>
<line x1="427.20" y1="380.50" x2="463.30" y2="374.00" stroke="#111" stroke-width="1.05"/>
<line x1="427.20" y1="382.00" x2="463.30" y2="371.00" stroke="#111" stroke-width="1.05"/>
<circle cx="427.20" cy="339.60" r="2.0" fill="#33c04a"/>
<circle cx="463.30" cy="338.50" r="2.0" fill="#33c04a"/>
<circle cx="427.20" cy="344.60" r="2.0" fill="#33c04a"/>
<circle cx="463.30" cy="346.80" r="2.0" fill="#33c04a"/>
<circle cx="427.20" cy="360.60" r="2.0" fill="#33c04a"/>
<circle cx="463.30" cy="354.20" r="2.0" fill="#33c04a"/>
<circle cx="427.20" cy="364.00" r="2.0" fill="#33c04a"/>
<circle cx="463.30" cy="371.00" r="2.0" fill="#33c04a"/>
<circle cx="427.20" cy="366.00" r="2.0" fill="#33c04a"/>
<circle cx="463.30" cy="372.50" r="2.0" fill="#33c04a"/>
<circle cx="427.20" cy="368.00" r="2.0" fill="#33c04a"/>
<circle cx="463.30" cy="374.00" r="2.0" fill="#33c04a"/>
<circle cx="427.20" cy="372.50" r="2.0" fill="#33c04a"/>
<circle cx="463.30" cy="361.90" r="2.0" fill="#33c04a"/>
<circle cx="427.20" cy="372.50" r="2.0" fill="#33c04a"/>
<circle cx="463.30" cy="381.40" r="2.0" fill="#33c04a"/>
<circle cx="427.20" cy="379.00" r="2.0" fill="#33c04a"/>
<circle cx="463.30" cy="372.50" r="2.0" fill="#33c04a"/>
<circle cx="427.20" cy="380.50" r="2.0" fill="#33c04a"/>
<circle cx="463.30" cy="374.00" r="2.0" fill="#33c04a"/>
<circle cx="427.20" cy="382.00" r="2.0" fill="#33c04a"/>
<circle cx="463.30" cy="371.00" r="2.0" fill="#33c04a"/>
<text x="357.90" y="420.20" font-size="7.2" text-anchor="end" fill="#1a1a1a" stroke="#1a1a1a" >FXIIa</text>
<text x="379.30" y="420.40" font-size="7.6" text-anchor="middle" fill="#1a1a1a" stroke="#1a1a1a" >–</text>
<text x="410.60" y="420.40" font-size="7.6" text-anchor="middle" fill="#1a1a1a" stroke="#1a1a1a" >+</text>
<text x="428.90" y="420.40" font-size="7.6" text-anchor="middle" fill="#1a1a1a" stroke="#1a1a1a" >–</text>
<text x="462.00" y="420.40" font-size="7.6" text-anchor="middle" fill="#1a1a1a" stroke="#1a1a1a" >+</text>
<line x1="374.30" y1="423.20" x2="418.20" y2="423.20" stroke="#1a1a1a" stroke-width="0.9"/>
<line x1="424.90" y1="423.20" x2="468.20" y2="423.20" stroke="#1a1a1a" stroke-width="0.9"/>
<text x="395.20" y="431.60" font-size="7.6" text-anchor="middle" fill="#1a1a1a" stroke="#1a1a1a" >SARS-CoV2</text>
<text x="445.50" y="431.60" font-size="7.6" text-anchor="middle" fill="#1a1a1a" stroke="#1a1a1a" >Influenza</text>
<text x="7.30" y="487.30" font-size="11.5" text-anchor="start" font-weight="bold" fill="#000" stroke="#000" >E</text>
<text transform="translate(58.80,523.30) rotate(-90)" font-size="8.0" text-anchor="start" fill="#1a1a1a" stroke="#1a1a1a" textLength="40.8" lengthAdjust="spacingAndGlyphs">SARS-CoV2</text>
<text transform="translate(69.60,523.30) rotate(-90)" font-size="8.0" text-anchor="start" fill="#1a1a1a" stroke="#1a1a1a" textLength="28.2" lengthAdjust="spacingAndGlyphs">Influenza</text>
<text transform="translate(180.80,523.30) rotate(-90)" font-size="8.0" text-anchor="start" fill="#1a1a1a" stroke="#1a1a1a" textLength="41.2" lengthAdjust="spacingAndGlyphs">SARS-CoV2</text>
<text transform="translate(190.40,523.30) rotate(-90)" font-size="8.0" text-anchor="start" fill="#1a1a1a" stroke="#1a1a1a" textLength="28.1" lengthAdjust="spacingAndGlyphs">Influenza</text>
<text x="97.10" y="521.30" font-size="7.6" text-anchor="middle" fill="#1a1a1a" stroke="#1a1a1a" >SARS-CoV2</text>
<text x="146.20" y="521.30" font-size="7.6" text-anchor="middle" fill="#1a1a1a" stroke="#1a1a1a" >Influenza</text>
<line x1="75.50" y1="523.90" x2="118.80" y2="523.90" stroke="#1a1a1a" stroke-width="0.9"/>
<line x1="124.50" y1="523.90" x2="167.50" y2="523.90" stroke="#1a1a1a" stroke-width="0.9"/>
<text x="80.30" y="532.50" font-size="7.6" text-anchor="middle" fill="#1a1a1a" stroke="#1a1a1a" >0</text>
<text x="89.90" y="532.50" font-size="7.6" text-anchor="middle" fill="#1a1a1a" stroke="#1a1a1a" >15</text>
<text x="100.40" y="532.50" font-size="7.6" text-anchor="middle" fill="#1a1a1a" stroke="#1a1a1a" >30</text>
<text x="111.50" y="532.50" font-size="7.6" text-anchor="middle" fill="#1a1a1a" stroke="#1a1a1a" >60</text>
<text x="129.30" y="532.50" font-size="7.6" text-anchor="middle" fill="#1a1a1a" stroke="#1a1a1a" >0</text>
<text x="138.40" y="532.50" font-size="7.6" text-anchor="middle" fill="#1a1a1a" stroke="#1a1a1a" >15</text>
<text x="149.30" y="532.50" font-size="7.6" text-anchor="middle" fill="#1a1a1a" stroke="#1a1a1a" >30</text>
<text x="160.10" y="532.50" font-size="7.6" text-anchor="middle" fill="#1a1a1a" stroke="#1a1a1a" >60</text>
<text x="178.10" y="532.50" font-size="7.6" text-anchor="middle" fill="#1a1a1a" stroke="#1a1a1a" >60</text>
<text x="189.30" y="532.50" font-size="7.6" text-anchor="middle" fill="#1a1a1a" stroke="#1a1a1a" >60</text>
<text x="196.00" y="532.50" font-size="7.6" text-anchor="start" fill="#1a1a1a" stroke="#1a1a1a" >min</text>
<text x="48.10" y="540.10" font-size="7.6" text-anchor="end" fill="#1a1a1a" stroke="#1a1a1a" >FXII</text>
<text x="48.10" y="548.50" font-size="7.6" text-anchor="end" fill="#1a1a1a" stroke="#1a1a1a" >CTI</text>
<text x="56.20" y="540.60" font-size="7.6" text-anchor="middle" fill="#1a1a1a" stroke="#1a1a1a" >–</text>
<text x="56.20" y="548.60" font-size="7.6" text-anchor="middle" fill="#1a1a1a" stroke="#1a1a1a" >–</text>
<text x="66.60" y="540.60" font-size="7.6" text-anchor="middle" fill="#1a1a1a" stroke="#1a1a1a" >–</text>
<text x="66.60" y="548.60" font-size="7.6" text-anchor="middle" fill="#1a1a1a" stroke="#1a1a1a" >–</text>
<text x="80.30" y="540.60" font-size="7.6" text-anchor="middle" fill="#1a1a1a" stroke="#1a1a1a" >+</text>
<text x="80.30" y="548.60" font-size="7.6" text-anchor="middle" fill="#1a1a1a" stroke="#1a1a1a" >–</text>
<text x="91.10" y="540.60" font-size="7.6" text-anchor="middle" fill="#1a1a1a" stroke="#1a1a1a" >+</text>
<text x="91.10" y="548.60" font-size="7.6" text-anchor="middle" fill="#1a1a1a" stroke="#1a1a1a" >–</text>
<text x="101.40" y="540.60" font-size="7.6" text-anchor="middle" fill="#1a1a1a" stroke="#1a1a1a" >+</text>
<text x="101.40" y="548.60" font-size="7.6" text-anchor="middle" fill="#1a1a1a" stroke="#1a1a1a" >–</text>
<text x="111.80" y="540.60" font-size="7.6" text-anchor="middle" fill="#1a1a1a" stroke="#1a1a1a" >+</text>
<text x="111.80" y="548.60" font-size="7.6" text-anchor="middle" fill="#1a1a1a" stroke="#1a1a1a" >–</text>
<text x="129.30" y="540.60" font-size="7.6" text-anchor="middle" fill="#1a1a1a" stroke="#1a1a1a" >+</text>
<text x="129.30" y="548.60" font-size="7.6" text-anchor="middle" fill="#1a1a1a" stroke="#1a1a1a" >–</text>
<text x="139.60" y="540.60" font-size="7.6" text-anchor="middle" fill="#1a1a1a" stroke="#1a1a1a" >+</text>
<text x="139.60" y="548.60" font-size="7.6" text-anchor="middle" fill="#1a1a1a" stroke="#1a1a1a" >–</text>
<text x="150.00" y="540.60" font-size="7.6" text-anchor="middle" fill="#1a1a1a" stroke="#1a1a1a" >+</text>
<text x="150.00" y="548.60" font-size="7.6" text-anchor="middle" fill="#1a1a1a" stroke="#1a1a1a" >–</text>
<text x="160.40" y="540.60" font-size="7.6" text-anchor="middle" fill="#1a1a1a" stroke="#1a1a1a" >+</text>
<text x="160.40" y="548.60" font-size="7.6" text-anchor="middle" fill="#1a1a1a" stroke="#1a1a1a" >–</text>
<text x="177.30" y="540.60" font-size="7.6" text-anchor="middle" fill="#1a1a1a" stroke="#1a1a1a" >+</text>
<text x="177.30" y="548.60" font-size="7.6" text-anchor="middle" fill="#1a1a1a" stroke="#1a1a1a" >+</text>
<text x="188.80" y="540.60" font-size="7.6" text-anchor="middle" fill="#1a1a1a" stroke="#1a1a1a" >+</text>
<text x="188.80" y="548.60" font-size="7.6" text-anchor="middle" fill="#1a1a1a" stroke="#1a1a1a" >+</text>
<defs><linearGradient id="blotg" x1="0" y1="0" x2="1" y2="0"><stop offset="0" stop-color="#bcb5aa"/><stop offset="0.1" stop-color="#c6c0b5"/><stop offset="0.35" stop-color="#d4d0c7"/><stop offset="0.6" stop-color="#d3d0c9"/><stop offset="0.85" stop-color="#cac8c2"/><stop offset="1" stop-color="#c2c0ba"/></linearGradient><filter id="bl1" x="-50%" y="-100%" width="200%" height="300%"><feGaussianBlur stdDeviation="0.55"/></filter><filter id="bl2" filterUnits="userSpaceOnUse" x="40" y="540" width="170" height="130"><feGaussianBlur stdDeviation="1.4"/></filter><filter id="bl3" filterUnits="userSpaceOnUse" x="40" y="540" width="170" height="130"><feGaussianBlur stdDeviation="2.2"/></filter><filter id="bl4" filterUnits="userSpaceOnUse" x="40" y="540" width="170" height="130"><feGaussianBlur stdDeviation="4"/></filter><clipPath id="blotclip"><rect x="50.6" y="549.9" width="145.2" height="106.3"/></clipPath></defs>
<g clip-path="url(#blotclip)">
<rect x="50.60" y="549.90" width="145.20" height="106.30" fill="url(#blotg)" />
<path d="M89,558 L99,585 L108,612 L113,630" fill="none" stroke="#b8895a" stroke-width="2.6" opacity="0.4" filter="url(#bl3)"/>
<path d="M99,588 L108,606 L117,625" fill="none" stroke="#b8895a" stroke-width="2" opacity="0.28" filter="url(#bl3)"/>
<path d="M60,556 L60,656" fill="none" stroke="#c0b8aa" stroke-width="4" opacity="0.3" filter="url(#bl2)"/>
<path d="M124,552 L124,656" fill="none" stroke="#c4c0b6" stroke-width="1.5" opacity="0.35" filter="url(#bl2)"/>
<path d="M94,565 L108,565 L120,630 L106,630 Z" fill="#d8b892" opacity="0.22" filter="url(#bl4)"/>
<path d="M140,612 L168,608 L172,656 L138,656 Z" fill="#dcc4a6" opacity="0.22" filter="url(#bl4)"/>
<path d="M135,595 L175,595 L175,635 L135,635 Z" fill="#e4e1da" opacity="0.5" filter="url(#bl4)"/>
<rect x="74.0" y="577.3" width="12.8" height="4.8" rx="3.8" fill="#0a0806" opacity="1.0" filter="url(#bl1)"/>
<rect x="88.0" y="577.9" width="10.0" height="3.0" rx="2.4" fill="#3a2a1c" opacity="0.85" filter="url(#bl1)"/>
<rect x="101.2" y="578.5" width="8.8" height="2.2" rx="1.8" fill="#4a3a2a" opacity="0.35" filter="url(#bl1)"/>
<rect x="124.1" y="577.0" width="12.6" height="5.0" rx="4.0" fill="#0a0806" opacity="1.0" filter="url(#bl1)"/>
<rect x="136.5" y="577.1" width="10.0" height="3.4" rx="2.7" fill="#1a1410" opacity="0.9" filter="url(#bl1)"/>
<rect x="148.7" y="577.4" width="9.6" height="3.0" rx="2.4" fill="#2a2018" opacity="0.8" filter="url(#bl1)"/>
<rect x="160.5" y="577.6" width="9.0" height="2.6" rx="2.1" fill="#3a3028" opacity="0.7" filter="url(#bl1)"/>
<rect x="172.5" y="576.3" width="9.6" height="3.8" rx="3.0" fill="#100c0a" opacity="1.0" filter="url(#bl1)"/>
<rect x="184.3" y="576.1" width="9.4" height="3.2" rx="2.6" fill="#1a1410" opacity="0.95" filter="url(#bl1)"/>
<ellipse cx="166.7" cy="598.6" rx="3.2" ry="1.0" fill="#4a3a2c" opacity="0.6" filter="url(#bl1)"/>
<ellipse cx="80" cy="600.3" rx="2.0" ry="0.8" fill="#555" opacity="0.45" filter="url(#bl1)"/>
<ellipse cx="80.5" cy="606.4" rx="1.8" ry="0.7" fill="#666" opacity="0.35" filter="url(#bl1)"/>
</g>
<rect x="50.8" y="550.1" width="144.9" height="105.9" fill="none" stroke="#222" stroke-width="1.2"/>
<path d="M196.3,577.4 L199.3,575.6 L199.3,579.2 Z" fill="#000"/>
<path d="M196.3,597.9 L199.3,596.1 L199.3,599.7 Z" fill="#000"/>
<text x="201.40" y="580.60" font-size="7.6" text-anchor="start" fill="#1a1a1a" stroke="#1a1a1a" >FXII</text>
<text x="201.40" y="600.60" font-size="7.6" text-anchor="start" fill="#1a1a1a" stroke="#1a1a1a" >FXIIa</text>
<text x="47.80" y="560.90" font-size="8.0" text-anchor="end" fill="#1a1a1a" stroke="#1a1a1a" >130</text>
<text x="47.80" y="574.70" font-size="8.0" text-anchor="end" fill="#1a1a1a" stroke="#1a1a1a" >95</text>
<text x="47.80" y="587.70" font-size="8.0" text-anchor="end" fill="#1a1a1a" stroke="#1a1a1a" >72</text>
<text x="47.80" y="599.90" font-size="8.0" text-anchor="end" fill="#1a1a1a" stroke="#1a1a1a" >55</text>
<text x="47.80" y="612.80" font-size="8.0" text-anchor="end" fill="#1a1a1a" stroke="#1a1a1a" >43</text>
<text x="47.80" y="625.30" font-size="8.0" text-anchor="end" fill="#1a1a1a" stroke="#1a1a1a" >34</text>
<text x="47.80" y="641.90" font-size="8.0" text-anchor="end" fill="#1a1a1a" stroke="#1a1a1a" >26</text>
<text x="47.80" y="655.30" font-size="8.0" text-anchor="end" fill="#1a1a1a" stroke="#1a1a1a" >17</text>
<text x="47.60" y="664.40" font-size="7.6" text-anchor="end" fill="#1a1a1a" stroke="#1a1a1a" >kDa</text>
<line x1="32.00" y1="557.30" x2="32.00" y2="653.10" stroke="#333" stroke-width="1.3"/>
<text transform="translate(26.00,604.00) rotate(-90)" font-size="8.6" text-anchor="middle" fill="#1a1a1a" stroke="#1a1a1a" textLength="36.1" lengthAdjust="spacingAndGlyphs" style="stroke-width:0.35px">FXII antibody</text>
<text x="241.20" y="487.50" font-size="11.5" text-anchor="start" font-weight="bold" fill="#000" stroke="#000" >F</text>
<line x1="273.40" y1="501.80" x2="273.40" y2="638.60" stroke="#1a1a1a" stroke-width="1.4"/>
<line x1="270.20" y1="638.00" x2="273.40" y2="638.00" stroke="#1a1a1a" stroke-width="1.1"/>
<text x="267.40" y="640.60" font-size="8.0" text-anchor="end" fill="#1a1a1a" stroke="#1a1a1a" >0</text>
<line x1="270.20" y1="612.09" x2="273.40" y2="612.09" stroke="#1a1a1a" stroke-width="1.1"/>
<text x="267.40" y="614.69" font-size="8.0" text-anchor="end" fill="#1a1a1a" stroke="#1a1a1a" >20</text>
<line x1="270.20" y1="586.18" x2="273.40" y2="586.18" stroke="#1a1a1a" stroke-width="1.1"/>
<text x="267.40" y="588.78" font-size="8.0" text-anchor="end" fill="#1a1a1a" stroke="#1a1a1a" >40</text>
<line x1="270.20" y1="560.27" x2="273.40" y2="560.27" stroke="#1a1a1a" stroke-width="1.1"/>
<text x="267.40" y="562.87" font-size="8.0" text-anchor="end" fill="#1a1a1a" stroke="#1a1a1a" >60</text>
<line x1="270.20" y1="534.36" x2="273.40" y2="534.36" stroke="#1a1a1a" stroke-width="1.1"/>
<text x="267.40" y="536.96" font-size="8.0" text-anchor="end" fill="#1a1a1a" stroke="#1a1a1a" >80</text>
<line x1="270.20" y1="508.45" x2="273.40" y2="508.45" stroke="#1a1a1a" stroke-width="1.1"/>
<text x="267.40" y="511.05" font-size="8.0" text-anchor="end" fill="#1a1a1a" stroke="#1a1a1a" >100</text>
<line x1="270.60" y1="638.00" x2="344.10" y2="638.00" stroke="#1a1a1a" stroke-width="1.5"/>
<text transform="translate(248.40,569.90) rotate(-90)" font-size="9.0" text-anchor="middle" fill="#1a1a1a" stroke="#1a1a1a" textLength="55.2" lengthAdjust="spacingAndGlyphs" style="stroke-width:0.35px">% of FXII remaining</text>
<line x1="286.70" y1="564.30" x2="286.70" y2="603.30" stroke="#4a4a4a" stroke-width="1.3"/>
<line x1="285.40" y1="564.30" x2="288.00" y2="564.30" stroke="#222" stroke-width="1.2"/>
<line x1="285.40" y1="603.30" x2="288.00" y2="603.30" stroke="#222" stroke-width="1.2"/>
<line x1="294.40" y1="605.90" x2="294.40" y2="631.40" stroke="#4a4a4a" stroke-width="1.3"/>
<line x1="293.10" y1="605.90" x2="295.70" y2="605.90" stroke="#222" stroke-width="1.2"/>
<line x1="293.10" y1="631.40" x2="295.70" y2="631.40" stroke="#222" stroke-width="1.2"/>
<line x1="301.50" y1="625.10" x2="301.50" y2="638.00" stroke="#4a4a4a" stroke-width="1.3"/>
<line x1="300.20" y1="625.10" x2="302.80" y2="625.10" stroke="#222" stroke-width="1.2"/>
<line x1="300.20" y1="638.00" x2="302.80" y2="638.00" stroke="#222" stroke-width="1.2"/>
<line x1="320.80" y1="520.10" x2="320.80" y2="572.10" stroke="#4a4a4a" stroke-width="1.3"/>
<line x1="319.50" y1="520.10" x2="322.10" y2="520.10" stroke="#222" stroke-width="1.2"/>
<line x1="319.50" y1="572.10" x2="322.10" y2="572.10" stroke="#222" stroke-width="1.2"/>
<line x1="328.30" y1="548.70" x2="328.30" y2="587.40" stroke="#4a4a4a" stroke-width="1.3"/>
<line x1="327.00" y1="548.70" x2="329.60" y2="548.70" stroke="#222" stroke-width="1.2"/>
<line x1="327.00" y1="587.40" x2="329.60" y2="587.40" stroke="#222" stroke-width="1.2"/>
<line x1="335.70" y1="560.50" x2="335.70" y2="612.20" stroke="#4a4a4a" stroke-width="1.3"/>
<line x1="334.40" y1="560.50" x2="337.00" y2="560.50" stroke="#222" stroke-width="1.2"/>
<line x1="334.40" y1="612.20" x2="337.00" y2="612.20" stroke="#222" stroke-width="1.2"/>
<circle cx="286.70" cy="561.00" r="0.9" fill="#222"/>
<circle cx="294.30" cy="602.80" r="0.9" fill="#222"/>
<circle cx="301.60" cy="621.80" r="0.9" fill="#222"/>
<circle cx="279.20" cy="508.70" r="2.0" fill="#0d4e8e"/>
<circle cx="313.80" cy="508.80" r="2.0" fill="#33c04a"/>
<rect x="284.6" y="581.8" width="4.6" height="4.4" rx="0.8" fill="#0d4e8e"/>
<path d="M294.4,616.4 L297.3,621.9 L291.5,621.9 Z" fill="#0d4e8e"/>
<path d="M301.5,633.2 L304.3,628.4 L298.7,628.4 Z" fill="#0d4e8e"/>
<path d="M301.50,628.20 L303.59,631.80 L299.41,631.80 Z M301.50,633.00 L299.41,629.40 L303.59,629.40 Z" fill="#0d4e8e"/>
<circle cx="320.80" cy="546.40" r="2.3" fill="#33c04a"/>
<path d="M328.30,566.40 L330.65,570.45 L325.95,570.45 Z M328.30,571.80 L325.95,567.75 L330.65,567.75 Z" fill="#33c04a"/>
<path d="M335.70,582.70 L338.05,586.75 L333.35,586.75 Z M335.70,588.10 L333.35,584.05 L338.05,584.05 Z" fill="#33c04a"/>
<text x="274.30" y="646.80" font-size="6.2" text-anchor="end" fill="#1a1a1a" stroke="#1a1a1a" >min</text>
<text x="277.00" y="646.80" font-size="6.9" text-anchor="middle" fill="#1a1a1a" stroke="#1a1a1a" >0</text>
<text x="285.60" y="646.80" font-size="6.9" text-anchor="middle" fill="#1a1a1a" stroke="#1a1a1a" >15</text>
<text x="294.90" y="646.80" font-size="6.9" text-anchor="middle" fill="#1a1a1a" stroke="#1a1a1a" >30</text>
<text x="304.20" y="646.80" font-size="6.9" text-anchor="middle" fill="#1a1a1a" stroke="#1a1a1a" >60</text>
<text x="313.60" y="646.80" font-size="6.9" text-anchor="middle" fill="#1a1a1a" stroke="#1a1a1a" >0</text>
<text x="321.80" y="646.80" font-size="6.9" text-anchor="middle" fill="#1a1a1a" stroke="#1a1a1a" >15</text>
<text x="331.40" y="646.80" font-size="6.9" text-anchor="middle" fill="#1a1a1a" stroke="#1a1a1a" >30</text>
<text x="340.80" y="646.80" font-size="6.9" text-anchor="middle" fill="#1a1a1a" stroke="#1a1a1a" >60</text>
<line x1="276.60" y1="650.60" x2="306.90" y2="650.60" stroke="#1a1a1a" stroke-width="0.9"/>
<line x1="313.50" y1="650.60" x2="343.20" y2="650.60" stroke="#1a1a1a" stroke-width="0.9"/>
<text x="286.40" y="659.00" font-size="7.6" text-anchor="middle" fill="#1a1a1a" stroke="#1a1a1a" >SARS-CoV2</text>
<text x="328.10" y="659.00" font-size="7.6" text-anchor="middle" fill="#1a1a1a" stroke="#1a1a1a" >Influenza</text>
<text x="398.00" y="487.00" font-size="11.5" text-anchor="start" font-weight="bold" fill="#000" stroke="#000" >G</text>
<line x1="428.30" y1="489.60" x2="428.30" y2="624.80" stroke="#1a1a1a" stroke-width="1.4"/>
<line x1="425.10" y1="624.20" x2="428.30" y2="624.20" stroke="#1a1a1a" stroke-width="1.1"/>
<text x="423.00" y="626.80" font-size="8.0" text-anchor="end" fill="#1a1a1a" stroke="#1a1a1a" >0</text>
<line x1="425.10" y1="597.96" x2="428.30" y2="597.96" stroke="#1a1a1a" stroke-width="1.1"/>
<text x="423.00" y="600.56" font-size="8.0" text-anchor="end" fill="#1a1a1a" stroke="#1a1a1a" >0.2</text>
<line x1="425.10" y1="571.72" x2="428.30" y2="571.72" stroke="#1a1a1a" stroke-width="1.1"/>
<text x="423.00" y="574.32" font-size="8.0" text-anchor="end" fill="#1a1a1a" stroke="#1a1a1a" >0.4</text>
<line x1="425.10" y1="545.48" x2="428.30" y2="545.48" stroke="#1a1a1a" stroke-width="1.1"/>
<text x="423.00" y="548.08" font-size="8.0" text-anchor="end" fill="#1a1a1a" stroke="#1a1a1a" >0.6</text>
<line x1="425.10" y1="519.24" x2="428.30" y2="519.24" stroke="#1a1a1a" stroke-width="1.1"/>
<text x="423.00" y="521.84" font-size="8.0" text-anchor="end" fill="#1a1a1a" stroke="#1a1a1a" >0.8</text>
<line x1="425.10" y1="493.00" x2="428.30" y2="493.00" stroke="#1a1a1a" stroke-width="1.1"/>
<text x="423.00" y="495.60" font-size="8.0" text-anchor="end" fill="#1a1a1a" stroke="#1a1a1a" >1.0</text>
<line x1="427.80" y1="624.20" x2="513.20" y2="624.20" stroke="#1a1a1a" stroke-width="1.1"/>
<text transform="translate(405.50,562.00) rotate(-90)" font-size="8.4" text-anchor="middle" fill="#1a1a1a" stroke="#1a1a1a" textLength="61.9" lengthAdjust="spacingAndGlyphs" style="stroke-width:0.35px">Max turbidity (Abs<tspan font-size="5.6" dy="1.8">405</tspan><tspan dy="-1.8">)</tspan></text>
<rect x="431.90" y="598.80" width="14.10" height="25.40" fill="#df8596" />
<line x1="438.95" y1="624.20" x2="438.95" y2="626.40" stroke="#1a1a1a" stroke-width="0.9"/>
<rect x="453.00" y="557.80" width="14.10" height="66.40" fill="#86a7c1" />
<line x1="460.05" y1="624.20" x2="460.05" y2="626.40" stroke="#1a1a1a" stroke-width="0.9"/>
<rect x="474.20" y="529.80" width="14.10" height="94.40" fill="#9edaa4" />
<line x1="481.25" y1="624.20" x2="481.25" y2="626.40" stroke="#1a1a1a" stroke-width="0.9"/>
<rect x="495.20" y="551.00" width="14.10" height="73.20" fill="#ab91b9" />
<line x1="502.25" y1="624.20" x2="502.25" y2="626.40" stroke="#1a1a1a" stroke-width="0.9"/>
<circle cx="438.90" cy="579.60" r="2.25" fill="#d00a32"/>
<circle cx="434.50" cy="596.00" r="2.25" fill="#d00a32"/>
<circle cx="438.50" cy="594.00" r="2.25" fill="#d00a32"/>
<circle cx="443.00" cy="596.50" r="2.25" fill="#d00a32"/>
<circle cx="435.00" cy="599.50" r="2.25" fill="#d00a32"/>
<circle cx="443.50" cy="600.00" r="2.25" fill="#d00a32"/>
<circle cx="434.00" cy="603.50" r="2.25" fill="#d00a32"/>
<circle cx="437.00" cy="605.50" r="2.25" fill="#d00a32"/>
<circle cx="441.00" cy="606.00" r="2.25" fill="#d00a32"/>
<circle cx="444.50" cy="604.00" r="2.25" fill="#d00a32"/>
<circle cx="439.00" cy="607.50" r="2.25" fill="#d00a32"/>
<circle cx="436.50" cy="601.50" r="2.25" fill="#d00a32"/>
<circle cx="441.50" cy="602.50" r="2.25" fill="#d00a32"/>
<circle cx="439.50" cy="598.00" r="2.25" fill="#d00a32"/>
<circle cx="457.20" cy="535.50" r="2.25" fill="#0d4e8e"/>
<circle cx="462.50" cy="533.30" r="2.25" fill="#0d4e8e"/>
<circle cx="460.00" cy="544.40" r="2.25" fill="#0d4e8e"/>
<circle cx="460.00" cy="550.80" r="2.25" fill="#0d4e8e"/>
<circle cx="455.50" cy="555.00" r="2.25" fill="#0d4e8e"/>
<circle cx="458.00" cy="553.50" r="2.25" fill="#0d4e8e"/>
<circle cx="463.00" cy="555.00" r="2.25" fill="#0d4e8e"/>
<circle cx="465.00" cy="556.00" r="2.25" fill="#0d4e8e"/>
<circle cx="457.50" cy="558.50" r="2.25" fill="#0d4e8e"/>
<circle cx="462.50" cy="559.00" r="2.25" fill="#0d4e8e"/>
<circle cx="463.00" cy="565.90" r="2.25" fill="#0d4e8e"/>
<circle cx="455.50" cy="568.00" r="2.25" fill="#0d4e8e"/>
<circle cx="458.00" cy="571.50" r="2.25" fill="#0d4e8e"/>
<circle cx="462.50" cy="575.20" r="2.25" fill="#0d4e8e"/>
<circle cx="460.00" cy="581.90" r="2.25" fill="#0d4e8e"/>
<circle cx="476.50" cy="517.00" r="2.25" fill="#33c04a"/>
<circle cx="479.00" cy="516.00" r="2.25" fill="#33c04a"/>
<circle cx="483.00" cy="517.00" r="2.25" fill="#33c04a"/>
<circle cx="486.00" cy="520.00" r="2.25" fill="#33c04a"/>
<circle cx="478.00" cy="520.50" r="2.25" fill="#33c04a"/>
<circle cx="481.50" cy="522.00" r="2.25" fill="#33c04a"/>
<circle cx="484.00" cy="523.00" r="2.25" fill="#33c04a"/>
<circle cx="480.00" cy="524.00" r="2.25" fill="#33c04a"/>
<circle cx="487.00" cy="518.50" r="2.25" fill="#33c04a"/>
<circle cx="481.00" cy="534.30" r="2.25" fill="#33c04a"/>
<circle cx="475.50" cy="542.50" r="2.25" fill="#33c04a"/>
<circle cx="487.00" cy="542.90" r="2.25" fill="#33c04a"/>
<circle cx="479.50" cy="545.40" r="2.25" fill="#33c04a"/>
<circle cx="483.50" cy="547.10" r="2.25" fill="#33c04a"/>
<circle cx="481.00" cy="556.70" r="2.25" fill="#33c04a"/>
<circle cx="497.80" cy="534.50" r="2.25" fill="#5b1c78"/>
<circle cx="502.50" cy="534.50" r="2.25" fill="#5b1c78"/>
<circle cx="506.50" cy="534.50" r="2.25" fill="#5b1c78"/>
<circle cx="497.00" cy="545.60" r="2.25" fill="#5b1c78"/>
<circle cx="500.50" cy="546.00" r="2.25" fill="#5b1c78"/>
<circle cx="504.50" cy="546.00" r="2.25" fill="#5b1c78"/>
<circle cx="509.00" cy="545.60" r="2.25" fill="#5b1c78"/>
<circle cx="497.00" cy="551.50" r="2.25" fill="#5b1c78"/>
<circle cx="501.00" cy="551.50" r="2.25" fill="#5b1c78"/>
<circle cx="505.50" cy="551.50" r="2.25" fill="#5b1c78"/>
<circle cx="508.00" cy="550.50" r="2.25" fill="#5b1c78"/>
<circle cx="500.50" cy="554.20" r="2.25" fill="#5b1c78"/>
<circle cx="507.00" cy="559.20" r="2.25" fill="#5b1c78"/>
<circle cx="497.50" cy="564.10" r="2.25" fill="#5b1c78"/>
<circle cx="502.00" cy="564.50" r="2.25" fill="#5b1c78"/>
<circle cx="502.50" cy="572.70" r="2.25" fill="#5b1c78"/>
<line x1="439.20" y1="591.50" x2="439.20" y2="606.40" stroke="#1a1a1a" stroke-width="1.15"/>
<line x1="436.00" y1="591.50" x2="442.40" y2="591.50" stroke="#1a1a1a" stroke-width="1.15"/>
<line x1="436.00" y1="606.40" x2="442.40" y2="606.40" stroke="#1a1a1a" stroke-width="1.15"/>
<line x1="460.00" y1="544.60" x2="460.00" y2="571.50" stroke="#1a1a1a" stroke-width="1.15"/>
<line x1="456.80" y1="544.60" x2="463.20" y2="544.60" stroke="#1a1a1a" stroke-width="1.15"/>
<line x1="456.80" y1="571.50" x2="463.20" y2="571.50" stroke="#1a1a1a" stroke-width="1.15"/>
<line x1="481.20" y1="515.80" x2="481.20" y2="543.40" stroke="#1a1a1a" stroke-width="1.15"/>
<line x1="478.00" y1="515.80" x2="484.40" y2="515.80" stroke="#1a1a1a" stroke-width="1.15"/>
<line x1="478.00" y1="543.40" x2="484.40" y2="543.40" stroke="#1a1a1a" stroke-width="1.15"/>
<line x1="502.50" y1="539.50" x2="502.50" y2="561.60" stroke="#1a1a1a" stroke-width="1.15"/>
<line x1="499.30" y1="539.50" x2="505.70" y2="539.50" stroke="#1a1a1a" stroke-width="1.15"/>
<line x1="499.30" y1="561.60" x2="505.70" y2="561.60" stroke="#1a1a1a" stroke-width="1.15"/>
<path d="M438.70,505.30 V501.70 H480.50 V505.30" fill="none" stroke="#1a1a1a" stroke-width="1.15"/>
<circle cx="456.95" cy="497.60" r="0.95" fill="#1a1a1a"/>
<circle cx="459.80" cy="497.60" r="0.95" fill="#1a1a1a"/>
<circle cx="462.65" cy="497.60" r="0.95" fill="#1a1a1a"/>
<path d="M459.40,513.50 V509.90 H479.80 V513.50" fill="none" stroke="#1a1a1a" stroke-width="1.15"/>
<circle cx="467.97" cy="506.00" r="0.95" fill="#1a1a1a"/>
<circle cx="470.82" cy="506.00" r="0.95" fill="#1a1a1a"/>
<path d="M481.60,513.50 V509.90 H500.90 V513.50" fill="none" stroke="#1a1a1a" stroke-width="1.15"/>
<circle cx="490.90" cy="506.00" r="0.95" fill="#1a1a1a"/>
<path d="M438.70,531.70 V528.10 H459.10 V531.70" fill="none" stroke="#1a1a1a" stroke-width="1.15"/>
<circle cx="447.55" cy="524.10" r="0.95" fill="#1a1a1a"/>
<circle cx="450.40" cy="524.10" r="0.95" fill="#1a1a1a"/>
<circle cx="453.25" cy="524.10" r="0.95" fill="#1a1a1a"/>
<text x="432.30" y="635.40" font-size="7.6" text-anchor="end" fill="#1a1a1a" stroke="#1a1a1a" >SARS-CoV2-hirudin</text>
<text x="432.30" y="644.60" font-size="7.6" text-anchor="end" fill="#1a1a1a" stroke="#1a1a1a" >Batroxobin</text>
<text x="432.30" y="654.30" font-size="7.6" text-anchor="end" fill="#1a1a1a" stroke="#1a1a1a" >FXIIa</text>
<text x="432.30" y="665.60" font-size="7.6" text-anchor="end" fill="#1a1a1a" stroke="#1a1a1a" >CTI</text>
<text x="438.95" y="635.60" font-size="7.6" text-anchor="middle" fill="#1a1a1a" stroke="#1a1a1a" >+</text>
<text x="460.05" y="635.60" font-size="7.6" text-anchor="middle" fill="#1a1a1a" stroke="#1a1a1a" >+</text>
<text x="481.25" y="635.60" font-size="7.6" text-anchor="middle" fill="#1a1a1a" stroke="#1a1a1a" >+</text>
<text x="502.25" y="635.60" font-size="7.6" text-anchor="middle" fill="#1a1a1a" stroke="#1a1a1a" >+</text>
<text x="438.95" y="644.80" font-size="7.6" text-anchor="middle" fill="#1a1a1a" stroke="#1a1a1a" >–</text>
<text x="460.05" y="644.80" font-size="7.6" text-anchor="middle" fill="#1a1a1a" stroke="#1a1a1a" >+</text>
<text x="481.25" y="644.80" font-size="7.6" text-anchor="middle" fill="#1a1a1a" stroke="#1a1a1a" >+</text>
<text x="502.25" y="644.80" font-size="7.6" text-anchor="middle" fill="#1a1a1a" stroke="#1a1a1a" >+</text>
<text x="438.95" y="654.50" font-size="7.6" text-anchor="middle" fill="#1a1a1a" stroke="#1a1a1a" >–</text>
<text x="460.05" y="654.50" font-size="7.6" text-anchor="middle" fill="#1a1a1a" stroke="#1a1a1a" >–</text>
<text x="481.25" y="654.50" font-size="7.6" text-anchor="middle" fill="#1a1a1a" stroke="#1a1a1a" >+</text>
<text x="502.25" y="654.50" font-size="7.6" text-anchor="middle" fill="#1a1a1a" stroke="#1a1a1a" >+</text>
<text x="438.95" y="665.80" font-size="7.6" text-anchor="middle" fill="#1a1a1a" stroke="#1a1a1a" >–</text>
<text x="460.05" y="665.80" font-size="7.6" text-anchor="middle" fill="#1a1a1a" stroke="#1a1a1a" >–</text>
<text x="481.25" y="665.80" font-size="7.6" text-anchor="middle" fill="#1a1a1a" stroke="#1a1a1a" >–</text>
<text x="502.25" y="665.80" font-size="7.6" text-anchor="middle" fill="#1a1a1a" stroke="#1a1a1a" >+</text>
<rect x="0.5" y="0.5" width="519" height="672" fill="none" stroke="#000" stroke-width="1"/>
</svg></div></body></html>
